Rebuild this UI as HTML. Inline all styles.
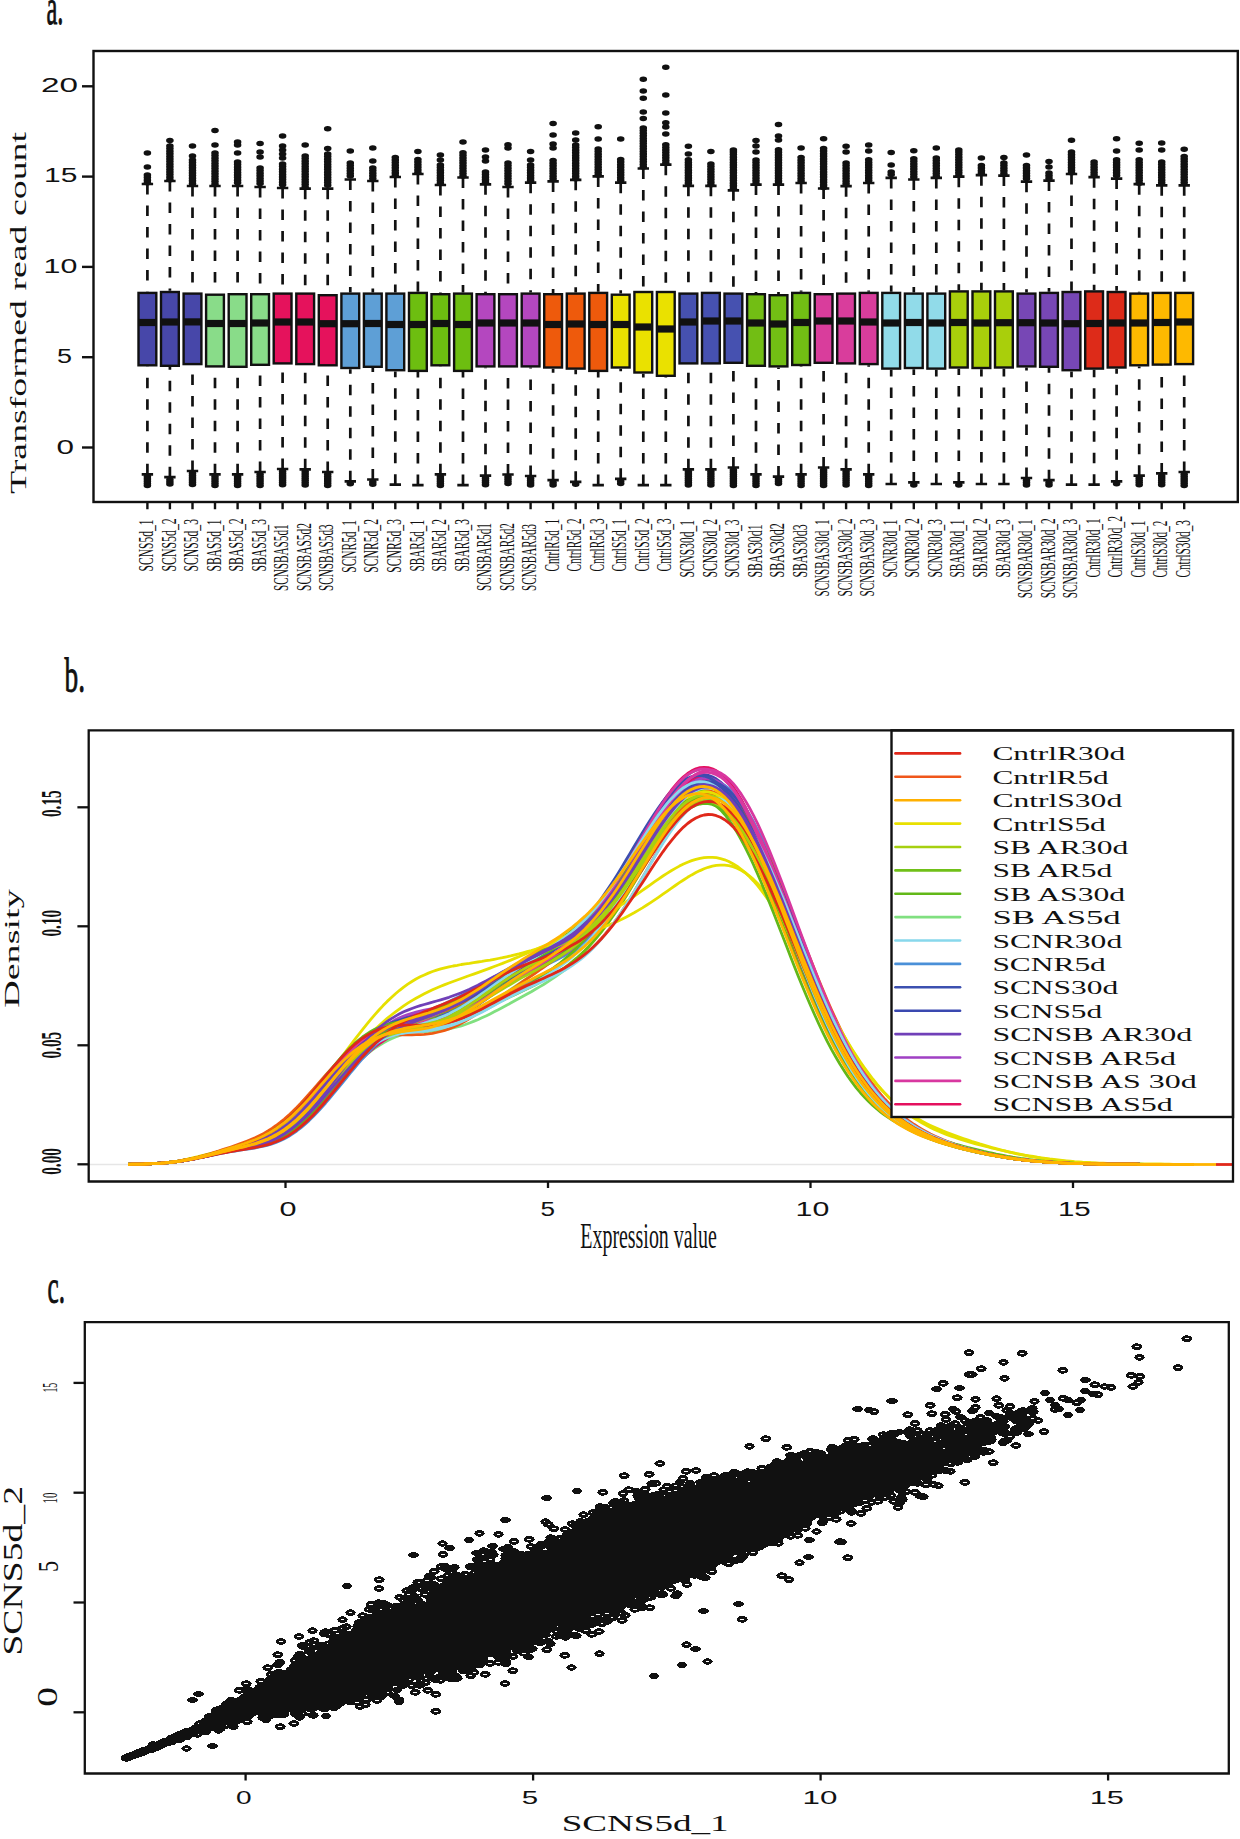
<!DOCTYPE html><html><head><meta charset="utf-8"><style>html,body{margin:0;padding:0;background:#fff;}svg{display:block}.s{font-family:"Liberation Serif",serif;fill:#111}.t{font-family:"Liberation Sans",sans-serif;fill:#111}</style></head><body><svg width="1240" height="1839" viewBox="0 0 1240 1839"><g id="pa"><rect x="93.5" y="51" width="1144.3" height="451" fill="none" stroke="#111" stroke-width="2.4"/><line x1="82" y1="447.5" x2="93.5" y2="447.5" stroke="#111" stroke-width="2.4"/><line x1="82" y1="357.2" x2="93.5" y2="357.2" stroke="#111" stroke-width="2.4"/><line x1="82" y1="266.9" x2="93.5" y2="266.9" stroke="#111" stroke-width="2.4"/><line x1="82" y1="176.6" x2="93.5" y2="176.6" stroke="#111" stroke-width="2.4"/><line x1="82" y1="86.3" x2="93.5" y2="86.3" stroke="#111" stroke-width="2.4"/><path d="M147.4 184V291.7M147.4 474.3V366.5M169.9 181V290.8M169.9 477.2V367M192.5 186V292.4M192.5 471V365.3M215 186V293.5M215 474.3V367.6M237.6 186V293M237.6 474.3V368M260.1 187V293M260.1 472V366M282.6 188V292.4M282.6 469V364.6M305.2 188.7V292.4M305.2 469.3V365.3M327.7 188.7V294M327.7 472V366.5M350.3 179.5V292.4M350.3 481.3V369.2M372.8 181V292.4M372.8 479.5V368M395.3 177V292.4M395.3 484.7V371.4M417.9 174V291.7M417.9 485.1V372.1M440.4 185V293M440.4 474.3V366.5M463 177.5V292.4M463 485.1V372.1M485.5 184.3V293M485.5 475.7V367.6M508 187V293M508 474.5V367.6M530.6 182.7V292.4M530.6 476V367.6M553.1 181.4V293M553.1 480.2V368.7M575.7 179.8V292.4M575.7 481.8V369.8M598.2 176.4V291.7M598.2 485.1V372.1M620.7 182.7V293.5M620.7 478.8V368.7M643.3 168.5V290.8M643.3 485.1V373.7M665.8 164.7V290.8M665.8 485.1V377M688.4 185.8V292.4M688.4 469.3V364.6M710.9 185.8V291.7M710.9 469.3V364.6M733.4 190.3V292.4M733.4 467.5V364M756 184.6V293M756 474.3V367M778.5 184.6V294M778.5 476.6V367.6M801.1 183V291.7M801.1 474.3V366.2M823.6 188.5V293M823.6 467.5V364M846.1 186.2V292.4M846.1 469.3V364.6M868.7 183V291.7M868.7 474.3V365.3M891.2 177.9V291.7M891.2 484V369.8M913.8 179.5V292.4M913.8 482.4V369.2M936.3 177.9V292.4M936.3 484V369.8M958.8 176.7V290.2M958.8 482.4V368.7M981.4 175.2V290.2M981.4 484V369.2M1003.9 175.6V290.2M1003.9 484V368.7M1026.5 181.7V292.4M1026.5 478V367.6M1049 180.6V291.7M1049 480.2V368M1071.5 174V290.8M1071.5 484.7V371.4M1094.1 177.2V290.2M1094.1 484.7V369.8M1116.6 178.6V290.8M1116.6 481.3V368.7M1139.2 184.2V292.4M1139.2 475.7V366.5M1161.7 185.3V291.7M1161.7 473.4V365.8M1184.2 185.3V291.7M1184.2 472V365.3" stroke="#111" stroke-width="2.7" stroke-dasharray="10.5 11" fill="none"/><path d="M141.7 184H153.1M141.7 474.3H153.1M164.2 181H175.6M164.2 477.2H175.6M186.8 186H198.2M186.8 471H198.2M209.3 186H220.7M209.3 474.3H220.7M231.9 186H243.3M231.9 474.3H243.3M254.4 187H265.8M254.4 472H265.8M276.9 188H288.3M276.9 469H288.3M299.5 188.7H310.9M299.5 469.3H310.9M322 188.7H333.4M322 472H333.4M344.6 179.5H356M344.6 481.3H356M367.1 181H378.5M367.1 479.5H378.5M389.6 177H401M389.6 484.7H401M412.2 174H423.6M412.2 485.1H423.6M434.7 185H446.1M434.7 474.3H446.1M457.3 177.5H468.7M457.3 485.1H468.7M479.8 184.3H491.2M479.8 475.7H491.2M502.3 187H513.7M502.3 474.5H513.7M524.9 182.7H536.3M524.9 476H536.3M547.4 181.4H558.8M547.4 480.2H558.8M570 179.8H581.4M570 481.8H581.4M592.5 176.4H603.9M592.5 485.1H603.9M615 182.7H626.4M615 478.8H626.4M637.6 168.5H649M637.6 485.1H649M660.1 164.7H671.5M660.1 485.1H671.5M682.7 185.8H694.1M682.7 469.3H694.1M705.2 185.8H716.6M705.2 469.3H716.6M727.7 190.3H739.1M727.7 467.5H739.1M750.3 184.6H761.7M750.3 474.3H761.7M772.8 184.6H784.2M772.8 476.6H784.2M795.4 183H806.8M795.4 474.3H806.8M817.9 188.5H829.3M817.9 467.5H829.3M840.4 186.2H851.8M840.4 469.3H851.8M863 183H874.4M863 474.3H874.4M885.5 177.9H896.9M885.5 484H896.9M908.1 179.5H919.5M908.1 482.4H919.5M930.6 177.9H942M930.6 484H942M953.1 176.7H964.5M953.1 482.4H964.5M975.7 175.2H987.1M975.7 484H987.1M998.2 175.6H1009.6M998.2 484H1009.6M1020.8 181.7H1032.2M1020.8 478H1032.2M1043.3 180.6H1054.7M1043.3 480.2H1054.7M1065.8 174H1077.2M1065.8 484.7H1077.2M1088.4 177.2H1099.8M1088.4 484.7H1099.8M1110.9 178.6H1122.3M1110.9 481.3H1122.3M1133.5 184.2H1144.9M1133.5 475.7H1144.9M1156 185.3H1167.4M1156 473.4H1167.4M1178.5 185.3H1189.9M1178.5 472H1189.9" stroke="#111" stroke-width="2.7" fill="none"/><path fill="#111" d="M143.6 153a3.8 2.75 0 1 0 7.6 0a3.8 2.75 0 1 0 -7.6 0zM143.6 167a3.8 2.75 0 1 0 7.6 0a3.8 2.75 0 1 0 -7.6 0zM143.6 175a3.8 2.75 0 1 0 7.6 0a3.8 2.75 0 1 0 -7.6 0zM143.6 177.6a3.8 2.75 0 1 0 7.6 0a3.8 2.75 0 1 0 -7.6 0zM143.6 180.2a3.8 2.75 0 1 0 7.6 0a3.8 2.75 0 1 0 -7.6 0zM143.6 182.8a3.8 2.75 0 1 0 7.6 0a3.8 2.75 0 1 0 -7.6 0zM143.6 476.8a3.8 2.75 0 1 0 7.6 0a3.8 2.75 0 1 0 -7.6 0zM143.6 479a3.8 2.75 0 1 0 7.6 0a3.8 2.75 0 1 0 -7.6 0zM143.6 481.2a3.8 2.75 0 1 0 7.6 0a3.8 2.75 0 1 0 -7.6 0zM143.6 483.4a3.8 2.75 0 1 0 7.6 0a3.8 2.75 0 1 0 -7.6 0zM143.6 485.6a3.8 2.75 0 1 0 7.6 0a3.8 2.75 0 1 0 -7.6 0zM166.1 140.6a3.8 2.75 0 1 0 7.6 0a3.8 2.75 0 1 0 -7.6 0zM166.1 146a3.8 2.75 0 1 0 7.6 0a3.8 2.75 0 1 0 -7.6 0zM166.1 148.6a3.8 2.75 0 1 0 7.6 0a3.8 2.75 0 1 0 -7.6 0zM166.1 151.2a3.8 2.75 0 1 0 7.6 0a3.8 2.75 0 1 0 -7.6 0zM166.1 153.8a3.8 2.75 0 1 0 7.6 0a3.8 2.75 0 1 0 -7.6 0zM166.1 156.4a3.8 2.75 0 1 0 7.6 0a3.8 2.75 0 1 0 -7.6 0zM166.1 159a3.8 2.75 0 1 0 7.6 0a3.8 2.75 0 1 0 -7.6 0zM166.1 161.6a3.8 2.75 0 1 0 7.6 0a3.8 2.75 0 1 0 -7.6 0zM166.1 164.2a3.8 2.75 0 1 0 7.6 0a3.8 2.75 0 1 0 -7.6 0zM166.1 166.8a3.8 2.75 0 1 0 7.6 0a3.8 2.75 0 1 0 -7.6 0zM166.1 169.4a3.8 2.75 0 1 0 7.6 0a3.8 2.75 0 1 0 -7.6 0zM166.1 172a3.8 2.75 0 1 0 7.6 0a3.8 2.75 0 1 0 -7.6 0zM166.1 174.6a3.8 2.75 0 1 0 7.6 0a3.8 2.75 0 1 0 -7.6 0zM166.1 177.2a3.8 2.75 0 1 0 7.6 0a3.8 2.75 0 1 0 -7.6 0zM166.1 179.8a3.8 2.75 0 1 0 7.6 0a3.8 2.75 0 1 0 -7.6 0zM166.1 479.7a3.8 2.75 0 1 0 7.6 0a3.8 2.75 0 1 0 -7.6 0zM166.1 481.9a3.8 2.75 0 1 0 7.6 0a3.8 2.75 0 1 0 -7.6 0zM166.1 484.1a3.8 2.75 0 1 0 7.6 0a3.8 2.75 0 1 0 -7.6 0zM188.7 146a3.8 2.75 0 1 0 7.6 0a3.8 2.75 0 1 0 -7.6 0zM188.7 156a3.8 2.75 0 1 0 7.6 0a3.8 2.75 0 1 0 -7.6 0zM188.7 160a3.8 2.75 0 1 0 7.6 0a3.8 2.75 0 1 0 -7.6 0zM188.7 162.6a3.8 2.75 0 1 0 7.6 0a3.8 2.75 0 1 0 -7.6 0zM188.7 165.2a3.8 2.75 0 1 0 7.6 0a3.8 2.75 0 1 0 -7.6 0zM188.7 167.8a3.8 2.75 0 1 0 7.6 0a3.8 2.75 0 1 0 -7.6 0zM188.7 170.4a3.8 2.75 0 1 0 7.6 0a3.8 2.75 0 1 0 -7.6 0zM188.7 173a3.8 2.75 0 1 0 7.6 0a3.8 2.75 0 1 0 -7.6 0zM188.7 175.6a3.8 2.75 0 1 0 7.6 0a3.8 2.75 0 1 0 -7.6 0zM188.7 178.2a3.8 2.75 0 1 0 7.6 0a3.8 2.75 0 1 0 -7.6 0zM188.7 180.8a3.8 2.75 0 1 0 7.6 0a3.8 2.75 0 1 0 -7.6 0zM188.7 183.4a3.8 2.75 0 1 0 7.6 0a3.8 2.75 0 1 0 -7.6 0zM188.7 473.5a3.8 2.75 0 1 0 7.6 0a3.8 2.75 0 1 0 -7.6 0zM188.7 475.7a3.8 2.75 0 1 0 7.6 0a3.8 2.75 0 1 0 -7.6 0zM188.7 477.9a3.8 2.75 0 1 0 7.6 0a3.8 2.75 0 1 0 -7.6 0zM188.7 480.1a3.8 2.75 0 1 0 7.6 0a3.8 2.75 0 1 0 -7.6 0zM188.7 482.3a3.8 2.75 0 1 0 7.6 0a3.8 2.75 0 1 0 -7.6 0zM188.7 484.5a3.8 2.75 0 1 0 7.6 0a3.8 2.75 0 1 0 -7.6 0zM211.2 130.5a3.8 2.75 0 1 0 7.6 0a3.8 2.75 0 1 0 -7.6 0zM211.2 145a3.8 2.75 0 1 0 7.6 0a3.8 2.75 0 1 0 -7.6 0zM211.2 153a3.8 2.75 0 1 0 7.6 0a3.8 2.75 0 1 0 -7.6 0zM211.2 155.6a3.8 2.75 0 1 0 7.6 0a3.8 2.75 0 1 0 -7.6 0zM211.2 158.2a3.8 2.75 0 1 0 7.6 0a3.8 2.75 0 1 0 -7.6 0zM211.2 160.8a3.8 2.75 0 1 0 7.6 0a3.8 2.75 0 1 0 -7.6 0zM211.2 163.4a3.8 2.75 0 1 0 7.6 0a3.8 2.75 0 1 0 -7.6 0zM211.2 166a3.8 2.75 0 1 0 7.6 0a3.8 2.75 0 1 0 -7.6 0zM211.2 168.6a3.8 2.75 0 1 0 7.6 0a3.8 2.75 0 1 0 -7.6 0zM211.2 171.2a3.8 2.75 0 1 0 7.6 0a3.8 2.75 0 1 0 -7.6 0zM211.2 173.8a3.8 2.75 0 1 0 7.6 0a3.8 2.75 0 1 0 -7.6 0zM211.2 176.4a3.8 2.75 0 1 0 7.6 0a3.8 2.75 0 1 0 -7.6 0zM211.2 179a3.8 2.75 0 1 0 7.6 0a3.8 2.75 0 1 0 -7.6 0zM211.2 181.6a3.8 2.75 0 1 0 7.6 0a3.8 2.75 0 1 0 -7.6 0zM211.2 184.2a3.8 2.75 0 1 0 7.6 0a3.8 2.75 0 1 0 -7.6 0zM211.2 476.8a3.8 2.75 0 1 0 7.6 0a3.8 2.75 0 1 0 -7.6 0zM211.2 479a3.8 2.75 0 1 0 7.6 0a3.8 2.75 0 1 0 -7.6 0zM211.2 481.2a3.8 2.75 0 1 0 7.6 0a3.8 2.75 0 1 0 -7.6 0zM211.2 483.4a3.8 2.75 0 1 0 7.6 0a3.8 2.75 0 1 0 -7.6 0zM211.2 485.6a3.8 2.75 0 1 0 7.6 0a3.8 2.75 0 1 0 -7.6 0zM233.8 142a3.8 2.75 0 1 0 7.6 0a3.8 2.75 0 1 0 -7.6 0zM233.8 145a3.8 2.75 0 1 0 7.6 0a3.8 2.75 0 1 0 -7.6 0zM233.8 153a3.8 2.75 0 1 0 7.6 0a3.8 2.75 0 1 0 -7.6 0zM233.8 162a3.8 2.75 0 1 0 7.6 0a3.8 2.75 0 1 0 -7.6 0zM233.8 164.6a3.8 2.75 0 1 0 7.6 0a3.8 2.75 0 1 0 -7.6 0zM233.8 167.2a3.8 2.75 0 1 0 7.6 0a3.8 2.75 0 1 0 -7.6 0zM233.8 169.8a3.8 2.75 0 1 0 7.6 0a3.8 2.75 0 1 0 -7.6 0zM233.8 172.4a3.8 2.75 0 1 0 7.6 0a3.8 2.75 0 1 0 -7.6 0zM233.8 175a3.8 2.75 0 1 0 7.6 0a3.8 2.75 0 1 0 -7.6 0zM233.8 177.6a3.8 2.75 0 1 0 7.6 0a3.8 2.75 0 1 0 -7.6 0zM233.8 180.2a3.8 2.75 0 1 0 7.6 0a3.8 2.75 0 1 0 -7.6 0zM233.8 182.8a3.8 2.75 0 1 0 7.6 0a3.8 2.75 0 1 0 -7.6 0zM233.8 476.8a3.8 2.75 0 1 0 7.6 0a3.8 2.75 0 1 0 -7.6 0zM233.8 479a3.8 2.75 0 1 0 7.6 0a3.8 2.75 0 1 0 -7.6 0zM233.8 481.2a3.8 2.75 0 1 0 7.6 0a3.8 2.75 0 1 0 -7.6 0zM233.8 483.4a3.8 2.75 0 1 0 7.6 0a3.8 2.75 0 1 0 -7.6 0zM233.8 485.6a3.8 2.75 0 1 0 7.6 0a3.8 2.75 0 1 0 -7.6 0zM256.3 143.6a3.8 2.75 0 1 0 7.6 0a3.8 2.75 0 1 0 -7.6 0zM256.3 152a3.8 2.75 0 1 0 7.6 0a3.8 2.75 0 1 0 -7.6 0zM256.3 157a3.8 2.75 0 1 0 7.6 0a3.8 2.75 0 1 0 -7.6 0zM256.3 168a3.8 2.75 0 1 0 7.6 0a3.8 2.75 0 1 0 -7.6 0zM256.3 170.6a3.8 2.75 0 1 0 7.6 0a3.8 2.75 0 1 0 -7.6 0zM256.3 173.2a3.8 2.75 0 1 0 7.6 0a3.8 2.75 0 1 0 -7.6 0zM256.3 175.8a3.8 2.75 0 1 0 7.6 0a3.8 2.75 0 1 0 -7.6 0zM256.3 178.4a3.8 2.75 0 1 0 7.6 0a3.8 2.75 0 1 0 -7.6 0zM256.3 181a3.8 2.75 0 1 0 7.6 0a3.8 2.75 0 1 0 -7.6 0zM256.3 183.6a3.8 2.75 0 1 0 7.6 0a3.8 2.75 0 1 0 -7.6 0zM256.3 474.5a3.8 2.75 0 1 0 7.6 0a3.8 2.75 0 1 0 -7.6 0zM256.3 476.7a3.8 2.75 0 1 0 7.6 0a3.8 2.75 0 1 0 -7.6 0zM256.3 478.9a3.8 2.75 0 1 0 7.6 0a3.8 2.75 0 1 0 -7.6 0zM256.3 481.1a3.8 2.75 0 1 0 7.6 0a3.8 2.75 0 1 0 -7.6 0zM256.3 483.3a3.8 2.75 0 1 0 7.6 0a3.8 2.75 0 1 0 -7.6 0zM256.3 485.5a3.8 2.75 0 1 0 7.6 0a3.8 2.75 0 1 0 -7.6 0zM278.8 136a3.8 2.75 0 1 0 7.6 0a3.8 2.75 0 1 0 -7.6 0zM278.8 146a3.8 2.75 0 1 0 7.6 0a3.8 2.75 0 1 0 -7.6 0zM278.8 150a3.8 2.75 0 1 0 7.6 0a3.8 2.75 0 1 0 -7.6 0zM278.8 154a3.8 2.75 0 1 0 7.6 0a3.8 2.75 0 1 0 -7.6 0zM278.8 158a3.8 2.75 0 1 0 7.6 0a3.8 2.75 0 1 0 -7.6 0zM278.8 164a3.8 2.75 0 1 0 7.6 0a3.8 2.75 0 1 0 -7.6 0zM278.8 166.6a3.8 2.75 0 1 0 7.6 0a3.8 2.75 0 1 0 -7.6 0zM278.8 169.2a3.8 2.75 0 1 0 7.6 0a3.8 2.75 0 1 0 -7.6 0zM278.8 171.8a3.8 2.75 0 1 0 7.6 0a3.8 2.75 0 1 0 -7.6 0zM278.8 174.4a3.8 2.75 0 1 0 7.6 0a3.8 2.75 0 1 0 -7.6 0zM278.8 177a3.8 2.75 0 1 0 7.6 0a3.8 2.75 0 1 0 -7.6 0zM278.8 179.6a3.8 2.75 0 1 0 7.6 0a3.8 2.75 0 1 0 -7.6 0zM278.8 182.2a3.8 2.75 0 1 0 7.6 0a3.8 2.75 0 1 0 -7.6 0zM278.8 184.8a3.8 2.75 0 1 0 7.6 0a3.8 2.75 0 1 0 -7.6 0zM278.8 471.5a3.8 2.75 0 1 0 7.6 0a3.8 2.75 0 1 0 -7.6 0zM278.8 473.7a3.8 2.75 0 1 0 7.6 0a3.8 2.75 0 1 0 -7.6 0zM278.8 475.9a3.8 2.75 0 1 0 7.6 0a3.8 2.75 0 1 0 -7.6 0zM278.8 478.1a3.8 2.75 0 1 0 7.6 0a3.8 2.75 0 1 0 -7.6 0zM278.8 480.3a3.8 2.75 0 1 0 7.6 0a3.8 2.75 0 1 0 -7.6 0zM278.8 482.5a3.8 2.75 0 1 0 7.6 0a3.8 2.75 0 1 0 -7.6 0zM278.8 484.7a3.8 2.75 0 1 0 7.6 0a3.8 2.75 0 1 0 -7.6 0zM301.4 145a3.8 2.75 0 1 0 7.6 0a3.8 2.75 0 1 0 -7.6 0zM301.4 156a3.8 2.75 0 1 0 7.6 0a3.8 2.75 0 1 0 -7.6 0zM301.4 158.6a3.8 2.75 0 1 0 7.6 0a3.8 2.75 0 1 0 -7.6 0zM301.4 161.2a3.8 2.75 0 1 0 7.6 0a3.8 2.75 0 1 0 -7.6 0zM301.4 163.8a3.8 2.75 0 1 0 7.6 0a3.8 2.75 0 1 0 -7.6 0zM301.4 166.4a3.8 2.75 0 1 0 7.6 0a3.8 2.75 0 1 0 -7.6 0zM301.4 169a3.8 2.75 0 1 0 7.6 0a3.8 2.75 0 1 0 -7.6 0zM301.4 171.6a3.8 2.75 0 1 0 7.6 0a3.8 2.75 0 1 0 -7.6 0zM301.4 174.2a3.8 2.75 0 1 0 7.6 0a3.8 2.75 0 1 0 -7.6 0zM301.4 176.8a3.8 2.75 0 1 0 7.6 0a3.8 2.75 0 1 0 -7.6 0zM301.4 179.4a3.8 2.75 0 1 0 7.6 0a3.8 2.75 0 1 0 -7.6 0zM301.4 182a3.8 2.75 0 1 0 7.6 0a3.8 2.75 0 1 0 -7.6 0zM301.4 184.6a3.8 2.75 0 1 0 7.6 0a3.8 2.75 0 1 0 -7.6 0zM301.4 187.2a3.8 2.75 0 1 0 7.6 0a3.8 2.75 0 1 0 -7.6 0zM301.4 471.8a3.8 2.75 0 1 0 7.6 0a3.8 2.75 0 1 0 -7.6 0zM301.4 474a3.8 2.75 0 1 0 7.6 0a3.8 2.75 0 1 0 -7.6 0zM301.4 476.2a3.8 2.75 0 1 0 7.6 0a3.8 2.75 0 1 0 -7.6 0zM301.4 478.4a3.8 2.75 0 1 0 7.6 0a3.8 2.75 0 1 0 -7.6 0zM301.4 480.6a3.8 2.75 0 1 0 7.6 0a3.8 2.75 0 1 0 -7.6 0zM301.4 482.8a3.8 2.75 0 1 0 7.6 0a3.8 2.75 0 1 0 -7.6 0zM301.4 485a3.8 2.75 0 1 0 7.6 0a3.8 2.75 0 1 0 -7.6 0zM323.9 128.7a3.8 2.75 0 1 0 7.6 0a3.8 2.75 0 1 0 -7.6 0zM323.9 148.5a3.8 2.75 0 1 0 7.6 0a3.8 2.75 0 1 0 -7.6 0zM323.9 154a3.8 2.75 0 1 0 7.6 0a3.8 2.75 0 1 0 -7.6 0zM323.9 156.6a3.8 2.75 0 1 0 7.6 0a3.8 2.75 0 1 0 -7.6 0zM323.9 159.2a3.8 2.75 0 1 0 7.6 0a3.8 2.75 0 1 0 -7.6 0zM323.9 161.8a3.8 2.75 0 1 0 7.6 0a3.8 2.75 0 1 0 -7.6 0zM323.9 164.4a3.8 2.75 0 1 0 7.6 0a3.8 2.75 0 1 0 -7.6 0zM323.9 167a3.8 2.75 0 1 0 7.6 0a3.8 2.75 0 1 0 -7.6 0zM323.9 169.6a3.8 2.75 0 1 0 7.6 0a3.8 2.75 0 1 0 -7.6 0zM323.9 172.2a3.8 2.75 0 1 0 7.6 0a3.8 2.75 0 1 0 -7.6 0zM323.9 174.8a3.8 2.75 0 1 0 7.6 0a3.8 2.75 0 1 0 -7.6 0zM323.9 177.4a3.8 2.75 0 1 0 7.6 0a3.8 2.75 0 1 0 -7.6 0zM323.9 180a3.8 2.75 0 1 0 7.6 0a3.8 2.75 0 1 0 -7.6 0zM323.9 182.6a3.8 2.75 0 1 0 7.6 0a3.8 2.75 0 1 0 -7.6 0zM323.9 185.2a3.8 2.75 0 1 0 7.6 0a3.8 2.75 0 1 0 -7.6 0zM323.9 474.5a3.8 2.75 0 1 0 7.6 0a3.8 2.75 0 1 0 -7.6 0zM323.9 476.7a3.8 2.75 0 1 0 7.6 0a3.8 2.75 0 1 0 -7.6 0zM323.9 478.9a3.8 2.75 0 1 0 7.6 0a3.8 2.75 0 1 0 -7.6 0zM323.9 481.1a3.8 2.75 0 1 0 7.6 0a3.8 2.75 0 1 0 -7.6 0zM323.9 483.3a3.8 2.75 0 1 0 7.6 0a3.8 2.75 0 1 0 -7.6 0zM323.9 485.5a3.8 2.75 0 1 0 7.6 0a3.8 2.75 0 1 0 -7.6 0zM346.5 151a3.8 2.75 0 1 0 7.6 0a3.8 2.75 0 1 0 -7.6 0zM346.5 163a3.8 2.75 0 1 0 7.6 0a3.8 2.75 0 1 0 -7.6 0zM346.5 165.6a3.8 2.75 0 1 0 7.6 0a3.8 2.75 0 1 0 -7.6 0zM346.5 168.2a3.8 2.75 0 1 0 7.6 0a3.8 2.75 0 1 0 -7.6 0zM346.5 170.8a3.8 2.75 0 1 0 7.6 0a3.8 2.75 0 1 0 -7.6 0zM346.5 173.4a3.8 2.75 0 1 0 7.6 0a3.8 2.75 0 1 0 -7.6 0zM346.5 176a3.8 2.75 0 1 0 7.6 0a3.8 2.75 0 1 0 -7.6 0zM346.5 483.8a3.8 2.75 0 1 0 7.6 0a3.8 2.75 0 1 0 -7.6 0zM369 148a3.8 2.75 0 1 0 7.6 0a3.8 2.75 0 1 0 -7.6 0zM369 161a3.8 2.75 0 1 0 7.6 0a3.8 2.75 0 1 0 -7.6 0zM369 168a3.8 2.75 0 1 0 7.6 0a3.8 2.75 0 1 0 -7.6 0zM369 170.6a3.8 2.75 0 1 0 7.6 0a3.8 2.75 0 1 0 -7.6 0zM369 173.2a3.8 2.75 0 1 0 7.6 0a3.8 2.75 0 1 0 -7.6 0zM369 175.8a3.8 2.75 0 1 0 7.6 0a3.8 2.75 0 1 0 -7.6 0zM369 178.4a3.8 2.75 0 1 0 7.6 0a3.8 2.75 0 1 0 -7.6 0zM369 482a3.8 2.75 0 1 0 7.6 0a3.8 2.75 0 1 0 -7.6 0zM369 484.2a3.8 2.75 0 1 0 7.6 0a3.8 2.75 0 1 0 -7.6 0zM391.5 157.6a3.8 2.75 0 1 0 7.6 0a3.8 2.75 0 1 0 -7.6 0zM391.5 160a3.8 2.75 0 1 0 7.6 0a3.8 2.75 0 1 0 -7.6 0zM391.5 162.6a3.8 2.75 0 1 0 7.6 0a3.8 2.75 0 1 0 -7.6 0zM391.5 165.2a3.8 2.75 0 1 0 7.6 0a3.8 2.75 0 1 0 -7.6 0zM391.5 167.8a3.8 2.75 0 1 0 7.6 0a3.8 2.75 0 1 0 -7.6 0zM391.5 170.4a3.8 2.75 0 1 0 7.6 0a3.8 2.75 0 1 0 -7.6 0zM391.5 173a3.8 2.75 0 1 0 7.6 0a3.8 2.75 0 1 0 -7.6 0zM391.5 175.6a3.8 2.75 0 1 0 7.6 0a3.8 2.75 0 1 0 -7.6 0zM414.1 151.6a3.8 2.75 0 1 0 7.6 0a3.8 2.75 0 1 0 -7.6 0zM414.1 159.5a3.8 2.75 0 1 0 7.6 0a3.8 2.75 0 1 0 -7.6 0zM414.1 162.1a3.8 2.75 0 1 0 7.6 0a3.8 2.75 0 1 0 -7.6 0zM414.1 164.7a3.8 2.75 0 1 0 7.6 0a3.8 2.75 0 1 0 -7.6 0zM414.1 167.3a3.8 2.75 0 1 0 7.6 0a3.8 2.75 0 1 0 -7.6 0zM414.1 169.9a3.8 2.75 0 1 0 7.6 0a3.8 2.75 0 1 0 -7.6 0zM414.1 172.5a3.8 2.75 0 1 0 7.6 0a3.8 2.75 0 1 0 -7.6 0zM436.6 155a3.8 2.75 0 1 0 7.6 0a3.8 2.75 0 1 0 -7.6 0zM436.6 160a3.8 2.75 0 1 0 7.6 0a3.8 2.75 0 1 0 -7.6 0zM436.6 165a3.8 2.75 0 1 0 7.6 0a3.8 2.75 0 1 0 -7.6 0zM436.6 167.6a3.8 2.75 0 1 0 7.6 0a3.8 2.75 0 1 0 -7.6 0zM436.6 170.2a3.8 2.75 0 1 0 7.6 0a3.8 2.75 0 1 0 -7.6 0zM436.6 172.8a3.8 2.75 0 1 0 7.6 0a3.8 2.75 0 1 0 -7.6 0zM436.6 175.4a3.8 2.75 0 1 0 7.6 0a3.8 2.75 0 1 0 -7.6 0zM436.6 178a3.8 2.75 0 1 0 7.6 0a3.8 2.75 0 1 0 -7.6 0zM436.6 180.6a3.8 2.75 0 1 0 7.6 0a3.8 2.75 0 1 0 -7.6 0zM436.6 183.2a3.8 2.75 0 1 0 7.6 0a3.8 2.75 0 1 0 -7.6 0zM436.6 476.8a3.8 2.75 0 1 0 7.6 0a3.8 2.75 0 1 0 -7.6 0zM436.6 479a3.8 2.75 0 1 0 7.6 0a3.8 2.75 0 1 0 -7.6 0zM436.6 481.2a3.8 2.75 0 1 0 7.6 0a3.8 2.75 0 1 0 -7.6 0zM436.6 483.4a3.8 2.75 0 1 0 7.6 0a3.8 2.75 0 1 0 -7.6 0zM436.6 485.6a3.8 2.75 0 1 0 7.6 0a3.8 2.75 0 1 0 -7.6 0zM459.2 142a3.8 2.75 0 1 0 7.6 0a3.8 2.75 0 1 0 -7.6 0zM459.2 152.7a3.8 2.75 0 1 0 7.6 0a3.8 2.75 0 1 0 -7.6 0zM459.2 155.3a3.8 2.75 0 1 0 7.6 0a3.8 2.75 0 1 0 -7.6 0zM459.2 157.9a3.8 2.75 0 1 0 7.6 0a3.8 2.75 0 1 0 -7.6 0zM459.2 160.5a3.8 2.75 0 1 0 7.6 0a3.8 2.75 0 1 0 -7.6 0zM459.2 163.1a3.8 2.75 0 1 0 7.6 0a3.8 2.75 0 1 0 -7.6 0zM459.2 165.7a3.8 2.75 0 1 0 7.6 0a3.8 2.75 0 1 0 -7.6 0zM459.2 168.3a3.8 2.75 0 1 0 7.6 0a3.8 2.75 0 1 0 -7.6 0zM459.2 170.9a3.8 2.75 0 1 0 7.6 0a3.8 2.75 0 1 0 -7.6 0zM459.2 173.5a3.8 2.75 0 1 0 7.6 0a3.8 2.75 0 1 0 -7.6 0zM459.2 176.1a3.8 2.75 0 1 0 7.6 0a3.8 2.75 0 1 0 -7.6 0zM481.7 150a3.8 2.75 0 1 0 7.6 0a3.8 2.75 0 1 0 -7.6 0zM481.7 157a3.8 2.75 0 1 0 7.6 0a3.8 2.75 0 1 0 -7.6 0zM481.7 161a3.8 2.75 0 1 0 7.6 0a3.8 2.75 0 1 0 -7.6 0zM481.7 172a3.8 2.75 0 1 0 7.6 0a3.8 2.75 0 1 0 -7.6 0zM481.7 174.6a3.8 2.75 0 1 0 7.6 0a3.8 2.75 0 1 0 -7.6 0zM481.7 177.2a3.8 2.75 0 1 0 7.6 0a3.8 2.75 0 1 0 -7.6 0zM481.7 179.8a3.8 2.75 0 1 0 7.6 0a3.8 2.75 0 1 0 -7.6 0zM481.7 182.4a3.8 2.75 0 1 0 7.6 0a3.8 2.75 0 1 0 -7.6 0zM481.7 478.2a3.8 2.75 0 1 0 7.6 0a3.8 2.75 0 1 0 -7.6 0zM481.7 480.4a3.8 2.75 0 1 0 7.6 0a3.8 2.75 0 1 0 -7.6 0zM481.7 482.6a3.8 2.75 0 1 0 7.6 0a3.8 2.75 0 1 0 -7.6 0zM481.7 484.8a3.8 2.75 0 1 0 7.6 0a3.8 2.75 0 1 0 -7.6 0zM504.2 144.8a3.8 2.75 0 1 0 7.6 0a3.8 2.75 0 1 0 -7.6 0zM504.2 148a3.8 2.75 0 1 0 7.6 0a3.8 2.75 0 1 0 -7.6 0zM504.2 163a3.8 2.75 0 1 0 7.6 0a3.8 2.75 0 1 0 -7.6 0zM504.2 165.6a3.8 2.75 0 1 0 7.6 0a3.8 2.75 0 1 0 -7.6 0zM504.2 168.2a3.8 2.75 0 1 0 7.6 0a3.8 2.75 0 1 0 -7.6 0zM504.2 170.8a3.8 2.75 0 1 0 7.6 0a3.8 2.75 0 1 0 -7.6 0zM504.2 173.4a3.8 2.75 0 1 0 7.6 0a3.8 2.75 0 1 0 -7.6 0zM504.2 176a3.8 2.75 0 1 0 7.6 0a3.8 2.75 0 1 0 -7.6 0zM504.2 178.6a3.8 2.75 0 1 0 7.6 0a3.8 2.75 0 1 0 -7.6 0zM504.2 181.2a3.8 2.75 0 1 0 7.6 0a3.8 2.75 0 1 0 -7.6 0zM504.2 183.8a3.8 2.75 0 1 0 7.6 0a3.8 2.75 0 1 0 -7.6 0zM504.2 477a3.8 2.75 0 1 0 7.6 0a3.8 2.75 0 1 0 -7.6 0zM504.2 479.2a3.8 2.75 0 1 0 7.6 0a3.8 2.75 0 1 0 -7.6 0zM504.2 481.4a3.8 2.75 0 1 0 7.6 0a3.8 2.75 0 1 0 -7.6 0zM504.2 483.6a3.8 2.75 0 1 0 7.6 0a3.8 2.75 0 1 0 -7.6 0zM526.8 151.6a3.8 2.75 0 1 0 7.6 0a3.8 2.75 0 1 0 -7.6 0zM526.8 160a3.8 2.75 0 1 0 7.6 0a3.8 2.75 0 1 0 -7.6 0zM526.8 165a3.8 2.75 0 1 0 7.6 0a3.8 2.75 0 1 0 -7.6 0zM526.8 167.6a3.8 2.75 0 1 0 7.6 0a3.8 2.75 0 1 0 -7.6 0zM526.8 170.2a3.8 2.75 0 1 0 7.6 0a3.8 2.75 0 1 0 -7.6 0zM526.8 172.8a3.8 2.75 0 1 0 7.6 0a3.8 2.75 0 1 0 -7.6 0zM526.8 175.4a3.8 2.75 0 1 0 7.6 0a3.8 2.75 0 1 0 -7.6 0zM526.8 178a3.8 2.75 0 1 0 7.6 0a3.8 2.75 0 1 0 -7.6 0zM526.8 180.6a3.8 2.75 0 1 0 7.6 0a3.8 2.75 0 1 0 -7.6 0zM526.8 478.5a3.8 2.75 0 1 0 7.6 0a3.8 2.75 0 1 0 -7.6 0zM526.8 480.7a3.8 2.75 0 1 0 7.6 0a3.8 2.75 0 1 0 -7.6 0zM526.8 482.9a3.8 2.75 0 1 0 7.6 0a3.8 2.75 0 1 0 -7.6 0zM526.8 485.1a3.8 2.75 0 1 0 7.6 0a3.8 2.75 0 1 0 -7.6 0zM549.3 123.4a3.8 2.75 0 1 0 7.6 0a3.8 2.75 0 1 0 -7.6 0zM549.3 135a3.8 2.75 0 1 0 7.6 0a3.8 2.75 0 1 0 -7.6 0zM549.3 144a3.8 2.75 0 1 0 7.6 0a3.8 2.75 0 1 0 -7.6 0zM549.3 148a3.8 2.75 0 1 0 7.6 0a3.8 2.75 0 1 0 -7.6 0zM549.3 160.6a3.8 2.75 0 1 0 7.6 0a3.8 2.75 0 1 0 -7.6 0zM549.3 163.2a3.8 2.75 0 1 0 7.6 0a3.8 2.75 0 1 0 -7.6 0zM549.3 165.8a3.8 2.75 0 1 0 7.6 0a3.8 2.75 0 1 0 -7.6 0zM549.3 168.4a3.8 2.75 0 1 0 7.6 0a3.8 2.75 0 1 0 -7.6 0zM549.3 171a3.8 2.75 0 1 0 7.6 0a3.8 2.75 0 1 0 -7.6 0zM549.3 173.6a3.8 2.75 0 1 0 7.6 0a3.8 2.75 0 1 0 -7.6 0zM549.3 176.2a3.8 2.75 0 1 0 7.6 0a3.8 2.75 0 1 0 -7.6 0zM549.3 178.8a3.8 2.75 0 1 0 7.6 0a3.8 2.75 0 1 0 -7.6 0zM549.3 482.7a3.8 2.75 0 1 0 7.6 0a3.8 2.75 0 1 0 -7.6 0zM549.3 484.9a3.8 2.75 0 1 0 7.6 0a3.8 2.75 0 1 0 -7.6 0zM571.9 133a3.8 2.75 0 1 0 7.6 0a3.8 2.75 0 1 0 -7.6 0zM571.9 140a3.8 2.75 0 1 0 7.6 0a3.8 2.75 0 1 0 -7.6 0zM571.9 145a3.8 2.75 0 1 0 7.6 0a3.8 2.75 0 1 0 -7.6 0zM571.9 147.6a3.8 2.75 0 1 0 7.6 0a3.8 2.75 0 1 0 -7.6 0zM571.9 150.2a3.8 2.75 0 1 0 7.6 0a3.8 2.75 0 1 0 -7.6 0zM571.9 152.8a3.8 2.75 0 1 0 7.6 0a3.8 2.75 0 1 0 -7.6 0zM571.9 155.4a3.8 2.75 0 1 0 7.6 0a3.8 2.75 0 1 0 -7.6 0zM571.9 158a3.8 2.75 0 1 0 7.6 0a3.8 2.75 0 1 0 -7.6 0zM571.9 160.6a3.8 2.75 0 1 0 7.6 0a3.8 2.75 0 1 0 -7.6 0zM571.9 163.2a3.8 2.75 0 1 0 7.6 0a3.8 2.75 0 1 0 -7.6 0zM571.9 165.8a3.8 2.75 0 1 0 7.6 0a3.8 2.75 0 1 0 -7.6 0zM571.9 168.4a3.8 2.75 0 1 0 7.6 0a3.8 2.75 0 1 0 -7.6 0zM571.9 171a3.8 2.75 0 1 0 7.6 0a3.8 2.75 0 1 0 -7.6 0zM571.9 173.6a3.8 2.75 0 1 0 7.6 0a3.8 2.75 0 1 0 -7.6 0zM571.9 176.2a3.8 2.75 0 1 0 7.6 0a3.8 2.75 0 1 0 -7.6 0zM571.9 178.8a3.8 2.75 0 1 0 7.6 0a3.8 2.75 0 1 0 -7.6 0zM571.9 484.3a3.8 2.75 0 1 0 7.6 0a3.8 2.75 0 1 0 -7.6 0zM594.4 126.7a3.8 2.75 0 1 0 7.6 0a3.8 2.75 0 1 0 -7.6 0zM594.4 139a3.8 2.75 0 1 0 7.6 0a3.8 2.75 0 1 0 -7.6 0zM594.4 149a3.8 2.75 0 1 0 7.6 0a3.8 2.75 0 1 0 -7.6 0zM594.4 151.6a3.8 2.75 0 1 0 7.6 0a3.8 2.75 0 1 0 -7.6 0zM594.4 154.2a3.8 2.75 0 1 0 7.6 0a3.8 2.75 0 1 0 -7.6 0zM594.4 156.8a3.8 2.75 0 1 0 7.6 0a3.8 2.75 0 1 0 -7.6 0zM594.4 159.4a3.8 2.75 0 1 0 7.6 0a3.8 2.75 0 1 0 -7.6 0zM594.4 162a3.8 2.75 0 1 0 7.6 0a3.8 2.75 0 1 0 -7.6 0zM594.4 164.6a3.8 2.75 0 1 0 7.6 0a3.8 2.75 0 1 0 -7.6 0zM594.4 167.2a3.8 2.75 0 1 0 7.6 0a3.8 2.75 0 1 0 -7.6 0zM594.4 169.8a3.8 2.75 0 1 0 7.6 0a3.8 2.75 0 1 0 -7.6 0zM594.4 172.4a3.8 2.75 0 1 0 7.6 0a3.8 2.75 0 1 0 -7.6 0zM594.4 175a3.8 2.75 0 1 0 7.6 0a3.8 2.75 0 1 0 -7.6 0zM616.9 139a3.8 2.75 0 1 0 7.6 0a3.8 2.75 0 1 0 -7.6 0zM616.9 159.5a3.8 2.75 0 1 0 7.6 0a3.8 2.75 0 1 0 -7.6 0zM616.9 162.1a3.8 2.75 0 1 0 7.6 0a3.8 2.75 0 1 0 -7.6 0zM616.9 164.7a3.8 2.75 0 1 0 7.6 0a3.8 2.75 0 1 0 -7.6 0zM616.9 167.3a3.8 2.75 0 1 0 7.6 0a3.8 2.75 0 1 0 -7.6 0zM616.9 169.9a3.8 2.75 0 1 0 7.6 0a3.8 2.75 0 1 0 -7.6 0zM616.9 172.5a3.8 2.75 0 1 0 7.6 0a3.8 2.75 0 1 0 -7.6 0zM616.9 175.1a3.8 2.75 0 1 0 7.6 0a3.8 2.75 0 1 0 -7.6 0zM616.9 177.7a3.8 2.75 0 1 0 7.6 0a3.8 2.75 0 1 0 -7.6 0zM616.9 180.3a3.8 2.75 0 1 0 7.6 0a3.8 2.75 0 1 0 -7.6 0zM616.9 481.3a3.8 2.75 0 1 0 7.6 0a3.8 2.75 0 1 0 -7.6 0zM616.9 483.5a3.8 2.75 0 1 0 7.6 0a3.8 2.75 0 1 0 -7.6 0zM639.5 79.3a3.8 2.75 0 1 0 7.6 0a3.8 2.75 0 1 0 -7.6 0zM639.5 91a3.8 2.75 0 1 0 7.6 0a3.8 2.75 0 1 0 -7.6 0zM639.5 98.3a3.8 2.75 0 1 0 7.6 0a3.8 2.75 0 1 0 -7.6 0zM639.5 112.1a3.8 2.75 0 1 0 7.6 0a3.8 2.75 0 1 0 -7.6 0zM639.5 118.4a3.8 2.75 0 1 0 7.6 0a3.8 2.75 0 1 0 -7.6 0zM639.5 128a3.8 2.75 0 1 0 7.6 0a3.8 2.75 0 1 0 -7.6 0zM639.5 130.6a3.8 2.75 0 1 0 7.6 0a3.8 2.75 0 1 0 -7.6 0zM639.5 133.2a3.8 2.75 0 1 0 7.6 0a3.8 2.75 0 1 0 -7.6 0zM639.5 135.8a3.8 2.75 0 1 0 7.6 0a3.8 2.75 0 1 0 -7.6 0zM639.5 138.4a3.8 2.75 0 1 0 7.6 0a3.8 2.75 0 1 0 -7.6 0zM639.5 141a3.8 2.75 0 1 0 7.6 0a3.8 2.75 0 1 0 -7.6 0zM639.5 143.6a3.8 2.75 0 1 0 7.6 0a3.8 2.75 0 1 0 -7.6 0zM639.5 146.2a3.8 2.75 0 1 0 7.6 0a3.8 2.75 0 1 0 -7.6 0zM639.5 148.8a3.8 2.75 0 1 0 7.6 0a3.8 2.75 0 1 0 -7.6 0zM639.5 151.4a3.8 2.75 0 1 0 7.6 0a3.8 2.75 0 1 0 -7.6 0zM639.5 154a3.8 2.75 0 1 0 7.6 0a3.8 2.75 0 1 0 -7.6 0zM639.5 156.6a3.8 2.75 0 1 0 7.6 0a3.8 2.75 0 1 0 -7.6 0zM639.5 159.2a3.8 2.75 0 1 0 7.6 0a3.8 2.75 0 1 0 -7.6 0zM639.5 161.8a3.8 2.75 0 1 0 7.6 0a3.8 2.75 0 1 0 -7.6 0zM639.5 164.4a3.8 2.75 0 1 0 7.6 0a3.8 2.75 0 1 0 -7.6 0zM639.5 167a3.8 2.75 0 1 0 7.6 0a3.8 2.75 0 1 0 -7.6 0zM662 67.3a3.8 2.75 0 1 0 7.6 0a3.8 2.75 0 1 0 -7.6 0zM662 94.9a3.8 2.75 0 1 0 7.6 0a3.8 2.75 0 1 0 -7.6 0zM662 113a3.8 2.75 0 1 0 7.6 0a3.8 2.75 0 1 0 -7.6 0zM662 122.7a3.8 2.75 0 1 0 7.6 0a3.8 2.75 0 1 0 -7.6 0zM662 127a3.8 2.75 0 1 0 7.6 0a3.8 2.75 0 1 0 -7.6 0zM662 134a3.8 2.75 0 1 0 7.6 0a3.8 2.75 0 1 0 -7.6 0zM662 144.8a3.8 2.75 0 1 0 7.6 0a3.8 2.75 0 1 0 -7.6 0zM662 147.4a3.8 2.75 0 1 0 7.6 0a3.8 2.75 0 1 0 -7.6 0zM662 150a3.8 2.75 0 1 0 7.6 0a3.8 2.75 0 1 0 -7.6 0zM662 152.6a3.8 2.75 0 1 0 7.6 0a3.8 2.75 0 1 0 -7.6 0zM662 155.2a3.8 2.75 0 1 0 7.6 0a3.8 2.75 0 1 0 -7.6 0zM662 157.8a3.8 2.75 0 1 0 7.6 0a3.8 2.75 0 1 0 -7.6 0zM662 160.4a3.8 2.75 0 1 0 7.6 0a3.8 2.75 0 1 0 -7.6 0zM662 163a3.8 2.75 0 1 0 7.6 0a3.8 2.75 0 1 0 -7.6 0zM684.6 146.3a3.8 2.75 0 1 0 7.6 0a3.8 2.75 0 1 0 -7.6 0zM684.6 154a3.8 2.75 0 1 0 7.6 0a3.8 2.75 0 1 0 -7.6 0zM684.6 159.8a3.8 2.75 0 1 0 7.6 0a3.8 2.75 0 1 0 -7.6 0zM684.6 162.4a3.8 2.75 0 1 0 7.6 0a3.8 2.75 0 1 0 -7.6 0zM684.6 165a3.8 2.75 0 1 0 7.6 0a3.8 2.75 0 1 0 -7.6 0zM684.6 167.6a3.8 2.75 0 1 0 7.6 0a3.8 2.75 0 1 0 -7.6 0zM684.6 170.2a3.8 2.75 0 1 0 7.6 0a3.8 2.75 0 1 0 -7.6 0zM684.6 172.8a3.8 2.75 0 1 0 7.6 0a3.8 2.75 0 1 0 -7.6 0zM684.6 175.4a3.8 2.75 0 1 0 7.6 0a3.8 2.75 0 1 0 -7.6 0zM684.6 178a3.8 2.75 0 1 0 7.6 0a3.8 2.75 0 1 0 -7.6 0zM684.6 180.6a3.8 2.75 0 1 0 7.6 0a3.8 2.75 0 1 0 -7.6 0zM684.6 183.2a3.8 2.75 0 1 0 7.6 0a3.8 2.75 0 1 0 -7.6 0zM684.6 471.8a3.8 2.75 0 1 0 7.6 0a3.8 2.75 0 1 0 -7.6 0zM684.6 474a3.8 2.75 0 1 0 7.6 0a3.8 2.75 0 1 0 -7.6 0zM684.6 476.2a3.8 2.75 0 1 0 7.6 0a3.8 2.75 0 1 0 -7.6 0zM684.6 478.4a3.8 2.75 0 1 0 7.6 0a3.8 2.75 0 1 0 -7.6 0zM684.6 480.6a3.8 2.75 0 1 0 7.6 0a3.8 2.75 0 1 0 -7.6 0zM684.6 482.8a3.8 2.75 0 1 0 7.6 0a3.8 2.75 0 1 0 -7.6 0zM684.6 485a3.8 2.75 0 1 0 7.6 0a3.8 2.75 0 1 0 -7.6 0zM707.1 151.5a3.8 2.75 0 1 0 7.6 0a3.8 2.75 0 1 0 -7.6 0zM707.1 164a3.8 2.75 0 1 0 7.6 0a3.8 2.75 0 1 0 -7.6 0zM707.1 166.6a3.8 2.75 0 1 0 7.6 0a3.8 2.75 0 1 0 -7.6 0zM707.1 169.2a3.8 2.75 0 1 0 7.6 0a3.8 2.75 0 1 0 -7.6 0zM707.1 171.8a3.8 2.75 0 1 0 7.6 0a3.8 2.75 0 1 0 -7.6 0zM707.1 174.4a3.8 2.75 0 1 0 7.6 0a3.8 2.75 0 1 0 -7.6 0zM707.1 177a3.8 2.75 0 1 0 7.6 0a3.8 2.75 0 1 0 -7.6 0zM707.1 179.6a3.8 2.75 0 1 0 7.6 0a3.8 2.75 0 1 0 -7.6 0zM707.1 182.2a3.8 2.75 0 1 0 7.6 0a3.8 2.75 0 1 0 -7.6 0zM707.1 184.8a3.8 2.75 0 1 0 7.6 0a3.8 2.75 0 1 0 -7.6 0zM707.1 471.8a3.8 2.75 0 1 0 7.6 0a3.8 2.75 0 1 0 -7.6 0zM707.1 474a3.8 2.75 0 1 0 7.6 0a3.8 2.75 0 1 0 -7.6 0zM707.1 476.2a3.8 2.75 0 1 0 7.6 0a3.8 2.75 0 1 0 -7.6 0zM707.1 478.4a3.8 2.75 0 1 0 7.6 0a3.8 2.75 0 1 0 -7.6 0zM707.1 480.6a3.8 2.75 0 1 0 7.6 0a3.8 2.75 0 1 0 -7.6 0zM707.1 482.8a3.8 2.75 0 1 0 7.6 0a3.8 2.75 0 1 0 -7.6 0zM707.1 485a3.8 2.75 0 1 0 7.6 0a3.8 2.75 0 1 0 -7.6 0zM729.6 150a3.8 2.75 0 1 0 7.6 0a3.8 2.75 0 1 0 -7.6 0zM729.6 152a3.8 2.75 0 1 0 7.6 0a3.8 2.75 0 1 0 -7.6 0zM729.6 154.6a3.8 2.75 0 1 0 7.6 0a3.8 2.75 0 1 0 -7.6 0zM729.6 157.2a3.8 2.75 0 1 0 7.6 0a3.8 2.75 0 1 0 -7.6 0zM729.6 159.8a3.8 2.75 0 1 0 7.6 0a3.8 2.75 0 1 0 -7.6 0zM729.6 162.4a3.8 2.75 0 1 0 7.6 0a3.8 2.75 0 1 0 -7.6 0zM729.6 165a3.8 2.75 0 1 0 7.6 0a3.8 2.75 0 1 0 -7.6 0zM729.6 167.6a3.8 2.75 0 1 0 7.6 0a3.8 2.75 0 1 0 -7.6 0zM729.6 170.2a3.8 2.75 0 1 0 7.6 0a3.8 2.75 0 1 0 -7.6 0zM729.6 172.8a3.8 2.75 0 1 0 7.6 0a3.8 2.75 0 1 0 -7.6 0zM729.6 175.4a3.8 2.75 0 1 0 7.6 0a3.8 2.75 0 1 0 -7.6 0zM729.6 178a3.8 2.75 0 1 0 7.6 0a3.8 2.75 0 1 0 -7.6 0zM729.6 180.6a3.8 2.75 0 1 0 7.6 0a3.8 2.75 0 1 0 -7.6 0zM729.6 183.2a3.8 2.75 0 1 0 7.6 0a3.8 2.75 0 1 0 -7.6 0zM729.6 185.8a3.8 2.75 0 1 0 7.6 0a3.8 2.75 0 1 0 -7.6 0zM729.6 188.4a3.8 2.75 0 1 0 7.6 0a3.8 2.75 0 1 0 -7.6 0zM729.6 470a3.8 2.75 0 1 0 7.6 0a3.8 2.75 0 1 0 -7.6 0zM729.6 472.2a3.8 2.75 0 1 0 7.6 0a3.8 2.75 0 1 0 -7.6 0zM729.6 474.4a3.8 2.75 0 1 0 7.6 0a3.8 2.75 0 1 0 -7.6 0zM729.6 476.6a3.8 2.75 0 1 0 7.6 0a3.8 2.75 0 1 0 -7.6 0zM729.6 478.8a3.8 2.75 0 1 0 7.6 0a3.8 2.75 0 1 0 -7.6 0zM729.6 481a3.8 2.75 0 1 0 7.6 0a3.8 2.75 0 1 0 -7.6 0zM729.6 483.2a3.8 2.75 0 1 0 7.6 0a3.8 2.75 0 1 0 -7.6 0zM729.6 485.4a3.8 2.75 0 1 0 7.6 0a3.8 2.75 0 1 0 -7.6 0zM752.2 140.6a3.8 2.75 0 1 0 7.6 0a3.8 2.75 0 1 0 -7.6 0zM752.2 146a3.8 2.75 0 1 0 7.6 0a3.8 2.75 0 1 0 -7.6 0zM752.2 152a3.8 2.75 0 1 0 7.6 0a3.8 2.75 0 1 0 -7.6 0zM752.2 160a3.8 2.75 0 1 0 7.6 0a3.8 2.75 0 1 0 -7.6 0zM752.2 162.6a3.8 2.75 0 1 0 7.6 0a3.8 2.75 0 1 0 -7.6 0zM752.2 165.2a3.8 2.75 0 1 0 7.6 0a3.8 2.75 0 1 0 -7.6 0zM752.2 167.8a3.8 2.75 0 1 0 7.6 0a3.8 2.75 0 1 0 -7.6 0zM752.2 170.4a3.8 2.75 0 1 0 7.6 0a3.8 2.75 0 1 0 -7.6 0zM752.2 173a3.8 2.75 0 1 0 7.6 0a3.8 2.75 0 1 0 -7.6 0zM752.2 175.6a3.8 2.75 0 1 0 7.6 0a3.8 2.75 0 1 0 -7.6 0zM752.2 178.2a3.8 2.75 0 1 0 7.6 0a3.8 2.75 0 1 0 -7.6 0zM752.2 180.8a3.8 2.75 0 1 0 7.6 0a3.8 2.75 0 1 0 -7.6 0zM752.2 183.4a3.8 2.75 0 1 0 7.6 0a3.8 2.75 0 1 0 -7.6 0zM752.2 476.8a3.8 2.75 0 1 0 7.6 0a3.8 2.75 0 1 0 -7.6 0zM752.2 479a3.8 2.75 0 1 0 7.6 0a3.8 2.75 0 1 0 -7.6 0zM752.2 481.2a3.8 2.75 0 1 0 7.6 0a3.8 2.75 0 1 0 -7.6 0zM752.2 483.4a3.8 2.75 0 1 0 7.6 0a3.8 2.75 0 1 0 -7.6 0zM752.2 485.6a3.8 2.75 0 1 0 7.6 0a3.8 2.75 0 1 0 -7.6 0zM774.7 124.4a3.8 2.75 0 1 0 7.6 0a3.8 2.75 0 1 0 -7.6 0zM774.7 136a3.8 2.75 0 1 0 7.6 0a3.8 2.75 0 1 0 -7.6 0zM774.7 140a3.8 2.75 0 1 0 7.6 0a3.8 2.75 0 1 0 -7.6 0zM774.7 149.7a3.8 2.75 0 1 0 7.6 0a3.8 2.75 0 1 0 -7.6 0zM774.7 152.3a3.8 2.75 0 1 0 7.6 0a3.8 2.75 0 1 0 -7.6 0zM774.7 154.9a3.8 2.75 0 1 0 7.6 0a3.8 2.75 0 1 0 -7.6 0zM774.7 157.5a3.8 2.75 0 1 0 7.6 0a3.8 2.75 0 1 0 -7.6 0zM774.7 160.1a3.8 2.75 0 1 0 7.6 0a3.8 2.75 0 1 0 -7.6 0zM774.7 162.7a3.8 2.75 0 1 0 7.6 0a3.8 2.75 0 1 0 -7.6 0zM774.7 165.3a3.8 2.75 0 1 0 7.6 0a3.8 2.75 0 1 0 -7.6 0zM774.7 167.9a3.8 2.75 0 1 0 7.6 0a3.8 2.75 0 1 0 -7.6 0zM774.7 170.5a3.8 2.75 0 1 0 7.6 0a3.8 2.75 0 1 0 -7.6 0zM774.7 173.1a3.8 2.75 0 1 0 7.6 0a3.8 2.75 0 1 0 -7.6 0zM774.7 175.7a3.8 2.75 0 1 0 7.6 0a3.8 2.75 0 1 0 -7.6 0zM774.7 178.3a3.8 2.75 0 1 0 7.6 0a3.8 2.75 0 1 0 -7.6 0zM774.7 180.9a3.8 2.75 0 1 0 7.6 0a3.8 2.75 0 1 0 -7.6 0zM774.7 183.5a3.8 2.75 0 1 0 7.6 0a3.8 2.75 0 1 0 -7.6 0zM774.7 479.1a3.8 2.75 0 1 0 7.6 0a3.8 2.75 0 1 0 -7.6 0zM774.7 481.3a3.8 2.75 0 1 0 7.6 0a3.8 2.75 0 1 0 -7.6 0zM774.7 483.5a3.8 2.75 0 1 0 7.6 0a3.8 2.75 0 1 0 -7.6 0zM797.3 147.9a3.8 2.75 0 1 0 7.6 0a3.8 2.75 0 1 0 -7.6 0zM797.3 157.6a3.8 2.75 0 1 0 7.6 0a3.8 2.75 0 1 0 -7.6 0zM797.3 160.2a3.8 2.75 0 1 0 7.6 0a3.8 2.75 0 1 0 -7.6 0zM797.3 162.8a3.8 2.75 0 1 0 7.6 0a3.8 2.75 0 1 0 -7.6 0zM797.3 165.4a3.8 2.75 0 1 0 7.6 0a3.8 2.75 0 1 0 -7.6 0zM797.3 168a3.8 2.75 0 1 0 7.6 0a3.8 2.75 0 1 0 -7.6 0zM797.3 170.6a3.8 2.75 0 1 0 7.6 0a3.8 2.75 0 1 0 -7.6 0zM797.3 173.2a3.8 2.75 0 1 0 7.6 0a3.8 2.75 0 1 0 -7.6 0zM797.3 175.8a3.8 2.75 0 1 0 7.6 0a3.8 2.75 0 1 0 -7.6 0zM797.3 178.4a3.8 2.75 0 1 0 7.6 0a3.8 2.75 0 1 0 -7.6 0zM797.3 181a3.8 2.75 0 1 0 7.6 0a3.8 2.75 0 1 0 -7.6 0zM797.3 476.8a3.8 2.75 0 1 0 7.6 0a3.8 2.75 0 1 0 -7.6 0zM797.3 479a3.8 2.75 0 1 0 7.6 0a3.8 2.75 0 1 0 -7.6 0zM797.3 481.2a3.8 2.75 0 1 0 7.6 0a3.8 2.75 0 1 0 -7.6 0zM797.3 483.4a3.8 2.75 0 1 0 7.6 0a3.8 2.75 0 1 0 -7.6 0zM797.3 485.6a3.8 2.75 0 1 0 7.6 0a3.8 2.75 0 1 0 -7.6 0zM819.8 138.8a3.8 2.75 0 1 0 7.6 0a3.8 2.75 0 1 0 -7.6 0zM819.8 148.5a3.8 2.75 0 1 0 7.6 0a3.8 2.75 0 1 0 -7.6 0zM819.8 151.1a3.8 2.75 0 1 0 7.6 0a3.8 2.75 0 1 0 -7.6 0zM819.8 153.7a3.8 2.75 0 1 0 7.6 0a3.8 2.75 0 1 0 -7.6 0zM819.8 156.3a3.8 2.75 0 1 0 7.6 0a3.8 2.75 0 1 0 -7.6 0zM819.8 158.9a3.8 2.75 0 1 0 7.6 0a3.8 2.75 0 1 0 -7.6 0zM819.8 161.5a3.8 2.75 0 1 0 7.6 0a3.8 2.75 0 1 0 -7.6 0zM819.8 164.1a3.8 2.75 0 1 0 7.6 0a3.8 2.75 0 1 0 -7.6 0zM819.8 166.7a3.8 2.75 0 1 0 7.6 0a3.8 2.75 0 1 0 -7.6 0zM819.8 169.3a3.8 2.75 0 1 0 7.6 0a3.8 2.75 0 1 0 -7.6 0zM819.8 171.9a3.8 2.75 0 1 0 7.6 0a3.8 2.75 0 1 0 -7.6 0zM819.8 174.5a3.8 2.75 0 1 0 7.6 0a3.8 2.75 0 1 0 -7.6 0zM819.8 177.1a3.8 2.75 0 1 0 7.6 0a3.8 2.75 0 1 0 -7.6 0zM819.8 179.7a3.8 2.75 0 1 0 7.6 0a3.8 2.75 0 1 0 -7.6 0zM819.8 182.3a3.8 2.75 0 1 0 7.6 0a3.8 2.75 0 1 0 -7.6 0zM819.8 184.9a3.8 2.75 0 1 0 7.6 0a3.8 2.75 0 1 0 -7.6 0zM819.8 187.5a3.8 2.75 0 1 0 7.6 0a3.8 2.75 0 1 0 -7.6 0zM819.8 470a3.8 2.75 0 1 0 7.6 0a3.8 2.75 0 1 0 -7.6 0zM819.8 472.2a3.8 2.75 0 1 0 7.6 0a3.8 2.75 0 1 0 -7.6 0zM819.8 474.4a3.8 2.75 0 1 0 7.6 0a3.8 2.75 0 1 0 -7.6 0zM819.8 476.6a3.8 2.75 0 1 0 7.6 0a3.8 2.75 0 1 0 -7.6 0zM819.8 478.8a3.8 2.75 0 1 0 7.6 0a3.8 2.75 0 1 0 -7.6 0zM819.8 481a3.8 2.75 0 1 0 7.6 0a3.8 2.75 0 1 0 -7.6 0zM819.8 483.2a3.8 2.75 0 1 0 7.6 0a3.8 2.75 0 1 0 -7.6 0zM819.8 485.4a3.8 2.75 0 1 0 7.6 0a3.8 2.75 0 1 0 -7.6 0zM842.3 146.3a3.8 2.75 0 1 0 7.6 0a3.8 2.75 0 1 0 -7.6 0zM842.3 152a3.8 2.75 0 1 0 7.6 0a3.8 2.75 0 1 0 -7.6 0zM842.3 163a3.8 2.75 0 1 0 7.6 0a3.8 2.75 0 1 0 -7.6 0zM842.3 165.6a3.8 2.75 0 1 0 7.6 0a3.8 2.75 0 1 0 -7.6 0zM842.3 168.2a3.8 2.75 0 1 0 7.6 0a3.8 2.75 0 1 0 -7.6 0zM842.3 170.8a3.8 2.75 0 1 0 7.6 0a3.8 2.75 0 1 0 -7.6 0zM842.3 173.4a3.8 2.75 0 1 0 7.6 0a3.8 2.75 0 1 0 -7.6 0zM842.3 176a3.8 2.75 0 1 0 7.6 0a3.8 2.75 0 1 0 -7.6 0zM842.3 178.6a3.8 2.75 0 1 0 7.6 0a3.8 2.75 0 1 0 -7.6 0zM842.3 181.2a3.8 2.75 0 1 0 7.6 0a3.8 2.75 0 1 0 -7.6 0zM842.3 183.8a3.8 2.75 0 1 0 7.6 0a3.8 2.75 0 1 0 -7.6 0zM842.3 471.8a3.8 2.75 0 1 0 7.6 0a3.8 2.75 0 1 0 -7.6 0zM842.3 474a3.8 2.75 0 1 0 7.6 0a3.8 2.75 0 1 0 -7.6 0zM842.3 476.2a3.8 2.75 0 1 0 7.6 0a3.8 2.75 0 1 0 -7.6 0zM842.3 478.4a3.8 2.75 0 1 0 7.6 0a3.8 2.75 0 1 0 -7.6 0zM842.3 480.6a3.8 2.75 0 1 0 7.6 0a3.8 2.75 0 1 0 -7.6 0zM842.3 482.8a3.8 2.75 0 1 0 7.6 0a3.8 2.75 0 1 0 -7.6 0zM842.3 485a3.8 2.75 0 1 0 7.6 0a3.8 2.75 0 1 0 -7.6 0zM864.9 145a3.8 2.75 0 1 0 7.6 0a3.8 2.75 0 1 0 -7.6 0zM864.9 151a3.8 2.75 0 1 0 7.6 0a3.8 2.75 0 1 0 -7.6 0zM864.9 159.8a3.8 2.75 0 1 0 7.6 0a3.8 2.75 0 1 0 -7.6 0zM864.9 162.4a3.8 2.75 0 1 0 7.6 0a3.8 2.75 0 1 0 -7.6 0zM864.9 165a3.8 2.75 0 1 0 7.6 0a3.8 2.75 0 1 0 -7.6 0zM864.9 167.6a3.8 2.75 0 1 0 7.6 0a3.8 2.75 0 1 0 -7.6 0zM864.9 170.2a3.8 2.75 0 1 0 7.6 0a3.8 2.75 0 1 0 -7.6 0zM864.9 172.8a3.8 2.75 0 1 0 7.6 0a3.8 2.75 0 1 0 -7.6 0zM864.9 175.4a3.8 2.75 0 1 0 7.6 0a3.8 2.75 0 1 0 -7.6 0zM864.9 178a3.8 2.75 0 1 0 7.6 0a3.8 2.75 0 1 0 -7.6 0zM864.9 180.6a3.8 2.75 0 1 0 7.6 0a3.8 2.75 0 1 0 -7.6 0zM864.9 476.8a3.8 2.75 0 1 0 7.6 0a3.8 2.75 0 1 0 -7.6 0zM864.9 479a3.8 2.75 0 1 0 7.6 0a3.8 2.75 0 1 0 -7.6 0zM864.9 481.2a3.8 2.75 0 1 0 7.6 0a3.8 2.75 0 1 0 -7.6 0zM864.9 483.4a3.8 2.75 0 1 0 7.6 0a3.8 2.75 0 1 0 -7.6 0zM864.9 485.6a3.8 2.75 0 1 0 7.6 0a3.8 2.75 0 1 0 -7.6 0zM887.4 152.6a3.8 2.75 0 1 0 7.6 0a3.8 2.75 0 1 0 -7.6 0zM887.4 165a3.8 2.75 0 1 0 7.6 0a3.8 2.75 0 1 0 -7.6 0zM887.4 172a3.8 2.75 0 1 0 7.6 0a3.8 2.75 0 1 0 -7.6 0zM887.4 174.6a3.8 2.75 0 1 0 7.6 0a3.8 2.75 0 1 0 -7.6 0zM910 150.8a3.8 2.75 0 1 0 7.6 0a3.8 2.75 0 1 0 -7.6 0zM910 158.7a3.8 2.75 0 1 0 7.6 0a3.8 2.75 0 1 0 -7.6 0zM910 161.3a3.8 2.75 0 1 0 7.6 0a3.8 2.75 0 1 0 -7.6 0zM910 163.9a3.8 2.75 0 1 0 7.6 0a3.8 2.75 0 1 0 -7.6 0zM910 166.5a3.8 2.75 0 1 0 7.6 0a3.8 2.75 0 1 0 -7.6 0zM910 169.1a3.8 2.75 0 1 0 7.6 0a3.8 2.75 0 1 0 -7.6 0zM910 171.7a3.8 2.75 0 1 0 7.6 0a3.8 2.75 0 1 0 -7.6 0zM910 174.3a3.8 2.75 0 1 0 7.6 0a3.8 2.75 0 1 0 -7.6 0zM910 176.9a3.8 2.75 0 1 0 7.6 0a3.8 2.75 0 1 0 -7.6 0zM910 484.9a3.8 2.75 0 1 0 7.6 0a3.8 2.75 0 1 0 -7.6 0zM932.5 147.9a3.8 2.75 0 1 0 7.6 0a3.8 2.75 0 1 0 -7.6 0zM932.5 158a3.8 2.75 0 1 0 7.6 0a3.8 2.75 0 1 0 -7.6 0zM932.5 160.6a3.8 2.75 0 1 0 7.6 0a3.8 2.75 0 1 0 -7.6 0zM932.5 163.2a3.8 2.75 0 1 0 7.6 0a3.8 2.75 0 1 0 -7.6 0zM932.5 165.8a3.8 2.75 0 1 0 7.6 0a3.8 2.75 0 1 0 -7.6 0zM932.5 168.4a3.8 2.75 0 1 0 7.6 0a3.8 2.75 0 1 0 -7.6 0zM932.5 171a3.8 2.75 0 1 0 7.6 0a3.8 2.75 0 1 0 -7.6 0zM932.5 173.6a3.8 2.75 0 1 0 7.6 0a3.8 2.75 0 1 0 -7.6 0zM932.5 176.2a3.8 2.75 0 1 0 7.6 0a3.8 2.75 0 1 0 -7.6 0zM955 150a3.8 2.75 0 1 0 7.6 0a3.8 2.75 0 1 0 -7.6 0zM955 152a3.8 2.75 0 1 0 7.6 0a3.8 2.75 0 1 0 -7.6 0zM955 154.6a3.8 2.75 0 1 0 7.6 0a3.8 2.75 0 1 0 -7.6 0zM955 157.2a3.8 2.75 0 1 0 7.6 0a3.8 2.75 0 1 0 -7.6 0zM955 159.8a3.8 2.75 0 1 0 7.6 0a3.8 2.75 0 1 0 -7.6 0zM955 162.4a3.8 2.75 0 1 0 7.6 0a3.8 2.75 0 1 0 -7.6 0zM955 165a3.8 2.75 0 1 0 7.6 0a3.8 2.75 0 1 0 -7.6 0zM955 167.6a3.8 2.75 0 1 0 7.6 0a3.8 2.75 0 1 0 -7.6 0zM955 170.2a3.8 2.75 0 1 0 7.6 0a3.8 2.75 0 1 0 -7.6 0zM955 172.8a3.8 2.75 0 1 0 7.6 0a3.8 2.75 0 1 0 -7.6 0zM955 175.4a3.8 2.75 0 1 0 7.6 0a3.8 2.75 0 1 0 -7.6 0zM955 484.9a3.8 2.75 0 1 0 7.6 0a3.8 2.75 0 1 0 -7.6 0zM977.6 158a3.8 2.75 0 1 0 7.6 0a3.8 2.75 0 1 0 -7.6 0zM977.6 165.5a3.8 2.75 0 1 0 7.6 0a3.8 2.75 0 1 0 -7.6 0zM977.6 168.1a3.8 2.75 0 1 0 7.6 0a3.8 2.75 0 1 0 -7.6 0zM977.6 170.7a3.8 2.75 0 1 0 7.6 0a3.8 2.75 0 1 0 -7.6 0zM977.6 173.3a3.8 2.75 0 1 0 7.6 0a3.8 2.75 0 1 0 -7.6 0zM1000.1 157.6a3.8 2.75 0 1 0 7.6 0a3.8 2.75 0 1 0 -7.6 0zM1000.1 163a3.8 2.75 0 1 0 7.6 0a3.8 2.75 0 1 0 -7.6 0zM1000.1 165.6a3.8 2.75 0 1 0 7.6 0a3.8 2.75 0 1 0 -7.6 0zM1000.1 168.2a3.8 2.75 0 1 0 7.6 0a3.8 2.75 0 1 0 -7.6 0zM1000.1 170.8a3.8 2.75 0 1 0 7.6 0a3.8 2.75 0 1 0 -7.6 0zM1000.1 173.4a3.8 2.75 0 1 0 7.6 0a3.8 2.75 0 1 0 -7.6 0zM1022.7 154.9a3.8 2.75 0 1 0 7.6 0a3.8 2.75 0 1 0 -7.6 0zM1022.7 165.5a3.8 2.75 0 1 0 7.6 0a3.8 2.75 0 1 0 -7.6 0zM1022.7 168.1a3.8 2.75 0 1 0 7.6 0a3.8 2.75 0 1 0 -7.6 0zM1022.7 170.7a3.8 2.75 0 1 0 7.6 0a3.8 2.75 0 1 0 -7.6 0zM1022.7 173.3a3.8 2.75 0 1 0 7.6 0a3.8 2.75 0 1 0 -7.6 0zM1022.7 175.9a3.8 2.75 0 1 0 7.6 0a3.8 2.75 0 1 0 -7.6 0zM1022.7 178.5a3.8 2.75 0 1 0 7.6 0a3.8 2.75 0 1 0 -7.6 0zM1022.7 480.5a3.8 2.75 0 1 0 7.6 0a3.8 2.75 0 1 0 -7.6 0zM1022.7 482.7a3.8 2.75 0 1 0 7.6 0a3.8 2.75 0 1 0 -7.6 0zM1022.7 484.9a3.8 2.75 0 1 0 7.6 0a3.8 2.75 0 1 0 -7.6 0zM1045.2 161.4a3.8 2.75 0 1 0 7.6 0a3.8 2.75 0 1 0 -7.6 0zM1045.2 167a3.8 2.75 0 1 0 7.6 0a3.8 2.75 0 1 0 -7.6 0zM1045.2 173a3.8 2.75 0 1 0 7.6 0a3.8 2.75 0 1 0 -7.6 0zM1045.2 175.6a3.8 2.75 0 1 0 7.6 0a3.8 2.75 0 1 0 -7.6 0zM1045.2 178.2a3.8 2.75 0 1 0 7.6 0a3.8 2.75 0 1 0 -7.6 0zM1045.2 482.7a3.8 2.75 0 1 0 7.6 0a3.8 2.75 0 1 0 -7.6 0zM1045.2 484.9a3.8 2.75 0 1 0 7.6 0a3.8 2.75 0 1 0 -7.6 0zM1067.7 140.2a3.8 2.75 0 1 0 7.6 0a3.8 2.75 0 1 0 -7.6 0zM1067.7 152a3.8 2.75 0 1 0 7.6 0a3.8 2.75 0 1 0 -7.6 0zM1067.7 154.6a3.8 2.75 0 1 0 7.6 0a3.8 2.75 0 1 0 -7.6 0zM1067.7 157.2a3.8 2.75 0 1 0 7.6 0a3.8 2.75 0 1 0 -7.6 0zM1067.7 159.8a3.8 2.75 0 1 0 7.6 0a3.8 2.75 0 1 0 -7.6 0zM1067.7 162.4a3.8 2.75 0 1 0 7.6 0a3.8 2.75 0 1 0 -7.6 0zM1067.7 165a3.8 2.75 0 1 0 7.6 0a3.8 2.75 0 1 0 -7.6 0zM1067.7 167.6a3.8 2.75 0 1 0 7.6 0a3.8 2.75 0 1 0 -7.6 0zM1067.7 170.2a3.8 2.75 0 1 0 7.6 0a3.8 2.75 0 1 0 -7.6 0zM1067.7 172.8a3.8 2.75 0 1 0 7.6 0a3.8 2.75 0 1 0 -7.6 0zM1090.3 162a3.8 2.75 0 1 0 7.6 0a3.8 2.75 0 1 0 -7.6 0zM1090.3 162a3.8 2.75 0 1 0 7.6 0a3.8 2.75 0 1 0 -7.6 0zM1090.3 164.6a3.8 2.75 0 1 0 7.6 0a3.8 2.75 0 1 0 -7.6 0zM1090.3 167.2a3.8 2.75 0 1 0 7.6 0a3.8 2.75 0 1 0 -7.6 0zM1090.3 169.8a3.8 2.75 0 1 0 7.6 0a3.8 2.75 0 1 0 -7.6 0zM1090.3 172.4a3.8 2.75 0 1 0 7.6 0a3.8 2.75 0 1 0 -7.6 0zM1090.3 175a3.8 2.75 0 1 0 7.6 0a3.8 2.75 0 1 0 -7.6 0zM1112.8 138.8a3.8 2.75 0 1 0 7.6 0a3.8 2.75 0 1 0 -7.6 0zM1112.8 151a3.8 2.75 0 1 0 7.6 0a3.8 2.75 0 1 0 -7.6 0zM1112.8 159.8a3.8 2.75 0 1 0 7.6 0a3.8 2.75 0 1 0 -7.6 0zM1112.8 162.4a3.8 2.75 0 1 0 7.6 0a3.8 2.75 0 1 0 -7.6 0zM1112.8 165a3.8 2.75 0 1 0 7.6 0a3.8 2.75 0 1 0 -7.6 0zM1112.8 167.6a3.8 2.75 0 1 0 7.6 0a3.8 2.75 0 1 0 -7.6 0zM1112.8 170.2a3.8 2.75 0 1 0 7.6 0a3.8 2.75 0 1 0 -7.6 0zM1112.8 172.8a3.8 2.75 0 1 0 7.6 0a3.8 2.75 0 1 0 -7.6 0zM1112.8 175.4a3.8 2.75 0 1 0 7.6 0a3.8 2.75 0 1 0 -7.6 0zM1112.8 483.8a3.8 2.75 0 1 0 7.6 0a3.8 2.75 0 1 0 -7.6 0zM1135.4 143.3a3.8 2.75 0 1 0 7.6 0a3.8 2.75 0 1 0 -7.6 0zM1135.4 150a3.8 2.75 0 1 0 7.6 0a3.8 2.75 0 1 0 -7.6 0zM1135.4 159.8a3.8 2.75 0 1 0 7.6 0a3.8 2.75 0 1 0 -7.6 0zM1135.4 162.4a3.8 2.75 0 1 0 7.6 0a3.8 2.75 0 1 0 -7.6 0zM1135.4 165a3.8 2.75 0 1 0 7.6 0a3.8 2.75 0 1 0 -7.6 0zM1135.4 167.6a3.8 2.75 0 1 0 7.6 0a3.8 2.75 0 1 0 -7.6 0zM1135.4 170.2a3.8 2.75 0 1 0 7.6 0a3.8 2.75 0 1 0 -7.6 0zM1135.4 172.8a3.8 2.75 0 1 0 7.6 0a3.8 2.75 0 1 0 -7.6 0zM1135.4 175.4a3.8 2.75 0 1 0 7.6 0a3.8 2.75 0 1 0 -7.6 0zM1135.4 178a3.8 2.75 0 1 0 7.6 0a3.8 2.75 0 1 0 -7.6 0zM1135.4 180.6a3.8 2.75 0 1 0 7.6 0a3.8 2.75 0 1 0 -7.6 0zM1135.4 183.2a3.8 2.75 0 1 0 7.6 0a3.8 2.75 0 1 0 -7.6 0zM1135.4 478.2a3.8 2.75 0 1 0 7.6 0a3.8 2.75 0 1 0 -7.6 0zM1135.4 480.4a3.8 2.75 0 1 0 7.6 0a3.8 2.75 0 1 0 -7.6 0zM1135.4 482.6a3.8 2.75 0 1 0 7.6 0a3.8 2.75 0 1 0 -7.6 0zM1135.4 484.8a3.8 2.75 0 1 0 7.6 0a3.8 2.75 0 1 0 -7.6 0zM1157.9 142.9a3.8 2.75 0 1 0 7.6 0a3.8 2.75 0 1 0 -7.6 0zM1157.9 150a3.8 2.75 0 1 0 7.6 0a3.8 2.75 0 1 0 -7.6 0zM1157.9 162a3.8 2.75 0 1 0 7.6 0a3.8 2.75 0 1 0 -7.6 0zM1157.9 164.6a3.8 2.75 0 1 0 7.6 0a3.8 2.75 0 1 0 -7.6 0zM1157.9 167.2a3.8 2.75 0 1 0 7.6 0a3.8 2.75 0 1 0 -7.6 0zM1157.9 169.8a3.8 2.75 0 1 0 7.6 0a3.8 2.75 0 1 0 -7.6 0zM1157.9 172.4a3.8 2.75 0 1 0 7.6 0a3.8 2.75 0 1 0 -7.6 0zM1157.9 175a3.8 2.75 0 1 0 7.6 0a3.8 2.75 0 1 0 -7.6 0zM1157.9 177.6a3.8 2.75 0 1 0 7.6 0a3.8 2.75 0 1 0 -7.6 0zM1157.9 180.2a3.8 2.75 0 1 0 7.6 0a3.8 2.75 0 1 0 -7.6 0zM1157.9 182.8a3.8 2.75 0 1 0 7.6 0a3.8 2.75 0 1 0 -7.6 0zM1157.9 475.9a3.8 2.75 0 1 0 7.6 0a3.8 2.75 0 1 0 -7.6 0zM1157.9 478.1a3.8 2.75 0 1 0 7.6 0a3.8 2.75 0 1 0 -7.6 0zM1157.9 480.3a3.8 2.75 0 1 0 7.6 0a3.8 2.75 0 1 0 -7.6 0zM1157.9 482.5a3.8 2.75 0 1 0 7.6 0a3.8 2.75 0 1 0 -7.6 0zM1157.9 484.7a3.8 2.75 0 1 0 7.6 0a3.8 2.75 0 1 0 -7.6 0zM1180.4 149.2a3.8 2.75 0 1 0 7.6 0a3.8 2.75 0 1 0 -7.6 0zM1180.4 156.4a3.8 2.75 0 1 0 7.6 0a3.8 2.75 0 1 0 -7.6 0zM1180.4 159a3.8 2.75 0 1 0 7.6 0a3.8 2.75 0 1 0 -7.6 0zM1180.4 161.6a3.8 2.75 0 1 0 7.6 0a3.8 2.75 0 1 0 -7.6 0zM1180.4 164.2a3.8 2.75 0 1 0 7.6 0a3.8 2.75 0 1 0 -7.6 0zM1180.4 166.8a3.8 2.75 0 1 0 7.6 0a3.8 2.75 0 1 0 -7.6 0zM1180.4 169.4a3.8 2.75 0 1 0 7.6 0a3.8 2.75 0 1 0 -7.6 0zM1180.4 172a3.8 2.75 0 1 0 7.6 0a3.8 2.75 0 1 0 -7.6 0zM1180.4 174.6a3.8 2.75 0 1 0 7.6 0a3.8 2.75 0 1 0 -7.6 0zM1180.4 177.2a3.8 2.75 0 1 0 7.6 0a3.8 2.75 0 1 0 -7.6 0zM1180.4 179.8a3.8 2.75 0 1 0 7.6 0a3.8 2.75 0 1 0 -7.6 0zM1180.4 182.4a3.8 2.75 0 1 0 7.6 0a3.8 2.75 0 1 0 -7.6 0zM1180.4 474.5a3.8 2.75 0 1 0 7.6 0a3.8 2.75 0 1 0 -7.6 0zM1180.4 476.7a3.8 2.75 0 1 0 7.6 0a3.8 2.75 0 1 0 -7.6 0zM1180.4 478.9a3.8 2.75 0 1 0 7.6 0a3.8 2.75 0 1 0 -7.6 0zM1180.4 481.1a3.8 2.75 0 1 0 7.6 0a3.8 2.75 0 1 0 -7.6 0zM1180.4 483.3a3.8 2.75 0 1 0 7.6 0a3.8 2.75 0 1 0 -7.6 0zM1180.4 485.5a3.8 2.75 0 1 0 7.6 0a3.8 2.75 0 1 0 -7.6 0z"/><rect x="138.5" y="292.9" width="17.8" height="72.4" fill="#4747a9" stroke="#111" stroke-width="2.4"/><rect x="138.5" y="318.9" width="17.8" height="7.2" fill="#111"/><rect x="161" y="292" width="17.8" height="73.8" fill="#4747a9" stroke="#111" stroke-width="2.4"/><rect x="161" y="318.4" width="17.8" height="7.2" fill="#111"/><rect x="183.6" y="293.6" width="17.8" height="70.5" fill="#4747a9" stroke="#111" stroke-width="2.4"/><rect x="183.6" y="318.3" width="17.8" height="7.2" fill="#111"/><rect x="206.1" y="294.7" width="17.8" height="71.7" fill="#89dc89" stroke="#111" stroke-width="2.4"/><rect x="206.1" y="319.9" width="17.8" height="7.2" fill="#111"/><rect x="228.7" y="294.2" width="17.8" height="72.6" fill="#89dc89" stroke="#111" stroke-width="2.4"/><rect x="228.7" y="319.9" width="17.8" height="7.2" fill="#111"/><rect x="251.2" y="294.2" width="17.8" height="70.6" fill="#89dc89" stroke="#111" stroke-width="2.4"/><rect x="251.2" y="319.4" width="17.8" height="7.2" fill="#111"/><rect x="273.7" y="293.6" width="17.8" height="69.8" fill="#e5125c" stroke="#111" stroke-width="2.4"/><rect x="273.7" y="318.4" width="17.8" height="7.2" fill="#111"/><rect x="296.3" y="293.6" width="17.8" height="70.5" fill="#e5125c" stroke="#111" stroke-width="2.4"/><rect x="296.3" y="318.4" width="17.8" height="7.2" fill="#111"/><rect x="318.8" y="295.2" width="17.8" height="70.1" fill="#e5125c" stroke="#111" stroke-width="2.4"/><rect x="318.8" y="320.1" width="17.8" height="7.2" fill="#111"/><rect x="341.4" y="293.6" width="17.8" height="74.4" fill="#5e9fd6" stroke="#111" stroke-width="2.4"/><rect x="341.4" y="320.1" width="17.8" height="7.2" fill="#111"/><rect x="363.9" y="293.6" width="17.8" height="73.2" fill="#5e9fd6" stroke="#111" stroke-width="2.4"/><rect x="363.9" y="319.9" width="17.8" height="7.2" fill="#111"/><rect x="386.4" y="293.6" width="17.8" height="76.6" fill="#5e9fd6" stroke="#111" stroke-width="2.4"/><rect x="386.4" y="320.9" width="17.8" height="7.2" fill="#111"/><rect x="409" y="292.9" width="17.8" height="78" fill="#6dbe10" stroke="#111" stroke-width="2.4"/><rect x="409" y="320.9" width="17.8" height="7.2" fill="#111"/><rect x="431.5" y="294.2" width="17.8" height="71.1" fill="#6dbe10" stroke="#111" stroke-width="2.4"/><rect x="431.5" y="319.9" width="17.8" height="7.2" fill="#111"/><rect x="454.1" y="293.6" width="17.8" height="77.3" fill="#6dbe10" stroke="#111" stroke-width="2.4"/><rect x="454.1" y="320.9" width="17.8" height="7.2" fill="#111"/><rect x="476.6" y="294.2" width="17.8" height="72.2" fill="#b447bf" stroke="#111" stroke-width="2.4"/><rect x="476.6" y="319.4" width="17.8" height="7.2" fill="#111"/><rect x="499.1" y="294.2" width="17.8" height="72.2" fill="#b447bf" stroke="#111" stroke-width="2.4"/><rect x="499.1" y="319.4" width="17.8" height="7.2" fill="#111"/><rect x="521.7" y="293.6" width="17.8" height="72.8" fill="#b447bf" stroke="#111" stroke-width="2.4"/><rect x="521.7" y="319.4" width="17.8" height="7.2" fill="#111"/><rect x="544.2" y="294.2" width="17.8" height="73.3" fill="#ee5a0c" stroke="#111" stroke-width="2.4"/><rect x="544.2" y="320.9" width="17.8" height="7.2" fill="#111"/><rect x="566.8" y="293.6" width="17.8" height="75" fill="#ee5a0c" stroke="#111" stroke-width="2.4"/><rect x="566.8" y="320.4" width="17.8" height="7.2" fill="#111"/><rect x="589.3" y="292.9" width="17.8" height="78" fill="#ee5a0c" stroke="#111" stroke-width="2.4"/><rect x="589.3" y="320.9" width="17.8" height="7.2" fill="#111"/><rect x="611.8" y="294.7" width="17.8" height="72.8" fill="#eae100" stroke="#111" stroke-width="2.4"/><rect x="611.8" y="320.9" width="17.8" height="7.2" fill="#111"/><rect x="634.4" y="292" width="17.8" height="80.5" fill="#eae100" stroke="#111" stroke-width="2.4"/><rect x="634.4" y="323.4" width="17.8" height="7.2" fill="#111"/><rect x="656.9" y="292" width="17.8" height="83.8" fill="#eae100" stroke="#111" stroke-width="2.4"/><rect x="656.9" y="325.4" width="17.8" height="7.2" fill="#111"/><rect x="679.5" y="293.6" width="17.8" height="69.8" fill="#4651b0" stroke="#111" stroke-width="2.4"/><rect x="679.5" y="318.4" width="17.8" height="7.2" fill="#111"/><rect x="702" y="292.9" width="17.8" height="70.5" fill="#4651b0" stroke="#111" stroke-width="2.4"/><rect x="702" y="317.4" width="17.8" height="7.2" fill="#111"/><rect x="724.5" y="293.6" width="17.8" height="69.2" fill="#4651b0" stroke="#111" stroke-width="2.4"/><rect x="724.5" y="317.4" width="17.8" height="7.2" fill="#111"/><rect x="747.1" y="294.2" width="17.8" height="71.6" fill="#72be14" stroke="#111" stroke-width="2.4"/><rect x="747.1" y="319.4" width="17.8" height="7.2" fill="#111"/><rect x="769.6" y="295.2" width="17.8" height="71.2" fill="#72be14" stroke="#111" stroke-width="2.4"/><rect x="769.6" y="320.4" width="17.8" height="7.2" fill="#111"/><rect x="792.2" y="292.9" width="17.8" height="72.1" fill="#72be14" stroke="#111" stroke-width="2.4"/><rect x="792.2" y="318.9" width="17.8" height="7.2" fill="#111"/><rect x="814.7" y="294.2" width="17.8" height="68.6" fill="#d93d9c" stroke="#111" stroke-width="2.4"/><rect x="814.7" y="317.4" width="17.8" height="7.2" fill="#111"/><rect x="837.2" y="293.6" width="17.8" height="69.8" fill="#d93d9c" stroke="#111" stroke-width="2.4"/><rect x="837.2" y="317.4" width="17.8" height="7.2" fill="#111"/><rect x="859.8" y="292.9" width="17.8" height="71.2" fill="#d93d9c" stroke="#111" stroke-width="2.4"/><rect x="859.8" y="318.4" width="17.8" height="7.2" fill="#111"/><rect x="882.3" y="292.9" width="17.8" height="75.7" fill="#91dbe9" stroke="#111" stroke-width="2.4"/><rect x="882.3" y="319.4" width="17.8" height="7.2" fill="#111"/><rect x="904.9" y="293.6" width="17.8" height="74.4" fill="#91dbe9" stroke="#111" stroke-width="2.4"/><rect x="904.9" y="318.9" width="17.8" height="7.2" fill="#111"/><rect x="927.4" y="293.6" width="17.8" height="75" fill="#91dbe9" stroke="#111" stroke-width="2.4"/><rect x="927.4" y="319.4" width="17.8" height="7.2" fill="#111"/><rect x="949.9" y="291.4" width="17.8" height="76.1" fill="#a9cf0b" stroke="#111" stroke-width="2.4"/><rect x="949.9" y="318.9" width="17.8" height="7.2" fill="#111"/><rect x="972.5" y="291.4" width="17.8" height="76.6" fill="#a9cf0b" stroke="#111" stroke-width="2.4"/><rect x="972.5" y="319.4" width="17.8" height="7.2" fill="#111"/><rect x="995" y="291.4" width="17.8" height="76.1" fill="#a9cf0b" stroke="#111" stroke-width="2.4"/><rect x="995" y="319.1" width="17.8" height="7.2" fill="#111"/><rect x="1017.6" y="293.6" width="17.8" height="72.8" fill="#7747b5" stroke="#111" stroke-width="2.4"/><rect x="1017.6" y="319.1" width="17.8" height="7.2" fill="#111"/><rect x="1040.1" y="292.9" width="17.8" height="73.9" fill="#7747b5" stroke="#111" stroke-width="2.4"/><rect x="1040.1" y="319.4" width="17.8" height="7.2" fill="#111"/><rect x="1062.6" y="292" width="17.8" height="78.2" fill="#7747b5" stroke="#111" stroke-width="2.4"/><rect x="1062.6" y="320.1" width="17.8" height="7.2" fill="#111"/><rect x="1085.2" y="291.4" width="17.8" height="77.2" fill="#dd2b19" stroke="#111" stroke-width="2.4"/><rect x="1085.2" y="319.9" width="17.8" height="7.2" fill="#111"/><rect x="1107.7" y="292" width="17.8" height="75.5" fill="#dd2b19" stroke="#111" stroke-width="2.4"/><rect x="1107.7" y="319.4" width="17.8" height="7.2" fill="#111"/><rect x="1130.3" y="293.6" width="17.8" height="71.7" fill="#feb900" stroke="#111" stroke-width="2.4"/><rect x="1130.3" y="319.4" width="17.8" height="7.2" fill="#111"/><rect x="1152.8" y="292.9" width="17.8" height="71.7" fill="#feb900" stroke="#111" stroke-width="2.4"/><rect x="1152.8" y="318.9" width="17.8" height="7.2" fill="#111"/><rect x="1175.3" y="292.9" width="17.8" height="71.2" fill="#feb900" stroke="#111" stroke-width="2.4"/><rect x="1175.3" y="318.4" width="17.8" height="7.2" fill="#111"/><path d="M147.4 502V509.2M169.9 502V509.2M192.5 502V509.2M215 502V509.2M237.6 502V509.2M260.1 502V509.2M282.6 502V509.2M305.2 502V509.2M327.7 502V509.2M350.3 502V509.2M372.8 502V509.2M395.3 502V509.2M417.9 502V509.2M440.4 502V509.2M463 502V509.2M485.5 502V509.2M508 502V509.2M530.6 502V509.2M553.1 502V509.2M575.7 502V509.2M598.2 502V509.2M620.7 502V509.2M643.3 502V509.2M665.8 502V509.2M688.4 502V509.2M710.9 502V509.2M733.4 502V509.2M756 502V509.2M778.5 502V509.2M801.1 502V509.2M823.6 502V509.2M846.1 502V509.2M868.7 502V509.2M891.2 502V509.2M913.8 502V509.2M936.3 502V509.2M958.8 502V509.2M981.4 502V509.2M1003.9 502V509.2M1026.5 502V509.2M1049 502V509.2M1071.5 502V509.2M1094.1 502V509.2M1116.6 502V509.2M1139.2 502V509.2M1161.7 502V509.2M1184.2 502V509.2" stroke="#111" stroke-width="2.4"/><text transform="translate(153,571.5) rotate(-90)" font-size="21.5" textLength="52" lengthAdjust="spacingAndGlyphs" class="s">SCNS5d_1</text><text transform="translate(175.5,571.5) rotate(-90)" font-size="21.5" textLength="53.2" lengthAdjust="spacingAndGlyphs" class="s">SCNS5d_2</text><text transform="translate(198.1,571.5) rotate(-90)" font-size="21.5" textLength="52.5" lengthAdjust="spacingAndGlyphs" class="s">SCNS5d_3</text><text transform="translate(220.6,571.5) rotate(-90)" font-size="21.5" textLength="52" lengthAdjust="spacingAndGlyphs" class="s">SBAS5d_1</text><text transform="translate(243.2,571.5) rotate(-90)" font-size="21.5" textLength="53.2" lengthAdjust="spacingAndGlyphs" class="s">SBAS5d_2</text><text transform="translate(265.7,571.5) rotate(-90)" font-size="21.5" textLength="52.5" lengthAdjust="spacingAndGlyphs" class="s">SBAS5d_3</text><text transform="translate(288.2,590.9) rotate(-90)" font-size="21.5" textLength="66.5" lengthAdjust="spacingAndGlyphs" class="s">SCNSBAS5d1</text><text transform="translate(310.8,590.9) rotate(-90)" font-size="21.5" textLength="67.8" lengthAdjust="spacingAndGlyphs" class="s">SCNSBAS5d2</text><text transform="translate(333.3,590.9) rotate(-90)" font-size="21.5" textLength="66.5" lengthAdjust="spacingAndGlyphs" class="s">SCNSBAS5d3</text><text transform="translate(355.9,572.7) rotate(-90)" font-size="21.5" textLength="52.7" lengthAdjust="spacingAndGlyphs" class="s">SCNR5d_1</text><text transform="translate(378.4,572.7) rotate(-90)" font-size="21.5" textLength="53.7" lengthAdjust="spacingAndGlyphs" class="s">SCNR5d_2</text><text transform="translate(400.9,572.7) rotate(-90)" font-size="21.5" textLength="53.7" lengthAdjust="spacingAndGlyphs" class="s">SCNR5d_3</text><text transform="translate(423.5,571.5) rotate(-90)" font-size="21.5" textLength="51.5" lengthAdjust="spacingAndGlyphs" class="s">SBAR5d_1</text><text transform="translate(446,571.5) rotate(-90)" font-size="21.5" textLength="52.5" lengthAdjust="spacingAndGlyphs" class="s">SBAR5d_2</text><text transform="translate(468.6,571.5) rotate(-90)" font-size="21.5" textLength="52.5" lengthAdjust="spacingAndGlyphs" class="s">SBAR5d_3</text><text transform="translate(491.1,590.9) rotate(-90)" font-size="21.5" textLength="67.8" lengthAdjust="spacingAndGlyphs" class="s">SCNSBAR5d1</text><text transform="translate(513.6,590.9) rotate(-90)" font-size="21.5" textLength="67.8" lengthAdjust="spacingAndGlyphs" class="s">SCNSBAR5d2</text><text transform="translate(536.2,590.9) rotate(-90)" font-size="21.5" textLength="67" lengthAdjust="spacingAndGlyphs" class="s">SCNSBAR5d3</text><text transform="translate(558.7,571.5) rotate(-90)" font-size="21.5" textLength="52.5" lengthAdjust="spacingAndGlyphs" class="s">CntrlR5d_1</text><text transform="translate(581.3,571.5) rotate(-90)" font-size="21.5" textLength="53.2" lengthAdjust="spacingAndGlyphs" class="s">CntrlR5d_2</text><text transform="translate(603.8,571.5) rotate(-90)" font-size="21.5" textLength="53.2" lengthAdjust="spacingAndGlyphs" class="s">CntrlR5d_3</text><text transform="translate(626.3,571.5) rotate(-90)" font-size="21.5" textLength="52.5" lengthAdjust="spacingAndGlyphs" class="s">CntrlS5d_1</text><text transform="translate(648.9,571.5) rotate(-90)" font-size="21.5" textLength="53.2" lengthAdjust="spacingAndGlyphs" class="s">CntrlS5d_2</text><text transform="translate(671.4,571.5) rotate(-90)" font-size="21.5" textLength="53.2" lengthAdjust="spacingAndGlyphs" class="s">CntrlS5d_3</text><text transform="translate(694,577.6) rotate(-90)" font-size="21.5" textLength="57.6" lengthAdjust="spacingAndGlyphs" class="s">SCNS30d_1</text><text transform="translate(716.5,577.6) rotate(-90)" font-size="21.5" textLength="58.6" lengthAdjust="spacingAndGlyphs" class="s">SCNS30d_2</text><text transform="translate(739,577.6) rotate(-90)" font-size="21.5" textLength="58.1" lengthAdjust="spacingAndGlyphs" class="s">SCNS30d_3</text><text transform="translate(761.6,577.6) rotate(-90)" font-size="21.5" textLength="53.2" lengthAdjust="spacingAndGlyphs" class="s">SBAS30d1</text><text transform="translate(784.1,577.6) rotate(-90)" font-size="21.5" textLength="54.5" lengthAdjust="spacingAndGlyphs" class="s">SBAS30d2</text><text transform="translate(806.7,577.6) rotate(-90)" font-size="21.5" textLength="53.2" lengthAdjust="spacingAndGlyphs" class="s">SBAS30d3</text><text transform="translate(829.2,596.5) rotate(-90)" font-size="21.5" textLength="77" lengthAdjust="spacingAndGlyphs" class="s">SCNSBAS30d_1</text><text transform="translate(851.7,596.5) rotate(-90)" font-size="21.5" textLength="78.2" lengthAdjust="spacingAndGlyphs" class="s">SCNSBAS30d_2</text><text transform="translate(874.3,596.5) rotate(-90)" font-size="21.5" textLength="77.5" lengthAdjust="spacingAndGlyphs" class="s">SCNSBAS30d_3</text><text transform="translate(896.8,577.6) rotate(-90)" font-size="21.5" textLength="58.1" lengthAdjust="spacingAndGlyphs" class="s">SCNR30d_1</text><text transform="translate(919.4,577.6) rotate(-90)" font-size="21.5" textLength="59.3" lengthAdjust="spacingAndGlyphs" class="s">SCNR30d_2</text><text transform="translate(941.9,577.6) rotate(-90)" font-size="21.5" textLength="58.6" lengthAdjust="spacingAndGlyphs" class="s">SCNR30d_3</text><text transform="translate(964.4,577.6) rotate(-90)" font-size="21.5" textLength="58.1" lengthAdjust="spacingAndGlyphs" class="s">SBAR30d_1</text><text transform="translate(987,577.6) rotate(-90)" font-size="21.5" textLength="59.3" lengthAdjust="spacingAndGlyphs" class="s">SBAR30d_2</text><text transform="translate(1009.5,577.6) rotate(-90)" font-size="21.5" textLength="58.6" lengthAdjust="spacingAndGlyphs" class="s">SBAR30d_3</text><text transform="translate(1032.1,598.2) rotate(-90)" font-size="21.5" textLength="78.7" lengthAdjust="spacingAndGlyphs" class="s">SCNSBAR30d_1</text><text transform="translate(1054.6,598.2) rotate(-90)" font-size="21.5" textLength="79.9" lengthAdjust="spacingAndGlyphs" class="s">SCNSBAR30d_2</text><text transform="translate(1077.1,598.2) rotate(-90)" font-size="21.5" textLength="79.2" lengthAdjust="spacingAndGlyphs" class="s">SCNSBAR30d_3</text><text transform="translate(1099.7,577.6) rotate(-90)" font-size="21.5" textLength="59.3" lengthAdjust="spacingAndGlyphs" class="s">CntrlR30d_1</text><text transform="translate(1122.2,577.6) rotate(-90)" font-size="21.5" textLength="61.7" lengthAdjust="spacingAndGlyphs" class="s">CntrlR30d_2</text><text transform="translate(1144.8,577.6) rotate(-90)" font-size="21.5" textLength="56.9" lengthAdjust="spacingAndGlyphs" class="s">CntrlS30d_1</text><text transform="translate(1167.3,577.6) rotate(-90)" font-size="21.5" textLength="56.9" lengthAdjust="spacingAndGlyphs" class="s">CntrlS30d_2</text><text transform="translate(1189.8,577.6) rotate(-90)" font-size="21.5" textLength="57.6" lengthAdjust="spacingAndGlyphs" class="s">CntrlS30d_3</text></g><text x="46.4" y="24.3" class="s" stroke="#111" stroke-width="0.9" font-size="50" textLength="17" lengthAdjust="spacingAndGlyphs">a.</text><text transform="translate(25.5,494) rotate(-90)" class="s" font-size="22.5" textLength="362" lengthAdjust="spacingAndGlyphs">Transformed read count</text><text x="41" y="91.9" class="t" font-size="20.5" textLength="37" lengthAdjust="spacingAndGlyphs">20</text><text x="44" y="182.2" class="t" font-size="20.5" textLength="33.3" lengthAdjust="spacingAndGlyphs">15</text><text x="43.5" y="272.5" class="t" font-size="20.5" textLength="33.8" lengthAdjust="spacingAndGlyphs">10</text><text x="57" y="362.6" class="t" font-size="20.5" textLength="15" lengthAdjust="spacingAndGlyphs">5</text><text x="56.5" y="453.9" class="t" font-size="20.5" textLength="17.5" lengthAdjust="spacingAndGlyphs">0</text><svg x="0" y="0" width="1240" height="1839" overflow="hidden"><clipPath id="cb"><rect x="89" y="731" width="1144" height="450"/></clipPath><line x1="89" y1="1164.5" x2="1233" y2="1164.5" stroke="#e6e6e6" stroke-width="1.3"/><g clip-path="url(#cb)" fill="none" stroke-width="2.8" stroke-linejoin="round"><polyline stroke="#4446b0" points="128.0,1164.3 132.1,1164.2 136.2,1164.2 140.3,1164.1 144.5,1164.0 148.6,1163.8 152.7,1163.6 156.8,1163.4 160.9,1163.2 165.0,1162.8 169.1,1162.4 173.3,1162.0 177.4,1161.4 181.5,1160.8 185.6,1160.1 189.7,1159.4 193.8,1158.5 198.0,1157.6 202.1,1156.6 206.2,1155.6 210.3,1154.6 214.4,1153.5 218.5,1152.5 222.6,1151.4 226.8,1150.3 230.9,1149.2 235.0,1148.1 239.1,1147.1 243.2,1145.9 247.3,1144.8 251.4,1143.5 255.6,1142.2 259.7,1140.7 263.8,1139.1 267.9,1137.2 272.0,1135.1 276.1,1132.8 280.2,1130.2 284.4,1127.3 288.5,1124.1 292.6,1120.7 296.7,1116.9 300.8,1112.9 304.9,1108.7 309.1,1104.2 313.2,1099.6 317.3,1094.8 321.4,1090.0 325.5,1085.1 329.6,1080.1 333.7,1075.2 337.9,1070.4 342.0,1065.8 346.1,1061.3 350.2,1056.9 354.3,1052.9 358.4,1049.0 362.5,1045.5 366.7,1042.2 370.8,1039.3 374.9,1036.6 379.0,1034.2 383.1,1032.1 387.2,1030.3 391.4,1028.7 395.5,1027.3 399.6,1026.1 403.7,1025.1 407.8,1024.1 411.9,1023.2 416.0,1022.3 420.2,1021.4 424.3,1020.5 428.4,1019.5 432.5,1018.5 436.6,1017.2 440.7,1015.9 444.8,1014.4 449.0,1012.7 453.1,1010.9 457.2,1008.9 461.3,1006.7 465.4,1004.4 469.5,1002.0 473.6,999.5 477.8,996.8 481.9,994.1 486.0,991.3 490.1,988.5 494.2,985.7 498.3,982.9 502.5,980.1 506.6,977.3 510.7,974.6 514.8,971.9 518.9,969.2 523.0,966.6 527.1,964.0 531.3,961.5 535.4,959.0 539.5,956.5 543.6,953.9 547.7,951.3 551.8,948.7 555.9,946.0 560.1,943.1 564.2,940.1 568.3,936.9 572.4,933.6 576.5,930.0 580.6,926.2 584.8,922.1 588.9,917.8 593.0,913.2 597.1,908.3 601.2,903.2 605.3,897.7 609.4,892.0 613.6,886.1 617.7,879.9 621.8,873.5 625.9,866.9 630.0,860.3 634.1,853.5 638.2,846.7 642.4,839.9 646.5,833.1 650.6,826.5 654.7,820.1 658.8,813.9 662.9,807.9 667.0,802.4 671.2,797.2 675.3,792.5 679.4,788.4 683.5,784.8 687.6,781.8 691.7,779.5 695.9,777.9 700.0,777.0 704.1,776.8 708.2,777.5 712.3,778.9 716.4,781.1 720.5,784.1 724.7,787.9 728.8,792.4 732.9,797.7 737.0,803.7 741.1,810.4 745.2,817.7 749.3,825.7 753.5,834.1 757.6,843.1 761.7,852.6 765.8,862.4 769.9,872.6 774.0,883.1 778.1,893.8 782.3,904.6 786.4,915.6 790.5,926.6 794.6,937.6 798.7,948.5 802.8,959.3 807.0,969.9 811.1,980.4 815.2,990.6 819.3,1000.5 823.4,1010.1 827.5,1019.4 831.6,1028.3 835.8,1036.8 839.9,1045.0 844.0,1052.7 848.1,1060.1 852.2,1067.0 856.3,1073.6 860.4,1079.7 864.6,1085.5 868.7,1090.8 872.8,1095.9 876.9,1100.5 881.0,1104.8 885.1,1108.8 889.2,1112.6 893.4,1116.0 897.5,1119.2 901.6,1122.1 905.7,1124.8 909.8,1127.3 913.9,1129.7 918.1,1131.8 922.2,1133.8 926.3,1135.7 930.4,1137.5 934.5,1139.1 938.6,1140.7 942.7,1142.2 946.9,1143.5 951.0,1144.9 955.1,1146.1 959.2,1147.3 963.3,1148.4 967.4,1149.5 971.5,1150.6 975.7,1151.6 979.8,1152.5 983.9,1153.4 988.0,1154.2 992.1,1155.1 996.2,1155.8 1000.4,1156.6 1004.5,1157.2 1008.6,1157.9 1012.7,1158.5 1016.8,1159.1 1020.9,1159.6 1025.0,1160.1 1029.2,1160.5 1033.3,1160.9 1037.4,1161.3 1041.5,1161.6 1045.6,1162.0 1049.7,1162.2 1053.8,1162.5 1058.0,1162.7 1062.1,1162.9 1066.2,1163.1 1070.3,1163.3 1074.4,1163.4 1078.5,1163.6 1082.6,1163.7 1086.8,1163.8 1090.9,1163.8 1095.0,1163.9 1099.1,1164.0 1103.2,1164.0 1107.3,1164.1 1111.5,1164.1 1115.6,1164.1 1119.7,1164.2 1123.8,1164.2 1127.9,1164.2 1132.0,1164.2 1136.1,1164.2 1140.3,1164.3 1144.4,1164.3 1148.5,1164.3 1152.6,1164.3 1156.7,1164.3 1160.8,1164.3 1164.9,1164.3 1169.1,1164.3 1173.2,1164.3 1177.3,1164.3 1181.4,1164.3 1185.5,1164.3 1189.6,1164.3 1193.8,1164.3"/><polyline stroke="#4446b0" points="128.0,1164.3 132.1,1164.2 136.2,1164.2 140.3,1164.1 144.5,1164.0 148.6,1163.8 152.7,1163.6 156.8,1163.4 160.9,1163.2 165.0,1162.8 169.1,1162.4 173.3,1162.0 177.4,1161.4 181.5,1160.8 185.6,1160.1 189.7,1159.4 193.8,1158.5 198.0,1157.6 202.1,1156.7 206.2,1155.7 210.3,1154.6 214.4,1153.6 218.5,1152.5 222.6,1151.5 226.8,1150.4 230.9,1149.3 235.0,1148.3 239.1,1147.3 243.2,1146.2 247.3,1145.1 251.4,1143.9 255.6,1142.6 259.7,1141.2 263.8,1139.6 267.9,1137.9 272.0,1135.9 276.1,1133.7 280.2,1131.3 284.4,1128.5 288.5,1125.5 292.6,1122.2 296.7,1118.7 300.8,1114.9 304.9,1110.9 309.1,1106.7 313.2,1102.3 317.3,1097.8 321.4,1093.2 325.5,1088.6 329.6,1083.9 333.7,1079.3 337.9,1074.8 342.0,1070.4 346.1,1066.2 350.2,1062.1 354.3,1058.3 358.4,1054.7 362.5,1051.3 366.7,1048.3 370.8,1045.4 374.9,1042.9 379.0,1040.6 383.1,1038.6 387.2,1036.8 391.4,1035.3 395.5,1033.9 399.6,1032.6 403.7,1031.5 407.8,1030.4 411.9,1029.4 416.0,1028.4 420.2,1027.4 424.3,1026.3 428.4,1025.2 432.5,1023.9 436.6,1022.5 440.7,1021.0 444.8,1019.3 449.0,1017.4 453.1,1015.4 457.2,1013.3 461.3,1010.9 465.4,1008.5 469.5,1005.9 473.6,1003.3 477.8,1000.5 481.9,997.7 486.0,994.8 490.1,991.9 494.2,989.0 498.3,986.1 502.5,983.2 506.6,980.4 510.7,977.6 514.8,974.8 518.9,972.2 523.0,969.5 527.1,966.9 531.3,964.3 535.4,961.7 539.5,959.2 543.6,956.6 547.7,953.9 551.8,951.2 555.9,948.4 560.1,945.4 564.2,942.3 568.3,939.0 572.4,935.6 576.5,931.8 580.6,927.9 584.8,923.6 588.9,919.1 593.0,914.3 597.1,909.2 601.2,903.8 605.3,898.2 609.4,892.2 613.6,886.0 617.7,879.5 621.8,872.8 625.9,865.9 630.0,858.9 634.1,851.8 638.2,844.6 642.4,837.4 646.5,830.3 650.6,823.3 654.7,816.4 658.8,809.8 662.9,803.5 667.0,797.5 671.2,791.9 675.3,786.8 679.4,782.2 683.5,778.2 687.6,774.9 691.7,772.2 695.9,770.2 700.0,768.9 704.1,768.5 708.2,768.8 712.3,769.9 716.4,771.9 720.5,774.6 724.7,778.2 728.8,782.5 732.9,787.7 737.0,793.5 741.1,800.1 745.2,807.4 749.3,815.3 753.5,823.8 757.6,832.8 761.7,842.4 765.8,852.3 769.9,862.6 774.0,873.2 778.1,884.1 782.3,895.1 786.4,906.3 790.5,917.5 794.6,928.8 798.7,940.0 802.8,951.1 807.0,962.0 811.1,972.8 815.2,983.3 819.3,993.5 823.4,1003.5 827.5,1013.1 831.6,1022.3 835.8,1031.2 839.9,1039.7 844.0,1047.7 848.1,1055.4 852.2,1062.7 856.3,1069.5 860.4,1075.9 864.6,1082.0 868.7,1087.6 872.8,1092.8 876.9,1097.7 881.0,1102.3 885.1,1106.5 889.2,1110.4 893.4,1114.1 897.5,1117.4 901.6,1120.5 905.7,1123.4 909.8,1126.0 913.9,1128.5 918.1,1130.8 922.2,1132.9 926.3,1134.9 930.4,1136.7 934.5,1138.5 938.6,1140.1 942.7,1141.6 946.9,1143.1 951.0,1144.5 955.1,1145.8 959.2,1147.0 963.3,1148.2 967.4,1149.3 971.5,1150.4 975.7,1151.4 979.8,1152.3 983.9,1153.3 988.0,1154.1 992.1,1155.0 996.2,1155.7 1000.4,1156.5 1004.5,1157.2 1008.6,1157.8 1012.7,1158.4 1016.8,1159.0 1020.9,1159.5 1025.0,1160.0 1029.2,1160.5 1033.3,1160.9 1037.4,1161.3 1041.5,1161.6 1045.6,1162.0 1049.7,1162.2 1053.8,1162.5 1058.0,1162.7 1062.1,1162.9 1066.2,1163.1 1070.3,1163.3 1074.4,1163.4 1078.5,1163.6 1082.6,1163.7 1086.8,1163.8 1090.9,1163.8 1095.0,1163.9 1099.1,1164.0 1103.2,1164.0 1107.3,1164.1 1111.5,1164.1 1115.6,1164.1 1119.7,1164.2 1123.8,1164.2 1127.9,1164.2 1132.0,1164.2 1136.1,1164.2 1140.3,1164.3 1144.4,1164.3 1148.5,1164.3 1152.6,1164.3 1156.7,1164.3 1160.8,1164.3 1164.9,1164.3 1169.1,1164.3 1173.2,1164.3 1177.3,1164.3 1181.4,1164.3 1185.5,1164.3 1189.6,1164.3 1193.8,1164.3"/><polyline stroke="#4446b0" points="128.0,1164.3 132.1,1164.2 136.2,1164.2 140.3,1164.1 144.5,1164.0 148.6,1163.8 152.7,1163.7 156.8,1163.4 160.9,1163.2 165.0,1162.8 169.1,1162.5 173.3,1162.0 177.4,1161.5 181.5,1160.9 185.6,1160.2 189.7,1159.4 193.8,1158.6 198.0,1157.7 202.1,1156.8 206.2,1155.8 210.3,1154.7 214.4,1153.7 218.5,1152.7 222.6,1151.6 226.8,1150.6 230.9,1149.5 235.0,1148.5 239.1,1147.5 243.2,1146.4 247.3,1145.3 251.4,1144.1 255.6,1142.8 259.7,1141.4 263.8,1139.8 267.9,1138.0 272.0,1136.0 276.1,1133.7 280.2,1131.1 284.4,1128.2 288.5,1125.1 292.6,1121.6 296.7,1117.8 300.8,1113.8 304.9,1109.5 309.1,1104.9 313.2,1100.2 317.3,1095.3 321.4,1090.3 325.5,1085.2 329.6,1080.1 333.7,1075.0 337.9,1069.9 342.0,1065.0 346.1,1060.2 350.2,1055.6 354.3,1051.2 358.4,1047.1 362.5,1043.3 366.7,1039.7 370.8,1036.4 374.9,1033.5 379.0,1030.9 383.1,1028.5 387.2,1026.5 391.4,1024.7 395.5,1023.1 399.6,1021.8 403.7,1020.6 407.8,1019.6 411.9,1018.6 416.0,1017.8 420.2,1016.9 424.3,1016.1 428.4,1015.1 432.5,1014.2 436.6,1013.1 440.7,1011.9 444.8,1010.5 449.0,1009.0 453.1,1007.4 457.2,1005.6 461.3,1003.6 465.4,1001.5 469.5,999.2 473.6,996.9 477.8,994.4 481.9,991.8 486.0,989.2 490.1,986.6 494.2,983.9 498.3,981.1 502.5,978.4 506.6,975.8 510.7,973.1 514.8,970.5 518.9,967.9 523.0,965.3 527.1,962.8 531.3,960.3 535.4,957.8 539.5,955.3 543.6,952.8 547.7,950.2 551.8,947.5 555.9,944.8 560.1,941.9 564.2,938.9 568.3,935.7 572.4,932.3 576.5,928.7 580.6,924.8 584.8,920.7 588.9,916.4 593.0,911.7 597.1,906.8 601.2,901.6 605.3,896.1 609.4,890.3 613.6,884.3 617.7,878.1 621.8,871.7 625.9,865.1 630.0,858.4 634.1,851.5 638.2,844.7 642.4,837.9 646.5,831.1 650.6,824.4 654.7,817.9 658.8,811.7 662.9,805.8 667.0,800.2 671.2,795.0 675.3,790.3 679.4,786.1 683.5,782.5 687.6,779.6 691.7,777.3 695.9,775.7 700.0,774.8 704.1,774.7 708.2,775.4 712.3,776.8 716.4,779.0 720.5,782.1 724.7,785.9 728.8,790.5 732.9,795.8 737.0,801.9 741.1,808.6 745.2,816.0 749.3,824.0 753.5,832.6 757.6,841.7 761.7,851.2 765.8,861.1 769.9,871.3 774.0,881.9 778.1,892.6 782.3,903.5 786.4,914.6 790.5,925.6 794.6,936.7 798.7,947.6 802.8,958.5 807.0,969.2 811.1,979.7 815.2,989.9 819.3,999.9 823.4,1009.6 827.5,1018.9 831.6,1027.9 835.8,1036.4 839.9,1044.6 844.0,1052.4 848.1,1059.8 852.2,1066.8 856.3,1073.3 860.4,1079.5 864.6,1085.3 868.7,1090.7 872.8,1095.7 876.9,1100.4 881.0,1104.7 885.1,1108.7 889.2,1112.5 893.4,1115.9 897.5,1119.1 901.6,1122.0 905.7,1124.8 909.8,1127.3 913.9,1129.6 918.1,1131.8 922.2,1133.8 926.3,1135.7 930.4,1137.5 934.5,1139.1 938.6,1140.7 942.7,1142.1 946.9,1143.5 951.0,1144.9 955.1,1146.1 959.2,1147.3 963.3,1148.4 967.4,1149.5 971.5,1150.6 975.7,1151.6 979.8,1152.5 983.9,1153.4 988.0,1154.2 992.1,1155.1 996.2,1155.8 1000.4,1156.6 1004.5,1157.2 1008.6,1157.9 1012.7,1158.5 1016.8,1159.1 1020.9,1159.6 1025.0,1160.1 1029.2,1160.5 1033.3,1160.9 1037.4,1161.3 1041.5,1161.6 1045.6,1162.0 1049.7,1162.2 1053.8,1162.5 1058.0,1162.7 1062.1,1162.9 1066.2,1163.1 1070.3,1163.3 1074.4,1163.4 1078.5,1163.6 1082.6,1163.7 1086.8,1163.8 1090.9,1163.8 1095.0,1163.9 1099.1,1164.0 1103.2,1164.0 1107.3,1164.1 1111.5,1164.1 1115.6,1164.1 1119.7,1164.2 1123.8,1164.2 1127.9,1164.2 1132.0,1164.2 1136.1,1164.2 1140.3,1164.3 1144.4,1164.3 1148.5,1164.3 1152.6,1164.3 1156.7,1164.3 1160.8,1164.3 1164.9,1164.3 1169.1,1164.3 1173.2,1164.3 1177.3,1164.3 1181.4,1164.3 1185.5,1164.3 1189.6,1164.3 1193.8,1164.3"/><polyline stroke="#80e080" points="128.0,1164.3 132.1,1164.2 136.2,1164.2 140.3,1164.1 144.5,1164.0 148.6,1163.8 152.7,1163.6 156.8,1163.4 160.9,1163.1 165.0,1162.8 169.1,1162.4 173.3,1161.9 177.4,1161.3 181.5,1160.7 185.6,1160.0 189.7,1159.1 193.8,1158.3 198.0,1157.3 202.1,1156.3 206.2,1155.2 210.3,1154.0 214.4,1152.9 218.5,1151.7 222.6,1150.5 226.8,1149.2 230.9,1148.0 235.0,1146.7 239.1,1145.4 243.2,1144.1 247.3,1142.7 251.4,1141.2 255.6,1139.5 259.7,1137.8 263.8,1135.8 267.9,1133.6 272.0,1131.2 276.1,1128.5 280.2,1125.6 284.4,1122.4 288.5,1118.9 292.6,1115.1 296.7,1111.1 300.8,1106.8 304.9,1102.4 309.1,1097.8 313.2,1093.0 317.3,1088.2 321.4,1083.3 325.5,1078.5 329.6,1073.7 333.7,1069.1 337.9,1064.5 342.0,1060.2 346.1,1056.1 350.2,1052.3 354.3,1048.8 358.4,1045.6 362.5,1042.8 366.7,1040.3 370.8,1038.1 374.9,1036.2 379.0,1034.7 383.1,1033.5 387.2,1032.5 391.4,1031.8 395.5,1031.3 399.6,1031.0 403.7,1030.7 407.8,1030.6 411.9,1030.5 416.0,1030.4 420.2,1030.2 424.3,1030.0 428.4,1029.7 432.5,1029.2 436.6,1028.5 440.7,1027.7 444.8,1026.7 449.0,1025.4 453.1,1024.0 457.2,1022.4 461.3,1020.6 465.4,1018.5 469.5,1016.4 473.6,1014.1 477.8,1011.6 481.9,1009.0 486.0,1006.4 490.1,1003.6 494.2,1000.9 498.3,998.1 502.5,995.2 506.6,992.4 510.7,989.5 514.8,986.7 518.9,983.9 523.0,981.1 527.1,978.3 531.3,975.4 535.4,972.6 539.5,969.7 543.6,966.8 547.7,963.8 551.8,960.8 555.9,957.6 560.1,954.3 564.2,950.8 568.3,947.1 572.4,943.3 576.5,939.2 580.6,935.0 584.8,930.4 588.9,925.7 593.0,920.6 597.1,915.3 601.2,909.8 605.3,904.0 609.4,898.1 613.6,891.9 617.7,885.5 621.8,879.0 625.9,872.3 630.0,865.6 634.1,858.9 638.2,852.1 642.4,845.5 646.5,838.9 650.6,832.5 654.7,826.4 658.8,820.5 662.9,815.0 667.0,809.9 671.2,805.2 675.3,801.0 679.4,797.4 683.5,794.4 687.6,792.0 691.7,790.3 695.9,789.2 700.0,788.9 704.1,789.4 708.2,790.6 712.3,792.6 716.4,795.3 720.5,798.8 724.7,803.1 728.8,808.0 732.9,813.7 737.0,820.1 741.1,827.0 745.2,834.6 749.3,842.7 753.5,851.4 757.6,860.4 761.7,869.9 765.8,879.7 769.9,889.8 774.0,900.1 778.1,910.6 782.3,921.2 786.4,931.9 790.5,942.5 794.6,953.1 798.7,963.6 802.8,974.0 807.0,984.1 811.1,994.1 815.2,1003.8 819.3,1013.1 823.4,1022.2 827.5,1030.9 831.6,1039.3 835.8,1047.2 839.9,1054.8 844.0,1062.0 848.1,1068.8 852.2,1075.2 856.3,1081.2 860.4,1086.8 864.6,1092.1 868.7,1097.0 872.8,1101.5 876.9,1105.7 881.0,1109.7 885.1,1113.3 889.2,1116.6 893.4,1119.7 897.5,1122.5 901.6,1125.1 905.7,1127.6 909.8,1129.8 913.9,1131.9 918.1,1133.8 922.2,1135.6 926.3,1137.3 930.4,1138.9 934.5,1140.4 938.6,1141.8 942.7,1143.2 946.9,1144.4 951.0,1145.6 955.1,1146.8 959.2,1147.9 963.3,1149.0 967.4,1150.0 971.5,1151.0 975.7,1151.9 979.8,1152.8 983.9,1153.6 988.0,1154.5 992.1,1155.2 996.2,1156.0 1000.4,1156.7 1004.5,1157.4 1008.6,1158.0 1012.7,1158.6 1016.8,1159.1 1020.9,1159.6 1025.0,1160.1 1029.2,1160.6 1033.3,1161.0 1037.4,1161.3 1041.5,1161.7 1045.6,1162.0 1049.7,1162.3 1053.8,1162.5 1058.0,1162.7 1062.1,1162.9 1066.2,1163.1 1070.3,1163.3 1074.4,1163.4 1078.5,1163.6 1082.6,1163.7 1086.8,1163.8 1090.9,1163.8 1095.0,1163.9 1099.1,1164.0 1103.2,1164.0 1107.3,1164.1 1111.5,1164.1 1115.6,1164.1 1119.7,1164.2 1123.8,1164.2 1127.9,1164.2 1132.0,1164.2 1136.1,1164.2 1140.3,1164.3 1144.4,1164.3 1148.5,1164.3 1152.6,1164.3 1156.7,1164.3 1160.8,1164.3 1164.9,1164.3 1169.1,1164.3 1173.2,1164.3 1177.3,1164.3 1181.4,1164.3 1185.5,1164.3 1189.6,1164.3 1193.8,1164.3"/><polyline stroke="#80e080" points="128.0,1164.3 132.1,1164.2 136.2,1164.2 140.3,1164.1 144.5,1164.0 148.6,1163.8 152.7,1163.7 156.8,1163.5 160.9,1163.2 165.0,1162.9 169.1,1162.5 173.3,1162.0 177.4,1161.5 181.5,1160.9 185.6,1160.3 189.7,1159.5 193.8,1158.7 198.0,1157.9 202.1,1157.0 206.2,1156.0 210.3,1155.1 214.4,1154.1 218.5,1153.1 222.6,1152.2 226.8,1151.3 230.9,1150.4 235.0,1149.5 239.1,1148.6 243.2,1147.7 247.3,1146.8 251.4,1145.9 255.6,1144.9 259.7,1143.8 263.8,1142.5 267.9,1141.1 272.0,1139.4 276.1,1137.6 280.2,1135.5 284.4,1133.1 288.5,1130.4 292.6,1127.5 296.7,1124.3 300.8,1120.9 304.9,1117.2 309.1,1113.3 313.2,1109.1 317.3,1104.9 321.4,1100.5 325.5,1096.0 329.6,1091.4 333.7,1086.9 337.9,1082.3 342.0,1077.9 346.1,1073.5 350.2,1069.3 354.3,1065.2 358.4,1061.4 362.5,1057.7 366.7,1054.3 370.8,1051.1 374.9,1048.2 379.0,1045.5 383.1,1043.0 387.2,1040.8 391.4,1038.8 395.5,1037.0 399.6,1035.4 403.7,1033.9 407.8,1032.5 411.9,1031.2 416.0,1029.9 420.2,1028.7 424.3,1027.4 428.4,1026.1 432.5,1024.8 436.6,1023.3 440.7,1021.8 444.8,1020.1 449.0,1018.4 453.1,1016.5 457.2,1014.5 461.3,1012.3 465.4,1010.1 469.5,1007.8 473.6,1005.3 477.8,1002.9 481.9,1000.3 486.0,997.8 490.1,995.2 494.2,992.6 498.3,990.1 502.5,987.6 506.6,985.1 510.7,982.7 514.8,980.4 518.9,978.1 523.0,975.9 527.1,973.8 531.3,971.7 535.4,969.6 539.5,967.5 543.6,965.4 547.7,963.3 551.8,961.2 555.9,959.0 560.1,956.6 564.2,954.2 568.3,951.5 572.4,948.7 576.5,945.7 580.6,942.5 584.8,939.0 588.9,935.2 593.0,931.2 597.1,926.8 601.2,922.2 605.3,917.3 609.4,912.1 613.6,906.6 617.7,900.8 621.8,894.9 625.9,888.7 630.0,882.3 634.1,875.9 638.2,869.3 642.4,862.7 646.5,856.1 650.6,849.5 654.7,843.1 658.8,836.8 662.9,830.8 667.0,825.0 671.2,819.6 675.3,814.6 679.4,810.0 683.5,806.0 687.6,802.5 691.7,799.6 695.9,797.3 700.0,795.8 704.1,794.9 708.2,794.7 712.3,795.3 716.4,796.7 720.5,798.8 724.7,801.7 728.8,805.3 732.9,809.6 737.0,814.7 741.1,820.5 745.2,826.9 749.3,833.9 753.5,841.5 757.6,849.6 761.7,858.2 765.8,867.3 769.9,876.7 774.0,886.4 778.1,896.4 782.3,906.6 786.4,916.9 790.5,927.3 794.6,937.8 798.7,948.3 802.8,958.6 807.0,968.9 811.1,979.0 815.2,988.9 819.3,998.6 823.4,1008.0 827.5,1017.1 831.6,1025.9 835.8,1034.4 839.9,1042.5 844.0,1050.2 848.1,1057.5 852.2,1064.5 856.3,1071.0 860.4,1077.2 864.6,1083.1 868.7,1088.5 872.8,1093.6 876.9,1098.4 881.0,1102.8 885.1,1106.9 889.2,1110.7 893.4,1114.3 897.5,1117.5 901.6,1120.6 905.7,1123.4 909.8,1126.0 913.9,1128.5 918.1,1130.7 922.2,1132.8 926.3,1134.8 930.4,1136.6 934.5,1138.4 938.6,1140.0 942.7,1141.5 946.9,1143.0 951.0,1144.4 955.1,1145.7 959.2,1146.9 963.3,1148.1 967.4,1149.2 971.5,1150.3 975.7,1151.3 979.8,1152.3 983.9,1153.2 988.0,1154.1 992.1,1154.9 996.2,1155.7 1000.4,1156.5 1004.5,1157.2 1008.6,1157.8 1012.7,1158.4 1016.8,1159.0 1020.9,1159.5 1025.0,1160.0 1029.2,1160.5 1033.3,1160.9 1037.4,1161.3 1041.5,1161.6 1045.6,1161.9 1049.7,1162.2 1053.8,1162.5 1058.0,1162.7 1062.1,1162.9 1066.2,1163.1 1070.3,1163.3 1074.4,1163.4 1078.5,1163.5 1082.6,1163.7 1086.8,1163.8 1090.9,1163.8 1095.0,1163.9 1099.1,1164.0 1103.2,1164.0 1107.3,1164.1 1111.5,1164.1 1115.6,1164.1 1119.7,1164.2 1123.8,1164.2 1127.9,1164.2 1132.0,1164.2 1136.1,1164.2 1140.3,1164.3 1144.4,1164.3 1148.5,1164.3 1152.6,1164.3 1156.7,1164.3 1160.8,1164.3 1164.9,1164.3 1169.1,1164.3 1173.2,1164.3 1177.3,1164.3 1181.4,1164.3 1185.5,1164.3 1189.6,1164.3 1193.8,1164.3"/><polyline stroke="#80e080" points="128.0,1164.3 132.1,1164.2 136.2,1164.2 140.3,1164.1 144.5,1164.0 148.6,1163.8 152.7,1163.7 156.8,1163.4 160.9,1163.2 165.0,1162.9 169.1,1162.5 173.3,1162.0 177.4,1161.5 181.5,1160.9 185.6,1160.2 189.7,1159.5 193.8,1158.7 198.0,1157.8 202.1,1156.9 206.2,1155.9 210.3,1154.9 214.4,1153.9 218.5,1152.9 222.6,1151.9 226.8,1150.9 230.9,1149.9 235.0,1148.9 239.1,1148.0 243.2,1147.0 247.3,1146.0 251.4,1144.9 255.6,1143.7 259.7,1142.4 263.8,1141.0 267.9,1139.3 272.0,1137.5 276.1,1135.4 280.2,1133.0 284.4,1130.3 288.5,1127.4 292.6,1124.2 296.7,1120.7 300.8,1116.9 304.9,1112.8 309.1,1108.6 313.2,1104.2 317.3,1099.6 321.4,1094.9 325.5,1090.1 329.6,1085.3 333.7,1080.5 337.9,1075.8 342.0,1071.2 346.1,1066.8 350.2,1062.5 354.3,1058.5 358.4,1054.7 362.5,1051.2 366.7,1048.0 370.8,1045.2 374.9,1042.6 379.0,1040.4 383.1,1038.5 387.2,1036.9 391.4,1035.5 395.5,1034.5 399.6,1033.6 403.7,1033.0 407.8,1032.5 411.9,1032.1 416.0,1031.9 420.2,1031.7 424.3,1031.5 428.4,1031.3 432.5,1031.0 436.6,1030.6 440.7,1030.2 444.8,1029.6 449.0,1028.9 453.1,1028.0 457.2,1027.0 461.3,1025.8 465.4,1024.5 469.5,1023.0 473.6,1021.4 477.8,1019.7 481.9,1017.8 486.0,1015.9 490.1,1013.9 494.2,1011.8 498.3,1009.7 502.5,1007.5 506.6,1005.3 510.7,1003.1 514.8,1000.8 518.9,998.6 523.0,996.3 527.1,994.0 531.3,991.7 535.4,989.3 539.5,986.9 543.6,984.5 547.7,981.9 551.8,979.2 555.9,976.4 560.1,973.4 564.2,970.3 568.3,966.9 572.4,963.4 576.5,959.5 580.6,955.5 584.8,951.1 588.9,946.5 593.0,941.6 597.1,936.4 601.2,930.9 605.3,925.1 609.4,919.1 613.6,912.8 617.7,906.2 621.8,899.5 625.9,892.5 630.0,885.5 634.1,878.3 638.2,871.1 642.4,863.8 646.5,856.6 650.6,849.5 654.7,842.6 658.8,835.9 662.9,829.5 667.0,823.3 671.2,817.6 675.3,812.4 679.4,807.6 683.5,803.3 687.6,799.7 691.7,796.7 695.9,794.4 700.0,792.8 704.1,791.9 708.2,791.8 712.3,792.5 716.4,793.9 720.5,796.1 724.7,799.1 728.8,802.9 732.9,807.4 737.0,812.6 741.1,818.5 745.2,825.1 749.3,832.3 753.5,840.1 757.6,848.4 761.7,857.2 765.8,866.4 769.9,876.0 774.0,885.9 778.1,896.1 782.3,906.4 786.4,916.9 790.5,927.4 794.6,938.0 798.7,948.6 802.8,959.1 807.0,969.4 811.1,979.6 815.2,989.6 819.3,999.3 823.4,1008.8 827.5,1017.9 831.6,1026.7 835.8,1035.2 839.9,1043.3 844.0,1051.0 848.1,1058.3 852.2,1065.3 856.3,1071.8 860.4,1078.0 864.6,1083.8 868.7,1089.2 872.8,1094.3 876.9,1099.0 881.0,1103.4 885.1,1107.5 889.2,1111.3 893.4,1114.8 897.5,1118.0 901.6,1121.0 905.7,1123.8 909.8,1126.4 913.9,1128.8 918.1,1131.1 922.2,1133.1 926.3,1135.1 930.4,1136.9 934.5,1138.6 938.6,1140.2 942.7,1141.7 946.9,1143.2 951.0,1144.5 955.1,1145.8 959.2,1147.0 963.3,1148.2 967.4,1149.3 971.5,1150.4 975.7,1151.4 979.8,1152.4 983.9,1153.3 988.0,1154.1 992.1,1155.0 996.2,1155.7 1000.4,1156.5 1004.5,1157.2 1008.6,1157.8 1012.7,1158.4 1016.8,1159.0 1020.9,1159.5 1025.0,1160.0 1029.2,1160.5 1033.3,1160.9 1037.4,1161.3 1041.5,1161.6 1045.6,1162.0 1049.7,1162.2 1053.8,1162.5 1058.0,1162.7 1062.1,1162.9 1066.2,1163.1 1070.3,1163.3 1074.4,1163.4 1078.5,1163.6 1082.6,1163.7 1086.8,1163.8 1090.9,1163.8 1095.0,1163.9 1099.1,1164.0 1103.2,1164.0 1107.3,1164.1 1111.5,1164.1 1115.6,1164.1 1119.7,1164.2 1123.8,1164.2 1127.9,1164.2 1132.0,1164.2 1136.1,1164.2 1140.3,1164.3 1144.4,1164.3 1148.5,1164.3 1152.6,1164.3 1156.7,1164.3 1160.8,1164.3 1164.9,1164.3 1169.1,1164.3 1173.2,1164.3 1177.3,1164.3 1181.4,1164.3 1185.5,1164.3 1189.6,1164.3 1193.8,1164.3"/><polyline stroke="#e4105e" points="128.0,1164.3 132.1,1164.2 136.2,1164.2 140.3,1164.1 144.5,1164.0 148.6,1163.8 152.7,1163.7 156.8,1163.5 160.9,1163.2 165.0,1162.9 169.1,1162.5 173.3,1162.1 177.4,1161.6 181.5,1161.0 185.6,1160.4 189.7,1159.6 193.8,1158.9 198.0,1158.0 202.1,1157.2 206.2,1156.3 210.3,1155.4 214.4,1154.5 218.5,1153.6 222.6,1152.7 226.8,1151.8 230.9,1151.0 235.0,1150.2 239.1,1149.5 243.2,1148.7 247.3,1148.0 251.4,1147.2 255.6,1146.3 259.7,1145.4 263.8,1144.3 267.9,1143.0 272.0,1141.6 276.1,1139.9 280.2,1138.0 284.4,1135.8 288.5,1133.3 292.6,1130.5 296.7,1127.5 300.8,1124.1 304.9,1120.5 309.1,1116.6 313.2,1112.5 317.3,1108.2 321.4,1103.8 325.5,1099.2 329.6,1094.5 333.7,1089.7 337.9,1084.9 342.0,1080.2 346.1,1075.5 350.2,1070.9 354.3,1066.4 358.4,1062.1 362.5,1058.0 366.7,1054.1 370.8,1050.5 374.9,1047.0 379.0,1043.9 383.1,1041.0 387.2,1038.3 391.4,1035.9 395.5,1033.7 399.6,1031.8 403.7,1030.0 407.8,1028.4 411.9,1026.9 416.0,1025.5 420.2,1024.1 424.3,1022.8 428.4,1021.6 432.5,1020.3 436.6,1018.9 440.7,1017.5 444.8,1016.1 449.0,1014.5 453.1,1012.8 457.2,1011.0 461.3,1009.1 465.4,1007.1 469.5,1005.0 473.6,1002.8 477.8,1000.5 481.9,998.2 486.0,995.7 490.1,993.3 494.2,990.8 498.3,988.3 502.5,985.8 506.6,983.3 510.7,980.8 514.8,978.3 518.9,975.8 523.0,973.4 527.1,970.9 531.3,968.5 535.4,966.0 539.5,963.5 543.6,961.0 547.7,958.4 551.8,955.7 555.9,952.8 560.1,949.9 564.2,946.8 568.3,943.5 572.4,940.0 576.5,936.3 580.6,932.3 584.8,928.0 588.9,923.5 593.0,918.7 597.1,913.6 601.2,908.3 605.3,902.6 609.4,896.7 613.6,890.5 617.7,884.1 621.8,877.5 625.9,870.8 630.0,863.9 634.1,856.9 638.2,849.9 642.4,842.9 646.5,836.0 650.6,829.2 654.7,822.6 658.8,816.2 662.9,810.1 667.0,804.4 671.2,799.1 675.3,794.2 679.4,789.9 683.5,786.2 687.6,783.1 691.7,780.6 695.9,778.9 700.0,777.9 704.1,777.6 708.2,778.1 712.3,779.4 716.4,781.5 720.5,784.4 724.7,788.1 728.8,792.6 732.9,797.8 737.0,803.7 741.1,810.3 745.2,817.6 749.3,825.5 753.5,833.9 757.6,842.8 761.7,852.2 765.8,862.0 769.9,872.2 774.0,882.6 778.1,893.3 782.3,904.1 786.4,915.0 790.5,926.0 794.6,937.0 798.7,947.9 802.8,958.7 807.0,969.4 811.1,979.8 815.2,990.0 819.3,999.9 823.4,1009.6 827.5,1018.8 831.6,1027.8 835.8,1036.3 839.9,1044.5 844.0,1052.3 848.1,1059.7 852.2,1066.6 856.3,1073.2 860.4,1079.3 864.6,1085.1 868.7,1090.5 872.8,1095.5 876.9,1100.2 881.0,1104.6 885.1,1108.6 889.2,1112.3 893.4,1115.8 897.5,1119.0 901.6,1121.9 905.7,1124.6 909.8,1127.2 913.9,1129.5 918.1,1131.7 922.2,1133.7 926.3,1135.6 930.4,1137.4 934.5,1139.1 938.6,1140.6 942.7,1142.1 946.9,1143.5 951.0,1144.8 955.1,1146.1 959.2,1147.3 963.3,1148.4 967.4,1149.5 971.5,1150.5 975.7,1151.5 979.8,1152.5 983.9,1153.4 988.0,1154.2 992.1,1155.0 996.2,1155.8 1000.4,1156.5 1004.5,1157.2 1008.6,1157.9 1012.7,1158.5 1016.8,1159.0 1020.9,1159.6 1025.0,1160.1 1029.2,1160.5 1033.3,1160.9 1037.4,1161.3 1041.5,1161.6 1045.6,1162.0 1049.7,1162.2 1053.8,1162.5 1058.0,1162.7 1062.1,1162.9 1066.2,1163.1 1070.3,1163.3 1074.4,1163.4 1078.5,1163.6 1082.6,1163.7 1086.8,1163.8 1090.9,1163.8 1095.0,1163.9 1099.1,1164.0 1103.2,1164.0 1107.3,1164.1 1111.5,1164.1 1115.6,1164.1 1119.7,1164.2 1123.8,1164.2 1127.9,1164.2 1132.0,1164.2 1136.1,1164.2 1140.3,1164.3 1144.4,1164.3 1148.5,1164.3 1152.6,1164.3 1156.7,1164.3 1160.8,1164.3 1164.9,1164.3 1169.1,1164.3 1173.2,1164.3 1177.3,1164.3 1181.4,1164.3 1185.5,1164.3 1189.6,1164.3 1193.8,1164.3"/><polyline stroke="#e4105e" points="128.0,1164.3 132.1,1164.2 136.2,1164.2 140.3,1164.1 144.5,1164.0 148.6,1163.8 152.7,1163.7 156.8,1163.4 160.9,1163.2 165.0,1162.9 169.1,1162.5 173.3,1162.0 177.4,1161.5 181.5,1160.9 185.6,1160.2 189.7,1159.5 193.8,1158.6 198.0,1157.8 202.1,1156.8 206.2,1155.8 210.3,1154.8 214.4,1153.8 218.5,1152.8 222.6,1151.8 226.8,1150.8 230.9,1149.8 235.0,1148.8 239.1,1147.9 243.2,1146.9 247.3,1145.9 251.4,1144.8 255.6,1143.6 259.7,1142.3 263.8,1140.8 267.9,1139.2 272.0,1137.3 276.1,1135.2 280.2,1132.9 284.4,1130.2 288.5,1127.3 292.6,1124.1 296.7,1120.6 300.8,1116.9 304.9,1112.9 309.1,1108.7 313.2,1104.3 317.3,1099.7 321.4,1095.1 325.5,1090.3 329.6,1085.6 333.7,1080.8 337.9,1076.1 342.0,1071.5 346.1,1067.0 350.2,1062.7 354.3,1058.6 358.4,1054.7 362.5,1051.1 366.7,1047.7 370.8,1044.6 374.9,1041.8 379.0,1039.2 383.1,1037.0 387.2,1034.9 391.4,1033.1 395.5,1031.5 399.6,1030.1 403.7,1028.8 407.8,1027.7 411.9,1026.6 416.0,1025.5 420.2,1024.5 424.3,1023.5 428.4,1022.3 432.5,1021.2 436.6,1019.9 440.7,1018.4 444.8,1016.9 449.0,1015.2 453.1,1013.4 457.2,1011.4 461.3,1009.2 465.4,1007.0 469.5,1004.6 473.6,1002.1 477.8,999.5 481.9,996.8 486.0,994.1 490.1,991.4 494.2,988.6 498.3,985.8 502.5,983.1 506.6,980.3 510.7,977.6 514.8,974.9 518.9,972.3 523.0,969.6 527.1,967.1 531.3,964.5 535.4,961.9 539.5,959.3 543.6,956.7 547.7,954.0 551.8,951.3 555.9,948.4 560.1,945.4 564.2,942.2 568.3,938.9 572.4,935.4 576.5,931.6 580.6,927.5 584.8,923.2 588.9,918.6 593.0,913.8 597.1,908.6 601.2,903.1 605.3,897.3 609.4,891.3 613.6,885.0 617.7,878.5 621.8,871.7 625.9,864.8 630.0,857.7 634.1,850.5 638.2,843.3 642.4,836.1 646.5,828.9 650.6,821.9 654.7,815.0 658.8,808.3 662.9,802.0 667.0,796.0 671.2,790.5 675.3,785.4 679.4,780.8 683.5,776.8 687.6,773.5 691.7,770.8 695.9,768.9 700.0,767.7 704.1,767.3 708.2,767.7 712.3,768.8 716.4,770.8 720.5,773.7 724.7,777.3 728.8,781.7 732.9,786.9 737.0,792.9 741.1,799.5 745.2,806.9 749.3,814.8 753.5,823.4 757.6,832.5 761.7,842.1 765.8,852.1 769.9,862.5 774.0,873.1 778.1,884.0 782.3,895.1 786.4,906.3 790.5,917.6 794.6,928.9 798.7,940.1 802.8,951.2 807.0,962.2 811.1,973.0 815.2,983.5 819.3,993.8 823.4,1003.7 827.5,1013.3 831.6,1022.6 835.8,1031.5 839.9,1039.9 844.0,1048.0 848.1,1055.7 852.2,1062.9 856.3,1069.7 860.4,1076.2 864.6,1082.2 868.7,1087.8 872.8,1093.1 876.9,1098.0 881.0,1102.5 885.1,1106.7 889.2,1110.6 893.4,1114.2 897.5,1117.5 901.6,1120.6 905.7,1123.5 909.8,1126.1 913.9,1128.6 918.1,1130.9 922.2,1133.0 926.3,1135.0 930.4,1136.8 934.5,1138.5 938.6,1140.2 942.7,1141.7 946.9,1143.1 951.0,1144.5 955.1,1145.8 959.2,1147.0 963.3,1148.2 967.4,1149.3 971.5,1150.4 975.7,1151.4 979.8,1152.4 983.9,1153.3 988.0,1154.2 992.1,1155.0 996.2,1155.8 1000.4,1156.5 1004.5,1157.2 1008.6,1157.8 1012.7,1158.5 1016.8,1159.0 1020.9,1159.6 1025.0,1160.0 1029.2,1160.5 1033.3,1160.9 1037.4,1161.3 1041.5,1161.6 1045.6,1162.0 1049.7,1162.2 1053.8,1162.5 1058.0,1162.7 1062.1,1162.9 1066.2,1163.1 1070.3,1163.3 1074.4,1163.4 1078.5,1163.6 1082.6,1163.7 1086.8,1163.8 1090.9,1163.8 1095.0,1163.9 1099.1,1164.0 1103.2,1164.0 1107.3,1164.1 1111.5,1164.1 1115.6,1164.1 1119.7,1164.2 1123.8,1164.2 1127.9,1164.2 1132.0,1164.2 1136.1,1164.2 1140.3,1164.3 1144.4,1164.3 1148.5,1164.3 1152.6,1164.3 1156.7,1164.3 1160.8,1164.3 1164.9,1164.3 1169.1,1164.3 1173.2,1164.3 1177.3,1164.3 1181.4,1164.3 1185.5,1164.3 1189.6,1164.3 1193.8,1164.3"/><polyline stroke="#e4105e" points="128.0,1164.3 132.1,1164.2 136.2,1164.2 140.3,1164.1 144.5,1164.0 148.6,1163.8 152.7,1163.7 156.8,1163.5 160.9,1163.2 165.0,1162.9 169.1,1162.5 173.3,1162.1 177.4,1161.6 181.5,1161.0 185.6,1160.4 189.7,1159.6 193.8,1158.9 198.0,1158.0 202.1,1157.2 206.2,1156.3 210.3,1155.3 214.4,1154.4 218.5,1153.5 222.6,1152.6 226.8,1151.7 230.9,1150.9 235.0,1150.1 239.1,1149.3 243.2,1148.5 247.3,1147.7 251.4,1146.9 255.6,1145.9 259.7,1144.9 263.8,1143.7 267.9,1142.3 272.0,1140.7 276.1,1138.9 280.2,1136.8 284.4,1134.4 288.5,1131.7 292.6,1128.6 296.7,1125.3 300.8,1121.6 304.9,1117.7 309.1,1113.5 313.2,1109.0 317.3,1104.3 321.4,1099.4 325.5,1094.3 329.6,1089.1 333.7,1083.9 337.9,1078.6 342.0,1073.4 346.1,1068.2 350.2,1063.1 354.3,1058.2 358.4,1053.4 362.5,1048.9 366.7,1044.6 370.8,1040.5 374.9,1036.8 379.0,1033.3 383.1,1030.2 387.2,1027.3 391.4,1024.7 395.5,1022.4 399.6,1020.3 403.7,1018.5 407.8,1016.9 411.9,1015.5 416.0,1014.2 420.2,1013.0 424.3,1011.9 428.4,1010.8 432.5,1009.8 436.6,1008.7 440.7,1007.6 444.8,1006.4 449.0,1005.1 453.1,1003.8 457.2,1002.3 461.3,1000.8 465.4,999.1 469.5,997.3 473.6,995.4 477.8,993.5 481.9,991.4 486.0,989.3 490.1,987.2 494.2,985.0 498.3,982.8 502.5,980.6 506.6,978.4 510.7,976.2 514.8,974.1 518.9,972.0 523.0,969.8 527.1,967.8 531.3,965.7 535.4,963.6 539.5,961.5 543.6,959.3 547.7,957.1 551.8,954.9 555.9,952.5 560.1,950.0 564.2,947.3 568.3,944.5 572.4,941.4 576.5,938.2 580.6,934.6 584.8,930.8 588.9,926.8 593.0,922.4 597.1,917.7 601.2,912.8 605.3,907.5 609.4,901.9 613.6,896.1 617.7,890.0 621.8,883.6 625.9,877.1 630.0,870.4 634.1,863.5 638.2,856.6 642.4,849.7 646.5,842.7 650.6,835.9 654.7,829.1 658.8,822.6 662.9,816.3 667.0,810.3 671.2,804.7 675.3,799.5 679.4,794.8 683.5,790.7 687.6,787.1 691.7,784.2 695.9,781.9 700.0,780.4 704.1,779.6 708.2,779.5 712.3,780.3 716.4,781.8 720.5,784.1 724.7,787.2 728.8,791.1 732.9,795.7 737.0,801.1 741.1,807.2 745.2,814.0 749.3,821.4 753.5,829.4 757.6,837.9 761.7,847.0 765.8,856.5 769.9,866.3 774.0,876.5 778.1,887.0 782.3,897.6 786.4,908.4 790.5,919.3 794.6,930.2 798.7,941.1 802.8,951.9 807.0,962.6 811.1,973.2 815.2,983.5 819.3,993.5 823.4,1003.3 827.5,1012.8 831.6,1021.9 835.8,1030.7 839.9,1039.1 844.0,1047.1 848.1,1054.7 852.2,1061.9 856.3,1068.7 860.4,1075.1 864.6,1081.1 868.7,1086.8 872.8,1092.0 876.9,1097.0 881.0,1101.5 885.1,1105.8 889.2,1109.7 893.4,1113.4 897.5,1116.8 901.6,1119.9 905.7,1122.8 909.8,1125.5 913.9,1128.0 918.1,1130.3 922.2,1132.5 926.3,1134.5 930.4,1136.4 934.5,1138.1 938.6,1139.8 942.7,1141.4 946.9,1142.8 951.0,1144.2 955.1,1145.6 959.2,1146.8 963.3,1148.0 967.4,1149.2 971.5,1150.2 975.7,1151.3 979.8,1152.3 983.9,1153.2 988.0,1154.1 992.1,1154.9 996.2,1155.7 1000.4,1156.4 1004.5,1157.1 1008.6,1157.8 1012.7,1158.4 1016.8,1159.0 1020.9,1159.5 1025.0,1160.0 1029.2,1160.5 1033.3,1160.9 1037.4,1161.3 1041.5,1161.6 1045.6,1161.9 1049.7,1162.2 1053.8,1162.5 1058.0,1162.7 1062.1,1162.9 1066.2,1163.1 1070.3,1163.3 1074.4,1163.4 1078.5,1163.5 1082.6,1163.7 1086.8,1163.8 1090.9,1163.8 1095.0,1163.9 1099.1,1164.0 1103.2,1164.0 1107.3,1164.1 1111.5,1164.1 1115.6,1164.1 1119.7,1164.2 1123.8,1164.2 1127.9,1164.2 1132.0,1164.2 1136.1,1164.2 1140.3,1164.3 1144.4,1164.3 1148.5,1164.3 1152.6,1164.3 1156.7,1164.3 1160.8,1164.3 1164.9,1164.3 1169.1,1164.3 1173.2,1164.3 1177.3,1164.3 1181.4,1164.3 1185.5,1164.3 1189.6,1164.3 1193.8,1164.3"/><polyline stroke="#4a90d8" points="128.0,1164.3 132.1,1164.2 136.2,1164.2 140.3,1164.1 144.5,1164.0 148.6,1163.9 152.7,1163.7 156.8,1163.5 160.9,1163.2 165.0,1162.9 169.1,1162.6 173.3,1162.1 177.4,1161.6 181.5,1161.1 185.6,1160.4 189.7,1159.7 193.8,1159.0 198.0,1158.2 202.1,1157.4 206.2,1156.5 210.3,1155.6 214.4,1154.8 218.5,1153.9 222.6,1153.1 226.8,1152.4 230.9,1151.7 235.0,1151.0 239.1,1150.3 243.2,1149.7 247.3,1149.1 251.4,1148.5 255.6,1147.8 259.7,1147.0 263.8,1146.1 267.9,1145.1 272.0,1143.9 276.1,1142.4 280.2,1140.7 284.4,1138.7 288.5,1136.5 292.6,1133.9 296.7,1131.0 300.8,1127.8 304.9,1124.4 309.1,1120.6 313.2,1116.6 317.3,1112.3 321.4,1107.8 325.5,1103.2 329.6,1098.3 333.7,1093.4 337.9,1088.4 342.0,1083.3 346.1,1078.3 350.2,1073.2 354.3,1068.3 358.4,1063.4 362.5,1058.7 366.7,1054.2 370.8,1049.8 374.9,1045.7 379.0,1041.7 383.1,1038.0 387.2,1034.6 391.4,1031.4 395.5,1028.4 399.6,1025.6 403.7,1023.1 407.8,1020.7 411.9,1018.5 416.0,1016.4 420.2,1014.4 424.3,1012.5 428.4,1010.7 432.5,1008.9 436.6,1007.1 440.7,1005.3 444.8,1003.5 449.0,1001.6 453.1,999.6 457.2,997.6 461.3,995.5 465.4,993.4 469.5,991.2 473.6,988.9 477.8,986.5 481.9,984.1 486.0,981.7 490.1,979.3 494.2,976.9 498.3,974.4 502.5,972.0 506.6,969.6 510.7,967.3 514.8,965.0 518.9,962.7 523.0,960.5 527.1,958.3 531.3,956.2 535.4,954.0 539.5,951.9 543.6,949.7 547.7,947.5 551.8,945.2 555.9,942.8 560.1,940.4 564.2,937.7 568.3,934.9 572.4,932.0 576.5,928.8 580.6,925.4 584.8,921.7 588.9,917.7 593.0,913.5 597.1,909.0 601.2,904.2 605.3,899.1 609.4,893.8 613.6,888.2 617.7,882.3 621.8,876.3 625.9,870.0 630.0,863.7 634.1,857.2 638.2,850.6 642.4,844.1 646.5,837.6 650.6,831.1 654.7,824.9 658.8,818.8 662.9,813.0 667.0,807.5 671.2,802.5 675.3,797.8 679.4,793.7 683.5,790.1 687.6,787.1 691.7,784.8 695.9,783.1 700.0,782.1 704.1,781.9 708.2,782.4 712.3,783.7 716.4,785.7 720.5,788.6 724.7,792.1 728.8,796.5 732.9,801.6 737.0,807.4 741.1,813.9 745.2,821.0 749.3,828.7 753.5,837.0 757.6,845.8 761.7,855.0 765.8,864.7 769.9,874.6 774.0,884.9 778.1,895.4 782.3,906.1 786.4,916.8 790.5,927.7 794.6,938.5 798.7,949.3 802.8,960.0 807.0,970.5 811.1,980.8 815.2,990.9 819.3,1000.7 823.4,1010.3 827.5,1019.5 831.6,1028.3 835.8,1036.8 839.9,1044.9 844.0,1052.6 848.1,1059.9 852.2,1066.8 856.3,1073.4 860.4,1079.5 864.6,1085.2 868.7,1090.6 872.8,1095.6 876.9,1100.3 881.0,1104.6 885.1,1108.6 889.2,1112.3 893.4,1115.8 897.5,1118.9 901.6,1121.9 905.7,1124.6 909.8,1127.1 913.9,1129.5 918.1,1131.7 922.2,1133.7 926.3,1135.6 930.4,1137.4 934.5,1139.0 938.6,1140.6 942.7,1142.1 946.9,1143.5 951.0,1144.8 955.1,1146.0 959.2,1147.2 963.3,1148.4 967.4,1149.5 971.5,1150.5 975.7,1151.5 979.8,1152.5 983.9,1153.4 988.0,1154.2 992.1,1155.0 996.2,1155.8 1000.4,1156.5 1004.5,1157.2 1008.6,1157.9 1012.7,1158.5 1016.8,1159.0 1020.9,1159.6 1025.0,1160.1 1029.2,1160.5 1033.3,1160.9 1037.4,1161.3 1041.5,1161.6 1045.6,1162.0 1049.7,1162.2 1053.8,1162.5 1058.0,1162.7 1062.1,1162.9 1066.2,1163.1 1070.3,1163.3 1074.4,1163.4 1078.5,1163.6 1082.6,1163.7 1086.8,1163.8 1090.9,1163.8 1095.0,1163.9 1099.1,1164.0 1103.2,1164.0 1107.3,1164.1 1111.5,1164.1 1115.6,1164.1 1119.7,1164.2 1123.8,1164.2 1127.9,1164.2 1132.0,1164.2 1136.1,1164.2 1140.3,1164.3 1144.4,1164.3 1148.5,1164.3 1152.6,1164.3 1156.7,1164.3 1160.8,1164.3 1164.9,1164.3 1169.1,1164.3 1173.2,1164.3 1177.3,1164.3 1181.4,1164.3 1185.5,1164.3 1189.6,1164.3 1193.8,1164.3"/><polyline stroke="#4a90d8" points="128.0,1164.3 132.1,1164.2 136.2,1164.2 140.3,1164.1 144.5,1164.0 148.6,1163.8 152.7,1163.6 156.8,1163.4 160.9,1163.2 165.0,1162.8 169.1,1162.4 173.3,1162.0 177.4,1161.5 181.5,1160.8 185.6,1160.2 189.7,1159.4 193.8,1158.5 198.0,1157.6 202.1,1156.7 206.2,1155.7 210.3,1154.6 214.4,1153.6 218.5,1152.5 222.6,1151.4 226.8,1150.4 230.9,1149.3 235.0,1148.2 239.1,1147.2 243.2,1146.1 247.3,1144.9 251.4,1143.7 255.6,1142.3 259.7,1140.8 263.8,1139.2 267.9,1137.3 272.0,1135.2 276.1,1132.8 280.2,1130.2 284.4,1127.2 288.5,1124.0 292.6,1120.5 296.7,1116.6 300.8,1112.6 304.9,1108.2 309.1,1103.6 313.2,1098.9 317.3,1094.0 321.4,1089.0 325.5,1084.0 329.6,1078.9 333.7,1073.9 337.9,1069.0 342.0,1064.2 346.1,1059.5 350.2,1055.1 354.3,1051.0 358.4,1047.1 362.5,1043.5 366.7,1040.3 370.8,1037.4 374.9,1034.8 379.0,1032.5 383.1,1030.6 387.2,1029.0 391.4,1027.7 395.5,1026.6 399.6,1025.8 403.7,1025.1 407.8,1024.6 411.9,1024.2 416.0,1023.9 420.2,1023.6 424.3,1023.3 428.4,1022.9 432.5,1022.5 436.6,1022.0 440.7,1021.4 444.8,1020.6 449.0,1019.7 453.1,1018.6 457.2,1017.4 461.3,1016.0 465.4,1014.4 469.5,1012.7 473.6,1010.9 477.8,1008.9 481.9,1006.9 486.0,1004.8 490.1,1002.6 494.2,1000.4 498.3,998.1 502.5,995.9 506.6,993.6 510.7,991.4 514.8,989.1 518.9,986.9 523.0,984.7 527.1,982.6 531.3,980.4 535.4,978.2 539.5,976.0 543.6,973.8 547.7,971.5 551.8,969.1 555.9,966.7 560.1,964.0 564.2,961.3 568.3,958.3 572.4,955.1 576.5,951.7 580.6,948.0 584.8,944.1 588.9,939.9 593.0,935.3 597.1,930.5 601.2,925.3 605.3,919.9 609.4,914.1 613.6,908.1 617.7,901.8 621.8,895.3 625.9,888.5 630.0,881.6 634.1,874.5 638.2,867.4 642.4,860.1 646.5,852.9 650.6,845.8 654.7,838.8 658.8,832.0 662.9,825.4 667.0,819.1 671.2,813.1 675.3,807.6 679.4,802.6 683.5,798.0 687.6,794.1 691.7,790.8 695.9,788.1 700.0,786.1 704.1,784.9 708.2,784.5 712.3,784.8 716.4,785.9 720.5,787.8 724.7,790.4 728.8,793.9 732.9,798.1 737.0,803.1 741.1,808.8 745.2,815.2 749.3,822.3 753.5,829.9 757.6,838.2 761.7,846.9 765.8,856.1 769.9,865.7 774.0,875.6 778.1,885.8 782.3,896.3 786.4,906.9 790.5,917.6 794.6,928.4 798.7,939.2 802.8,949.9 807.0,960.5 811.1,971.0 815.2,981.2 819.3,991.3 823.4,1001.0 827.5,1010.5 831.6,1019.7 835.8,1028.5 839.9,1036.9 844.0,1045.0 848.1,1052.6 852.2,1059.9 856.3,1066.8 860.4,1073.3 864.6,1079.4 868.7,1085.1 872.8,1090.5 876.9,1095.5 881.0,1100.2 885.1,1104.5 889.2,1108.5 893.4,1112.3 897.5,1115.7 901.6,1119.0 905.7,1121.9 909.8,1124.7 913.9,1127.3 918.1,1129.7 922.2,1131.9 926.3,1133.9 930.4,1135.9 934.5,1137.7 938.6,1139.4 942.7,1141.0 946.9,1142.5 951.0,1144.0 955.1,1145.3 959.2,1146.6 963.3,1147.8 967.4,1149.0 971.5,1150.1 975.7,1151.1 979.8,1152.1 983.9,1153.1 988.0,1154.0 992.1,1154.8 996.2,1155.6 1000.4,1156.4 1004.5,1157.1 1008.6,1157.8 1012.7,1158.4 1016.8,1159.0 1020.9,1159.5 1025.0,1160.0 1029.2,1160.5 1033.3,1160.9 1037.4,1161.3 1041.5,1161.6 1045.6,1161.9 1049.7,1162.2 1053.8,1162.5 1058.0,1162.7 1062.1,1162.9 1066.2,1163.1 1070.3,1163.3 1074.4,1163.4 1078.5,1163.5 1082.6,1163.7 1086.8,1163.8 1090.9,1163.8 1095.0,1163.9 1099.1,1164.0 1103.2,1164.0 1107.3,1164.1 1111.5,1164.1 1115.6,1164.1 1119.7,1164.2 1123.8,1164.2 1127.9,1164.2 1132.0,1164.2 1136.1,1164.2 1140.3,1164.3 1144.4,1164.3 1148.5,1164.3 1152.6,1164.3 1156.7,1164.3 1160.8,1164.3 1164.9,1164.3 1169.1,1164.3 1173.2,1164.3 1177.3,1164.3 1181.4,1164.3 1185.5,1164.3 1189.6,1164.3 1193.8,1164.3"/><polyline stroke="#4a90d8" points="128.0,1164.3 132.1,1164.2 136.2,1164.2 140.3,1164.1 144.5,1164.0 148.6,1163.8 152.7,1163.6 156.8,1163.4 160.9,1163.1 165.0,1162.8 169.1,1162.4 173.3,1161.9 177.4,1161.4 181.5,1160.8 185.6,1160.1 189.7,1159.3 193.8,1158.4 198.0,1157.5 202.1,1156.5 206.2,1155.5 210.3,1154.4 214.4,1153.3 218.5,1152.2 222.6,1151.0 226.8,1149.9 230.9,1148.8 235.0,1147.6 239.1,1146.4 243.2,1145.2 247.3,1144.0 251.4,1142.6 255.6,1141.1 259.7,1139.5 263.8,1137.7 267.9,1135.7 272.0,1133.5 276.1,1130.9 280.2,1128.2 284.4,1125.1 288.5,1121.7 292.6,1118.1 296.7,1114.1 300.8,1109.9 304.9,1105.5 309.1,1100.9 313.2,1096.1 317.3,1091.2 321.4,1086.2 325.5,1081.2 329.6,1076.1 333.7,1071.2 337.9,1066.4 342.0,1061.7 346.1,1057.2 350.2,1052.9 354.3,1048.9 358.4,1045.2 362.5,1041.8 366.7,1038.7 370.8,1035.9 374.9,1033.5 379.0,1031.3 383.1,1029.5 387.2,1028.0 391.4,1026.7 395.5,1025.6 399.6,1024.7 403.7,1024.0 407.8,1023.3 411.9,1022.8 416.0,1022.3 420.2,1021.7 424.3,1021.1 428.4,1020.5 432.5,1019.7 436.6,1018.9 440.7,1017.8 444.8,1016.7 449.0,1015.3 453.1,1013.8 457.2,1012.1 461.3,1010.3 465.4,1008.3 469.5,1006.2 473.6,1004.0 477.8,1001.7 481.9,999.3 486.0,996.9 490.1,994.5 494.2,992.0 498.3,989.6 502.5,987.2 506.6,984.9 510.7,982.6 514.8,980.4 518.9,978.2 523.0,976.1 527.1,974.1 531.3,972.1 535.4,970.2 539.5,968.2 543.6,966.3 547.7,964.3 551.8,962.3 555.9,960.3 560.1,958.1 564.2,955.7 568.3,953.3 572.4,950.6 576.5,947.6 580.6,944.5 584.8,941.0 588.9,937.3 593.0,933.3 597.1,928.9 601.2,924.2 605.3,919.2 609.4,913.9 613.6,908.2 617.7,902.3 621.8,896.0 625.9,889.6 630.0,882.9 634.1,876.0 638.2,868.9 642.4,861.8 646.5,854.7 650.6,847.5 654.7,840.4 658.8,833.5 662.9,826.7 667.0,820.2 671.2,814.0 675.3,808.2 679.4,802.8 683.5,797.9 687.6,793.6 691.7,789.8 695.9,786.7 700.0,784.2 704.1,782.5 708.2,781.5 712.3,781.3 716.4,781.9 720.5,783.2 724.7,785.4 728.8,788.4 732.9,792.1 737.0,796.6 741.1,801.9 745.2,807.9 749.3,814.5 753.5,821.8 757.6,829.8 761.7,838.2 765.8,847.2 769.9,856.6 774.0,866.3 778.1,876.4 782.3,886.8 786.4,897.4 790.5,908.1 794.6,919.0 798.7,929.8 802.8,940.7 807.0,951.4 811.1,962.1 815.2,972.6 819.3,982.8 823.4,992.9 827.5,1002.6 831.6,1012.0 835.8,1021.2 839.9,1029.9 844.0,1038.3 848.1,1046.3 852.2,1053.9 856.3,1061.1 860.4,1067.9 864.6,1074.4 868.7,1080.4 872.8,1086.1 876.9,1091.4 881.0,1096.3 885.1,1101.0 889.2,1105.3 893.4,1109.3 897.5,1113.0 901.6,1116.4 905.7,1119.6 909.8,1122.6 913.9,1125.4 918.1,1127.9 922.2,1130.3 926.3,1132.5 930.4,1134.6 934.5,1136.6 938.6,1138.4 942.7,1140.1 946.9,1141.7 951.0,1143.3 955.1,1144.7 959.2,1146.1 963.3,1147.3 967.4,1148.6 971.5,1149.7 975.7,1150.8 979.8,1151.9 983.9,1152.8 988.0,1153.8 992.1,1154.6 996.2,1155.5 1000.4,1156.3 1004.5,1157.0 1008.6,1157.7 1012.7,1158.3 1016.8,1158.9 1020.9,1159.4 1025.0,1159.9 1029.2,1160.4 1033.3,1160.8 1037.4,1161.2 1041.5,1161.6 1045.6,1161.9 1049.7,1162.2 1053.8,1162.5 1058.0,1162.7 1062.1,1162.9 1066.2,1163.1 1070.3,1163.3 1074.4,1163.4 1078.5,1163.5 1082.6,1163.7 1086.8,1163.8 1090.9,1163.8 1095.0,1163.9 1099.1,1164.0 1103.2,1164.0 1107.3,1164.1 1111.5,1164.1 1115.6,1164.1 1119.7,1164.2 1123.8,1164.2 1127.9,1164.2 1132.0,1164.2 1136.1,1164.2 1140.3,1164.3 1144.4,1164.3 1148.5,1164.3 1152.6,1164.3 1156.7,1164.3 1160.8,1164.3 1164.9,1164.3 1169.1,1164.3 1173.2,1164.3 1177.3,1164.3 1181.4,1164.3 1185.5,1164.3 1189.6,1164.3 1193.8,1164.3"/><polyline stroke="#6cbe10" points="128.0,1164.3 132.1,1164.2 136.2,1164.2 140.3,1164.1 144.5,1164.0 148.6,1163.8 152.7,1163.6 156.8,1163.4 160.9,1163.1 165.0,1162.8 169.1,1162.4 173.3,1162.0 177.4,1161.4 181.5,1160.8 185.6,1160.1 189.7,1159.3 193.8,1158.5 198.0,1157.6 202.1,1156.6 206.2,1155.6 210.3,1154.5 214.4,1153.4 218.5,1152.3 222.6,1151.2 226.8,1150.1 230.9,1149.0 235.0,1147.9 239.1,1146.8 243.2,1145.6 247.3,1144.4 251.4,1143.2 255.6,1141.8 259.7,1140.2 263.8,1138.5 267.9,1136.6 272.0,1134.5 276.1,1132.1 280.2,1129.4 284.4,1126.5 288.5,1123.2 292.6,1119.7 296.7,1115.9 300.8,1111.9 304.9,1107.6 309.1,1103.1 313.2,1098.5 317.3,1093.7 321.4,1088.8 325.5,1083.9 329.6,1079.0 333.7,1074.2 337.9,1069.4 342.0,1064.8 346.1,1060.4 350.2,1056.2 354.3,1052.2 358.4,1048.6 362.5,1045.2 366.7,1042.1 370.8,1039.3 374.9,1036.9 379.0,1034.7 383.1,1032.9 387.2,1031.3 391.4,1029.9 395.5,1028.8 399.6,1027.9 403.7,1027.1 407.8,1026.4 411.9,1025.8 416.0,1025.2 420.2,1024.6 424.3,1024.0 428.4,1023.3 432.5,1022.5 436.6,1021.5 440.7,1020.4 444.8,1019.2 449.0,1017.8 453.1,1016.2 457.2,1014.5 461.3,1012.6 465.4,1010.5 469.5,1008.3 473.6,1006.0 477.8,1003.5 481.9,1001.0 486.0,998.4 490.1,995.8 494.2,993.1 498.3,990.4 502.5,987.8 506.6,985.1 510.7,982.5 514.8,979.9 518.9,977.4 523.0,974.9 527.1,972.4 531.3,970.0 535.4,967.5 539.5,965.1 543.6,962.6 547.7,960.1 551.8,957.6 555.9,954.9 560.1,952.2 564.2,949.3 568.3,946.2 572.4,943.0 576.5,939.6 580.6,935.9 584.8,932.0 588.9,927.9 593.0,923.5 597.1,918.8 601.2,913.9 605.3,908.8 609.4,903.3 613.6,897.7 617.7,891.9 621.8,885.8 625.9,879.7 630.0,873.4 634.1,867.0 638.2,860.6 642.4,854.3 646.5,848.0 650.6,841.8 654.7,835.8 658.8,830.1 662.9,824.6 667.0,819.5 671.2,814.7 675.3,810.5 679.4,806.7 683.5,803.5 687.6,800.8 691.7,798.8 695.9,797.5 700.0,796.9 704.1,796.9 708.2,797.7 712.3,799.3 716.4,801.6 720.5,804.6 724.7,808.4 728.8,812.9 732.9,818.1 737.0,823.9 741.1,830.4 745.2,837.5 749.3,845.1 753.5,853.3 757.6,862.0 761.7,871.0 765.8,880.4 769.9,890.1 774.0,900.1 778.1,910.3 782.3,920.6 786.4,931.0 790.5,941.4 794.6,951.7 798.7,962.1 802.8,972.3 807.0,982.3 811.1,992.1 815.2,1001.7 819.3,1011.0 823.4,1020.0 827.5,1028.7 831.6,1037.1 835.8,1045.0 839.9,1052.7 844.0,1059.9 848.1,1066.7 852.2,1073.2 856.3,1079.3 860.4,1085.0 864.6,1090.3 868.7,1095.3 872.8,1099.9 876.9,1104.2 881.0,1108.2 885.1,1111.9 889.2,1115.4 893.4,1118.5 897.5,1121.4 901.6,1124.2 905.7,1126.7 909.8,1129.0 913.9,1131.1 918.1,1133.1 922.2,1135.0 926.3,1136.8 930.4,1138.4 934.5,1139.9 938.6,1141.4 942.7,1142.8 946.9,1144.1 951.0,1145.3 955.1,1146.5 959.2,1147.7 963.3,1148.8 967.4,1149.8 971.5,1150.8 975.7,1151.8 979.8,1152.7 983.9,1153.5 988.0,1154.4 992.1,1155.2 996.2,1155.9 1000.4,1156.6 1004.5,1157.3 1008.6,1157.9 1012.7,1158.5 1016.8,1159.1 1020.9,1159.6 1025.0,1160.1 1029.2,1160.5 1033.3,1160.9 1037.4,1161.3 1041.5,1161.7 1045.6,1162.0 1049.7,1162.3 1053.8,1162.5 1058.0,1162.7 1062.1,1162.9 1066.2,1163.1 1070.3,1163.3 1074.4,1163.4 1078.5,1163.6 1082.6,1163.7 1086.8,1163.8 1090.9,1163.8 1095.0,1163.9 1099.1,1164.0 1103.2,1164.0 1107.3,1164.1 1111.5,1164.1 1115.6,1164.1 1119.7,1164.2 1123.8,1164.2 1127.9,1164.2 1132.0,1164.2 1136.1,1164.2 1140.3,1164.3 1144.4,1164.3 1148.5,1164.3 1152.6,1164.3 1156.7,1164.3 1160.8,1164.3 1164.9,1164.3 1169.1,1164.3 1173.2,1164.3 1177.3,1164.3 1181.4,1164.3 1185.5,1164.3 1189.6,1164.3 1193.8,1164.3"/><polyline stroke="#6cbe10" points="128.0,1164.3 132.1,1164.2 136.2,1164.2 140.3,1164.1 144.5,1164.0 148.6,1163.8 152.7,1163.6 156.8,1163.4 160.9,1163.1 165.0,1162.8 169.1,1162.4 173.3,1161.9 177.4,1161.4 181.5,1160.8 185.6,1160.1 189.7,1159.3 193.8,1158.4 198.0,1157.5 202.1,1156.5 206.2,1155.5 210.3,1154.4 214.4,1153.3 218.5,1152.2 222.6,1151.1 226.8,1150.0 230.9,1148.9 235.0,1147.8 239.1,1146.6 243.2,1145.5 247.3,1144.2 251.4,1142.9 255.6,1141.5 259.7,1140.0 263.8,1138.2 267.9,1136.3 272.0,1134.2 276.1,1131.8 280.2,1129.1 284.4,1126.2 288.5,1122.9 292.6,1119.4 296.7,1115.6 300.8,1111.6 304.9,1107.4 309.1,1102.9 313.2,1098.3 317.3,1093.6 321.4,1088.7 325.5,1083.9 329.6,1079.1 333.7,1074.3 337.9,1069.6 342.0,1065.0 346.1,1060.6 350.2,1056.5 354.3,1052.5 358.4,1048.8 362.5,1045.4 366.7,1042.3 370.8,1039.4 374.9,1036.9 379.0,1034.6 383.1,1032.6 387.2,1030.8 391.4,1029.3 395.5,1027.9 399.6,1026.6 403.7,1025.5 407.8,1024.5 411.9,1023.5 416.0,1022.4 420.2,1021.4 424.3,1020.3 428.4,1019.1 432.5,1017.7 436.6,1016.3 440.7,1014.7 444.8,1012.9 449.0,1010.9 453.1,1008.8 457.2,1006.5 461.3,1004.0 465.4,1001.4 469.5,998.7 473.6,995.9 477.8,993.0 481.9,990.0 486.0,987.0 490.1,984.0 494.2,981.0 498.3,978.0 502.5,975.0 506.6,972.1 510.7,969.3 514.8,966.5 518.9,963.8 523.0,961.2 527.1,958.7 531.3,956.2 535.4,953.7 539.5,951.3 543.6,948.9 547.7,946.5 551.8,944.0 555.9,941.5 560.1,938.9 564.2,936.1 568.3,933.3 572.4,930.2 576.5,927.0 580.6,923.6 584.8,919.9 588.9,916.0 593.0,911.8 597.1,907.4 601.2,902.7 605.3,897.8 609.4,892.6 613.6,887.2 617.7,881.5 621.8,875.7 625.9,869.8 630.0,863.7 634.1,857.5 638.2,851.3 642.4,845.2 646.5,839.0 650.6,833.0 654.7,827.2 658.8,821.6 662.9,816.3 667.0,811.4 671.2,806.8 675.3,802.7 679.4,799.1 683.5,796.1 687.6,793.6 691.7,791.8 695.9,790.6 700.0,790.1 704.1,790.4 708.2,791.4 712.3,793.1 716.4,795.6 720.5,798.8 724.7,802.8 728.8,807.5 732.9,812.9 737.0,818.9 741.1,825.6 745.2,832.9 749.3,840.8 753.5,849.2 757.6,858.0 761.7,867.3 765.8,876.9 769.9,886.8 774.0,897.0 778.1,907.4 782.3,917.8 786.4,928.4 790.5,939.0 794.6,949.6 798.7,960.0 802.8,970.4 807.0,980.6 811.1,990.5 815.2,1000.3 819.3,1009.7 823.4,1018.8 827.5,1027.6 831.6,1036.1 835.8,1044.2 839.9,1051.9 844.0,1059.2 848.1,1066.1 852.2,1072.6 856.3,1078.8 860.4,1084.6 864.6,1089.9 868.7,1095.0 872.8,1099.6 876.9,1104.0 881.0,1108.0 885.1,1111.7 889.2,1115.2 893.4,1118.4 897.5,1121.3 901.6,1124.1 905.7,1126.6 909.8,1128.9 913.9,1131.1 918.1,1133.1 922.2,1135.0 926.3,1136.7 930.4,1138.4 934.5,1139.9 938.6,1141.4 942.7,1142.8 946.9,1144.1 951.0,1145.3 955.1,1146.5 959.2,1147.7 963.3,1148.8 967.4,1149.8 971.5,1150.8 975.7,1151.8 979.8,1152.7 983.9,1153.5 988.0,1154.4 992.1,1155.2 996.2,1155.9 1000.4,1156.6 1004.5,1157.3 1008.6,1157.9 1012.7,1158.5 1016.8,1159.1 1020.9,1159.6 1025.0,1160.1 1029.2,1160.5 1033.3,1160.9 1037.4,1161.3 1041.5,1161.7 1045.6,1162.0 1049.7,1162.3 1053.8,1162.5 1058.0,1162.7 1062.1,1162.9 1066.2,1163.1 1070.3,1163.3 1074.4,1163.4 1078.5,1163.6 1082.6,1163.7 1086.8,1163.8 1090.9,1163.8 1095.0,1163.9 1099.1,1164.0 1103.2,1164.0 1107.3,1164.1 1111.5,1164.1 1115.6,1164.1 1119.7,1164.2 1123.8,1164.2 1127.9,1164.2 1132.0,1164.2 1136.1,1164.2 1140.3,1164.3 1144.4,1164.3 1148.5,1164.3 1152.6,1164.3 1156.7,1164.3 1160.8,1164.3 1164.9,1164.3 1169.1,1164.3 1173.2,1164.3 1177.3,1164.3 1181.4,1164.3 1185.5,1164.3 1189.6,1164.3 1193.8,1164.3"/><polyline stroke="#6cbe10" points="128.0,1164.3 132.1,1164.2 136.2,1164.2 140.3,1164.1 144.5,1164.0 148.6,1163.8 152.7,1163.7 156.8,1163.5 160.9,1163.2 165.0,1162.9 169.1,1162.5 173.3,1162.1 177.4,1161.6 181.5,1161.0 185.6,1160.3 189.7,1159.6 193.8,1158.8 198.0,1158.0 202.1,1157.1 206.2,1156.2 210.3,1155.3 214.4,1154.3 218.5,1153.4 222.6,1152.5 226.8,1151.6 230.9,1150.7 235.0,1149.9 239.1,1149.1 243.2,1148.3 247.3,1147.4 251.4,1146.5 255.6,1145.5 259.7,1144.4 263.8,1143.1 267.9,1141.7 272.0,1140.0 276.1,1138.1 280.2,1135.9 284.4,1133.4 288.5,1130.7 292.6,1127.5 296.7,1124.1 300.8,1120.4 304.9,1116.4 309.1,1112.1 313.2,1107.5 317.3,1102.8 321.4,1097.8 325.5,1092.7 329.6,1087.6 333.7,1082.4 337.9,1077.2 342.0,1072.0 346.1,1066.9 350.2,1062.0 354.3,1057.2 358.4,1052.7 362.5,1048.4 366.7,1044.4 370.8,1040.7 374.9,1037.3 379.0,1034.2 383.1,1031.5 387.2,1029.1 391.4,1027.1 395.5,1025.3 399.6,1023.9 403.7,1022.7 407.8,1021.7 411.9,1021.0 416.0,1020.4 420.2,1020.0 424.3,1019.6 428.4,1019.3 432.5,1019.0 436.6,1018.7 440.7,1018.3 444.8,1017.9 449.0,1017.4 453.1,1016.8 457.2,1016.1 461.3,1015.2 465.4,1014.2 469.5,1013.1 473.6,1011.8 477.8,1010.5 481.9,1009.0 486.0,1007.4 490.1,1005.8 494.2,1004.0 498.3,1002.2 502.5,1000.4 506.6,998.5 510.7,996.6 514.8,994.7 518.9,992.7 523.0,990.8 527.1,988.8 531.3,986.7 535.4,984.7 539.5,982.6 543.6,980.4 547.7,978.1 551.8,975.7 555.9,973.3 560.1,970.6 564.2,967.8 568.3,964.8 572.4,961.6 576.5,958.2 580.6,954.5 584.8,950.6 588.9,946.4 593.0,941.9 597.1,937.1 601.2,932.1 605.3,926.7 609.4,921.1 613.6,915.3 617.7,909.2 621.8,902.9 625.9,896.4 630.0,889.8 634.1,883.1 638.2,876.3 642.4,869.5 646.5,862.7 650.6,856.1 654.7,849.5 658.8,843.2 662.9,837.1 667.0,831.4 671.2,826.0 675.3,821.0 679.4,816.6 683.5,812.6 687.6,809.2 691.7,806.4 695.9,804.3 700.0,802.9 704.1,802.1 708.2,802.1 712.3,802.8 716.4,804.3 720.5,806.5 724.7,809.5 728.8,813.2 732.9,817.7 737.0,822.8 741.1,828.6 745.2,835.1 749.3,842.1 753.5,849.7 757.6,857.8 761.7,866.4 765.8,875.3 769.9,884.7 774.0,894.3 778.1,904.1 782.3,914.2 786.4,924.4 790.5,934.6 794.6,944.9 798.7,955.1 802.8,965.3 807.0,975.4 811.1,985.2 815.2,994.9 819.3,1004.3 823.4,1013.5 827.5,1022.3 831.6,1030.9 835.8,1039.0 839.9,1046.9 844.0,1054.3 848.1,1061.4 852.2,1068.1 856.3,1074.5 860.4,1080.4 864.6,1086.0 868.7,1091.3 872.8,1096.2 876.9,1100.7 881.0,1104.9 885.1,1108.9 889.2,1112.5 893.4,1115.9 897.5,1119.1 901.6,1122.0 905.7,1124.7 909.8,1127.2 913.9,1129.5 918.1,1131.6 922.2,1133.7 926.3,1135.5 930.4,1137.3 934.5,1139.0 938.6,1140.5 942.7,1142.0 946.9,1143.4 951.0,1144.7 955.1,1146.0 959.2,1147.2 963.3,1148.3 967.4,1149.4 971.5,1150.5 975.7,1151.5 979.8,1152.4 983.9,1153.3 988.0,1154.2 992.1,1155.0 996.2,1155.8 1000.4,1156.5 1004.5,1157.2 1008.6,1157.9 1012.7,1158.5 1016.8,1159.0 1020.9,1159.6 1025.0,1160.0 1029.2,1160.5 1033.3,1160.9 1037.4,1161.3 1041.5,1161.6 1045.6,1162.0 1049.7,1162.2 1053.8,1162.5 1058.0,1162.7 1062.1,1162.9 1066.2,1163.1 1070.3,1163.3 1074.4,1163.4 1078.5,1163.6 1082.6,1163.7 1086.8,1163.8 1090.9,1163.8 1095.0,1163.9 1099.1,1164.0 1103.2,1164.0 1107.3,1164.1 1111.5,1164.1 1115.6,1164.1 1119.7,1164.2 1123.8,1164.2 1127.9,1164.2 1132.0,1164.2 1136.1,1164.2 1140.3,1164.3 1144.4,1164.3 1148.5,1164.3 1152.6,1164.3 1156.7,1164.3 1160.8,1164.3 1164.9,1164.3 1169.1,1164.3 1173.2,1164.3 1177.3,1164.3 1181.4,1164.3 1185.5,1164.3 1189.6,1164.3 1193.8,1164.3"/><polyline stroke="#a444c4" points="128.0,1164.3 132.1,1164.2 136.2,1164.2 140.3,1164.1 144.5,1164.0 148.6,1163.8 152.7,1163.7 156.8,1163.5 160.9,1163.2 165.0,1162.9 169.1,1162.5 173.3,1162.1 177.4,1161.6 181.5,1161.0 185.6,1160.4 189.7,1159.6 193.8,1158.9 198.0,1158.0 202.1,1157.2 206.2,1156.3 210.3,1155.3 214.4,1154.4 218.5,1153.5 222.6,1152.6 226.8,1151.8 230.9,1150.9 235.0,1150.1 239.1,1149.3 243.2,1148.5 247.3,1147.7 251.4,1146.9 255.6,1145.9 259.7,1144.9 263.8,1143.7 267.9,1142.3 272.0,1140.7 276.1,1138.8 280.2,1136.6 284.4,1134.2 288.5,1131.4 292.6,1128.4 296.7,1125.0 300.8,1121.2 304.9,1117.2 309.1,1112.9 313.2,1108.3 317.3,1103.5 321.4,1098.5 325.5,1093.3 329.6,1088.0 333.7,1082.6 337.9,1077.2 342.0,1071.8 346.1,1066.5 350.2,1061.3 354.3,1056.2 358.4,1051.3 362.5,1046.7 366.7,1042.3 370.8,1038.1 374.9,1034.3 379.0,1030.8 383.1,1027.6 387.2,1024.7 391.4,1022.1 395.5,1019.8 399.6,1017.8 403.7,1016.1 407.8,1014.6 411.9,1013.3 416.0,1012.2 420.2,1011.1 424.3,1010.2 428.4,1009.4 432.5,1008.6 436.6,1007.7 440.7,1006.9 444.8,1006.0 449.0,1005.0 453.1,1003.9 457.2,1002.7 461.3,1001.4 465.4,1000.0 469.5,998.4 473.6,996.8 477.8,995.0 481.9,993.2 486.0,991.3 490.1,989.3 494.2,987.3 498.3,985.2 502.5,983.1 506.6,981.0 510.7,978.9 514.8,976.8 518.9,974.7 523.0,972.6 527.1,970.5 531.3,968.4 535.4,966.3 539.5,964.1 543.6,961.9 547.7,959.6 551.8,957.2 555.9,954.7 560.1,952.1 564.2,949.3 568.3,946.3 572.4,943.1 576.5,939.7 580.6,936.1 584.8,932.1 588.9,927.9 593.0,923.4 597.1,918.6 601.2,913.5 605.3,908.1 609.4,902.5 613.6,896.5 617.7,890.4 621.8,884.0 625.9,877.4 630.0,870.6 634.1,863.8 638.2,856.9 642.4,850.0 646.5,843.1 650.6,836.3 654.7,829.6 658.8,823.2 662.9,817.0 667.0,811.2 671.2,805.7 675.3,800.7 679.4,796.1 683.5,792.2 687.6,788.8 691.7,786.1 695.9,784.0 700.0,782.6 704.1,782.0 708.2,782.2 712.3,783.1 716.4,784.8 720.5,787.4 724.7,790.6 728.8,794.7 732.9,799.5 737.0,805.0 741.1,811.3 745.2,818.2 749.3,825.7 753.5,833.8 757.6,842.4 761.7,851.5 765.8,861.0 769.9,870.9 774.0,881.1 778.1,891.6 782.3,902.2 786.4,912.9 790.5,923.8 794.6,934.6 798.7,945.4 802.8,956.2 807.0,966.7 811.1,977.1 815.2,987.3 819.3,997.3 823.4,1006.9 827.5,1016.2 831.6,1025.2 835.8,1033.8 839.9,1042.0 844.0,1049.9 848.1,1057.3 852.2,1064.4 856.3,1071.1 860.4,1077.3 864.6,1083.2 868.7,1088.7 872.8,1093.8 876.9,1098.6 881.0,1103.1 885.1,1107.2 889.2,1111.0 893.4,1114.6 897.5,1117.9 901.6,1120.9 905.7,1123.7 909.8,1126.3 913.9,1128.7 918.1,1131.0 922.2,1133.1 926.3,1135.0 930.4,1136.9 934.5,1138.6 938.6,1140.2 942.7,1141.7 946.9,1143.2 951.0,1144.5 955.1,1145.8 959.2,1147.0 963.3,1148.2 967.4,1149.3 971.5,1150.4 975.7,1151.4 979.8,1152.4 983.9,1153.3 988.0,1154.1 992.1,1155.0 996.2,1155.8 1000.4,1156.5 1004.5,1157.2 1008.6,1157.8 1012.7,1158.4 1016.8,1159.0 1020.9,1159.5 1025.0,1160.0 1029.2,1160.5 1033.3,1160.9 1037.4,1161.3 1041.5,1161.6 1045.6,1162.0 1049.7,1162.2 1053.8,1162.5 1058.0,1162.7 1062.1,1162.9 1066.2,1163.1 1070.3,1163.3 1074.4,1163.4 1078.5,1163.6 1082.6,1163.7 1086.8,1163.8 1090.9,1163.8 1095.0,1163.9 1099.1,1164.0 1103.2,1164.0 1107.3,1164.1 1111.5,1164.1 1115.6,1164.1 1119.7,1164.2 1123.8,1164.2 1127.9,1164.2 1132.0,1164.2 1136.1,1164.2 1140.3,1164.3 1144.4,1164.3 1148.5,1164.3 1152.6,1164.3 1156.7,1164.3 1160.8,1164.3 1164.9,1164.3 1169.1,1164.3 1173.2,1164.3 1177.3,1164.3 1181.4,1164.3 1185.5,1164.3 1189.6,1164.3 1193.8,1164.3"/><polyline stroke="#a444c4" points="128.0,1164.3 132.1,1164.2 136.2,1164.2 140.3,1164.1 144.5,1164.0 148.6,1163.8 152.7,1163.7 156.8,1163.4 160.9,1163.2 165.0,1162.8 169.1,1162.5 173.3,1162.0 177.4,1161.5 181.5,1160.9 185.6,1160.2 189.7,1159.4 193.8,1158.6 198.0,1157.7 202.1,1156.8 206.2,1155.8 210.3,1154.8 214.4,1153.7 218.5,1152.7 222.6,1151.7 226.8,1150.6 230.9,1149.6 235.0,1148.6 239.1,1147.6 243.2,1146.6 247.3,1145.5 251.4,1144.4 255.6,1143.1 259.7,1141.8 263.8,1140.2 267.9,1138.5 272.0,1136.6 276.1,1134.4 280.2,1132.0 284.4,1129.2 288.5,1126.2 292.6,1122.9 296.7,1119.4 300.8,1115.5 304.9,1111.4 309.1,1107.1 313.2,1102.6 317.3,1098.0 321.4,1093.3 325.5,1088.5 329.6,1083.6 333.7,1078.8 337.9,1074.1 342.0,1069.4 346.1,1065.0 350.2,1060.7 354.3,1056.6 358.4,1052.7 362.5,1049.1 366.7,1045.8 370.8,1042.8 374.9,1040.1 379.0,1037.7 383.1,1035.5 387.2,1033.6 391.4,1032.0 395.5,1030.5 399.6,1029.3 403.7,1028.2 407.8,1027.2 411.9,1026.3 416.0,1025.4 420.2,1024.6 424.3,1023.8 428.4,1022.8 432.5,1021.8 436.6,1020.7 440.7,1019.5 444.8,1018.2 449.0,1016.7 453.1,1015.0 457.2,1013.2 461.3,1011.2 465.4,1009.2 469.5,1006.9 473.6,1004.6 477.8,1002.2 481.9,999.7 486.0,997.2 490.1,994.6 494.2,992.0 498.3,989.4 502.5,986.8 506.6,984.2 510.7,981.7 514.8,979.2 518.9,976.7 523.0,974.3 527.1,971.9 531.3,969.5 535.4,967.2 539.5,964.8 543.6,962.4 547.7,960.0 551.8,957.5 555.9,954.9 560.1,952.1 564.2,949.2 568.3,946.2 572.4,942.9 576.5,939.4 580.6,935.7 584.8,931.7 588.9,927.4 593.0,922.8 597.1,917.9 601.2,912.7 605.3,907.3 609.4,901.5 613.6,895.5 617.7,889.2 621.8,882.7 625.9,876.0 630.0,869.2 634.1,862.2 638.2,855.2 642.4,848.1 646.5,841.1 650.6,834.2 654.7,827.4 658.8,820.8 662.9,814.5 667.0,808.5 671.2,802.9 675.3,797.7 679.4,793.0 683.5,788.9 687.6,785.4 691.7,782.6 695.9,780.4 700.0,778.9 704.1,778.2 708.2,778.3 712.3,779.1 716.4,780.8 720.5,783.2 724.7,786.4 728.8,790.4 732.9,795.2 737.0,800.7 741.1,806.9 745.2,813.8 749.3,821.4 753.5,829.5 757.6,838.1 761.7,847.3 765.8,856.9 769.9,866.8 774.0,877.1 778.1,887.6 782.3,898.3 786.4,909.2 790.5,920.1 794.6,931.1 798.7,942.0 802.8,952.9 807.0,963.6 811.1,974.1 815.2,984.4 819.3,994.5 823.4,1004.3 827.5,1013.7 831.6,1022.8 835.8,1031.6 839.9,1040.0 844.0,1047.9 848.1,1055.5 852.2,1062.7 856.3,1069.5 860.4,1075.8 864.6,1081.8 868.7,1087.4 872.8,1092.7 876.9,1097.5 881.0,1102.1 885.1,1106.3 889.2,1110.2 893.4,1113.8 897.5,1117.2 901.6,1120.3 905.7,1123.2 909.8,1125.8 913.9,1128.3 918.1,1130.6 922.2,1132.7 926.3,1134.7 930.4,1136.6 934.5,1138.3 938.6,1140.0 942.7,1141.5 946.9,1143.0 951.0,1144.4 955.1,1145.7 959.2,1146.9 963.3,1148.1 967.4,1149.2 971.5,1150.3 975.7,1151.3 979.8,1152.3 983.9,1153.2 988.0,1154.1 992.1,1154.9 996.2,1155.7 1000.4,1156.5 1004.5,1157.2 1008.6,1157.8 1012.7,1158.4 1016.8,1159.0 1020.9,1159.5 1025.0,1160.0 1029.2,1160.5 1033.3,1160.9 1037.4,1161.3 1041.5,1161.6 1045.6,1161.9 1049.7,1162.2 1053.8,1162.5 1058.0,1162.7 1062.1,1162.9 1066.2,1163.1 1070.3,1163.3 1074.4,1163.4 1078.5,1163.5 1082.6,1163.7 1086.8,1163.8 1090.9,1163.8 1095.0,1163.9 1099.1,1164.0 1103.2,1164.0 1107.3,1164.1 1111.5,1164.1 1115.6,1164.1 1119.7,1164.2 1123.8,1164.2 1127.9,1164.2 1132.0,1164.2 1136.1,1164.2 1140.3,1164.3 1144.4,1164.3 1148.5,1164.3 1152.6,1164.3 1156.7,1164.3 1160.8,1164.3 1164.9,1164.3 1169.1,1164.3 1173.2,1164.3 1177.3,1164.3 1181.4,1164.3 1185.5,1164.3 1189.6,1164.3 1193.8,1164.3"/><polyline stroke="#a444c4" points="128.0,1164.3 132.1,1164.2 136.2,1164.2 140.3,1164.1 144.5,1164.0 148.6,1163.8 152.7,1163.7 156.8,1163.5 160.9,1163.2 165.0,1162.9 169.1,1162.5 173.3,1162.1 177.4,1161.6 181.5,1161.0 185.6,1160.3 189.7,1159.6 193.8,1158.8 198.0,1157.9 202.1,1157.1 206.2,1156.1 210.3,1155.2 214.4,1154.2 218.5,1153.3 222.6,1152.4 226.8,1151.5 230.9,1150.6 235.0,1149.7 239.1,1148.9 243.2,1148.1 247.3,1147.2 251.4,1146.3 255.6,1145.3 259.7,1144.3 263.8,1143.0 267.9,1141.6 272.0,1140.0 276.1,1138.1 280.2,1136.0 284.4,1133.7 288.5,1131.0 292.6,1128.0 296.7,1124.8 300.8,1121.2 304.9,1117.4 309.1,1113.4 313.2,1109.1 317.3,1104.7 321.4,1100.1 325.5,1095.3 329.6,1090.5 333.7,1085.7 337.9,1080.9 342.0,1076.1 346.1,1071.4 350.2,1066.8 354.3,1062.4 358.4,1058.2 362.5,1054.2 366.7,1050.4 370.8,1046.9 374.9,1043.6 379.0,1040.6 383.1,1037.9 387.2,1035.4 391.4,1033.2 395.5,1031.1 399.6,1029.3 403.7,1027.7 407.8,1026.2 411.9,1024.8 416.0,1023.6 420.2,1022.3 424.3,1021.1 428.4,1019.9 432.5,1018.7 436.6,1017.4 440.7,1016.0 444.8,1014.5 449.0,1012.9 453.1,1011.3 457.2,1009.5 461.3,1007.6 465.4,1005.6 469.5,1003.5 473.6,1001.3 477.8,999.0 481.9,996.8 486.0,994.4 490.1,992.1 494.2,989.7 498.3,987.4 502.5,985.1 506.6,982.9 510.7,980.7 514.8,978.5 518.9,976.5 523.0,974.4 527.1,972.5 531.3,970.5 535.4,968.6 539.5,966.7 543.6,964.8 547.7,962.9 551.8,960.9 555.9,958.8 560.1,956.6 564.2,954.3 568.3,951.8 572.4,949.1 576.5,946.2 580.6,943.0 584.8,939.6 588.9,935.9 593.0,931.8 597.1,927.5 601.2,922.8 605.3,917.8 609.4,912.5 613.6,906.9 617.7,901.0 621.8,894.8 625.9,888.4 630.0,881.8 634.1,875.0 638.2,868.1 642.4,861.1 646.5,854.0 650.6,847.0 654.7,840.1 658.8,833.3 662.9,826.7 667.0,820.3 671.2,814.3 675.3,808.7 679.4,803.5 683.5,798.8 687.6,794.6 691.7,791.0 695.9,788.1 700.0,785.9 704.1,784.4 708.2,783.6 712.3,783.6 716.4,784.3 720.5,785.9 724.7,788.2 728.8,791.4 732.9,795.3 737.0,799.9 741.1,805.3 745.2,811.4 749.3,818.2 753.5,825.6 757.6,833.6 761.7,842.1 765.8,851.1 769.9,860.5 774.0,870.3 778.1,880.5 782.3,890.8 786.4,901.4 790.5,912.1 794.6,922.9 798.7,933.6 802.8,944.4 807.0,955.1 811.1,965.6 815.2,976.0 819.3,986.2 823.4,996.1 827.5,1005.7 831.6,1015.0 835.8,1024.0 839.9,1032.6 844.0,1040.9 848.1,1048.7 852.2,1056.2 856.3,1063.3 860.4,1070.0 864.6,1076.3 868.7,1082.2 872.8,1087.7 876.9,1092.9 881.0,1097.8 885.1,1102.3 889.2,1106.5 893.4,1110.4 897.5,1114.0 901.6,1117.4 905.7,1120.5 909.8,1123.4 913.9,1126.1 918.1,1128.6 922.2,1130.9 926.3,1133.1 930.4,1135.1 934.5,1137.0 938.6,1138.8 942.7,1140.4 946.9,1142.0 951.0,1143.5 955.1,1144.9 959.2,1146.3 963.3,1147.5 967.4,1148.7 971.5,1149.9 975.7,1150.9 979.8,1152.0 983.9,1152.9 988.0,1153.8 992.1,1154.7 996.2,1155.5 1000.4,1156.3 1004.5,1157.0 1008.6,1157.7 1012.7,1158.3 1016.8,1158.9 1020.9,1159.5 1025.0,1160.0 1029.2,1160.4 1033.3,1160.9 1037.4,1161.2 1041.5,1161.6 1045.6,1161.9 1049.7,1162.2 1053.8,1162.5 1058.0,1162.7 1062.1,1162.9 1066.2,1163.1 1070.3,1163.3 1074.4,1163.4 1078.5,1163.5 1082.6,1163.7 1086.8,1163.8 1090.9,1163.8 1095.0,1163.9 1099.1,1164.0 1103.2,1164.0 1107.3,1164.1 1111.5,1164.1 1115.6,1164.1 1119.7,1164.2 1123.8,1164.2 1127.9,1164.2 1132.0,1164.2 1136.1,1164.2 1140.3,1164.3 1144.4,1164.3 1148.5,1164.3 1152.6,1164.3 1156.7,1164.3 1160.8,1164.3 1164.9,1164.3 1169.1,1164.3 1173.2,1164.3 1177.3,1164.3 1181.4,1164.3 1185.5,1164.3 1189.6,1164.3 1193.8,1164.3"/><polyline stroke="#ee5a12" points="128.0,1164.3 132.1,1164.2 136.2,1164.2 140.3,1164.1 144.5,1164.0 148.6,1163.8 152.7,1163.7 156.8,1163.4 160.9,1163.2 165.0,1162.8 169.1,1162.5 173.3,1162.0 177.4,1161.5 181.5,1160.9 185.6,1160.2 189.7,1159.4 193.8,1158.6 198.0,1157.7 202.1,1156.8 206.2,1155.8 210.3,1154.8 214.4,1153.8 218.5,1152.8 222.6,1151.7 226.8,1150.7 230.9,1149.7 235.0,1148.7 239.1,1147.7 243.2,1146.7 247.3,1145.6 251.4,1144.5 255.6,1143.2 259.7,1141.9 263.8,1140.3 267.9,1138.6 272.0,1136.7 276.1,1134.4 280.2,1132.0 284.4,1129.2 288.5,1126.1 292.6,1122.8 296.7,1119.1 300.8,1115.2 304.9,1111.0 309.1,1106.6 313.2,1102.0 317.3,1097.2 321.4,1092.3 325.5,1087.3 329.6,1082.3 333.7,1077.3 337.9,1072.3 342.0,1067.5 346.1,1062.7 350.2,1058.2 354.3,1053.8 358.4,1049.7 362.5,1045.8 366.7,1042.3 370.8,1039.0 374.9,1036.0 379.0,1033.3 383.1,1030.8 387.2,1028.7 391.4,1026.8 395.5,1025.1 399.6,1023.6 403.7,1022.3 407.8,1021.1 411.9,1020.0 416.0,1018.9 420.2,1017.9 424.3,1016.8 428.4,1015.8 432.5,1014.6 436.6,1013.4 440.7,1012.0 444.8,1010.6 449.0,1009.0 453.1,1007.2 457.2,1005.3 461.3,1003.3 465.4,1001.2 469.5,999.0 473.6,996.6 477.8,994.2 481.9,991.8 486.0,989.3 490.1,986.9 494.2,984.4 498.3,982.0 502.5,979.6 506.6,977.3 510.7,975.0 514.8,972.8 518.9,970.7 523.0,968.7 527.1,966.8 531.3,965.0 535.4,963.2 539.5,961.4 543.6,959.7 547.7,957.9 551.8,956.1 555.9,954.3 560.1,952.4 564.2,950.3 568.3,948.1 572.4,945.8 576.5,943.2 580.6,940.4 584.8,937.4 588.9,934.0 593.0,930.4 597.1,926.5 601.2,922.3 605.3,917.8 609.4,912.9 613.6,907.8 617.7,902.4 621.8,896.7 625.9,890.8 630.0,884.6 634.1,878.3 638.2,871.9 642.4,865.4 646.5,858.8 650.6,852.2 654.7,845.7 658.8,839.4 662.9,833.2 667.0,827.3 671.2,821.7 675.3,816.4 679.4,811.6 683.5,807.2 687.6,803.3 691.7,800.1 695.9,797.4 700.0,795.4 704.1,794.1 708.2,793.5 712.3,793.6 716.4,794.5 720.5,796.2 724.7,798.6 728.8,801.7 732.9,805.6 737.0,810.3 741.1,815.6 745.2,821.7 749.3,828.3 753.5,835.6 757.6,843.4 761.7,851.8 765.8,860.6 769.9,869.8 774.0,879.3 778.1,889.2 782.3,899.3 786.4,909.6 790.5,920.0 794.6,930.5 798.7,941.0 802.8,951.4 807.0,961.8 811.1,972.0 815.2,982.1 819.3,991.9 823.4,1001.5 827.5,1010.8 831.6,1019.8 835.8,1028.5 839.9,1036.8 844.0,1044.8 848.1,1052.4 852.2,1059.6 856.3,1066.5 860.4,1072.9 864.6,1079.0 868.7,1084.7 872.8,1090.0 876.9,1095.0 881.0,1099.7 885.1,1104.0 889.2,1108.1 893.4,1111.8 897.5,1115.3 901.6,1118.5 905.7,1121.5 909.8,1124.3 913.9,1126.9 918.1,1129.3 922.2,1131.6 926.3,1133.7 930.4,1135.6 934.5,1137.5 938.6,1139.2 942.7,1140.8 946.9,1142.3 951.0,1143.8 955.1,1145.2 959.2,1146.5 963.3,1147.7 967.4,1148.9 971.5,1150.0 975.7,1151.1 979.8,1152.1 983.9,1153.0 988.0,1153.9 992.1,1154.8 996.2,1155.6 1000.4,1156.3 1004.5,1157.1 1008.6,1157.7 1012.7,1158.4 1016.8,1158.9 1020.9,1159.5 1025.0,1160.0 1029.2,1160.4 1033.3,1160.9 1037.4,1161.3 1041.5,1161.6 1045.6,1161.9 1049.7,1162.2 1053.8,1162.5 1058.0,1162.7 1062.1,1162.9 1066.2,1163.1 1070.3,1163.3 1074.4,1163.4 1078.5,1163.5 1082.6,1163.7 1086.8,1163.8 1090.9,1163.8 1095.0,1163.9 1099.1,1164.0 1103.2,1164.0 1107.3,1164.1 1111.5,1164.1 1115.6,1164.1 1119.7,1164.2 1123.8,1164.2 1127.9,1164.2 1132.0,1164.2 1136.1,1164.2 1140.3,1164.3 1144.4,1164.3 1148.5,1164.3 1152.6,1164.3 1156.7,1164.3 1160.8,1164.3 1164.9,1164.3 1169.1,1164.3 1173.2,1164.3 1177.3,1164.3 1181.4,1164.3 1185.5,1164.3 1189.6,1164.3 1193.8,1164.3"/><polyline stroke="#ee5a12" points="128.0,1164.3 132.1,1164.2 136.2,1164.2 140.3,1164.1 144.5,1163.9 148.6,1163.8 152.7,1163.6 156.8,1163.4 160.9,1163.1 165.0,1162.7 169.1,1162.3 173.3,1161.8 177.4,1161.2 181.5,1160.5 185.6,1159.8 189.7,1158.9 193.8,1158.0 198.0,1157.0 202.1,1155.9 206.2,1154.8 210.3,1153.6 214.4,1152.3 218.5,1151.0 222.6,1149.7 226.8,1148.3 230.9,1147.0 235.0,1145.6 239.1,1144.1 243.2,1142.6 247.3,1141.0 251.4,1139.3 255.6,1137.5 259.7,1135.5 263.8,1133.4 267.9,1131.0 272.0,1128.4 276.1,1125.5 280.2,1122.4 284.4,1119.0 288.5,1115.4 292.6,1111.5 296.7,1107.4 300.8,1103.1 304.9,1098.6 309.1,1094.0 313.2,1089.3 317.3,1084.6 321.4,1079.9 325.5,1075.3 329.6,1070.8 333.7,1066.4 337.9,1062.2 342.0,1058.3 346.1,1054.6 350.2,1051.2 354.3,1048.2 358.4,1045.4 362.5,1043.1 366.7,1041.0 370.8,1039.3 374.9,1037.9 379.0,1036.8 383.1,1036.0 387.2,1035.5 391.4,1035.1 395.5,1034.9 399.6,1034.8 403.7,1034.8 407.8,1034.8 411.9,1034.8 416.0,1034.7 420.2,1034.6 424.3,1034.3 428.4,1033.9 432.5,1033.3 436.6,1032.5 440.7,1031.5 444.8,1030.3 449.0,1028.9 453.1,1027.2 457.2,1025.4 461.3,1023.3 465.4,1021.0 469.5,1018.6 473.6,1016.1 477.8,1013.4 481.9,1010.7 486.0,1007.8 490.1,1004.9 494.2,1002.0 498.3,999.0 502.5,996.1 506.6,993.1 510.7,990.2 514.8,987.3 518.9,984.4 523.0,981.5 527.1,978.7 531.3,975.9 535.4,973.0 539.5,970.2 543.6,967.3 547.7,964.3 551.8,961.3 555.9,958.1 560.1,954.9 564.2,951.4 568.3,947.8 572.4,944.0 576.5,940.0 580.6,935.8 584.8,931.3 588.9,926.6 593.0,921.6 597.1,916.3 601.2,910.9 605.3,905.1 609.4,899.1 613.6,892.9 617.7,886.6 621.8,880.0 625.9,873.4 630.0,866.7 634.1,859.9 638.2,853.1 642.4,846.4 646.5,839.8 650.6,833.3 654.7,827.1 658.8,821.2 662.9,815.5 667.0,810.3 671.2,805.5 675.3,801.2 679.4,797.5 683.5,794.3 687.6,791.8 691.7,789.9 695.9,788.8 700.0,788.4 704.1,788.7 708.2,789.7 712.3,791.6 716.4,794.2 720.5,797.6 724.7,801.7 728.8,806.5 732.9,812.1 737.0,818.3 741.1,825.2 745.2,832.7 749.3,840.7 753.5,849.3 757.6,858.3 761.7,867.7 765.8,877.5 769.9,887.6 774.0,897.9 778.1,908.4 782.3,919.0 786.4,929.6 790.5,940.3 794.6,950.9 798.7,961.5 802.8,971.9 807.0,982.1 811.1,992.1 815.2,1001.8 819.3,1011.2 823.4,1020.4 827.5,1029.2 831.6,1037.6 835.8,1045.6 839.9,1053.3 844.0,1060.6 848.1,1067.4 852.2,1073.9 856.3,1080.0 860.4,1085.7 864.6,1091.0 868.7,1096.0 872.8,1100.6 876.9,1104.9 881.0,1108.9 885.1,1112.5 889.2,1115.9 893.4,1119.1 897.5,1122.0 901.6,1124.6 905.7,1127.1 909.8,1129.4 913.9,1131.5 918.1,1133.5 922.2,1135.3 926.3,1137.1 930.4,1138.7 934.5,1140.2 938.6,1141.6 942.7,1143.0 946.9,1144.3 951.0,1145.5 955.1,1146.7 959.2,1147.8 963.3,1148.9 967.4,1149.9 971.5,1150.9 975.7,1151.8 979.8,1152.7 983.9,1153.6 988.0,1154.4 992.1,1155.2 996.2,1156.0 1000.4,1156.7 1004.5,1157.3 1008.6,1158.0 1012.7,1158.6 1016.8,1159.1 1020.9,1159.6 1025.0,1160.1 1029.2,1160.5 1033.3,1161.0 1037.4,1161.3 1041.5,1161.7 1045.6,1162.0 1049.7,1162.3 1053.8,1162.5 1058.0,1162.7 1062.1,1162.9 1066.2,1163.1 1070.3,1163.3 1074.4,1163.4 1078.5,1163.6 1082.6,1163.7 1086.8,1163.8 1090.9,1163.8 1095.0,1163.9 1099.1,1164.0 1103.2,1164.0 1107.3,1164.1 1111.5,1164.1 1115.6,1164.1 1119.7,1164.2 1123.8,1164.2 1127.9,1164.2 1132.0,1164.2 1136.1,1164.2 1140.3,1164.3 1144.4,1164.3 1148.5,1164.3 1152.6,1164.3 1156.7,1164.3 1160.8,1164.3 1164.9,1164.3 1169.1,1164.3 1173.2,1164.3 1177.3,1164.3 1181.4,1164.3 1185.5,1164.3 1189.6,1164.3 1193.8,1164.3"/><polyline stroke="#ee5a12" points="128.0,1164.3 132.1,1164.2 136.2,1164.2 140.3,1164.1 144.5,1164.0 148.6,1163.8 152.7,1163.6 156.8,1163.4 160.9,1163.1 165.0,1162.8 169.1,1162.4 173.3,1161.9 177.4,1161.4 181.5,1160.8 185.6,1160.1 189.7,1159.3 193.8,1158.4 198.0,1157.5 202.1,1156.5 206.2,1155.5 210.3,1154.4 214.4,1153.3 218.5,1152.2 222.6,1151.1 226.8,1150.0 230.9,1148.9 235.0,1147.8 239.1,1146.7 243.2,1145.5 247.3,1144.3 251.4,1143.0 255.6,1141.6 259.7,1140.0 263.8,1138.3 267.9,1136.4 272.0,1134.3 276.1,1132.0 280.2,1129.3 284.4,1126.4 288.5,1123.2 292.6,1119.8 296.7,1116.1 300.8,1112.1 304.9,1107.9 309.1,1103.6 313.2,1099.1 317.3,1094.4 321.4,1089.8 325.5,1085.0 329.6,1080.3 333.7,1075.7 337.9,1071.2 342.0,1066.8 346.1,1062.7 350.2,1058.7 354.3,1055.0 358.4,1051.6 362.5,1048.4 366.7,1045.6 370.8,1043.1 374.9,1040.8 379.0,1038.9 383.1,1037.3 387.2,1035.9 391.4,1034.7 395.5,1033.7 399.6,1032.9 403.7,1032.3 407.8,1031.7 411.9,1031.2 416.0,1030.7 420.2,1030.2 424.3,1029.7 428.4,1029.0 432.5,1028.3 436.6,1027.4 440.7,1026.4 444.8,1025.3 449.0,1023.9 453.1,1022.5 457.2,1020.8 461.3,1019.1 465.4,1017.2 469.5,1015.1 473.6,1013.0 477.8,1010.8 481.9,1008.5 486.0,1006.2 490.1,1003.9 494.2,1001.6 498.3,999.3 502.5,997.1 506.6,994.9 510.7,992.8 514.8,990.7 518.9,988.7 523.0,986.8 527.1,985.0 531.3,983.2 535.4,981.4 539.5,979.7 543.6,977.9 547.7,976.2 551.8,974.4 555.9,972.5 560.1,970.5 564.2,968.4 568.3,966.1 572.4,963.6 576.5,960.9 580.6,957.9 584.8,954.7 588.9,951.2 593.0,947.4 597.1,943.2 601.2,938.7 605.3,933.9 609.4,928.8 613.6,923.3 617.7,917.5 621.8,911.5 625.9,905.1 630.0,898.5 634.1,891.7 638.2,884.8 642.4,877.7 646.5,870.6 650.6,863.4 654.7,856.3 658.8,849.3 662.9,842.4 667.0,835.7 671.2,829.3 675.3,823.2 679.4,817.6 683.5,812.4 687.6,807.6 691.7,803.5 695.9,799.9 700.0,797.0 704.1,794.8 708.2,793.3 712.3,792.5 716.4,792.5 720.5,793.3 724.7,794.8 728.8,797.1 732.9,800.2 737.0,804.1 741.1,808.7 745.2,814.1 749.3,820.1 753.5,826.8 757.6,834.1 761.7,841.9 765.8,850.3 769.9,859.2 774.0,868.4 778.1,878.0 782.3,887.9 786.4,898.1 790.5,908.4 794.6,918.9 798.7,929.4 802.8,939.9 807.0,950.4 811.1,960.8 815.2,971.1 819.3,981.2 823.4,991.1 827.5,1000.7 831.6,1010.0 835.8,1019.1 839.9,1027.8 844.0,1036.1 848.1,1044.1 852.2,1051.7 856.3,1059.0 860.4,1065.8 864.6,1072.3 868.7,1078.4 872.8,1084.2 876.9,1089.6 881.0,1094.6 885.1,1099.3 889.2,1103.7 893.4,1107.8 897.5,1111.6 901.6,1115.1 905.7,1118.4 909.8,1121.5 913.9,1124.3 918.1,1127.0 922.2,1129.4 926.3,1131.7 930.4,1133.9 934.5,1135.9 938.6,1137.8 942.7,1139.6 946.9,1141.2 951.0,1142.8 955.1,1144.3 959.2,1145.7 963.3,1147.0 967.4,1148.3 971.5,1149.5 975.7,1150.6 979.8,1151.7 983.9,1152.7 988.0,1153.6 992.1,1154.5 996.2,1155.4 1000.4,1156.2 1004.5,1156.9 1008.6,1157.6 1012.7,1158.2 1016.8,1158.8 1020.9,1159.4 1025.0,1159.9 1029.2,1160.4 1033.3,1160.8 1037.4,1161.2 1041.5,1161.6 1045.6,1161.9 1049.7,1162.2 1053.8,1162.5 1058.0,1162.7 1062.1,1162.9 1066.2,1163.1 1070.3,1163.3 1074.4,1163.4 1078.5,1163.5 1082.6,1163.7 1086.8,1163.7 1090.9,1163.8 1095.0,1163.9 1099.1,1164.0 1103.2,1164.0 1107.3,1164.1 1111.5,1164.1 1115.6,1164.1 1119.7,1164.2 1123.8,1164.2 1127.9,1164.2 1132.0,1164.2 1136.1,1164.2 1140.3,1164.3 1144.4,1164.3 1148.5,1164.3 1152.6,1164.3 1156.7,1164.3 1160.8,1164.3 1164.9,1164.3 1169.1,1164.3 1173.2,1164.3 1177.3,1164.3 1181.4,1164.3 1185.5,1164.3 1189.6,1164.3 1193.8,1164.3"/><polyline stroke="#e6e000" points="128.0,1164.3 132.1,1164.2 136.2,1164.2 140.3,1164.1 144.5,1164.0 148.6,1163.8 152.7,1163.7 156.8,1163.4 160.9,1163.2 165.0,1162.8 169.1,1162.5 173.3,1162.0 177.4,1161.5 181.5,1160.9 185.6,1160.2 189.7,1159.4 193.8,1158.6 198.0,1157.7 202.1,1156.8 206.2,1155.8 210.3,1154.8 214.4,1153.8 218.5,1152.7 222.6,1151.7 226.8,1150.7 230.9,1149.7 235.0,1148.7 239.1,1147.7 243.2,1146.6 247.3,1145.6 251.4,1144.5 255.6,1143.2 259.7,1141.9 263.8,1140.4 267.9,1138.7 272.0,1136.8 276.1,1134.6 280.2,1132.2 284.4,1129.5 288.5,1126.5 292.6,1123.2 296.7,1119.7 300.8,1115.9 304.9,1111.8 309.1,1107.6 313.2,1103.1 317.3,1098.5 321.4,1093.8 325.5,1089.0 329.6,1084.2 333.7,1079.4 337.9,1074.6 342.0,1070.0 346.1,1065.5 350.2,1061.2 354.3,1057.1 358.4,1053.2 362.5,1049.6 366.7,1046.2 370.8,1043.1 374.9,1040.3 379.0,1037.8 383.1,1035.5 387.2,1033.5 391.4,1031.8 395.5,1030.2 399.6,1028.8 403.7,1027.5 407.8,1026.4 411.9,1025.3 416.0,1024.3 420.2,1023.3 424.3,1022.2 428.4,1021.1 432.5,1019.9 436.6,1018.7 440.7,1017.2 444.8,1015.7 449.0,1014.0 453.1,1012.2 457.2,1010.2 461.3,1008.1 465.4,1005.8 469.5,1003.5 473.6,1001.0 477.8,998.5 481.9,995.9 486.0,993.2 490.1,990.6 494.2,987.9 498.3,985.3 502.5,982.7 506.6,980.1 510.7,977.6 514.8,975.2 518.9,972.8 523.0,970.5 527.1,968.2 531.3,966.0 535.4,963.8 539.5,961.6 543.6,959.5 547.7,957.3 551.8,955.1 555.9,952.7 560.1,950.3 564.2,947.8 568.3,945.1 572.4,942.2 576.5,939.2 580.6,935.8 584.8,932.3 588.9,928.5 593.0,924.4 597.1,920.0 601.2,915.4 605.3,910.4 609.4,905.2 613.6,899.7 617.7,894.0 621.8,888.0 625.9,881.9 630.0,875.6 634.1,869.2 638.2,862.7 642.4,856.2 646.5,849.7 650.6,843.2 654.7,836.9 658.8,830.8 662.9,825.0 667.0,819.4 671.2,814.2 675.3,809.4 679.4,805.1 683.5,801.3 687.6,798.1 691.7,795.5 695.9,793.5 700.0,792.3 704.1,791.7 708.2,791.9 712.3,792.8 716.4,794.5 720.5,796.9 724.7,800.1 728.8,804.1 732.9,808.7 737.0,814.1 741.1,820.2 745.2,826.9 749.3,834.2 753.5,842.0 757.6,850.4 761.7,859.2 765.8,868.5 769.9,878.1 774.0,888.0 778.1,898.2 782.3,908.5 786.4,919.0 790.5,929.5 794.6,940.0 798.7,950.6 802.8,961.0 807.0,971.3 811.1,981.4 815.2,991.3 819.3,1001.0 823.4,1010.4 827.5,1019.5 831.6,1028.2 835.8,1036.6 839.9,1044.6 844.0,1052.3 848.1,1059.5 852.2,1066.4 856.3,1072.9 860.4,1079.0 864.6,1084.7 868.7,1090.1 872.8,1095.1 876.9,1099.7 881.0,1104.1 885.1,1108.1 889.2,1111.8 893.4,1115.3 897.5,1118.5 901.6,1121.5 905.7,1124.2 909.8,1126.8 913.9,1129.1 918.1,1131.3 922.2,1133.4 926.3,1135.3 930.4,1137.1 934.5,1138.8 938.6,1140.4 942.7,1141.9 946.9,1143.3 951.0,1144.6 955.1,1145.9 959.2,1147.1 963.3,1148.3 967.4,1149.4 971.5,1150.4 975.7,1151.4 979.8,1152.4 983.9,1153.3 988.0,1154.2 992.1,1155.0 996.2,1155.8 1000.4,1156.5 1004.5,1157.2 1008.6,1157.8 1012.7,1158.5 1016.8,1159.0 1020.9,1159.6 1025.0,1160.0 1029.2,1160.5 1033.3,1160.9 1037.4,1161.3 1041.5,1161.6 1045.6,1162.0 1049.7,1162.2 1053.8,1162.5 1058.0,1162.7 1062.1,1162.9 1066.2,1163.1 1070.3,1163.3 1074.4,1163.4 1078.5,1163.6 1082.6,1163.7 1086.8,1163.8 1090.9,1163.8 1095.0,1163.9 1099.1,1164.0 1103.2,1164.0 1107.3,1164.1 1111.5,1164.1 1115.6,1164.1 1119.7,1164.2 1123.8,1164.2 1127.9,1164.2 1132.0,1164.2 1136.1,1164.2 1140.3,1164.3 1144.4,1164.3 1148.5,1164.3 1152.6,1164.3 1156.7,1164.3 1160.8,1164.3 1164.9,1164.3 1169.1,1164.3 1173.2,1164.3 1177.3,1164.3 1181.4,1164.3 1185.5,1164.3 1189.6,1164.3 1193.8,1164.3"/><polyline stroke="#e6e000" points="128.0,1164.1 132.1,1164.1 136.2,1164.0 140.3,1164.0 144.5,1163.9 148.6,1163.8 152.7,1163.6 156.8,1163.4 160.9,1163.2 165.0,1162.9 169.1,1162.4 173.3,1161.9 177.4,1161.3 181.5,1160.5 185.6,1159.7 189.7,1158.7 193.8,1157.7 198.0,1156.7 202.1,1155.6 206.2,1154.6 210.3,1153.7 214.4,1152.9 218.5,1152.2 222.6,1151.6 226.8,1151.0 230.9,1150.4 235.0,1149.7 239.1,1148.9 243.2,1147.9 247.3,1146.7 251.4,1145.3 255.6,1143.6 259.7,1141.6 263.8,1139.4 267.9,1136.9 272.0,1134.2 276.1,1131.1 280.2,1127.9 284.4,1124.4 288.5,1120.7 292.6,1116.8 296.7,1112.6 300.8,1108.3 304.9,1103.7 309.1,1099.0 313.2,1094.1 317.3,1089.1 321.4,1083.9 325.5,1078.6 329.6,1073.2 333.7,1067.8 337.9,1062.2 342.0,1056.7 346.1,1051.2 350.2,1045.7 354.3,1040.2 358.4,1034.8 362.5,1029.6 366.7,1024.4 370.8,1019.4 374.9,1014.6 379.0,1010.0 383.1,1005.6 387.2,1001.4 391.4,997.5 395.5,993.8 399.6,990.3 403.7,987.1 407.8,984.2 411.9,981.5 416.0,979.0 420.2,976.8 424.3,974.9 428.4,973.1 432.5,971.5 436.6,970.1 440.7,968.9 444.8,967.8 449.0,966.9 453.1,966.0 457.2,965.3 461.3,964.5 465.4,963.9 469.5,963.3 473.6,962.6 477.8,962.0 481.9,961.4 486.0,960.7 490.1,960.1 494.2,959.3 498.3,958.5 502.5,957.7 506.6,956.8 510.7,955.9 514.8,954.9 518.9,953.9 523.0,952.8 527.1,951.7 531.3,950.6 535.4,949.4 539.5,948.2 543.6,947.0 547.7,945.7 551.8,944.5 555.9,943.2 560.1,941.9 564.2,940.6 568.3,939.3 572.4,938.0 576.5,936.7 580.6,935.4 584.8,934.0 588.9,932.6 593.0,931.2 597.1,929.7 601.2,928.1 605.3,926.5 609.4,924.8 613.6,923.1 617.7,921.2 621.8,919.3 625.9,917.2 630.0,915.0 634.1,912.8 638.2,910.4 642.4,907.9 646.5,905.3 650.6,902.6 654.7,899.9 658.8,897.1 662.9,894.2 667.0,891.3 671.2,888.4 675.3,885.5 679.4,882.7 683.5,880.0 687.6,877.3 691.7,874.9 695.9,872.6 700.0,870.6 704.1,868.8 708.2,867.3 712.3,866.2 716.4,865.4 720.5,865.1 724.7,865.1 728.8,865.7 732.9,866.7 737.0,868.2 741.1,870.2 745.2,872.7 749.3,875.8 753.5,879.4 757.6,883.5 761.7,888.1 765.8,893.2 769.9,898.8 774.0,904.8 778.1,911.3 782.3,918.1 786.4,925.2 790.5,932.7 794.6,940.4 798.7,948.3 802.8,956.4 807.0,964.6 811.1,972.9 815.2,981.2 819.3,989.4 823.4,997.7 827.5,1005.8 831.6,1013.7 835.8,1021.5 839.9,1029.1 844.0,1036.4 848.1,1043.5 852.2,1050.3 856.3,1056.8 860.4,1063.0 864.6,1068.9 868.7,1074.5 872.8,1079.8 876.9,1084.7 881.0,1089.3 885.1,1093.6 889.2,1097.7 893.4,1101.4 897.5,1104.9 901.6,1108.1 905.7,1111.2 909.8,1114.0 913.9,1116.6 918.1,1119.0 922.2,1121.3 926.3,1123.4 930.4,1125.4 934.5,1127.3 938.6,1129.1 942.7,1130.9 946.9,1132.5 951.0,1134.1 955.1,1135.6 959.2,1137.1 963.3,1138.5 967.4,1139.9 971.5,1141.3 975.7,1142.6 979.8,1143.9 983.9,1145.1 988.0,1146.3 992.1,1147.5 996.2,1148.7 1000.4,1149.8 1004.5,1150.8 1008.6,1151.9 1012.7,1152.8 1016.8,1153.8 1020.9,1154.7 1025.0,1155.5 1029.2,1156.3 1033.3,1157.1 1037.4,1157.7 1041.5,1158.4 1045.6,1159.0 1049.7,1159.6 1053.8,1160.1 1058.0,1160.6 1062.1,1161.0 1066.2,1161.4 1070.3,1161.7 1074.4,1162.1 1078.5,1162.3 1082.6,1162.6 1086.8,1162.8 1090.9,1163.0 1095.0,1163.2 1099.1,1163.4 1103.2,1163.5 1107.3,1163.6 1111.5,1163.7 1115.6,1163.8 1119.7,1163.9 1123.8,1164.0 1127.9,1164.0 1132.0,1164.1 1136.1,1164.1 1140.3,1164.1 1144.4,1164.2 1148.5,1164.2 1152.6,1164.2 1156.7,1164.2 1160.8,1164.2 1164.9,1164.3 1169.1,1164.3 1173.2,1164.3 1177.3,1164.3 1181.4,1164.3 1185.5,1164.3 1189.6,1164.3 1193.8,1164.3"/><polyline stroke="#e6e000" points="128.0,1164.1 132.1,1164.0 136.2,1164.0 140.3,1163.9 144.5,1163.8 148.6,1163.7 152.7,1163.5 156.8,1163.3 160.9,1163.0 165.0,1162.7 169.1,1162.3 173.3,1161.8 177.4,1161.2 181.5,1160.5 185.6,1159.8 189.7,1158.9 193.8,1158.0 198.0,1157.1 202.1,1156.2 206.2,1155.3 210.3,1154.5 214.4,1153.6 218.5,1152.9 222.6,1152.1 226.8,1151.3 230.9,1150.5 235.0,1149.6 239.1,1148.5 243.2,1147.3 247.3,1145.9 251.4,1144.2 255.6,1142.4 259.7,1140.3 263.8,1138.1 267.9,1135.6 272.0,1132.9 276.1,1130.0 280.2,1126.9 284.4,1123.6 288.5,1120.2 292.6,1116.6 296.7,1112.8 300.8,1108.9 304.9,1104.8 309.1,1100.6 313.2,1096.4 317.3,1092.0 321.4,1087.5 325.5,1082.9 329.6,1078.3 333.7,1073.7 337.9,1069.1 342.0,1064.4 346.1,1059.8 350.2,1055.2 354.3,1050.7 358.4,1046.2 362.5,1041.9 366.7,1037.6 370.8,1033.5 374.9,1029.5 379.0,1025.7 383.1,1022.0 387.2,1018.4 391.4,1015.0 395.5,1011.8 399.6,1008.8 403.7,1005.9 407.8,1003.2 411.9,1000.6 416.0,998.2 420.2,995.9 424.3,993.8 428.4,991.7 432.5,989.8 436.6,988.0 440.7,986.3 444.8,984.6 449.0,983.0 453.1,981.5 457.2,980.0 461.3,978.5 465.4,977.0 469.5,975.5 473.6,974.1 477.8,972.6 481.9,971.1 486.0,969.6 490.1,968.1 494.2,966.5 498.3,965.0 502.5,963.4 506.6,961.7 510.7,960.1 514.8,958.4 518.9,956.7 523.0,955.0 527.1,953.2 531.3,951.5 535.4,949.7 539.5,947.9 543.6,946.1 547.7,944.3 551.8,942.4 555.9,940.6 560.1,938.7 564.2,936.8 568.3,934.8 572.4,932.8 576.5,930.8 580.6,928.7 584.8,926.6 588.9,924.4 593.0,922.2 597.1,919.9 601.2,917.5 605.3,915.1 609.4,912.6 613.6,910.1 617.7,907.4 621.8,904.7 625.9,901.9 630.0,899.1 634.1,896.3 638.2,893.4 642.4,890.4 646.5,887.5 650.6,884.6 654.7,881.7 658.8,878.8 662.9,876.0 667.0,873.4 671.2,870.8 675.3,868.4 679.4,866.1 683.5,864.0 687.6,862.2 691.7,860.6 695.9,859.3 700.0,858.3 704.1,857.6 708.2,857.3 712.3,857.3 716.4,857.7 720.5,858.6 724.7,859.8 728.8,861.5 732.9,863.7 737.0,866.2 741.1,869.3 745.2,872.7 749.3,876.6 753.5,880.9 757.6,885.7 761.7,890.8 765.8,896.4 769.9,902.3 774.0,908.5 778.1,915.0 782.3,921.9 786.4,928.9 790.5,936.2 794.6,943.7 798.7,951.4 802.8,959.1 807.0,967.0 811.1,974.8 815.2,982.7 819.3,990.6 823.4,998.4 827.5,1006.2 831.6,1013.8 835.8,1021.3 839.9,1028.6 844.0,1035.8 848.1,1042.7 852.2,1049.4 856.3,1055.8 860.4,1062.0 864.6,1068.0 868.7,1073.6 872.8,1079.0 876.9,1084.1 881.0,1088.9 885.1,1093.4 889.2,1097.7 893.4,1101.7 897.5,1105.4 901.6,1108.9 905.7,1112.2 909.8,1115.2 913.9,1118.0 918.1,1120.6 922.2,1123.1 926.3,1125.3 930.4,1127.4 934.5,1129.4 938.6,1131.2 942.7,1132.9 946.9,1134.6 951.0,1136.1 955.1,1137.5 959.2,1138.9 963.3,1140.2 967.4,1141.4 971.5,1142.6 975.7,1143.8 979.8,1144.9 983.9,1146.0 988.0,1147.0 992.1,1148.1 996.2,1149.0 1000.4,1150.0 1004.5,1150.9 1008.6,1151.8 1012.7,1152.7 1016.8,1153.5 1020.9,1154.3 1025.0,1155.1 1029.2,1155.8 1033.3,1156.5 1037.4,1157.2 1041.5,1157.8 1045.6,1158.4 1049.7,1159.0 1053.8,1159.5 1058.0,1160.0 1062.1,1160.4 1066.2,1160.8 1070.3,1161.2 1074.4,1161.6 1078.5,1161.9 1082.6,1162.2 1086.8,1162.4 1090.9,1162.7 1095.0,1162.9 1099.1,1163.1 1103.2,1163.2 1107.3,1163.4 1111.5,1163.5 1115.6,1163.6 1119.7,1163.7 1123.8,1163.8 1127.9,1163.9 1132.0,1164.0 1136.1,1164.0 1140.3,1164.1 1144.4,1164.1 1148.5,1164.1 1152.6,1164.2 1156.7,1164.2 1160.8,1164.2 1164.9,1164.2 1169.1,1164.2 1173.2,1164.3 1177.3,1164.3 1181.4,1164.3 1185.5,1164.3 1189.6,1164.3 1193.8,1164.3"/><polyline stroke="#3c4eb0" points="128.0,1164.3 132.1,1164.2 136.2,1164.2 140.3,1164.1 144.5,1164.0 148.6,1163.8 152.7,1163.7 156.8,1163.4 160.9,1163.2 165.0,1162.8 169.1,1162.5 173.3,1162.0 177.4,1161.5 181.5,1160.9 185.6,1160.2 189.7,1159.4 193.8,1158.6 198.0,1157.7 202.1,1156.8 206.2,1155.8 210.3,1154.8 214.4,1153.7 218.5,1152.7 222.6,1151.6 226.8,1150.6 230.9,1149.6 235.0,1148.5 239.1,1147.5 243.2,1146.4 247.3,1145.3 251.4,1144.1 255.6,1142.8 259.7,1141.4 263.8,1139.8 267.9,1138.0 272.0,1135.9 276.1,1133.6 280.2,1131.0 284.4,1128.1 288.5,1124.9 292.6,1121.4 296.7,1117.6 300.8,1113.5 304.9,1109.2 309.1,1104.6 313.2,1099.8 317.3,1094.8 321.4,1089.8 325.5,1084.6 329.6,1079.4 333.7,1074.2 337.9,1069.1 342.0,1064.1 346.1,1059.2 350.2,1054.5 354.3,1050.1 358.4,1045.9 362.5,1041.9 366.7,1038.3 370.8,1035.0 374.9,1032.0 379.0,1029.3 383.1,1026.9 387.2,1024.8 391.4,1022.9 395.5,1021.4 399.6,1020.0 403.7,1018.8 407.8,1017.7 411.9,1016.8 416.0,1015.9 420.2,1015.1 424.3,1014.2 428.4,1013.4 432.5,1012.4 436.6,1011.4 440.7,1010.2 444.8,1008.9 449.0,1007.5 453.1,1005.9 457.2,1004.1 461.3,1002.2 465.4,1000.2 469.5,998.1 473.6,995.8 477.8,993.4 481.9,991.0 486.0,988.5 490.1,986.0 494.2,983.5 498.3,980.9 502.5,978.4 506.6,975.9 510.7,973.5 514.8,971.1 518.9,968.7 523.0,966.4 527.1,964.2 531.3,962.0 535.4,959.8 539.5,957.6 543.6,955.4 547.7,953.2 551.8,950.9 555.9,948.6 560.1,946.1 564.2,943.5 568.3,940.8 572.4,937.8 576.5,934.6 580.6,931.2 584.8,927.6 588.9,923.6 593.0,919.4 597.1,914.9 601.2,910.1 605.3,905.0 609.4,899.6 613.6,894.0 617.7,888.0 621.8,881.9 625.9,875.5 630.0,869.0 634.1,862.4 638.2,855.7 642.4,848.9 646.5,842.2 650.6,835.5 654.7,829.0 658.8,822.7 662.9,816.6 667.0,810.8 671.2,805.4 675.3,800.4 679.4,795.9 683.5,792.0 687.6,788.6 691.7,785.8 695.9,783.7 700.0,782.4 704.1,781.7 708.2,781.8 712.3,782.7 716.4,784.3 720.5,786.8 724.7,790.0 728.8,793.9 732.9,798.7 737.0,804.1 741.1,810.3 745.2,817.1 749.3,824.6 753.5,832.6 757.6,841.2 761.7,850.2 765.8,859.7 769.9,869.5 774.0,879.7 778.1,890.1 782.3,900.7 786.4,911.5 790.5,922.3 794.6,933.1 798.7,944.0 802.8,954.7 807.0,965.3 811.1,975.7 815.2,985.9 819.3,995.9 823.4,1005.6 827.5,1014.9 831.6,1024.0 835.8,1032.6 839.9,1040.9 844.0,1048.8 848.1,1056.3 852.2,1063.4 856.3,1070.1 860.4,1076.4 864.6,1082.4 868.7,1087.9 872.8,1093.1 876.9,1097.9 881.0,1102.4 885.1,1106.6 889.2,1110.5 893.4,1114.1 897.5,1117.4 901.6,1120.5 905.7,1123.3 909.8,1126.0 913.9,1128.4 918.1,1130.7 922.2,1132.8 926.3,1134.8 930.4,1136.7 934.5,1138.4 938.6,1140.0 942.7,1141.6 946.9,1143.0 951.0,1144.4 955.1,1145.7 959.2,1146.9 963.3,1148.1 967.4,1149.2 971.5,1150.3 975.7,1151.3 979.8,1152.3 983.9,1153.2 988.0,1154.1 992.1,1154.9 996.2,1155.7 1000.4,1156.5 1004.5,1157.2 1008.6,1157.8 1012.7,1158.4 1016.8,1159.0 1020.9,1159.5 1025.0,1160.0 1029.2,1160.5 1033.3,1160.9 1037.4,1161.3 1041.5,1161.6 1045.6,1161.9 1049.7,1162.2 1053.8,1162.5 1058.0,1162.7 1062.1,1162.9 1066.2,1163.1 1070.3,1163.3 1074.4,1163.4 1078.5,1163.5 1082.6,1163.7 1086.8,1163.8 1090.9,1163.8 1095.0,1163.9 1099.1,1164.0 1103.2,1164.0 1107.3,1164.1 1111.5,1164.1 1115.6,1164.1 1119.7,1164.2 1123.8,1164.2 1127.9,1164.2 1132.0,1164.2 1136.1,1164.2 1140.3,1164.3 1144.4,1164.3 1148.5,1164.3 1152.6,1164.3 1156.7,1164.3 1160.8,1164.3 1164.9,1164.3 1169.1,1164.3 1173.2,1164.3 1177.3,1164.3 1181.4,1164.3 1185.5,1164.3 1189.6,1164.3 1193.8,1164.3"/><polyline stroke="#3c4eb0" points="128.0,1164.3 132.1,1164.2 136.2,1164.2 140.3,1164.1 144.5,1164.0 148.6,1163.8 152.7,1163.7 156.8,1163.4 160.9,1163.2 165.0,1162.9 169.1,1162.5 173.3,1162.0 177.4,1161.5 181.5,1160.9 185.6,1160.3 189.7,1159.5 193.8,1158.7 198.0,1157.8 202.1,1156.9 206.2,1156.0 210.3,1155.0 214.4,1154.0 218.5,1153.0 222.6,1152.1 226.8,1151.1 230.9,1150.2 235.0,1149.3 239.1,1148.3 243.2,1147.4 247.3,1146.5 251.4,1145.5 255.6,1144.4 259.7,1143.2 263.8,1141.8 267.9,1140.3 272.0,1138.6 276.1,1136.6 280.2,1134.3 284.4,1131.8 288.5,1129.0 292.6,1125.9 296.7,1122.6 300.8,1118.9 304.9,1115.0 309.1,1110.9 313.2,1106.6 317.3,1102.1 321.4,1097.4 325.5,1092.7 329.6,1087.9 333.7,1083.1 337.9,1078.4 342.0,1073.7 346.1,1069.1 350.2,1064.7 354.3,1060.5 358.4,1056.4 362.5,1052.6 366.7,1049.1 370.8,1045.7 374.9,1042.7 379.0,1039.9 383.1,1037.4 387.2,1035.1 391.4,1033.1 395.5,1031.3 399.6,1029.6 403.7,1028.1 407.8,1026.7 411.9,1025.5 416.0,1024.2 420.2,1023.0 424.3,1021.8 428.4,1020.6 432.5,1019.3 436.6,1017.9 440.7,1016.4 444.8,1014.8 449.0,1013.1 453.1,1011.3 457.2,1009.3 461.3,1007.3 465.4,1005.1 469.5,1002.8 473.6,1000.4 477.8,998.0 481.9,995.5 486.0,993.0 490.1,990.4 494.2,987.9 498.3,985.4 502.5,983.0 506.6,980.6 510.7,978.3 514.8,976.0 518.9,973.8 523.0,971.7 527.1,969.6 531.3,967.6 535.4,965.6 539.5,963.6 543.6,961.6 547.7,959.7 551.8,957.6 555.9,955.5 560.1,953.3 564.2,950.9 568.3,948.4 572.4,945.7 576.5,942.7 580.6,939.5 584.8,936.1 588.9,932.3 593.0,928.3 597.1,923.9 601.2,919.3 605.3,914.3 609.4,909.0 613.6,903.4 617.7,897.5 621.8,891.3 625.9,884.9 630.0,878.3 634.1,871.6 638.2,864.7 642.4,857.7 646.5,850.7 650.6,843.8 654.7,836.9 658.8,830.1 662.9,823.6 667.0,817.4 671.2,811.4 675.3,805.9 679.4,800.8 683.5,796.2 687.6,792.2 691.7,788.7 695.9,785.9 700.0,783.8 704.1,782.5 708.2,781.8 712.3,782.0 716.4,782.9 720.5,784.6 724.7,787.1 728.8,790.3 732.9,794.4 737.0,799.2 741.1,804.8 745.2,811.0 749.3,817.9 753.5,825.4 757.6,833.6 761.7,842.2 765.8,851.3 769.9,860.8 774.0,870.7 778.1,880.9 782.3,891.4 786.4,902.0 790.5,912.8 794.6,923.6 798.7,934.4 802.8,945.3 807.0,956.0 811.1,966.5 815.2,976.9 819.3,987.1 823.4,997.0 827.5,1006.6 831.6,1015.9 835.8,1024.9 839.9,1033.5 844.0,1041.7 848.1,1049.6 852.2,1057.0 856.3,1064.1 860.4,1070.7 864.6,1077.0 868.7,1082.9 872.8,1088.4 876.9,1093.5 881.0,1098.3 885.1,1102.8 889.2,1107.0 893.4,1110.8 897.5,1114.4 901.6,1117.8 905.7,1120.8 909.8,1123.7 913.9,1126.4 918.1,1128.8 922.2,1131.1 926.3,1133.3 930.4,1135.3 934.5,1137.2 938.6,1138.9 942.7,1140.6 946.9,1142.2 951.0,1143.6 955.1,1145.0 959.2,1146.3 963.3,1147.6 967.4,1148.8 971.5,1149.9 975.7,1151.0 979.8,1152.0 983.9,1153.0 988.0,1153.9 992.1,1154.7 996.2,1155.6 1000.4,1156.3 1004.5,1157.0 1008.6,1157.7 1012.7,1158.3 1016.8,1158.9 1020.9,1159.5 1025.0,1160.0 1029.2,1160.4 1033.3,1160.9 1037.4,1161.3 1041.5,1161.6 1045.6,1161.9 1049.7,1162.2 1053.8,1162.5 1058.0,1162.7 1062.1,1162.9 1066.2,1163.1 1070.3,1163.3 1074.4,1163.4 1078.5,1163.5 1082.6,1163.7 1086.8,1163.8 1090.9,1163.8 1095.0,1163.9 1099.1,1164.0 1103.2,1164.0 1107.3,1164.1 1111.5,1164.1 1115.6,1164.1 1119.7,1164.2 1123.8,1164.2 1127.9,1164.2 1132.0,1164.2 1136.1,1164.2 1140.3,1164.3 1144.4,1164.3 1148.5,1164.3 1152.6,1164.3 1156.7,1164.3 1160.8,1164.3 1164.9,1164.3 1169.1,1164.3 1173.2,1164.3 1177.3,1164.3 1181.4,1164.3 1185.5,1164.3 1189.6,1164.3 1193.8,1164.3"/><polyline stroke="#3c4eb0" points="128.0,1164.3 132.1,1164.2 136.2,1164.2 140.3,1164.1 144.5,1164.0 148.6,1163.8 152.7,1163.6 156.8,1163.4 160.9,1163.1 165.0,1162.8 169.1,1162.4 173.3,1161.9 177.4,1161.4 181.5,1160.7 185.6,1160.0 189.7,1159.2 193.8,1158.3 198.0,1157.4 202.1,1156.4 206.2,1155.3 210.3,1154.2 214.4,1153.1 218.5,1151.9 222.6,1150.8 226.8,1149.6 230.9,1148.4 235.0,1147.2 239.1,1146.0 243.2,1144.7 247.3,1143.4 251.4,1142.0 255.6,1140.5 259.7,1138.8 263.8,1137.0 267.9,1134.9 272.0,1132.6 276.1,1130.1 280.2,1127.3 284.4,1124.3 288.5,1120.9 292.6,1117.3 296.7,1113.4 300.8,1109.3 304.9,1105.0 309.1,1100.5 313.2,1095.9 317.3,1091.2 321.4,1086.4 325.5,1081.7 329.6,1076.9 333.7,1072.3 337.9,1067.8 342.0,1063.4 346.1,1059.3 350.2,1055.4 354.3,1051.8 358.4,1048.4 362.5,1045.4 366.7,1042.7 370.8,1040.3 374.9,1038.2 379.0,1036.4 383.1,1034.9 387.2,1033.6 391.4,1032.6 395.5,1031.7 399.6,1031.0 403.7,1030.4 407.8,1029.9 411.9,1029.4 416.0,1028.9 420.2,1028.4 424.3,1027.8 428.4,1027.0 432.5,1026.2 436.6,1025.2 440.7,1024.0 444.8,1022.6 449.0,1021.0 453.1,1019.2 457.2,1017.3 461.3,1015.1 465.4,1012.8 469.5,1010.4 473.6,1007.8 477.8,1005.0 481.9,1002.2 486.0,999.3 490.1,996.4 494.2,993.4 498.3,990.4 502.5,987.3 506.6,984.3 510.7,981.3 514.8,978.3 518.9,975.3 523.0,972.4 527.1,969.4 531.3,966.5 535.4,963.5 539.5,960.6 543.6,957.5 547.7,954.4 551.8,951.3 555.9,948.0 560.1,944.5 564.2,941.0 568.3,937.2 572.4,933.3 576.5,929.1 580.6,924.7 584.8,920.0 588.9,915.1 593.0,910.0 597.1,904.5 601.2,898.8 605.3,892.9 609.4,886.8 613.6,880.4 617.7,873.9 621.8,867.2 625.9,860.3 630.0,853.5 634.1,846.5 638.2,839.6 642.4,832.8 646.5,826.1 650.6,819.6 654.7,813.3 658.8,807.3 662.9,801.6 667.0,796.4 671.2,791.7 675.3,787.4 679.4,783.8 683.5,780.7 687.6,778.3 691.7,776.6 695.9,775.7 700.0,775.4 704.1,776.0 708.2,777.3 712.3,779.5 716.4,782.4 720.5,786.1 724.7,790.6 728.8,795.8 732.9,801.7 737.0,808.3 741.1,815.6 745.2,823.5 749.3,832.0 753.5,841.0 757.6,850.4 761.7,860.3 765.8,870.5 769.9,880.9 774.0,891.6 778.1,902.5 782.3,913.5 786.4,924.6 790.5,935.6 794.6,946.6 798.7,957.5 802.8,968.2 807.0,978.7 811.1,989.0 815.2,999.0 819.3,1008.7 823.4,1018.1 827.5,1027.1 831.6,1035.7 835.8,1044.0 839.9,1051.8 844.0,1059.3 848.1,1066.3 852.2,1072.9 856.3,1079.1 860.4,1084.9 864.6,1090.4 868.7,1095.4 872.8,1100.1 876.9,1104.5 881.0,1108.5 885.1,1112.3 889.2,1115.7 893.4,1118.9 897.5,1121.8 901.6,1124.5 905.7,1127.0 909.8,1129.3 913.9,1131.5 918.1,1133.5 922.2,1135.3 926.3,1137.0 930.4,1138.7 934.5,1140.2 938.6,1141.6 942.7,1143.0 946.9,1144.3 951.0,1145.5 955.1,1146.7 959.2,1147.8 963.3,1148.9 967.4,1149.9 971.5,1150.9 975.7,1151.8 979.8,1152.8 983.9,1153.6 988.0,1154.4 992.1,1155.2 996.2,1156.0 1000.4,1156.7 1004.5,1157.3 1008.6,1158.0 1012.7,1158.6 1016.8,1159.1 1020.9,1159.6 1025.0,1160.1 1029.2,1160.6 1033.3,1161.0 1037.4,1161.3 1041.5,1161.7 1045.6,1162.0 1049.7,1162.3 1053.8,1162.5 1058.0,1162.7 1062.1,1162.9 1066.2,1163.1 1070.3,1163.3 1074.4,1163.4 1078.5,1163.6 1082.6,1163.7 1086.8,1163.8 1090.9,1163.8 1095.0,1163.9 1099.1,1164.0 1103.2,1164.0 1107.3,1164.1 1111.5,1164.1 1115.6,1164.1 1119.7,1164.2 1123.8,1164.2 1127.9,1164.2 1132.0,1164.2 1136.1,1164.2 1140.3,1164.3 1144.4,1164.3 1148.5,1164.3 1152.6,1164.3 1156.7,1164.3 1160.8,1164.3 1164.9,1164.3 1169.1,1164.3 1173.2,1164.3 1177.3,1164.3 1181.4,1164.3 1185.5,1164.3 1189.6,1164.3 1193.8,1164.3"/><polyline stroke="#62b818" points="128.0,1164.3 132.1,1164.2 136.2,1164.2 140.3,1164.1 144.5,1164.0 148.6,1163.8 152.7,1163.7 156.8,1163.5 160.9,1163.2 165.0,1162.9 169.1,1162.5 173.3,1162.1 177.4,1161.5 181.5,1161.0 185.6,1160.3 189.7,1159.6 193.8,1158.8 198.0,1157.9 202.1,1157.0 206.2,1156.1 210.3,1155.1 214.4,1154.1 218.5,1153.2 222.6,1152.2 226.8,1151.3 230.9,1150.4 235.0,1149.5 239.1,1148.6 243.2,1147.7 247.3,1146.8 251.4,1145.8 255.6,1144.7 259.7,1143.5 263.8,1142.1 267.9,1140.6 272.0,1138.8 276.1,1136.8 280.2,1134.5 284.4,1132.0 288.5,1129.1 292.6,1125.9 296.7,1122.4 300.8,1118.6 304.9,1114.5 309.1,1110.2 313.2,1105.7 317.3,1101.0 321.4,1096.1 325.5,1091.1 329.6,1086.1 333.7,1081.0 337.9,1076.0 342.0,1071.1 346.1,1066.2 350.2,1061.5 354.3,1057.1 358.4,1052.8 362.5,1048.9 366.7,1045.2 370.8,1041.8 374.9,1038.8 379.0,1036.1 383.1,1033.7 387.2,1031.7 391.4,1029.9 395.5,1028.5 399.6,1027.3 403.7,1026.3 407.8,1025.6 411.9,1025.0 416.0,1024.5 420.2,1024.1 424.3,1023.8 428.4,1023.5 432.5,1023.2 436.6,1022.8 440.7,1022.4 444.8,1021.8 449.0,1021.1 453.1,1020.3 457.2,1019.4 461.3,1018.3 465.4,1017.0 469.5,1015.6 473.6,1014.0 477.8,1012.4 481.9,1010.5 486.0,1008.6 490.1,1006.6 494.2,1004.5 498.3,1002.3 502.5,1000.0 506.6,997.7 510.7,995.4 514.8,993.0 518.9,990.6 523.0,988.1 527.1,985.6 531.3,983.1 535.4,980.5 539.5,977.8 543.6,975.1 547.7,972.3 551.8,969.3 555.9,966.2 560.1,963.0 564.2,959.6 568.3,956.0 572.4,952.2 576.5,948.2 580.6,943.9 584.8,939.4 588.9,934.7 593.0,929.6 597.1,924.4 601.2,918.9 605.3,913.1 609.4,907.1 613.6,900.9 617.7,894.5 621.8,888.0 625.9,881.4 630.0,874.7 634.1,867.9 638.2,861.2 642.4,854.5 646.5,848.0 650.6,841.6 654.7,835.4 658.8,829.5 662.9,824.0 667.0,818.8 671.2,814.1 675.3,809.9 679.4,806.2 683.5,803.0 687.6,800.5 691.7,798.7 695.9,797.6 700.0,797.1 704.1,797.4 708.2,798.5 712.3,800.3 716.4,802.9 720.5,806.2 724.7,810.2 728.8,815.0 732.9,820.4 737.0,826.5 741.1,833.3 745.2,840.6 749.3,848.5 753.5,856.8 757.6,865.7 761.7,874.9 765.8,884.4 769.9,894.3 774.0,904.3 778.1,914.6 782.3,924.9 786.4,935.4 790.5,945.8 794.6,956.2 798.7,966.4 802.8,976.6 807.0,986.6 811.1,996.3 815.2,1005.8 819.3,1015.0 823.4,1023.9 827.5,1032.5 831.6,1040.7 835.8,1048.5 839.9,1056.0 844.0,1063.0 848.1,1069.7 852.2,1076.0 856.3,1082.0 860.4,1087.5 864.6,1092.7 868.7,1097.5 872.8,1102.0 876.9,1106.2 881.0,1110.0 885.1,1113.6 889.2,1116.9 893.4,1119.9 897.5,1122.7 901.6,1125.3 905.7,1127.7 909.8,1129.9 913.9,1132.0 918.1,1133.9 922.2,1135.7 926.3,1137.4 930.4,1139.0 934.5,1140.5 938.6,1141.9 942.7,1143.2 946.9,1144.4 951.0,1145.7 955.1,1146.8 959.2,1147.9 963.3,1149.0 967.4,1150.0 971.5,1151.0 975.7,1151.9 979.8,1152.8 983.9,1153.7 988.0,1154.5 992.1,1155.2 996.2,1156.0 1000.4,1156.7 1004.5,1157.4 1008.6,1158.0 1012.7,1158.6 1016.8,1159.1 1020.9,1159.6 1025.0,1160.1 1029.2,1160.6 1033.3,1161.0 1037.4,1161.3 1041.5,1161.7 1045.6,1162.0 1049.7,1162.3 1053.8,1162.5 1058.0,1162.7 1062.1,1162.9 1066.2,1163.1 1070.3,1163.3 1074.4,1163.4 1078.5,1163.6 1082.6,1163.7 1086.8,1163.8 1090.9,1163.8 1095.0,1163.9 1099.1,1164.0 1103.2,1164.0 1107.3,1164.1 1111.5,1164.1 1115.6,1164.1 1119.7,1164.2 1123.8,1164.2 1127.9,1164.2 1132.0,1164.2 1136.1,1164.2 1140.3,1164.3 1144.4,1164.3 1148.5,1164.3 1152.6,1164.3 1156.7,1164.3 1160.8,1164.3 1164.9,1164.3 1169.1,1164.3 1173.2,1164.3 1177.3,1164.3 1181.4,1164.3 1185.5,1164.3 1189.6,1164.3 1193.8,1164.3"/><polyline stroke="#62b818" points="128.0,1164.3 132.1,1164.2 136.2,1164.2 140.3,1164.1 144.5,1164.0 148.6,1163.8 152.7,1163.7 156.8,1163.5 160.9,1163.2 165.0,1162.9 169.1,1162.5 173.3,1162.1 177.4,1161.6 181.5,1161.0 185.6,1160.4 189.7,1159.7 193.8,1158.9 198.0,1158.0 202.1,1157.2 206.2,1156.3 210.3,1155.4 214.4,1154.5 218.5,1153.5 222.6,1152.7 226.8,1151.8 230.9,1151.0 235.0,1150.2 239.1,1149.5 243.2,1148.7 247.3,1147.9 251.4,1147.1 255.6,1146.2 259.7,1145.2 263.8,1144.1 267.9,1142.8 272.0,1141.3 276.1,1139.6 280.2,1137.6 284.4,1135.3 288.5,1132.7 292.6,1129.8 296.7,1126.6 300.8,1123.1 304.9,1119.3 309.1,1115.3 313.2,1111.0 317.3,1106.5 321.4,1101.8 325.5,1096.9 329.6,1092.0 333.7,1086.9 337.9,1081.9 342.0,1076.8 346.1,1071.8 350.2,1066.9 354.3,1062.1 358.4,1057.4 362.5,1053.0 366.7,1048.7 370.8,1044.7 374.9,1041.0 379.0,1037.5 383.1,1034.3 387.2,1031.3 391.4,1028.6 395.5,1026.1 399.6,1023.8 403.7,1021.7 407.8,1019.9 411.9,1018.1 416.0,1016.5 420.2,1014.9 424.3,1013.4 428.4,1012.0 432.5,1010.5 436.6,1009.0 440.7,1007.5 444.8,1005.8 449.0,1004.2 453.1,1002.4 457.2,1000.5 461.3,998.5 465.4,996.5 469.5,994.3 473.6,992.1 477.8,989.8 481.9,987.5 486.0,985.1 490.1,982.7 494.2,980.3 498.3,977.9 502.5,975.5 506.6,973.2 510.7,970.9 514.8,968.7 518.9,966.5 523.0,964.4 527.1,962.3 531.3,960.2 535.4,958.1 539.5,956.1 543.6,954.0 547.7,951.9 551.8,949.7 555.9,947.4 560.1,945.0 564.2,942.5 568.3,939.8 572.4,936.9 576.5,933.8 580.6,930.5 584.8,926.9 588.9,923.1 593.0,918.9 597.1,914.5 601.2,909.8 605.3,904.9 609.4,899.6 613.6,894.2 617.7,888.5 621.8,882.6 625.9,876.5 630.0,870.4 634.1,864.1 638.2,857.9 642.4,851.6 646.5,845.5 650.6,839.4 654.7,833.6 658.8,828.0 662.9,822.8 667.0,817.9 671.2,813.5 675.3,809.5 679.4,806.1 683.5,803.3 687.6,801.1 691.7,799.6 695.9,798.8 700.0,798.8 704.1,799.5 708.2,800.9 712.3,803.2 716.4,806.2 720.5,809.9 724.7,814.5 728.8,819.7 732.9,825.7 737.0,832.3 741.1,839.5 745.2,847.4 749.3,855.7 753.5,864.6 757.6,873.9 761.7,883.5 765.8,893.5 769.9,903.7 774.0,914.1 778.1,924.6 782.3,935.2 786.4,945.8 790.5,956.4 794.6,966.9 798.7,977.2 802.8,987.3 807.0,997.2 811.1,1006.8 815.2,1016.0 819.3,1025.0 823.4,1033.6 827.5,1041.8 831.6,1049.6 835.8,1057.0 839.9,1064.0 844.0,1070.5 848.1,1076.7 852.2,1082.4 856.3,1087.8 860.4,1092.7 864.6,1097.3 868.7,1101.6 872.8,1105.5 876.9,1109.0 881.0,1112.3 885.1,1115.4 889.2,1118.1 893.4,1120.7 897.5,1123.0 901.6,1125.2 905.7,1127.2 909.8,1129.0 913.9,1130.7 918.1,1132.4 922.2,1133.9 926.3,1135.3 930.4,1136.7 934.5,1138.0 938.6,1139.3 942.7,1140.6 946.9,1141.8 951.0,1142.9 955.1,1144.1 959.2,1145.2 963.3,1146.3 967.4,1147.4 971.5,1148.4 975.7,1149.4 979.8,1150.4 983.9,1151.4 988.0,1152.3 992.1,1153.2 996.2,1154.1 1000.4,1154.9 1004.5,1155.7 1008.6,1156.5 1012.7,1157.2 1016.8,1157.8 1020.9,1158.5 1025.0,1159.0 1029.2,1159.6 1033.3,1160.1 1037.4,1160.5 1041.5,1161.0 1045.6,1161.4 1049.7,1161.7 1053.8,1162.0 1058.0,1162.3 1062.1,1162.6 1066.2,1162.8 1070.3,1163.0 1074.4,1163.2 1078.5,1163.3 1082.6,1163.5 1086.8,1163.6 1090.9,1163.7 1095.0,1163.8 1099.1,1163.9 1103.2,1164.0 1107.3,1164.0 1111.5,1164.1 1115.6,1164.1 1119.7,1164.1 1123.8,1164.2 1127.9,1164.2 1132.0,1164.2 1136.1,1164.2 1140.3,1164.2 1144.4,1164.3 1148.5,1164.3 1152.6,1164.3 1156.7,1164.3 1160.8,1164.3 1164.9,1164.3 1169.1,1164.3 1173.2,1164.3 1177.3,1164.3 1181.4,1164.3 1185.5,1164.3 1189.6,1164.3 1193.8,1164.3"/><polyline stroke="#62b818" points="128.0,1164.3 132.1,1164.2 136.2,1164.2 140.3,1164.1 144.5,1164.0 148.6,1163.8 152.7,1163.6 156.8,1163.4 160.9,1163.1 165.0,1162.8 169.1,1162.4 173.3,1161.9 177.4,1161.3 181.5,1160.7 185.6,1160.0 189.7,1159.2 193.8,1158.3 198.0,1157.3 202.1,1156.3 206.2,1155.2 210.3,1154.1 214.4,1153.0 218.5,1151.8 222.6,1150.6 226.8,1149.4 230.9,1148.1 235.0,1146.9 239.1,1145.6 243.2,1144.3 247.3,1142.8 251.4,1141.3 255.6,1139.7 259.7,1137.9 263.8,1135.9 267.9,1133.7 272.0,1131.2 276.1,1128.5 280.2,1125.5 284.4,1122.2 288.5,1118.6 292.6,1114.7 296.7,1110.5 300.8,1106.1 304.9,1101.5 309.1,1096.6 313.2,1091.6 317.3,1086.5 321.4,1081.4 325.5,1076.2 329.6,1071.1 333.7,1066.1 337.9,1061.2 342.0,1056.5 346.1,1052.0 350.2,1047.8 354.3,1043.9 358.4,1040.3 362.5,1037.0 366.7,1034.1 370.8,1031.5 374.9,1029.3 379.0,1027.4 383.1,1025.8 387.2,1024.5 391.4,1023.5 395.5,1022.7 399.6,1022.1 403.7,1021.6 407.8,1021.2 411.9,1020.9 416.0,1020.6 420.2,1020.3 424.3,1019.9 428.4,1019.4 432.5,1018.8 436.6,1018.1 440.7,1017.1 444.8,1016.1 449.0,1014.8 453.1,1013.3 457.2,1011.7 461.3,1009.8 465.4,1007.9 469.5,1005.7 473.6,1003.5 477.8,1001.1 481.9,998.7 486.0,996.2 490.1,993.6 494.2,991.1 498.3,988.5 502.5,986.0 506.6,983.6 510.7,981.1 514.8,978.8 518.9,976.5 523.0,974.2 527.1,972.0 531.3,969.9 535.4,967.8 539.5,965.8 543.6,963.7 547.7,961.6 551.8,959.5 555.9,957.3 560.1,955.0 564.2,952.6 568.3,950.1 572.4,947.4 576.5,944.5 580.6,941.4 584.8,938.0 588.9,934.4 593.0,930.5 597.1,926.3 601.2,921.9 605.3,917.2 609.4,912.2 613.6,907.0 617.7,901.6 621.8,895.9 625.9,890.0 630.0,884.0 634.1,877.8 638.2,871.6 642.4,865.4 646.5,859.1 650.6,852.9 654.7,846.9 658.8,841.0 662.9,835.4 667.0,830.1 671.2,825.1 675.3,820.5 679.4,816.3 683.5,812.7 687.6,809.6 691.7,807.1 695.9,805.2 700.0,804.0 704.1,803.4 708.2,803.6 712.3,804.5 716.4,806.2 720.5,808.5 724.7,811.6 728.8,815.4 732.9,819.9 737.0,825.1 741.1,831.0 745.2,837.5 749.3,844.5 753.5,852.2 757.6,860.3 761.7,868.8 765.8,877.8 769.9,887.1 774.0,896.6 778.1,906.5 782.3,916.5 786.4,926.6 790.5,936.8 794.6,947.0 798.7,957.1 802.8,967.2 807.0,977.2 811.1,987.0 815.2,996.6 819.3,1005.9 823.4,1015.0 827.5,1023.8 831.6,1032.2 835.8,1040.3 839.9,1048.1 844.0,1055.5 848.1,1062.5 852.2,1069.1 856.3,1075.4 860.4,1081.3 864.6,1086.8 868.7,1092.0 872.8,1096.8 876.9,1101.3 881.0,1105.5 885.1,1109.4 889.2,1113.0 893.4,1116.3 897.5,1119.4 901.6,1122.3 905.7,1125.0 909.8,1127.4 913.9,1129.7 918.1,1131.9 922.2,1133.9 926.3,1135.7 930.4,1137.5 934.5,1139.1 938.6,1140.6 942.7,1142.1 946.9,1143.5 951.0,1144.8 955.1,1146.1 959.2,1147.3 963.3,1148.4 967.4,1149.5 971.5,1150.5 975.7,1151.5 979.8,1152.5 983.9,1153.4 988.0,1154.2 992.1,1155.0 996.2,1155.8 1000.4,1156.5 1004.5,1157.2 1008.6,1157.9 1012.7,1158.5 1016.8,1159.0 1020.9,1159.6 1025.0,1160.1 1029.2,1160.5 1033.3,1160.9 1037.4,1161.3 1041.5,1161.6 1045.6,1162.0 1049.7,1162.2 1053.8,1162.5 1058.0,1162.7 1062.1,1162.9 1066.2,1163.1 1070.3,1163.3 1074.4,1163.4 1078.5,1163.6 1082.6,1163.7 1086.8,1163.8 1090.9,1163.8 1095.0,1163.9 1099.1,1164.0 1103.2,1164.0 1107.3,1164.1 1111.5,1164.1 1115.6,1164.1 1119.7,1164.2 1123.8,1164.2 1127.9,1164.2 1132.0,1164.2 1136.1,1164.2 1140.3,1164.3 1144.4,1164.3 1148.5,1164.3 1152.6,1164.3 1156.7,1164.3 1160.8,1164.3 1164.9,1164.3 1169.1,1164.3 1173.2,1164.3 1177.3,1164.3 1181.4,1164.3 1185.5,1164.3 1189.6,1164.3 1193.8,1164.3"/><polyline stroke="#d838a0" points="128.0,1164.3 132.1,1164.2 136.2,1164.2 140.3,1164.1 144.5,1164.0 148.6,1163.8 152.7,1163.6 156.8,1163.4 160.9,1163.1 165.0,1162.8 169.1,1162.4 173.3,1161.9 177.4,1161.4 181.5,1160.8 185.6,1160.1 189.7,1159.3 193.8,1158.4 198.0,1157.5 202.1,1156.5 206.2,1155.5 210.3,1154.4 214.4,1153.3 218.5,1152.1 222.6,1151.0 226.8,1149.8 230.9,1148.7 235.0,1147.5 239.1,1146.3 243.2,1145.1 247.3,1143.8 251.4,1142.4 255.6,1140.9 259.7,1139.3 263.8,1137.4 267.9,1135.4 272.0,1133.1 276.1,1130.5 280.2,1127.7 284.4,1124.6 288.5,1121.1 292.6,1117.4 296.7,1113.4 300.8,1109.1 304.9,1104.6 309.1,1099.9 313.2,1095.0 317.3,1090.0 321.4,1085.0 325.5,1079.9 329.6,1074.8 333.7,1069.7 337.9,1064.8 342.0,1060.1 346.1,1055.5 350.2,1051.2 354.3,1047.2 358.4,1043.5 362.5,1040.0 366.7,1037.0 370.8,1034.2 374.9,1031.8 379.0,1029.8 383.1,1028.0 387.2,1026.6 391.4,1025.4 395.5,1024.4 399.6,1023.7 403.7,1023.1 407.8,1022.6 411.9,1022.3 416.0,1021.9 420.2,1021.6 424.3,1021.2 428.4,1020.7 432.5,1020.1 436.6,1019.4 440.7,1018.6 444.8,1017.6 449.0,1016.4 453.1,1015.0 457.2,1013.4 461.3,1011.7 465.4,1009.7 469.5,1007.7 473.6,1005.4 477.8,1003.1 481.9,1000.6 486.0,998.1 490.1,995.5 494.2,992.8 498.3,990.2 502.5,987.5 506.6,984.8 510.7,982.1 514.8,979.4 518.9,976.7 523.0,974.1 527.1,971.5 531.3,968.8 535.4,966.2 539.5,963.5 543.6,960.8 547.7,958.0 551.8,955.1 555.9,952.1 560.1,948.9 564.2,945.6 568.3,942.1 572.4,938.4 576.5,934.4 580.6,930.2 584.8,925.7 588.9,920.9 593.0,915.9 597.1,910.6 601.2,904.9 605.3,899.0 609.4,892.8 613.6,886.4 617.7,879.7 621.8,872.8 625.9,865.8 630.0,858.6 634.1,851.4 638.2,844.1 642.4,836.8 646.5,829.6 650.6,822.6 654.7,815.7 658.8,809.1 662.9,802.8 667.0,796.8 671.2,791.3 675.3,786.3 679.4,781.8 683.5,777.9 687.6,774.7 691.7,772.1 695.9,770.3 700.0,769.2 704.1,768.9 708.2,769.4 712.3,770.7 716.4,772.8 720.5,775.7 724.7,779.5 728.8,784.0 732.9,789.3 737.0,795.3 741.1,802.1 745.2,809.5 749.3,817.5 753.5,826.2 757.6,835.3 761.7,844.9 765.8,854.9 769.9,865.3 774.0,876.0 778.1,886.9 782.3,898.0 786.4,909.2 790.5,920.4 794.6,931.6 798.7,942.8 802.8,953.9 807.0,964.8 811.1,975.5 815.2,985.9 819.3,996.1 823.4,1006.0 827.5,1015.5 831.6,1024.6 835.8,1033.4 839.9,1041.8 844.0,1049.8 848.1,1057.3 852.2,1064.5 856.3,1071.2 860.4,1077.5 864.6,1083.5 868.7,1089.0 872.8,1094.2 876.9,1099.0 881.0,1103.4 885.1,1107.6 889.2,1111.4 893.4,1114.9 897.5,1118.2 901.6,1121.3 905.7,1124.1 909.8,1126.6 913.9,1129.0 918.1,1131.3 922.2,1133.4 926.3,1135.3 930.4,1137.1 934.5,1138.8 938.6,1140.4 942.7,1141.9 946.9,1143.3 951.0,1144.7 955.1,1145.9 959.2,1147.2 963.3,1148.3 967.4,1149.4 971.5,1150.5 975.7,1151.5 979.8,1152.4 983.9,1153.3 988.0,1154.2 992.1,1155.0 996.2,1155.8 1000.4,1156.5 1004.5,1157.2 1008.6,1157.9 1012.7,1158.5 1016.8,1159.0 1020.9,1159.6 1025.0,1160.1 1029.2,1160.5 1033.3,1160.9 1037.4,1161.3 1041.5,1161.6 1045.6,1162.0 1049.7,1162.2 1053.8,1162.5 1058.0,1162.7 1062.1,1162.9 1066.2,1163.1 1070.3,1163.3 1074.4,1163.4 1078.5,1163.6 1082.6,1163.7 1086.8,1163.8 1090.9,1163.8 1095.0,1163.9 1099.1,1164.0 1103.2,1164.0 1107.3,1164.1 1111.5,1164.1 1115.6,1164.1 1119.7,1164.2 1123.8,1164.2 1127.9,1164.2 1132.0,1164.2 1136.1,1164.2 1140.3,1164.3 1144.4,1164.3 1148.5,1164.3 1152.6,1164.3 1156.7,1164.3 1160.8,1164.3 1164.9,1164.3 1169.1,1164.3 1173.2,1164.3 1177.3,1164.3 1181.4,1164.3 1185.5,1164.3 1189.6,1164.3 1193.8,1164.3"/><polyline stroke="#d838a0" points="128.0,1164.3 132.1,1164.2 136.2,1164.2 140.3,1164.1 144.5,1164.0 148.6,1163.8 152.7,1163.7 156.8,1163.4 160.9,1163.2 165.0,1162.9 169.1,1162.5 173.3,1162.0 177.4,1161.5 181.5,1160.9 185.6,1160.2 189.7,1159.5 193.8,1158.7 198.0,1157.8 202.1,1156.9 206.2,1155.9 210.3,1154.9 214.4,1154.0 218.5,1153.0 222.6,1152.0 226.8,1151.0 230.9,1150.1 235.0,1149.1 239.1,1148.2 243.2,1147.3 247.3,1146.3 251.4,1145.3 255.6,1144.1 259.7,1142.9 263.8,1141.5 267.9,1140.0 272.0,1138.2 276.1,1136.2 280.2,1133.9 284.4,1131.4 288.5,1128.6 292.6,1125.5 296.7,1122.1 300.8,1118.4 304.9,1114.5 309.1,1110.4 313.2,1106.1 317.3,1101.6 321.4,1097.0 325.5,1092.3 329.6,1087.5 333.7,1082.7 337.9,1078.0 342.0,1073.4 346.1,1068.8 350.2,1064.4 354.3,1060.1 358.4,1056.1 362.5,1052.3 366.7,1048.7 370.8,1045.3 374.9,1042.2 379.0,1039.4 383.1,1036.8 387.2,1034.4 391.4,1032.2 395.5,1030.2 399.6,1028.3 403.7,1026.6 407.8,1025.0 411.9,1023.5 416.0,1022.0 420.2,1020.5 424.3,1019.0 428.4,1017.4 432.5,1015.7 436.6,1014.0 440.7,1012.1 444.8,1010.2 449.0,1008.0 453.1,1005.8 457.2,1003.5 461.3,1001.0 465.4,998.4 469.5,995.8 473.6,993.0 477.8,990.3 481.9,987.4 486.0,984.6 490.1,981.8 494.2,979.0 498.3,976.3 502.5,973.6 506.6,971.0 510.7,968.5 514.8,966.1 518.9,963.7 523.0,961.5 527.1,959.3 531.3,957.2 535.4,955.2 539.5,953.2 543.6,951.2 547.7,949.2 551.8,947.1 555.9,945.0 560.1,942.8 564.2,940.5 568.3,938.0 572.4,935.3 576.5,932.4 580.6,929.3 584.8,925.8 588.9,922.1 593.0,918.1 597.1,913.8 601.2,909.1 605.3,904.1 609.4,898.8 613.6,893.2 617.7,887.2 621.8,881.0 625.9,874.6 630.0,867.9 634.1,861.1 638.2,854.1 642.4,847.0 646.5,839.9 650.6,832.9 654.7,825.9 658.8,819.1 662.9,812.4 667.0,806.1 671.2,800.1 675.3,794.4 679.4,789.2 683.5,784.6 687.6,780.5 691.7,777.0 695.9,774.2 700.0,772.1 704.1,770.7 708.2,770.1 712.3,770.2 716.4,771.2 720.5,773.0 724.7,775.6 728.8,779.0 732.9,783.2 737.0,788.2 741.1,793.9 745.2,800.4 749.3,807.5 753.5,815.3 757.6,823.6 761.7,832.6 765.8,842.0 769.9,851.8 774.0,862.0 778.1,872.5 782.3,883.3 786.4,894.2 790.5,905.3 794.6,916.5 798.7,927.7 802.8,938.8 807.0,949.9 811.1,960.8 815.2,971.5 819.3,982.0 823.4,992.2 827.5,1002.1 831.6,1011.7 835.8,1021.0 839.9,1029.8 844.0,1038.3 848.1,1046.4 852.2,1054.1 856.3,1061.4 860.4,1068.3 864.6,1074.7 868.7,1080.8 872.8,1086.5 876.9,1091.8 881.0,1096.8 885.1,1101.4 889.2,1105.7 893.4,1109.7 897.5,1113.4 901.6,1116.8 905.7,1120.0 909.8,1123.0 913.9,1125.7 918.1,1128.3 922.2,1130.6 926.3,1132.8 930.4,1134.9 934.5,1136.8 938.6,1138.6 942.7,1140.3 946.9,1141.9 951.0,1143.4 955.1,1144.8 959.2,1146.2 963.3,1147.5 967.4,1148.7 971.5,1149.8 975.7,1150.9 979.8,1151.9 983.9,1152.9 988.0,1153.8 992.1,1154.7 996.2,1155.5 1000.4,1156.3 1004.5,1157.0 1008.6,1157.7 1012.7,1158.3 1016.8,1158.9 1020.9,1159.5 1025.0,1160.0 1029.2,1160.4 1033.3,1160.9 1037.4,1161.2 1041.5,1161.6 1045.6,1161.9 1049.7,1162.2 1053.8,1162.5 1058.0,1162.7 1062.1,1162.9 1066.2,1163.1 1070.3,1163.3 1074.4,1163.4 1078.5,1163.5 1082.6,1163.7 1086.8,1163.8 1090.9,1163.8 1095.0,1163.9 1099.1,1164.0 1103.2,1164.0 1107.3,1164.1 1111.5,1164.1 1115.6,1164.1 1119.7,1164.2 1123.8,1164.2 1127.9,1164.2 1132.0,1164.2 1136.1,1164.2 1140.3,1164.3 1144.4,1164.3 1148.5,1164.3 1152.6,1164.3 1156.7,1164.3 1160.8,1164.3 1164.9,1164.3 1169.1,1164.3 1173.2,1164.3 1177.3,1164.3 1181.4,1164.3 1185.5,1164.3 1189.6,1164.3 1193.8,1164.3"/><polyline stroke="#d838a0" points="128.0,1164.3 132.1,1164.2 136.2,1164.2 140.3,1164.1 144.5,1164.0 148.6,1163.8 152.7,1163.6 156.8,1163.4 160.9,1163.2 165.0,1162.8 169.1,1162.5 173.3,1162.0 177.4,1161.5 181.5,1160.9 185.6,1160.2 189.7,1159.4 193.8,1158.6 198.0,1157.7 202.1,1156.7 206.2,1155.7 210.3,1154.7 214.4,1153.7 218.5,1152.6 222.6,1151.6 226.8,1150.6 230.9,1149.5 235.0,1148.5 239.1,1147.5 243.2,1146.4 247.3,1145.3 251.4,1144.2 255.6,1142.9 259.7,1141.6 263.8,1140.0 267.9,1138.3 272.0,1136.4 276.1,1134.2 280.2,1131.7 284.4,1129.0 288.5,1126.0 292.6,1122.7 296.7,1119.2 300.8,1115.4 304.9,1111.3 309.1,1107.1 313.2,1102.6 317.3,1098.1 321.4,1093.4 325.5,1088.7 329.6,1084.0 333.7,1079.3 337.9,1074.6 342.0,1070.1 346.1,1065.8 350.2,1061.6 354.3,1057.6 358.4,1053.9 362.5,1050.4 366.7,1047.3 370.8,1044.4 374.9,1041.8 379.0,1039.4 383.1,1037.4 387.2,1035.5 391.4,1034.0 395.5,1032.6 399.6,1031.4 403.7,1030.3 407.8,1029.3 411.9,1028.4 416.0,1027.6 420.2,1026.7 424.3,1025.8 428.4,1024.8 432.5,1023.8 436.6,1022.6 440.7,1021.3 444.8,1019.9 449.0,1018.3 453.1,1016.5 457.2,1014.6 461.3,1012.6 465.4,1010.4 469.5,1008.1 473.6,1005.7 477.8,1003.2 481.9,1000.6 486.0,998.0 490.1,995.3 494.2,992.6 498.3,990.0 502.5,987.3 506.6,984.7 510.7,982.1 514.8,979.5 518.9,977.0 523.0,974.5 527.1,972.1 531.3,969.7 535.4,967.3 539.5,964.8 543.6,962.4 547.7,959.9 551.8,957.3 555.9,954.6 560.1,951.8 564.2,948.9 568.3,945.7 572.4,942.3 576.5,938.8 580.6,934.9 584.8,930.8 588.9,926.4 593.0,921.7 597.1,916.7 601.2,911.4 605.3,905.7 609.4,899.8 613.6,893.7 617.7,887.2 621.8,880.5 625.9,873.7 630.0,866.6 634.1,859.5 638.2,852.2 642.4,845.0 646.5,837.8 650.6,830.6 654.7,823.6 658.8,816.9 662.9,810.3 667.0,804.1 671.2,798.3 675.3,793.0 679.4,788.2 683.5,783.9 687.6,780.2 691.7,777.2 695.9,774.8 700.0,773.3 704.1,772.4 708.2,772.4 712.3,773.1 716.4,774.7 720.5,777.0 724.7,780.2 728.8,784.2 732.9,788.9 737.0,794.5 741.1,800.7 745.2,807.6 749.3,815.2 753.5,823.4 757.6,832.1 761.7,841.4 765.8,851.0 769.9,861.1 774.0,871.5 778.1,882.2 782.3,893.0 786.4,904.1 790.5,915.2 794.6,926.3 798.7,937.4 802.8,948.5 807.0,959.4 811.1,970.1 815.2,980.6 819.3,990.8 823.4,1000.8 827.5,1010.5 831.6,1019.8 835.8,1028.7 839.9,1037.2 844.0,1045.4 848.1,1053.1 852.2,1060.5 856.3,1067.4 860.4,1073.9 864.6,1080.1 868.7,1085.8 872.8,1091.2 876.9,1096.2 881.0,1100.8 885.1,1105.1 889.2,1109.2 893.4,1112.9 897.5,1116.3 901.6,1119.5 905.7,1122.5 909.8,1125.2 913.9,1127.7 918.1,1130.1 922.2,1132.3 926.3,1134.3 930.4,1136.2 934.5,1138.0 938.6,1139.7 942.7,1141.3 946.9,1142.8 951.0,1144.2 955.1,1145.5 959.2,1146.8 963.3,1148.0 967.4,1149.1 971.5,1150.2 975.7,1151.2 979.8,1152.2 983.9,1153.2 988.0,1154.0 992.1,1154.9 996.2,1155.7 1000.4,1156.4 1004.5,1157.1 1008.6,1157.8 1012.7,1158.4 1016.8,1159.0 1020.9,1159.5 1025.0,1160.0 1029.2,1160.5 1033.3,1160.9 1037.4,1161.3 1041.5,1161.6 1045.6,1161.9 1049.7,1162.2 1053.8,1162.5 1058.0,1162.7 1062.1,1162.9 1066.2,1163.1 1070.3,1163.3 1074.4,1163.4 1078.5,1163.5 1082.6,1163.7 1086.8,1163.8 1090.9,1163.8 1095.0,1163.9 1099.1,1164.0 1103.2,1164.0 1107.3,1164.1 1111.5,1164.1 1115.6,1164.1 1119.7,1164.2 1123.8,1164.2 1127.9,1164.2 1132.0,1164.2 1136.1,1164.2 1140.3,1164.3 1144.4,1164.3 1148.5,1164.3 1152.6,1164.3 1156.7,1164.3 1160.8,1164.3 1164.9,1164.3 1169.1,1164.3 1173.2,1164.3 1177.3,1164.3 1181.4,1164.3 1185.5,1164.3 1189.6,1164.3 1193.8,1164.3"/><polyline stroke="#88d8ec" points="128.0,1164.3 132.1,1164.2 136.2,1164.2 140.3,1164.1 144.5,1164.0 148.6,1163.8 152.7,1163.6 156.8,1163.4 160.9,1163.1 165.0,1162.8 169.1,1162.4 173.3,1162.0 177.4,1161.4 181.5,1160.8 185.6,1160.1 189.7,1159.3 193.8,1158.5 198.0,1157.6 202.1,1156.6 206.2,1155.6 210.3,1154.5 214.4,1153.5 218.5,1152.4 222.6,1151.3 226.8,1150.2 230.9,1149.1 235.0,1148.0 239.1,1146.9 243.2,1145.8 247.3,1144.6 251.4,1143.3 255.6,1142.0 259.7,1140.5 263.8,1138.8 267.9,1137.0 272.0,1134.9 276.1,1132.6 280.2,1130.0 284.4,1127.2 288.5,1124.0 292.6,1120.6 296.7,1116.9 300.8,1113.0 304.9,1108.9 309.1,1104.5 313.2,1100.0 317.3,1095.4 321.4,1090.8 325.5,1086.0 329.6,1081.3 333.7,1076.7 337.9,1072.2 342.0,1067.8 346.1,1063.6 350.2,1059.6 354.3,1055.9 358.4,1052.4 362.5,1049.2 366.7,1046.4 370.8,1043.8 374.9,1041.5 379.0,1039.6 383.1,1037.9 387.2,1036.6 391.4,1035.4 395.5,1034.5 399.6,1033.7 403.7,1033.1 407.8,1032.6 411.9,1032.2 416.0,1031.8 420.2,1031.4 424.3,1031.0 428.4,1030.5 432.5,1029.9 436.6,1029.1 440.7,1028.3 444.8,1027.3 449.0,1026.1 453.1,1024.8 457.2,1023.4 461.3,1021.7 465.4,1020.0 469.5,1018.1 473.6,1016.1 477.8,1014.0 481.9,1011.9 486.0,1009.7 490.1,1007.5 494.2,1005.2 498.3,1003.0 502.5,1000.8 506.6,998.6 510.7,996.5 514.8,994.4 518.9,992.4 523.0,990.4 527.1,988.4 531.3,986.6 535.4,984.7 539.5,982.8 543.6,980.9 547.7,979.0 551.8,977.0 555.9,975.0 560.1,972.8 564.2,970.5 568.3,968.0 572.4,965.3 576.5,962.4 580.6,959.3 584.8,955.9 588.9,952.2 593.0,948.2 597.1,943.8 601.2,939.2 605.3,934.3 609.4,929.0 613.6,923.4 617.7,917.6 621.8,911.5 625.9,905.1 630.0,898.5 634.1,891.7 638.2,884.8 642.4,877.9 646.5,870.8 650.6,863.8 654.7,856.8 658.8,850.0 662.9,843.3 667.0,836.9 671.2,830.8 675.3,825.0 679.4,819.7 683.5,814.8 687.6,810.4 691.7,806.6 695.9,803.4 700.0,800.9 704.1,799.1 708.2,797.9 712.3,797.6 716.4,797.9 720.5,799.1 724.7,801.0 728.8,803.6 732.9,807.1 737.0,811.2 741.1,816.1 745.2,821.7 749.3,828.0 753.5,834.9 757.6,842.3 761.7,850.3 765.8,858.8 769.9,867.7 774.0,877.0 778.1,886.7 782.3,896.5 786.4,906.6 790.5,916.9 794.6,927.2 798.7,937.6 802.8,948.0 807.0,958.3 811.1,968.5 815.2,978.6 819.3,988.4 823.4,998.1 827.5,1007.4 831.6,1016.5 835.8,1025.2 839.9,1033.7 844.0,1041.7 848.1,1049.4 852.2,1056.8 856.3,1063.7 860.4,1070.3 864.6,1076.5 868.7,1082.4 872.8,1087.8 876.9,1093.0 881.0,1097.8 885.1,1102.2 889.2,1106.4 893.4,1110.3 897.5,1113.9 901.6,1117.2 905.7,1120.3 909.8,1123.2 913.9,1125.9 918.1,1128.4 922.2,1130.7 926.3,1132.9 930.4,1134.9 934.5,1136.8 938.6,1138.6 942.7,1140.3 946.9,1141.9 951.0,1143.4 955.1,1144.8 959.2,1146.2 963.3,1147.4 967.4,1148.6 971.5,1149.8 975.7,1150.9 979.8,1151.9 983.9,1152.9 988.0,1153.8 992.1,1154.7 996.2,1155.5 1000.4,1156.3 1004.5,1157.0 1008.6,1157.7 1012.7,1158.3 1016.8,1158.9 1020.9,1159.4 1025.0,1160.0 1029.2,1160.4 1033.3,1160.8 1037.4,1161.2 1041.5,1161.6 1045.6,1161.9 1049.7,1162.2 1053.8,1162.5 1058.0,1162.7 1062.1,1162.9 1066.2,1163.1 1070.3,1163.3 1074.4,1163.4 1078.5,1163.5 1082.6,1163.7 1086.8,1163.8 1090.9,1163.8 1095.0,1163.9 1099.1,1164.0 1103.2,1164.0 1107.3,1164.1 1111.5,1164.1 1115.6,1164.1 1119.7,1164.2 1123.8,1164.2 1127.9,1164.2 1132.0,1164.2 1136.1,1164.2 1140.3,1164.3 1144.4,1164.3 1148.5,1164.3 1152.6,1164.3 1156.7,1164.3 1160.8,1164.3 1164.9,1164.3 1169.1,1164.3 1173.2,1164.3 1177.3,1164.3 1181.4,1164.3 1185.5,1164.3 1189.6,1164.3 1193.8,1164.3"/><polyline stroke="#88d8ec" points="128.0,1164.3 132.1,1164.2 136.2,1164.2 140.3,1164.1 144.5,1164.0 148.6,1163.8 152.7,1163.7 156.8,1163.4 160.9,1163.2 165.0,1162.8 169.1,1162.5 173.3,1162.0 177.4,1161.5 181.5,1160.9 185.6,1160.2 189.7,1159.4 193.8,1158.6 198.0,1157.7 202.1,1156.8 206.2,1155.8 210.3,1154.8 214.4,1153.8 218.5,1152.8 222.6,1151.8 226.8,1150.8 230.9,1149.8 235.0,1148.8 239.1,1147.8 243.2,1146.8 247.3,1145.8 251.4,1144.7 255.6,1143.6 259.7,1142.3 263.8,1140.8 267.9,1139.2 272.0,1137.3 276.1,1135.2 280.2,1132.9 284.4,1130.3 288.5,1127.4 292.6,1124.2 296.7,1120.7 300.8,1117.0 304.9,1113.0 309.1,1108.9 313.2,1104.5 317.3,1100.0 321.4,1095.4 325.5,1090.7 329.6,1086.0 333.7,1081.3 337.9,1076.6 342.0,1072.1 346.1,1067.6 350.2,1063.4 354.3,1059.3 358.4,1055.5 362.5,1051.8 366.7,1048.5 370.8,1045.4 374.9,1042.6 379.0,1040.0 383.1,1037.7 387.2,1035.6 391.4,1033.8 395.5,1032.1 399.6,1030.6 403.7,1029.2 407.8,1027.9 411.9,1026.7 416.0,1025.5 420.2,1024.3 424.3,1023.1 428.4,1021.8 432.5,1020.4 436.6,1019.0 440.7,1017.3 444.8,1015.6 449.0,1013.7 453.1,1011.6 457.2,1009.4 461.3,1007.1 465.4,1004.6 469.5,1002.0 473.6,999.3 477.8,996.6 481.9,993.7 486.0,990.8 490.1,987.9 494.2,985.0 498.3,982.0 502.5,979.1 506.6,976.2 510.7,973.4 514.8,970.6 518.9,967.9 523.0,965.2 527.1,962.5 531.3,959.9 535.4,957.3 539.5,954.7 543.6,952.1 547.7,949.4 551.8,946.7 555.9,943.9 560.1,941.0 564.2,937.9 568.3,934.7 572.4,931.3 576.5,927.7 580.6,923.8 584.8,919.8 588.9,915.4 593.0,910.9 597.1,906.0 601.2,900.9 605.3,895.5 609.4,889.9 613.6,884.0 617.7,878.0 621.8,871.7 625.9,865.4 630.0,858.9 634.1,852.3 638.2,845.7 642.4,839.2 646.5,832.8 650.6,826.4 654.7,820.3 658.8,814.4 662.9,808.9 667.0,803.7 671.2,798.9 675.3,794.7 679.4,790.9 683.5,787.7 687.6,785.2 691.7,783.3 695.9,782.1 700.0,781.6 704.1,781.9 708.2,782.9 712.3,784.7 716.4,787.3 720.5,790.6 724.7,794.7 728.8,799.6 732.9,805.1 737.0,811.4 741.1,818.3 745.2,825.8 749.3,833.9 753.5,842.5 757.6,851.6 761.7,861.2 765.8,871.0 769.9,881.2 774.0,891.7 778.1,902.3 782.3,913.0 786.4,923.9 790.5,934.7 794.6,945.5 798.7,956.3 802.8,966.9 807.0,977.3 811.1,987.5 815.2,997.4 819.3,1007.1 823.4,1016.4 827.5,1025.4 831.6,1034.1 835.8,1042.3 839.9,1050.2 844.0,1057.6 848.1,1064.7 852.2,1071.4 856.3,1077.6 860.4,1083.5 864.6,1089.0 868.7,1094.1 872.8,1098.9 876.9,1103.3 881.0,1107.4 885.1,1111.2 889.2,1114.7 893.4,1118.0 897.5,1121.0 901.6,1123.7 905.7,1126.3 909.8,1128.7 913.9,1130.9 918.1,1132.9 922.2,1134.8 926.3,1136.6 930.4,1138.3 934.5,1139.8 938.6,1141.3 942.7,1142.7 946.9,1144.0 951.0,1145.3 955.1,1146.5 959.2,1147.6 963.3,1148.7 967.4,1149.8 971.5,1150.8 975.7,1151.7 979.8,1152.7 983.9,1153.5 988.0,1154.4 992.1,1155.2 996.2,1155.9 1000.4,1156.6 1004.5,1157.3 1008.6,1157.9 1012.7,1158.5 1016.8,1159.1 1020.9,1159.6 1025.0,1160.1 1029.2,1160.5 1033.3,1160.9 1037.4,1161.3 1041.5,1161.7 1045.6,1162.0 1049.7,1162.3 1053.8,1162.5 1058.0,1162.7 1062.1,1162.9 1066.2,1163.1 1070.3,1163.3 1074.4,1163.4 1078.5,1163.6 1082.6,1163.7 1086.8,1163.8 1090.9,1163.8 1095.0,1163.9 1099.1,1164.0 1103.2,1164.0 1107.3,1164.1 1111.5,1164.1 1115.6,1164.1 1119.7,1164.2 1123.8,1164.2 1127.9,1164.2 1132.0,1164.2 1136.1,1164.2 1140.3,1164.3 1144.4,1164.3 1148.5,1164.3 1152.6,1164.3 1156.7,1164.3 1160.8,1164.3 1164.9,1164.3 1169.1,1164.3 1173.2,1164.3 1177.3,1164.3 1181.4,1164.3 1185.5,1164.3 1189.6,1164.3 1193.8,1164.3"/><polyline stroke="#88d8ec" points="128.0,1164.3 132.1,1164.2 136.2,1164.2 140.3,1164.1 144.5,1164.0 148.6,1163.8 152.7,1163.7 156.8,1163.4 160.9,1163.2 165.0,1162.9 169.1,1162.5 173.3,1162.0 177.4,1161.5 181.5,1160.9 185.6,1160.2 189.7,1159.5 193.8,1158.7 198.0,1157.8 202.1,1156.9 206.2,1155.9 210.3,1154.9 214.4,1153.9 218.5,1152.9 222.6,1151.9 226.8,1150.9 230.9,1150.0 235.0,1149.0 239.1,1148.1 243.2,1147.1 247.3,1146.1 251.4,1145.1 255.6,1143.9 259.7,1142.7 263.8,1141.2 267.9,1139.6 272.0,1137.8 276.1,1135.8 280.2,1133.4 284.4,1130.9 288.5,1128.0 292.6,1124.8 296.7,1121.4 300.8,1117.7 304.9,1113.7 309.1,1109.5 313.2,1105.2 317.3,1100.7 321.4,1096.0 325.5,1091.3 329.6,1086.6 333.7,1081.9 337.9,1077.2 342.0,1072.7 346.1,1068.3 350.2,1064.0 354.3,1060.0 358.4,1056.2 362.5,1052.7 366.7,1049.4 370.8,1046.5 374.9,1043.9 379.0,1041.5 383.1,1039.5 387.2,1037.7 391.4,1036.2 395.5,1034.9 399.6,1033.8 403.7,1032.9 407.8,1032.2 411.9,1031.6 416.0,1031.0 420.2,1030.5 424.3,1030.0 428.4,1029.4 432.5,1028.8 436.6,1028.1 440.7,1027.3 444.8,1026.4 449.0,1025.3 453.1,1024.1 457.2,1022.8 461.3,1021.3 465.4,1019.7 469.5,1017.9 473.6,1016.0 477.8,1014.0 481.9,1011.9 486.0,1009.7 490.1,1007.5 494.2,1005.2 498.3,1002.9 502.5,1000.6 506.6,998.3 510.7,996.0 514.8,993.6 518.9,991.3 523.0,989.0 527.1,986.7 531.3,984.4 535.4,982.0 539.5,979.7 543.6,977.2 547.7,974.7 551.8,972.1 555.9,969.4 560.1,966.6 564.2,963.5 568.3,960.3 572.4,956.9 576.5,953.2 580.6,949.3 584.8,945.1 588.9,940.6 593.0,935.9 597.1,930.8 601.2,925.5 605.3,919.8 609.4,913.9 613.6,907.7 617.7,901.3 621.8,894.6 625.9,887.8 630.0,880.8 634.1,873.8 638.2,866.6 642.4,859.5 646.5,852.3 650.6,845.3 654.7,838.5 658.8,831.8 662.9,825.4 667.0,819.3 671.2,813.6 675.3,808.4 679.4,803.6 683.5,799.4 687.6,795.8 691.7,792.9 695.9,790.6 700.0,789.0 704.1,788.1 708.2,788.1 712.3,788.7 716.4,790.2 720.5,792.5 724.7,795.5 728.8,799.3 732.9,803.9 737.0,809.1 741.1,815.1 745.2,821.8 749.3,829.1 753.5,836.9 757.6,845.3 761.7,854.2 765.8,863.5 769.9,873.2 774.0,883.1 778.1,893.4 782.3,903.8 786.4,914.4 790.5,925.1 794.6,935.8 798.7,946.4 802.8,957.0 807.0,967.5 811.1,977.7 815.2,987.8 819.3,997.6 823.4,1007.2 827.5,1016.4 831.6,1025.3 835.8,1033.9 839.9,1042.1 844.0,1049.9 848.1,1057.3 852.2,1064.3 856.3,1070.9 860.4,1077.2 864.6,1083.0 868.7,1088.5 872.8,1093.7 876.9,1098.4 881.0,1102.9 885.1,1107.0 889.2,1110.8 893.4,1114.4 897.5,1117.7 901.6,1120.7 905.7,1123.5 909.8,1126.2 913.9,1128.6 918.1,1130.9 922.2,1133.0 926.3,1134.9 930.4,1136.8 934.5,1138.5 938.6,1140.1 942.7,1141.6 946.9,1143.1 951.0,1144.4 955.1,1145.7 959.2,1147.0 963.3,1148.2 967.4,1149.3 971.5,1150.3 975.7,1151.4 979.8,1152.3 983.9,1153.2 988.0,1154.1 992.1,1154.9 996.2,1155.7 1000.4,1156.5 1004.5,1157.2 1008.6,1157.8 1012.7,1158.4 1016.8,1159.0 1020.9,1159.5 1025.0,1160.0 1029.2,1160.5 1033.3,1160.9 1037.4,1161.3 1041.5,1161.6 1045.6,1161.9 1049.7,1162.2 1053.8,1162.5 1058.0,1162.7 1062.1,1162.9 1066.2,1163.1 1070.3,1163.3 1074.4,1163.4 1078.5,1163.5 1082.6,1163.7 1086.8,1163.8 1090.9,1163.8 1095.0,1163.9 1099.1,1164.0 1103.2,1164.0 1107.3,1164.1 1111.5,1164.1 1115.6,1164.1 1119.7,1164.2 1123.8,1164.2 1127.9,1164.2 1132.0,1164.2 1136.1,1164.2 1140.3,1164.3 1144.4,1164.3 1148.5,1164.3 1152.6,1164.3 1156.7,1164.3 1160.8,1164.3 1164.9,1164.3 1169.1,1164.3 1173.2,1164.3 1177.3,1164.3 1181.4,1164.3 1185.5,1164.3 1189.6,1164.3 1193.8,1164.3"/><polyline stroke="#a8d010" points="128.0,1164.3 132.1,1164.2 136.2,1164.2 140.3,1164.1 144.5,1164.0 148.6,1163.8 152.7,1163.6 156.8,1163.4 160.9,1163.1 165.0,1162.8 169.1,1162.4 173.3,1161.9 177.4,1161.4 181.5,1160.8 185.6,1160.0 189.7,1159.3 193.8,1158.4 198.0,1157.5 202.1,1156.5 206.2,1155.4 210.3,1154.3 214.4,1153.2 218.5,1152.1 222.6,1151.0 226.8,1149.8 230.9,1148.7 235.0,1147.6 239.1,1146.4 243.2,1145.2 247.3,1144.0 251.4,1142.7 255.6,1141.2 259.7,1139.7 263.8,1137.9 267.9,1136.0 272.0,1133.9 276.1,1131.5 280.2,1128.9 284.4,1126.0 288.5,1122.8 292.6,1119.4 296.7,1115.7 300.8,1111.7 304.9,1107.6 309.1,1103.3 313.2,1098.8 317.3,1094.3 321.4,1089.7 325.5,1085.0 329.6,1080.4 333.7,1075.9 337.9,1071.4 342.0,1067.1 346.1,1063.0 350.2,1059.1 354.3,1055.5 358.4,1052.1 362.5,1049.0 366.7,1046.1 370.8,1043.5 374.9,1041.2 379.0,1039.2 383.1,1037.4 387.2,1035.8 391.4,1034.4 395.5,1033.2 399.6,1032.1 403.7,1031.1 407.8,1030.2 411.9,1029.2 416.0,1028.3 420.2,1027.3 424.3,1026.2 428.4,1025.0 432.5,1023.7 436.6,1022.3 440.7,1020.6 444.8,1018.9 449.0,1016.9 453.1,1014.8 457.2,1012.5 461.3,1010.1 465.4,1007.5 469.5,1004.8 473.6,1002.1 477.8,999.3 481.9,996.4 486.0,993.5 490.1,990.6 494.2,987.7 498.3,984.9 502.5,982.1 506.6,979.5 510.7,976.8 514.8,974.3 518.9,971.9 523.0,969.6 527.1,967.3 531.3,965.1 535.4,963.0 539.5,960.9 543.6,958.9 547.7,956.8 551.8,954.7 555.9,952.6 560.1,950.4 564.2,948.1 568.3,945.6 572.4,943.0 576.5,940.1 580.6,937.1 584.8,933.9 588.9,930.3 593.0,926.6 597.1,922.5 601.2,918.2 605.3,913.6 609.4,908.7 613.6,903.6 617.7,898.2 621.8,892.6 625.9,886.8 630.0,880.8 634.1,874.8 638.2,868.6 642.4,862.4 646.5,856.2 650.6,850.1 654.7,844.1 658.8,838.3 662.9,832.7 667.0,827.4 671.2,822.4 675.3,817.8 679.4,813.7 683.5,810.1 687.6,807.0 691.7,804.5 695.9,802.6 700.0,801.4 704.1,800.9 708.2,801.1 712.3,802.0 716.4,803.7 720.5,806.1 724.7,809.2 728.8,813.1 732.9,817.6 737.0,822.9 741.1,828.8 745.2,835.3 749.3,842.4 753.5,850.0 757.6,858.2 761.7,866.8 765.8,875.8 769.9,885.2 774.0,894.8 778.1,904.7 782.3,914.8 786.4,924.9 790.5,935.2 794.6,945.5 798.7,955.7 802.8,965.9 807.0,975.9 811.1,985.8 815.2,995.4 819.3,1004.8 823.4,1014.0 827.5,1022.8 831.6,1031.3 835.8,1039.5 839.9,1047.3 844.0,1054.7 848.1,1061.8 852.2,1068.5 856.3,1074.8 860.4,1080.7 864.6,1086.3 868.7,1091.5 872.8,1096.4 876.9,1100.9 881.0,1105.2 885.1,1109.1 889.2,1112.7 893.4,1116.1 897.5,1119.2 901.6,1122.1 905.7,1124.8 909.8,1127.3 913.9,1129.6 918.1,1131.7 922.2,1133.7 926.3,1135.6 930.4,1137.4 934.5,1139.0 938.6,1140.6 942.7,1142.0 946.9,1143.4 951.0,1144.8 955.1,1146.0 959.2,1147.2 963.3,1148.4 967.4,1149.5 971.5,1150.5 975.7,1151.5 979.8,1152.4 983.9,1153.3 988.0,1154.2 992.1,1155.0 996.2,1155.8 1000.4,1156.5 1004.5,1157.2 1008.6,1157.9 1012.7,1158.5 1016.8,1159.0 1020.9,1159.6 1025.0,1160.1 1029.2,1160.5 1033.3,1160.9 1037.4,1161.3 1041.5,1161.6 1045.6,1162.0 1049.7,1162.2 1053.8,1162.5 1058.0,1162.7 1062.1,1162.9 1066.2,1163.1 1070.3,1163.3 1074.4,1163.4 1078.5,1163.6 1082.6,1163.7 1086.8,1163.8 1090.9,1163.8 1095.0,1163.9 1099.1,1164.0 1103.2,1164.0 1107.3,1164.1 1111.5,1164.1 1115.6,1164.1 1119.7,1164.2 1123.8,1164.2 1127.9,1164.2 1132.0,1164.2 1136.1,1164.2 1140.3,1164.3 1144.4,1164.3 1148.5,1164.3 1152.6,1164.3 1156.7,1164.3 1160.8,1164.3 1164.9,1164.3 1169.1,1164.3 1173.2,1164.3 1177.3,1164.3 1181.4,1164.3 1185.5,1164.3 1189.6,1164.3 1193.8,1164.3"/><polyline stroke="#a8d010" points="128.0,1164.3 132.1,1164.2 136.2,1164.2 140.3,1164.1 144.5,1164.0 148.6,1163.8 152.7,1163.7 156.8,1163.4 160.9,1163.2 165.0,1162.9 169.1,1162.5 173.3,1162.0 177.4,1161.5 181.5,1160.9 185.6,1160.2 189.7,1159.5 193.8,1158.7 198.0,1157.8 202.1,1156.9 206.2,1155.9 210.3,1154.9 214.4,1153.9 218.5,1152.9 222.6,1151.9 226.8,1151.0 230.9,1150.0 235.0,1149.0 239.1,1148.1 243.2,1147.2 247.3,1146.2 251.4,1145.1 255.6,1144.0 259.7,1142.8 263.8,1141.4 267.9,1139.8 272.0,1138.0 276.1,1136.0 280.2,1133.7 284.4,1131.1 288.5,1128.3 292.6,1125.1 296.7,1121.7 300.8,1118.0 304.9,1114.1 309.1,1110.0 313.2,1105.6 317.3,1101.1 321.4,1096.5 325.5,1091.8 329.6,1087.0 333.7,1082.2 337.9,1077.5 342.0,1072.8 346.1,1068.2 350.2,1063.8 354.3,1059.6 358.4,1055.5 362.5,1051.7 366.7,1048.1 370.8,1044.8 374.9,1041.7 379.0,1038.9 383.1,1036.3 387.2,1033.9 391.4,1031.7 395.5,1029.8 399.6,1027.9 403.7,1026.2 407.8,1024.6 411.9,1023.1 416.0,1021.6 420.2,1020.1 424.3,1018.6 428.4,1017.0 432.5,1015.3 436.6,1013.6 440.7,1011.7 444.8,1009.7 449.0,1007.6 453.1,1005.4 457.2,1003.0 461.3,1000.5 465.4,998.0 469.5,995.3 473.6,992.6 477.8,989.8 481.9,987.0 486.0,984.1 490.1,981.3 494.2,978.6 498.3,975.9 502.5,973.2 506.6,970.7 510.7,968.2 514.8,965.9 518.9,963.6 523.0,961.5 527.1,959.5 531.3,957.5 535.4,955.7 539.5,953.8 543.6,952.1 547.7,950.3 551.8,948.5 555.9,946.7 560.1,944.9 564.2,942.9 568.3,940.8 572.4,938.5 576.5,936.1 580.6,933.4 584.8,930.5 588.9,927.4 593.0,924.0 597.1,920.3 601.2,916.3 605.3,912.1 609.4,907.5 613.6,902.7 617.7,897.6 621.8,892.3 625.9,886.8 630.0,881.0 634.1,875.2 638.2,869.2 642.4,863.1 646.5,857.1 650.6,851.0 654.7,845.1 658.8,839.3 662.9,833.7 667.0,828.4 671.2,823.4 675.3,818.7 679.4,814.5 683.5,810.8 687.6,807.5 691.7,804.9 695.9,802.8 700.0,801.4 704.1,800.7 708.2,800.7 712.3,801.4 716.4,802.8 720.5,805.0 724.7,807.9 728.8,811.5 732.9,815.8 737.0,820.8 741.1,826.5 745.2,832.8 749.3,839.8 753.5,847.2 757.6,855.2 761.7,863.7 765.8,872.6 769.9,881.8 774.0,891.4 778.1,901.2 782.3,911.2 786.4,921.3 790.5,931.6 794.6,941.8 798.7,952.1 802.8,962.3 807.0,972.4 811.1,982.3 815.2,992.0 819.3,1001.5 823.4,1010.7 827.5,1019.6 831.6,1028.3 835.8,1036.5 839.9,1044.5 844.0,1052.0 848.1,1059.2 852.2,1066.1 856.3,1072.5 860.4,1078.6 864.6,1084.3 868.7,1089.6 872.8,1094.6 876.9,1099.3 881.0,1103.6 885.1,1107.6 889.2,1111.4 893.4,1114.9 897.5,1118.1 901.6,1121.1 905.7,1123.8 909.8,1126.4 913.9,1128.8 918.1,1131.0 922.2,1133.1 926.3,1135.0 930.4,1136.9 934.5,1138.6 938.6,1140.2 942.7,1141.7 946.9,1143.1 951.0,1144.5 955.1,1145.8 959.2,1147.0 963.3,1148.2 967.4,1149.3 971.5,1150.3 975.7,1151.4 979.8,1152.3 983.9,1153.2 988.0,1154.1 992.1,1154.9 996.2,1155.7 1000.4,1156.5 1004.5,1157.2 1008.6,1157.8 1012.7,1158.4 1016.8,1159.0 1020.9,1159.5 1025.0,1160.0 1029.2,1160.5 1033.3,1160.9 1037.4,1161.3 1041.5,1161.6 1045.6,1161.9 1049.7,1162.2 1053.8,1162.5 1058.0,1162.7 1062.1,1162.9 1066.2,1163.1 1070.3,1163.3 1074.4,1163.4 1078.5,1163.5 1082.6,1163.7 1086.8,1163.8 1090.9,1163.8 1095.0,1163.9 1099.1,1164.0 1103.2,1164.0 1107.3,1164.1 1111.5,1164.1 1115.6,1164.1 1119.7,1164.2 1123.8,1164.2 1127.9,1164.2 1132.0,1164.2 1136.1,1164.2 1140.3,1164.3 1144.4,1164.3 1148.5,1164.3 1152.6,1164.3 1156.7,1164.3 1160.8,1164.3 1164.9,1164.3 1169.1,1164.3 1173.2,1164.3 1177.3,1164.3 1181.4,1164.3 1185.5,1164.3 1189.6,1164.3 1193.8,1164.3"/><polyline stroke="#a8d010" points="128.0,1164.3 132.1,1164.2 136.2,1164.2 140.3,1164.1 144.5,1164.0 148.6,1163.8 152.7,1163.7 156.8,1163.4 160.9,1163.2 165.0,1162.8 169.1,1162.5 173.3,1162.0 177.4,1161.5 181.5,1160.9 185.6,1160.2 189.7,1159.4 193.8,1158.6 198.0,1157.7 202.1,1156.8 206.2,1155.8 210.3,1154.8 214.4,1153.8 218.5,1152.7 222.6,1151.7 226.8,1150.7 230.9,1149.7 235.0,1148.7 239.1,1147.7 243.2,1146.7 247.3,1145.6 251.4,1144.5 255.6,1143.3 259.7,1141.9 263.8,1140.4 267.9,1138.7 272.0,1136.8 276.1,1134.6 280.2,1132.2 284.4,1129.5 288.5,1126.5 292.6,1123.2 296.7,1119.6 300.8,1115.8 304.9,1111.7 309.1,1107.5 313.2,1103.0 317.3,1098.4 321.4,1093.6 325.5,1088.8 329.6,1084.0 333.7,1079.2 337.9,1074.5 342.0,1069.9 346.1,1065.4 350.2,1061.1 354.3,1057.0 358.4,1053.1 362.5,1049.6 366.7,1046.3 370.8,1043.2 374.9,1040.5 379.0,1038.1 383.1,1036.0 387.2,1034.1 391.4,1032.4 395.5,1031.0 399.6,1029.8 403.7,1028.7 407.8,1027.8 411.9,1026.9 416.0,1026.1 420.2,1025.3 424.3,1024.5 428.4,1023.7 432.5,1022.7 436.6,1021.7 440.7,1020.6 444.8,1019.3 449.0,1017.9 453.1,1016.3 457.2,1014.5 461.3,1012.7 465.4,1010.7 469.5,1008.5 473.6,1006.3 477.8,1004.0 481.9,1001.6 486.0,999.1 490.1,996.6 494.2,994.1 498.3,991.6 502.5,989.1 506.6,986.6 510.7,984.2 514.8,981.8 518.9,979.4 523.0,977.1 527.1,974.9 531.3,972.6 535.4,970.4 539.5,968.1 543.6,965.9 547.7,963.6 551.8,961.3 555.9,958.8 560.1,956.3 564.2,953.6 568.3,950.8 572.4,947.7 576.5,944.5 580.6,941.0 584.8,937.3 588.9,933.3 593.0,929.0 597.1,924.5 601.2,919.7 605.3,914.6 609.4,909.2 613.6,903.6 617.7,897.7 621.8,891.6 625.9,885.4 630.0,879.0 634.1,872.5 638.2,865.9 642.4,859.3 646.5,852.7 650.6,846.3 654.7,839.9 658.8,833.8 662.9,827.9 667.0,822.4 671.2,817.2 675.3,812.4 679.4,808.1 683.5,804.4 687.6,801.2 691.7,798.6 695.9,796.7 700.0,795.5 704.1,794.9 708.2,795.2 712.3,796.1 716.4,797.8 720.5,800.3 724.7,803.5 728.8,807.5 732.9,812.2 737.0,817.6 741.1,823.6 745.2,830.3 749.3,837.6 753.5,845.4 757.6,853.8 761.7,862.6 765.8,871.8 769.9,881.4 774.0,891.2 778.1,901.3 782.3,911.6 786.4,921.9 790.5,932.4 794.6,942.9 798.7,953.3 802.8,963.6 807.0,973.8 811.1,983.9 815.2,993.7 819.3,1003.2 823.4,1012.5 827.5,1021.5 831.6,1030.1 835.8,1038.4 839.9,1046.3 844.0,1053.9 848.1,1061.0 852.2,1067.8 856.3,1074.2 860.4,1080.2 864.6,1085.8 868.7,1091.1 872.8,1096.0 876.9,1100.6 881.0,1104.9 885.1,1108.8 889.2,1112.5 893.4,1115.9 897.5,1119.1 901.6,1122.0 905.7,1124.7 909.8,1127.2 913.9,1129.5 918.1,1131.7 922.2,1133.7 926.3,1135.6 930.4,1137.3 934.5,1139.0 938.6,1140.6 942.7,1142.0 946.9,1143.4 951.0,1144.8 955.1,1146.0 959.2,1147.2 963.3,1148.4 967.4,1149.5 971.5,1150.5 975.7,1151.5 979.8,1152.4 983.9,1153.3 988.0,1154.2 992.1,1155.0 996.2,1155.8 1000.4,1156.5 1004.5,1157.2 1008.6,1157.9 1012.7,1158.5 1016.8,1159.0 1020.9,1159.6 1025.0,1160.1 1029.2,1160.5 1033.3,1160.9 1037.4,1161.3 1041.5,1161.6 1045.6,1162.0 1049.7,1162.2 1053.8,1162.5 1058.0,1162.7 1062.1,1162.9 1066.2,1163.1 1070.3,1163.3 1074.4,1163.4 1078.5,1163.6 1082.6,1163.7 1086.8,1163.8 1090.9,1163.8 1095.0,1163.9 1099.1,1164.0 1103.2,1164.0 1107.3,1164.1 1111.5,1164.1 1115.6,1164.1 1119.7,1164.2 1123.8,1164.2 1127.9,1164.2 1132.0,1164.2 1136.1,1164.2 1140.3,1164.3 1144.4,1164.3 1148.5,1164.3 1152.6,1164.3 1156.7,1164.3 1160.8,1164.3 1164.9,1164.3 1169.1,1164.3 1173.2,1164.3 1177.3,1164.3 1181.4,1164.3 1185.5,1164.3 1189.6,1164.3 1193.8,1164.3"/><polyline stroke="#7040b8" points="128.0,1164.3 132.1,1164.2 136.2,1164.2 140.3,1164.1 144.5,1164.0 148.6,1163.8 152.7,1163.6 156.8,1163.4 160.9,1163.1 165.0,1162.8 169.1,1162.4 173.3,1162.0 177.4,1161.4 181.5,1160.8 185.6,1160.1 189.7,1159.3 193.8,1158.5 198.0,1157.6 202.1,1156.6 206.2,1155.6 210.3,1154.5 214.4,1153.5 218.5,1152.4 222.6,1151.3 226.8,1150.2 230.9,1149.1 235.0,1148.0 239.1,1146.9 243.2,1145.7 247.3,1144.5 251.4,1143.3 255.6,1141.9 259.7,1140.4 263.8,1138.7 267.9,1136.8 272.0,1134.7 276.1,1132.3 280.2,1129.6 284.4,1126.7 288.5,1123.5 292.6,1120.0 296.7,1116.2 300.8,1112.1 304.9,1107.8 309.1,1103.3 313.2,1098.7 317.3,1093.9 321.4,1088.9 325.5,1084.0 329.6,1079.0 333.7,1074.1 337.9,1069.3 342.0,1064.6 346.1,1060.0 350.2,1055.7 354.3,1051.5 358.4,1047.7 362.5,1044.1 366.7,1040.8 370.8,1037.7 374.9,1035.0 379.0,1032.5 383.1,1030.4 387.2,1028.4 391.4,1026.7 395.5,1025.2 399.6,1023.9 403.7,1022.6 407.8,1021.5 411.9,1020.4 416.0,1019.4 420.2,1018.3 424.3,1017.2 428.4,1016.0 432.5,1014.7 436.6,1013.2 440.7,1011.7 444.8,1009.9 449.0,1008.1 453.1,1006.0 457.2,1003.8 461.3,1001.5 465.4,999.0 469.5,996.5 473.6,993.8 477.8,991.1 481.9,988.3 486.0,985.5 490.1,982.7 494.2,979.9 498.3,977.2 502.5,974.5 506.6,971.9 510.7,969.3 514.8,966.9 518.9,964.6 523.0,962.3 527.1,960.2 531.3,958.1 535.4,956.0 539.5,954.1 543.6,952.1 547.7,950.1 551.8,948.2 555.9,946.1 560.1,944.0 564.2,941.8 568.3,939.4 572.4,936.8 576.5,934.1 580.6,931.1 584.8,927.9 588.9,924.4 593.0,920.6 597.1,916.5 601.2,912.2 605.3,907.5 609.4,902.5 613.6,897.3 617.7,891.8 621.8,886.0 625.9,880.0 630.0,873.8 634.1,867.5 638.2,861.0 642.4,854.5 646.5,848.0 650.6,841.6 654.7,835.2 658.8,829.0 662.9,823.0 667.0,817.2 671.2,811.8 675.3,806.8 679.4,802.3 683.5,798.2 687.6,794.7 691.7,791.8 695.9,789.6 700.0,788.0 704.1,787.1 708.2,787.0 712.3,787.6 716.4,788.9 720.5,791.1 724.7,794.0 728.8,797.7 732.9,802.1 737.0,807.2 741.1,813.0 745.2,819.5 749.3,826.7 753.5,834.4 757.6,842.6 761.7,851.4 765.8,860.6 769.9,870.2 774.0,880.1 778.1,890.2 782.3,900.6 786.4,911.2 790.5,921.8 794.6,932.5 798.7,943.1 802.8,953.7 807.0,964.2 811.1,974.6 815.2,984.7 819.3,994.6 823.4,1004.2 827.5,1013.5 831.6,1022.5 835.8,1031.2 839.9,1039.5 844.0,1047.4 848.1,1054.9 852.2,1062.1 856.3,1068.8 860.4,1075.2 864.6,1081.1 868.7,1086.7 872.8,1092.0 876.9,1096.9 881.0,1101.4 885.1,1105.7 889.2,1109.6 893.4,1113.2 897.5,1116.6 901.6,1119.8 905.7,1122.7 909.8,1125.4 913.9,1127.9 918.1,1130.2 922.2,1132.4 926.3,1134.4 930.4,1136.3 934.5,1138.0 938.6,1139.7 942.7,1141.3 946.9,1142.8 951.0,1144.2 955.1,1145.5 959.2,1146.8 963.3,1148.0 967.4,1149.1 971.5,1150.2 975.7,1151.2 979.8,1152.2 983.9,1153.2 988.0,1154.0 992.1,1154.9 996.2,1155.7 1000.4,1156.4 1004.5,1157.1 1008.6,1157.8 1012.7,1158.4 1016.8,1159.0 1020.9,1159.5 1025.0,1160.0 1029.2,1160.5 1033.3,1160.9 1037.4,1161.3 1041.5,1161.6 1045.6,1161.9 1049.7,1162.2 1053.8,1162.5 1058.0,1162.7 1062.1,1162.9 1066.2,1163.1 1070.3,1163.3 1074.4,1163.4 1078.5,1163.5 1082.6,1163.7 1086.8,1163.8 1090.9,1163.8 1095.0,1163.9 1099.1,1164.0 1103.2,1164.0 1107.3,1164.1 1111.5,1164.1 1115.6,1164.1 1119.7,1164.2 1123.8,1164.2 1127.9,1164.2 1132.0,1164.2 1136.1,1164.2 1140.3,1164.3 1144.4,1164.3 1148.5,1164.3 1152.6,1164.3 1156.7,1164.3 1160.8,1164.3 1164.9,1164.3 1169.1,1164.3 1173.2,1164.3 1177.3,1164.3 1181.4,1164.3 1185.5,1164.3 1189.6,1164.3 1193.8,1164.3"/><polyline stroke="#7040b8" points="128.0,1164.3 132.1,1164.2 136.2,1164.2 140.3,1164.1 144.5,1164.0 148.6,1163.8 152.7,1163.7 156.8,1163.5 160.9,1163.2 165.0,1162.9 169.1,1162.5 173.3,1162.1 177.4,1161.5 181.5,1161.0 185.6,1160.3 189.7,1159.6 193.8,1158.8 198.0,1157.9 202.1,1157.0 206.2,1156.1 210.3,1155.2 214.4,1154.2 218.5,1153.3 222.6,1152.3 226.8,1151.4 230.9,1150.6 235.0,1149.7 239.1,1148.9 243.2,1148.0 247.3,1147.2 251.4,1146.3 255.6,1145.3 259.7,1144.2 263.8,1142.9 267.9,1141.5 272.0,1139.9 276.1,1138.1 280.2,1136.0 284.4,1133.6 288.5,1130.9 292.6,1128.0 296.7,1124.7 300.8,1121.2 304.9,1117.4 309.1,1113.4 313.2,1109.1 317.3,1104.7 321.4,1100.1 325.5,1095.4 329.6,1090.6 333.7,1085.8 337.9,1081.0 342.0,1076.2 346.1,1071.5 350.2,1066.9 354.3,1062.5 358.4,1058.2 362.5,1054.2 366.7,1050.4 370.8,1046.8 374.9,1043.4 379.0,1040.3 383.1,1037.4 387.2,1034.8 391.4,1032.4 395.5,1030.2 399.6,1028.1 403.7,1026.3 407.8,1024.5 411.9,1022.9 416.0,1021.3 420.2,1019.7 424.3,1018.2 428.4,1016.6 432.5,1015.0 436.6,1013.3 440.7,1011.5 444.8,1009.6 449.0,1007.6 453.1,1005.5 457.2,1003.3 461.3,1001.0 465.4,998.6 469.5,996.0 473.6,993.5 477.8,990.8 481.9,988.1 486.0,985.4 490.1,982.7 494.2,980.0 498.3,977.3 502.5,974.7 506.6,972.1 510.7,969.6 514.8,967.2 518.9,964.8 523.0,962.5 527.1,960.3 531.3,958.1 535.4,956.0 539.5,953.9 543.6,951.8 547.7,949.6 551.8,947.5 555.9,945.3 560.1,942.9 564.2,940.5 568.3,937.9 572.4,935.1 576.5,932.1 580.6,928.9 584.8,925.4 588.9,921.7 593.0,917.7 597.1,913.4 601.2,908.8 605.3,903.9 609.4,898.7 613.6,893.3 617.7,887.6 621.8,881.7 625.9,875.5 630.0,869.3 634.1,862.8 638.2,856.3 642.4,849.8 646.5,843.3 650.6,836.8 654.7,830.5 658.8,824.4 662.9,818.5 667.0,812.9 671.2,807.7 675.3,802.8 679.4,798.5 683.5,794.7 687.6,791.4 691.7,788.8 695.9,786.9 700.0,785.6 704.1,785.0 708.2,785.2 712.3,786.1 716.4,787.9 720.5,790.3 724.7,793.6 728.8,797.6 732.9,802.3 737.0,807.8 741.1,814.0 745.2,820.8 749.3,828.2 753.5,836.2 757.6,844.7 761.7,853.7 765.8,863.1 769.9,872.9 774.0,882.9 778.1,893.3 782.3,903.8 786.4,914.4 790.5,925.2 794.6,935.9 798.7,946.6 802.8,957.2 807.0,967.7 811.1,978.0 815.2,988.1 819.3,998.0 823.4,1007.5 827.5,1016.8 831.6,1025.7 835.8,1034.3 839.9,1042.4 844.0,1050.2 848.1,1057.7 852.2,1064.7 856.3,1071.3 860.4,1077.5 864.6,1083.4 868.7,1088.8 872.8,1093.9 876.9,1098.7 881.0,1103.1 885.1,1107.3 889.2,1111.1 893.4,1114.6 897.5,1117.9 901.6,1120.9 905.7,1123.7 909.8,1126.3 913.9,1128.7 918.1,1131.0 922.2,1133.1 926.3,1135.0 930.4,1136.9 934.5,1138.6 938.6,1140.2 942.7,1141.7 946.9,1143.1 951.0,1144.5 955.1,1145.8 959.2,1147.0 963.3,1148.2 967.4,1149.3 971.5,1150.4 975.7,1151.4 979.8,1152.3 983.9,1153.3 988.0,1154.1 992.1,1155.0 996.2,1155.7 1000.4,1156.5 1004.5,1157.2 1008.6,1157.8 1012.7,1158.4 1016.8,1159.0 1020.9,1159.5 1025.0,1160.0 1029.2,1160.5 1033.3,1160.9 1037.4,1161.3 1041.5,1161.6 1045.6,1162.0 1049.7,1162.2 1053.8,1162.5 1058.0,1162.7 1062.1,1162.9 1066.2,1163.1 1070.3,1163.3 1074.4,1163.4 1078.5,1163.6 1082.6,1163.7 1086.8,1163.8 1090.9,1163.8 1095.0,1163.9 1099.1,1164.0 1103.2,1164.0 1107.3,1164.1 1111.5,1164.1 1115.6,1164.1 1119.7,1164.2 1123.8,1164.2 1127.9,1164.2 1132.0,1164.2 1136.1,1164.2 1140.3,1164.3 1144.4,1164.3 1148.5,1164.3 1152.6,1164.3 1156.7,1164.3 1160.8,1164.3 1164.9,1164.3 1169.1,1164.3 1173.2,1164.3 1177.3,1164.3 1181.4,1164.3 1185.5,1164.3 1189.6,1164.3 1193.8,1164.3"/><polyline stroke="#7040b8" points="128.0,1164.3 132.1,1164.2 136.2,1164.2 140.3,1164.1 144.5,1164.0 148.6,1163.8 152.7,1163.7 156.8,1163.5 160.9,1163.2 165.0,1162.9 169.1,1162.5 173.3,1162.1 177.4,1161.6 181.5,1161.0 185.6,1160.4 189.7,1159.6 193.8,1158.9 198.0,1158.0 202.1,1157.2 206.2,1156.3 210.3,1155.3 214.4,1154.4 218.5,1153.5 222.6,1152.6 226.8,1151.7 230.9,1150.9 235.0,1150.1 239.1,1149.3 243.2,1148.5 247.3,1147.6 251.4,1146.8 255.6,1145.8 259.7,1144.7 263.8,1143.5 267.9,1142.1 272.0,1140.5 276.1,1138.6 280.2,1136.4 284.4,1133.9 288.5,1131.1 292.6,1128.0 296.7,1124.5 300.8,1120.7 304.9,1116.7 309.1,1112.3 313.2,1107.6 317.3,1102.7 321.4,1097.6 325.5,1092.4 329.6,1087.0 333.7,1081.5 337.9,1076.0 342.0,1070.5 346.1,1065.0 350.2,1059.7 354.3,1054.5 358.4,1049.4 362.5,1044.6 366.7,1040.0 370.8,1035.7 374.9,1031.7 379.0,1027.9 383.1,1024.5 387.2,1021.4 391.4,1018.6 395.5,1016.1 399.6,1013.8 403.7,1011.8 407.8,1010.1 411.9,1008.5 416.0,1007.0 420.2,1005.7 424.3,1004.5 428.4,1003.3 432.5,1002.2 436.6,1001.0 440.7,999.8 444.8,998.6 449.0,997.3 453.1,995.8 457.2,994.3 461.3,992.7 465.4,991.0 469.5,989.2 473.6,987.2 477.8,985.2 481.9,983.1 486.0,981.0 490.1,978.8 494.2,976.6 498.3,974.4 502.5,972.1 506.6,969.9 510.7,967.7 514.8,965.6 518.9,963.4 523.0,961.3 527.1,959.3 531.3,957.2 535.4,955.2 539.5,953.1 543.6,951.0 547.7,948.9 551.8,946.8 555.9,944.5 560.1,942.1 564.2,939.6 568.3,936.9 572.4,934.1 576.5,931.0 580.6,927.7 584.8,924.1 588.9,920.3 593.0,916.2 597.1,911.8 601.2,907.1 605.3,902.1 609.4,896.9 613.6,891.4 617.7,885.6 621.8,879.7 625.9,873.5 630.0,867.2 634.1,860.8 638.2,854.3 642.4,847.8 646.5,841.3 650.6,834.9 654.7,828.7 658.8,822.6 662.9,816.8 667.0,811.3 671.2,806.2 675.3,801.6 679.4,797.4 683.5,793.7 687.6,790.6 691.7,788.2 695.9,786.4 700.0,785.4 704.1,785.0 708.2,785.4 712.3,786.5 716.4,788.5 720.5,791.1 724.7,794.6 728.8,798.8 732.9,803.7 737.0,809.4 741.1,815.7 745.2,822.7 749.3,830.2 753.5,838.4 757.6,847.0 761.7,856.1 765.8,865.6 769.9,875.5 774.0,885.6 778.1,896.0 782.3,906.6 786.4,917.2 790.5,928.0 794.6,938.7 798.7,949.4 802.8,960.0 807.0,970.4 811.1,980.7 815.2,990.8 819.3,1000.5 823.4,1010.0 827.5,1019.2 831.6,1028.0 835.8,1036.5 839.9,1044.6 844.0,1052.3 848.1,1059.6 852.2,1066.5 856.3,1073.0 860.4,1079.1 864.6,1084.9 868.7,1090.3 872.8,1095.3 876.9,1100.0 881.0,1104.3 885.1,1108.3 889.2,1112.1 893.4,1115.5 897.5,1118.7 901.6,1121.7 905.7,1124.4 909.8,1127.0 913.9,1129.3 918.1,1131.5 922.2,1133.5 926.3,1135.4 930.4,1137.2 934.5,1138.9 938.6,1140.5 942.7,1142.0 946.9,1143.4 951.0,1144.7 955.1,1146.0 959.2,1147.2 963.3,1148.3 967.4,1149.4 971.5,1150.5 975.7,1151.5 979.8,1152.4 983.9,1153.3 988.0,1154.2 992.1,1155.0 996.2,1155.8 1000.4,1156.5 1004.5,1157.2 1008.6,1157.9 1012.7,1158.5 1016.8,1159.0 1020.9,1159.6 1025.0,1160.1 1029.2,1160.5 1033.3,1160.9 1037.4,1161.3 1041.5,1161.6 1045.6,1162.0 1049.7,1162.2 1053.8,1162.5 1058.0,1162.7 1062.1,1162.9 1066.2,1163.1 1070.3,1163.3 1074.4,1163.4 1078.5,1163.6 1082.6,1163.7 1086.8,1163.8 1090.9,1163.8 1095.0,1163.9 1099.1,1164.0 1103.2,1164.0 1107.3,1164.1 1111.5,1164.1 1115.6,1164.1 1119.7,1164.2 1123.8,1164.2 1127.9,1164.2 1132.0,1164.2 1136.1,1164.2 1140.3,1164.3 1144.4,1164.3 1148.5,1164.3 1152.6,1164.3 1156.7,1164.3 1160.8,1164.3 1164.9,1164.3 1169.1,1164.3 1173.2,1164.3 1177.3,1164.3 1181.4,1164.3 1185.5,1164.3 1189.6,1164.3 1193.8,1164.3"/><polyline stroke="#e0281a" points="128.0,1164.3 132.1,1164.2 136.2,1164.2 140.3,1164.1 144.5,1164.0 148.6,1163.9 152.7,1163.7 156.8,1163.5 160.9,1163.2 165.0,1162.9 169.1,1162.6 173.3,1162.1 177.4,1161.6 181.5,1161.1 185.6,1160.4 189.7,1159.7 193.8,1159.0 198.0,1158.2 202.1,1157.3 206.2,1156.5 210.3,1155.6 214.4,1154.7 218.5,1153.9 222.6,1153.0 226.8,1152.3 230.9,1151.5 235.0,1150.8 239.1,1150.2 243.2,1149.5 247.3,1148.9 251.4,1148.2 255.6,1147.5 259.7,1146.7 263.8,1145.7 267.9,1144.6 272.0,1143.3 276.1,1141.8 280.2,1140.0 284.4,1137.9 288.5,1135.6 292.6,1132.9 296.7,1130.0 300.8,1126.7 304.9,1123.1 309.1,1119.3 313.2,1115.2 317.3,1110.8 321.4,1106.3 325.5,1101.5 329.6,1096.6 333.7,1091.6 337.9,1086.5 342.0,1081.4 346.1,1076.3 350.2,1071.3 354.3,1066.3 358.4,1061.4 362.5,1056.7 366.7,1052.2 370.8,1047.9 374.9,1043.8 379.0,1039.9 383.1,1036.3 387.2,1032.9 391.4,1029.8 395.5,1026.9 399.6,1024.3 403.7,1021.8 407.8,1019.6 411.9,1017.5 416.0,1015.5 420.2,1013.7 424.3,1011.9 428.4,1010.3 432.5,1008.6 436.6,1006.9 440.7,1005.3 444.8,1003.6 449.0,1001.8 453.1,1000.0 457.2,998.2 461.3,996.3 465.4,994.3 469.5,992.2 473.6,990.1 477.8,988.0 481.9,985.8 486.0,983.7 490.1,981.5 494.2,979.3 498.3,977.2 502.5,975.1 506.6,973.1 510.7,971.1 514.8,969.2 518.9,967.4 523.0,965.6 527.1,964.0 531.3,962.3 535.4,960.7 539.5,959.2 543.6,957.7 547.7,956.1 551.8,954.5 555.9,952.9 560.1,951.1 564.2,949.3 568.3,947.3 572.4,945.1 576.5,942.8 580.6,940.2 584.8,937.3 588.9,934.2 593.0,930.8 597.1,927.2 601.2,923.2 605.3,918.9 609.4,914.3 613.6,909.5 617.7,904.3 621.8,898.9 625.9,893.3 630.0,887.4 634.1,881.4 638.2,875.3 642.4,869.1 646.5,862.8 650.6,856.6 654.7,850.4 658.8,844.3 662.9,838.5 667.0,832.9 671.2,827.5 675.3,822.5 679.4,818.0 683.5,813.9 687.6,810.3 691.7,807.2 695.9,804.8 700.0,803.0 704.1,801.9 708.2,801.4 712.3,801.7 716.4,802.7 720.5,804.5 724.7,807.0 728.8,810.2 732.9,814.2 737.0,818.8 741.1,824.2 745.2,830.2 749.3,836.8 753.5,844.0 757.6,851.7 761.7,860.0 765.8,868.6 769.9,877.7 774.0,887.1 778.1,896.8 782.3,906.7 786.4,916.7 790.5,926.9 794.6,937.2 798.7,947.4 802.8,957.6 807.0,967.7 811.1,977.7 815.2,987.5 819.3,997.1 823.4,1006.4 827.5,1015.5 831.6,1024.2 835.8,1032.6 839.9,1040.7 844.0,1048.5 848.1,1055.8 852.2,1062.8 856.3,1069.4 860.4,1075.7 864.6,1081.5 868.7,1087.0 872.8,1092.2 876.9,1097.0 881.0,1101.5 885.1,1105.7 889.2,1109.6 893.4,1113.2 897.5,1116.6 901.6,1119.7 905.7,1122.6 909.8,1125.2 913.9,1127.7 918.1,1130.1 922.2,1132.2 926.3,1134.3 930.4,1136.2 934.5,1137.9 938.6,1139.6 942.7,1141.2 946.9,1142.7 951.0,1144.1 955.1,1145.4 959.2,1146.7 963.3,1147.9 967.4,1149.0 971.5,1150.1 975.7,1151.2 979.8,1152.2 983.9,1153.1 988.0,1154.0 992.1,1154.8 996.2,1155.6 1000.4,1156.4 1004.5,1157.1 1008.6,1157.8 1012.7,1158.4 1016.8,1159.0 1020.9,1159.5 1025.0,1160.0 1029.2,1160.5 1033.3,1160.9 1037.4,1161.3 1041.5,1161.6 1045.6,1161.9 1049.7,1162.2 1053.8,1162.5 1058.0,1162.7 1062.1,1162.9 1066.2,1163.1 1070.3,1163.3 1074.4,1163.4 1078.5,1163.5 1082.6,1163.7 1086.8,1163.8 1090.9,1163.8 1095.0,1163.9 1099.1,1164.0 1103.2,1164.0 1107.3,1164.1 1111.5,1164.1 1115.6,1164.1 1119.7,1164.2 1123.8,1164.2 1127.9,1164.2 1132.0,1164.2 1136.1,1164.2 1140.3,1164.3 1144.4,1164.3 1148.5,1164.3 1152.6,1164.3 1156.7,1164.3 1160.8,1164.3 1164.9,1164.3 1169.1,1164.3 1173.2,1164.3 1177.3,1164.3 1181.4,1164.3 1185.5,1164.3 1189.6,1164.3 1193.8,1164.3"/><polyline stroke="#e0281a" points="128.0,1164.3 132.1,1164.2 136.2,1164.2 140.3,1164.1 144.5,1164.0 148.6,1163.8 152.7,1163.6 156.8,1163.4 160.9,1163.1 165.0,1162.8 169.1,1162.4 173.3,1161.9 177.4,1161.3 181.5,1160.7 185.6,1160.0 189.7,1159.2 193.8,1158.3 198.0,1157.3 202.1,1156.3 206.2,1155.2 210.3,1154.1 214.4,1152.9 218.5,1151.7 222.6,1150.5 226.8,1149.3 230.9,1148.1 235.0,1146.8 239.1,1145.5 243.2,1144.2 247.3,1142.8 251.4,1141.2 255.6,1139.6 259.7,1137.8 263.8,1135.8 267.9,1133.6 272.0,1131.1 276.1,1128.4 280.2,1125.4 284.4,1122.0 288.5,1118.4 292.6,1114.6 296.7,1110.4 300.8,1106.0 304.9,1101.4 309.1,1096.5 313.2,1091.6 317.3,1086.5 321.4,1081.4 325.5,1076.3 329.6,1071.3 333.7,1066.4 337.9,1061.6 342.0,1057.0 346.1,1052.6 350.2,1048.5 354.3,1044.7 358.4,1041.3 362.5,1038.2 366.7,1035.5 370.8,1033.1 374.9,1031.1 379.0,1029.4 383.1,1028.0 387.2,1027.0 391.4,1026.2 395.5,1025.7 399.6,1025.3 403.7,1025.2 407.8,1025.1 411.9,1025.1 416.0,1025.1 420.2,1025.1 424.3,1025.1 428.4,1025.0 432.5,1024.7 436.6,1024.3 440.7,1023.8 444.8,1023.1 449.0,1022.2 453.1,1021.1 457.2,1019.8 461.3,1018.4 465.4,1016.7 469.5,1015.0 473.6,1013.1 477.8,1011.1 481.9,1009.0 486.0,1006.8 490.1,1004.6 494.2,1002.4 498.3,1000.2 502.5,998.0 506.6,995.8 510.7,993.6 514.8,991.6 518.9,989.5 523.0,987.5 527.1,985.6 531.3,983.7 535.4,981.9 539.5,980.0 543.6,978.2 547.7,976.3 551.8,974.4 555.9,972.4 560.1,970.4 564.2,968.2 568.3,965.8 572.4,963.3 576.5,960.6 580.6,957.6 584.8,954.4 588.9,951.0 593.0,947.3 597.1,943.3 601.2,939.0 605.3,934.4 609.4,929.5 613.6,924.4 617.7,919.0 621.8,913.4 625.9,907.5 630.0,901.5 634.1,895.4 638.2,889.1 642.4,882.7 646.5,876.4 650.6,870.1 654.7,863.8 658.8,857.7 662.9,851.8 667.0,846.2 671.2,840.8 675.3,835.8 679.4,831.2 683.5,827.1 687.6,823.5 691.7,820.5 695.9,818.0 700.0,816.2 704.1,815.0 708.2,814.5 712.3,814.7 716.4,815.7 720.5,817.3 724.7,819.7 728.8,822.8 732.9,826.6 737.0,831.1 741.1,836.2 745.2,842.0 749.3,848.4 753.5,855.3 757.6,862.8 761.7,870.8 765.8,879.1 769.9,887.9 774.0,897.0 778.1,906.3 782.3,915.8 786.4,925.6 790.5,935.4 794.6,945.3 798.7,955.1 802.8,965.0 807.0,974.7 811.1,984.3 815.2,993.8 819.3,1003.0 823.4,1012.0 827.5,1020.7 831.6,1029.1 835.8,1037.2 839.9,1045.0 844.0,1052.4 848.1,1059.5 852.2,1066.2 856.3,1072.6 860.4,1078.6 864.6,1084.2 868.7,1089.5 872.8,1094.5 876.9,1099.1 881.0,1103.4 885.1,1107.4 889.2,1111.1 893.4,1114.6 897.5,1117.8 901.6,1120.8 905.7,1123.6 909.8,1126.2 913.9,1128.6 918.1,1130.8 922.2,1132.9 926.3,1134.8 930.4,1136.7 934.5,1138.4 938.6,1140.0 942.7,1141.5 946.9,1143.0 951.0,1144.3 955.1,1145.6 959.2,1146.9 963.3,1148.1 967.4,1149.2 971.5,1150.3 975.7,1151.3 979.8,1152.3 983.9,1153.2 988.0,1154.1 992.1,1154.9 996.2,1155.7 1000.4,1156.4 1004.5,1157.1 1008.6,1157.8 1012.7,1158.4 1016.8,1159.0 1020.9,1159.5 1025.0,1160.0 1029.2,1160.5 1033.3,1160.9 1037.4,1161.3 1041.5,1161.6 1045.6,1161.9 1049.7,1162.2 1053.8,1162.5 1058.0,1162.7 1062.1,1162.9 1066.2,1163.1 1070.3,1163.3 1074.4,1163.4 1078.5,1163.5 1082.6,1163.7 1086.8,1163.8 1090.9,1163.8 1095.0,1163.9 1099.1,1164.0 1103.2,1164.0 1107.3,1164.1 1111.5,1164.1 1115.6,1164.1 1119.7,1164.2 1123.8,1164.2 1127.9,1164.2 1132.0,1164.2 1136.1,1164.2 1140.3,1164.3 1144.4,1164.3 1148.5,1164.3 1152.6,1164.3 1156.7,1164.3 1160.8,1164.3 1164.9,1164.3 1169.1,1164.3 1173.2,1164.3 1177.3,1164.3 1181.4,1164.3 1185.5,1164.3 1189.6,1164.3 1193.8,1164.3"/><polyline stroke="#ffb400" points="128.0,1164.3 132.1,1164.2 136.2,1164.2 140.3,1164.1 144.5,1164.0 148.6,1163.8 152.7,1163.7 156.8,1163.4 160.9,1163.2 165.0,1162.9 169.1,1162.5 173.3,1162.0 177.4,1161.5 181.5,1160.9 185.6,1160.2 189.7,1159.5 193.8,1158.7 198.0,1157.8 202.1,1156.9 206.2,1155.9 210.3,1154.9 214.4,1153.9 218.5,1152.9 222.6,1151.9 226.8,1150.9 230.9,1150.0 235.0,1149.0 239.1,1148.0 243.2,1147.1 247.3,1146.0 251.4,1145.0 255.6,1143.8 259.7,1142.5 263.8,1141.0 267.9,1139.4 272.0,1137.5 276.1,1135.4 280.2,1132.9 284.4,1130.2 288.5,1127.2 292.6,1123.9 296.7,1120.3 300.8,1116.4 304.9,1112.3 309.1,1107.9 313.2,1103.3 317.3,1098.5 321.4,1093.6 325.5,1088.6 329.6,1083.5 333.7,1078.4 337.9,1073.3 342.0,1068.4 346.1,1063.5 350.2,1058.8 354.3,1054.3 358.4,1050.0 362.5,1046.0 366.7,1042.2 370.8,1038.7 374.9,1035.5 379.0,1032.6 383.1,1030.0 387.2,1027.6 391.4,1025.5 395.5,1023.6 399.6,1021.9 403.7,1020.4 407.8,1019.0 411.9,1017.8 416.0,1016.5 420.2,1015.4 424.3,1014.2 428.4,1013.0 432.5,1011.7 436.6,1010.3 440.7,1008.8 444.8,1007.2 449.0,1005.5 453.1,1003.6 457.2,1001.6 461.3,999.4 465.4,997.1 469.5,994.6 473.6,992.1 477.8,989.5 481.9,986.8 486.0,984.0 490.1,981.2 494.2,978.4 498.3,975.5 502.5,972.7 506.6,969.9 510.7,967.2 514.8,964.5 518.9,961.8 523.0,959.2 527.1,956.6 531.3,954.1 535.4,951.6 539.5,949.1 543.6,946.6 547.7,944.1 551.8,941.5 555.9,938.8 560.1,936.1 564.2,933.2 568.3,930.2 572.4,927.1 576.5,923.7 580.6,920.1 584.8,916.4 588.9,912.4 593.0,908.1 597.1,903.6 601.2,898.9 605.3,894.0 609.4,888.8 613.6,883.4 617.7,877.9 621.8,872.1 625.9,866.3 630.0,860.4 634.1,854.4 638.2,848.4 642.4,842.5 646.5,836.7 650.6,831.0 654.7,825.5 658.8,820.3 662.9,815.4 667.0,810.9 671.2,806.8 675.3,803.2 679.4,800.1 683.5,797.5 687.6,795.6 691.7,794.3 695.9,793.7 700.0,793.7 704.1,794.5 708.2,796.0 712.3,798.3 716.4,801.2 720.5,804.9 724.7,809.4 728.8,814.5 732.9,820.2 737.0,826.7 741.1,833.7 745.2,841.3 749.3,849.4 753.5,858.0 757.6,867.1 761.7,876.5 765.8,886.2 769.9,896.2 774.0,906.3 778.1,916.7 782.3,927.1 786.4,937.6 790.5,948.1 794.6,958.5 798.7,968.8 802.8,978.9 807.0,988.9 811.1,998.6 815.2,1008.1 819.3,1017.2 823.4,1026.1 827.5,1034.6 831.6,1042.7 835.8,1050.5 839.9,1057.9 844.0,1064.9 848.1,1071.5 852.2,1077.7 856.3,1083.5 860.4,1089.0 864.6,1094.1 868.7,1098.8 872.8,1103.2 876.9,1107.3 881.0,1111.0 885.1,1114.5 889.2,1117.7 893.4,1120.7 897.5,1123.5 901.6,1126.0 905.7,1128.3 909.8,1130.5 913.9,1132.5 918.1,1134.4 922.2,1136.1 926.3,1137.8 930.4,1139.3 934.5,1140.7 938.6,1142.1 942.7,1143.4 946.9,1144.7 951.0,1145.8 955.1,1147.0 959.2,1148.1 963.3,1149.1 967.4,1150.1 971.5,1151.1 975.7,1152.0 979.8,1152.9 983.9,1153.7 988.0,1154.5 992.1,1155.3 996.2,1156.0 1000.4,1156.7 1004.5,1157.4 1008.6,1158.0 1012.7,1158.6 1016.8,1159.1 1020.9,1159.7 1025.0,1160.1 1029.2,1160.6 1033.3,1161.0 1037.4,1161.3 1041.5,1161.7 1045.6,1162.0 1049.7,1162.3 1053.8,1162.5 1058.0,1162.7 1062.1,1163.0 1066.2,1163.1 1070.3,1163.3 1074.4,1163.4 1078.5,1163.6 1082.6,1163.7 1086.8,1163.8 1090.9,1163.8 1095.0,1163.9 1099.1,1164.0 1103.2,1164.0 1107.3,1164.1 1111.5,1164.1 1115.6,1164.1 1119.7,1164.2 1123.8,1164.2 1127.9,1164.2 1132.0,1164.2 1136.1,1164.2 1140.3,1164.3 1144.4,1164.3 1148.5,1164.3 1152.6,1164.3 1156.7,1164.3 1160.8,1164.3 1164.9,1164.3 1169.1,1164.3 1173.2,1164.3 1177.3,1164.3 1181.4,1164.3 1185.5,1164.3 1189.6,1164.3 1193.8,1164.3"/><polyline stroke="#ffb400" points="128.0,1164.3 132.1,1164.2 136.2,1164.2 140.3,1164.1 144.5,1163.9 148.6,1163.8 152.7,1163.6 156.8,1163.4 160.9,1163.1 165.0,1162.8 169.1,1162.4 173.3,1161.9 177.4,1161.3 181.5,1160.7 185.6,1159.9 189.7,1159.1 193.8,1158.2 198.0,1157.3 202.1,1156.2 206.2,1155.1 210.3,1154.0 214.4,1152.8 218.5,1151.6 222.6,1150.4 226.8,1149.2 230.9,1147.9 235.0,1146.7 239.1,1145.4 243.2,1144.0 247.3,1142.6 251.4,1141.1 255.6,1139.5 259.7,1137.7 263.8,1135.8 267.9,1133.6 272.0,1131.2 276.1,1128.6 280.2,1125.7 284.4,1122.6 288.5,1119.2 292.6,1115.5 296.7,1111.5 300.8,1107.4 304.9,1103.1 309.1,1098.6 313.2,1093.9 317.3,1089.2 321.4,1084.5 325.5,1079.8 329.6,1075.2 333.7,1070.6 337.9,1066.3 342.0,1062.1 346.1,1058.1 350.2,1054.4 354.3,1050.9 358.4,1047.8 362.5,1045.0 366.7,1042.5 370.8,1040.2 374.9,1038.3 379.0,1036.7 383.1,1035.3 387.2,1034.2 391.4,1033.3 395.5,1032.5 399.6,1031.9 403.7,1031.4 407.8,1030.9 411.9,1030.4 416.0,1029.9 420.2,1029.3 424.3,1028.6 428.4,1027.8 432.5,1026.8 436.6,1025.7 440.7,1024.4 444.8,1022.9 449.0,1021.2 453.1,1019.3 457.2,1017.2 461.3,1014.9 465.4,1012.5 469.5,1010.0 473.6,1007.3 477.8,1004.5 481.9,1001.7 486.0,998.8 490.1,995.9 494.2,992.9 498.3,990.0 502.5,987.1 506.6,984.3 510.7,981.5 514.8,978.7 518.9,976.0 523.0,973.4 527.1,970.8 531.3,968.2 535.4,965.7 539.5,963.2 543.6,960.6 547.7,958.1 551.8,955.4 555.9,952.7 560.1,949.9 564.2,946.9 568.3,943.8 572.4,940.5 576.5,937.0 580.6,933.2 584.8,929.2 588.9,925.0 593.0,920.4 597.1,915.6 601.2,910.6 605.3,905.2 609.4,899.6 613.6,893.8 617.7,887.7 621.8,881.4 625.9,875.0 630.0,868.5 634.1,861.8 638.2,855.2 642.4,848.5 646.5,841.9 650.6,835.4 654.7,829.1 658.8,823.0 662.9,817.2 667.0,811.7 671.2,806.6 675.3,802.0 679.4,797.9 683.5,794.4 687.6,791.5 691.7,789.2 695.9,787.6 700.0,786.7 704.1,786.5 708.2,787.1 712.3,788.4 716.4,790.6 720.5,793.5 724.7,797.1 728.8,801.5 732.9,806.6 737.0,812.5 741.1,819.0 745.2,826.1 749.3,833.8 753.5,842.1 757.6,850.9 761.7,860.1 765.8,869.7 769.9,879.6 774.0,889.8 778.1,900.2 782.3,910.7 786.4,921.4 790.5,932.1 794.6,942.8 798.7,953.5 802.8,964.0 807.0,974.4 811.1,984.6 815.2,994.5 819.3,1004.2 823.4,1013.5 827.5,1022.6 831.6,1031.3 835.8,1039.6 839.9,1047.5 844.0,1055.1 848.1,1062.3 852.2,1069.0 856.3,1075.4 860.4,1081.4 864.6,1087.0 868.7,1092.2 872.8,1097.1 876.9,1101.6 881.0,1105.9 885.1,1109.8 889.2,1113.4 893.4,1116.7 897.5,1119.8 901.6,1122.7 905.7,1125.3 909.8,1127.8 913.9,1130.1 918.1,1132.2 922.2,1134.2 926.3,1136.0 930.4,1137.7 934.5,1139.4 938.6,1140.9 942.7,1142.3 946.9,1143.7 951.0,1145.0 955.1,1146.2 959.2,1147.4 963.3,1148.5 967.4,1149.6 971.5,1150.6 975.7,1151.6 979.8,1152.5 983.9,1153.4 988.0,1154.3 992.1,1155.1 996.2,1155.9 1000.4,1156.6 1004.5,1157.3 1008.6,1157.9 1012.7,1158.5 1016.8,1159.1 1020.9,1159.6 1025.0,1160.1 1029.2,1160.5 1033.3,1160.9 1037.4,1161.3 1041.5,1161.7 1045.6,1162.0 1049.7,1162.2 1053.8,1162.5 1058.0,1162.7 1062.1,1162.9 1066.2,1163.1 1070.3,1163.3 1074.4,1163.4 1078.5,1163.6 1082.6,1163.7 1086.8,1163.8 1090.9,1163.8 1095.0,1163.9 1099.1,1164.0 1103.2,1164.0 1107.3,1164.1 1111.5,1164.1 1115.6,1164.1 1119.7,1164.2 1123.8,1164.2 1127.9,1164.2 1132.0,1164.2 1136.1,1164.2 1140.3,1164.3 1144.4,1164.3 1148.5,1164.3 1152.6,1164.3 1156.7,1164.3 1160.8,1164.3 1164.9,1164.3 1169.1,1164.3 1173.2,1164.3 1177.3,1164.3 1181.4,1164.3 1185.5,1164.3 1189.6,1164.3 1193.8,1164.3"/><polyline stroke="#ffb400" points="128.0,1164.3 132.1,1164.2 136.2,1164.2 140.3,1164.1 144.5,1164.0 148.6,1163.8 152.7,1163.7 156.8,1163.4 160.9,1163.2 165.0,1162.8 169.1,1162.5 173.3,1162.0 177.4,1161.5 181.5,1160.9 185.6,1160.2 189.7,1159.4 193.8,1158.6 198.0,1157.7 202.1,1156.8 206.2,1155.8 210.3,1154.8 214.4,1153.8 218.5,1152.8 222.6,1151.7 226.8,1150.7 230.9,1149.7 235.0,1148.7 239.1,1147.7 243.2,1146.7 247.3,1145.6 251.4,1144.5 255.6,1143.3 259.7,1141.9 263.8,1140.4 267.9,1138.7 272.0,1136.8 276.1,1134.6 280.2,1132.1 284.4,1129.4 288.5,1126.4 292.6,1123.1 296.7,1119.5 300.8,1115.6 304.9,1111.5 309.1,1107.2 313.2,1102.7 317.3,1098.0 321.4,1093.2 325.5,1088.4 329.6,1083.5 333.7,1078.7 337.9,1073.9 342.0,1069.2 346.1,1064.7 350.2,1060.3 354.3,1056.2 358.4,1052.3 362.5,1048.8 366.7,1045.5 370.8,1042.5 374.9,1039.8 379.0,1037.4 383.1,1035.3 387.2,1033.5 391.4,1031.9 395.5,1030.6 399.6,1029.5 403.7,1028.5 407.8,1027.8 411.9,1027.1 416.0,1026.4 420.2,1025.8 424.3,1025.2 428.4,1024.6 432.5,1023.9 436.6,1023.1 440.7,1022.2 444.8,1021.2 449.0,1020.0 453.1,1018.7 457.2,1017.2 461.3,1015.6 465.4,1013.8 469.5,1012.0 473.6,1010.0 477.8,1007.9 481.9,1005.7 486.0,1003.5 490.1,1001.3 494.2,999.0 498.3,996.7 502.5,994.4 506.6,992.2 510.7,989.9 514.8,987.8 518.9,985.6 523.0,983.5 527.1,981.4 531.3,979.4 535.4,977.3 539.5,975.3 543.6,973.2 547.7,971.1 551.8,968.9 555.9,966.7 560.1,964.3 564.2,961.8 568.3,959.1 572.4,956.2 576.5,953.1 580.6,949.7 584.8,946.1 588.9,942.3 593.0,938.1 597.1,933.7 601.2,928.9 605.3,923.9 609.4,918.5 613.6,912.9 617.7,907.1 621.8,901.0 625.9,894.7 630.0,888.2 634.1,881.6 638.2,874.9 642.4,868.1 646.5,861.4 650.6,854.7 654.7,848.1 658.8,841.6 662.9,835.4 667.0,829.5 671.2,823.9 675.3,818.8 679.4,814.0 683.5,809.8 687.6,806.1 691.7,803.0 695.9,800.6 700.0,798.8 704.1,797.7 708.2,797.4 712.3,797.8 716.4,798.9 720.5,800.9 724.7,803.5 728.8,806.9 732.9,811.1 737.0,816.0 741.1,821.5 745.2,827.8 749.3,834.6 753.5,842.1 757.6,850.0 761.7,858.5 765.8,867.4 769.9,876.6 774.0,886.3 778.1,896.1 782.3,906.2 786.4,916.5 790.5,926.8 794.6,937.2 798.7,947.6 802.8,957.9 807.0,968.1 811.1,978.2 815.2,988.1 819.3,997.7 823.4,1007.1 827.5,1016.2 831.6,1025.0 835.8,1033.5 839.9,1041.6 844.0,1049.3 848.1,1056.7 852.2,1063.7 856.3,1070.3 860.4,1076.5 864.6,1082.3 868.7,1087.8 872.8,1093.0 876.9,1097.7 881.0,1102.2 885.1,1106.4 889.2,1110.2 893.4,1113.8 897.5,1117.1 901.6,1120.2 905.7,1123.0 909.8,1125.7 913.9,1128.2 918.1,1130.4 922.2,1132.6 926.3,1134.6 930.4,1136.4 934.5,1138.2 938.6,1139.8 942.7,1141.4 946.9,1142.9 951.0,1144.2 955.1,1145.6 959.2,1146.8 963.3,1148.0 967.4,1149.2 971.5,1150.2 975.7,1151.3 979.8,1152.2 983.9,1153.2 988.0,1154.1 992.1,1154.9 996.2,1155.7 1000.4,1156.4 1004.5,1157.1 1008.6,1157.8 1012.7,1158.4 1016.8,1159.0 1020.9,1159.5 1025.0,1160.0 1029.2,1160.5 1033.3,1160.9 1037.4,1161.3 1041.5,1161.6 1045.6,1161.9 1049.7,1162.2 1053.8,1162.5 1058.0,1162.7 1062.1,1162.9 1066.2,1163.1 1070.3,1163.3 1074.4,1163.4 1078.5,1163.5 1082.6,1163.7 1086.8,1163.8 1090.9,1163.8 1095.0,1163.9 1099.1,1164.0 1103.2,1164.0 1107.3,1164.1 1111.5,1164.1 1115.6,1164.1 1119.7,1164.2 1123.8,1164.2 1127.9,1164.2 1132.0,1164.2 1136.1,1164.2 1140.3,1164.3 1144.4,1164.3 1148.5,1164.3 1152.6,1164.3 1156.7,1164.3 1160.8,1164.3 1164.9,1164.3 1169.1,1164.3 1173.2,1164.3 1177.3,1164.3 1181.4,1164.3 1185.5,1164.3 1189.6,1164.3 1193.8,1164.3"/></g><path d="M1190 1164.5H1216" stroke="#ffb400" stroke-width="2.8"/><path d="M1216 1164.5H1232" stroke="#e0281a" stroke-width="2.8"/><rect x="891.5" y="730.4" width="341.5" height="386.6" fill="#fff" stroke="#111" stroke-width="2.4"/><line x1="895.4" y1="753.4" x2="960.1" y2="753.4" stroke="#e0281a" stroke-width="2.6" stroke-linecap="round"/><text x="992.4" y="760.4" class="s" font-size="19.8" textLength="132.8" lengthAdjust="spacingAndGlyphs" xml:space="preserve">CntrlR30d</text><line x1="895.4" y1="776.8" x2="960.1" y2="776.8" stroke="#f0561a" stroke-width="2.6" stroke-linecap="round"/><text x="992.4" y="783.8" class="s" font-size="19.8" textLength="116.3" lengthAdjust="spacingAndGlyphs" xml:space="preserve">CntrlR5d</text><line x1="895.4" y1="800.2" x2="960.1" y2="800.2" stroke="#ffb000" stroke-width="2.6" stroke-linecap="round"/><text x="992.4" y="807.2" class="s" font-size="19.8" textLength="129.8" lengthAdjust="spacingAndGlyphs" xml:space="preserve">CntrlS30d</text><line x1="895.4" y1="823.6" x2="960.1" y2="823.6" stroke="#e8e000" stroke-width="2.6" stroke-linecap="round"/><text x="992.4" y="830.6" class="s" font-size="19.8" textLength="113.4" lengthAdjust="spacingAndGlyphs" xml:space="preserve">CntrlS5d</text><line x1="895.4" y1="847" x2="960.1" y2="847" stroke="#a6d010" stroke-width="2.6" stroke-linecap="round"/><text x="992.4" y="854" class="s" font-size="19.8" textLength="135.8" lengthAdjust="spacingAndGlyphs" xml:space="preserve">SB AR30d</text><line x1="895.4" y1="870.4" x2="960.1" y2="870.4" stroke="#70c018" stroke-width="2.6" stroke-linecap="round"/><text x="992.4" y="877.4" class="s" font-size="19.8" textLength="120" lengthAdjust="spacingAndGlyphs" xml:space="preserve">SB AR5d</text><line x1="895.4" y1="893.7" x2="960.1" y2="893.7" stroke="#62b818" stroke-width="2.6" stroke-linecap="round"/><text x="992.4" y="900.7" class="s" font-size="19.8" textLength="132.8" lengthAdjust="spacingAndGlyphs" xml:space="preserve">SB AS30d</text><line x1="895.4" y1="917.1" x2="960.1" y2="917.1" stroke="#80e080" stroke-width="2.6" stroke-linecap="round"/><text x="992.4" y="924.1" class="s" font-size="19.8" textLength="128.3" lengthAdjust="spacingAndGlyphs" xml:space="preserve">SB AS5d</text><line x1="895.4" y1="940.5" x2="960.1" y2="940.5" stroke="#88d8ec" stroke-width="2.6" stroke-linecap="round"/><text x="992.4" y="947.5" class="s" font-size="19.8" textLength="129.8" lengthAdjust="spacingAndGlyphs" xml:space="preserve">SCNR30d</text><line x1="895.4" y1="963.9" x2="960.1" y2="963.9" stroke="#4a90d8" stroke-width="2.6" stroke-linecap="round"/><text x="992.4" y="970.9" class="s" font-size="19.8" textLength="113.4" lengthAdjust="spacingAndGlyphs" xml:space="preserve">SCNR5d</text><line x1="895.4" y1="987.3" x2="960.1" y2="987.3" stroke="#3c50b0" stroke-width="2.6" stroke-linecap="round"/><text x="992.4" y="994.3" class="s" font-size="19.8" textLength="125.9" lengthAdjust="spacingAndGlyphs" xml:space="preserve">SCNS30d</text><line x1="895.4" y1="1010.7" x2="960.1" y2="1010.7" stroke="#3a48b0" stroke-width="2.6" stroke-linecap="round"/><text x="992.4" y="1017.7" class="s" font-size="19.8" textLength="109.8" lengthAdjust="spacingAndGlyphs" xml:space="preserve">SCNS5d</text><line x1="895.4" y1="1034.1" x2="960.1" y2="1034.1" stroke="#7040b8" stroke-width="2.6" stroke-linecap="round"/><text x="992.4" y="1041.1" class="s" font-size="19.8" textLength="199.9" lengthAdjust="spacingAndGlyphs" xml:space="preserve">SCNSB AR30d</text><line x1="895.4" y1="1057.5" x2="960.1" y2="1057.5" stroke="#a040c4" stroke-width="2.6" stroke-linecap="round"/><text x="992.4" y="1064.5" class="s" font-size="19.8" textLength="183.5" lengthAdjust="spacingAndGlyphs" xml:space="preserve">SCNSB AR5d</text><line x1="895.4" y1="1080.9" x2="960.1" y2="1080.9" stroke="#d838a0" stroke-width="2.6" stroke-linecap="round"/><text x="992.4" y="1087.9" class="s" font-size="19.8" textLength="204.4" lengthAdjust="spacingAndGlyphs" xml:space="preserve">SCNSB AS 30d</text><line x1="895.4" y1="1104.2" x2="960.1" y2="1104.2" stroke="#e4105e" stroke-width="2.6" stroke-linecap="round"/><text x="992.4" y="1111.2" class="s" font-size="19.8" textLength="180.5" lengthAdjust="spacingAndGlyphs" xml:space="preserve">SCNSB AS5d</text></svg><path d="M88.7 730.4V1181.5H1233V730.4Z" fill="none" stroke="#111" stroke-width="2.3"/><line x1="77.4" y1="1164.3" x2="88.7" y2="1164.3" stroke="#111" stroke-width="2.3"/><line x1="77.4" y1="1045.3" x2="88.7" y2="1045.3" stroke="#111" stroke-width="2.3"/><line x1="77.4" y1="926.3" x2="88.7" y2="926.3" stroke="#111" stroke-width="2.3"/><line x1="77.4" y1="807.3" x2="88.7" y2="807.3" stroke="#111" stroke-width="2.3"/><text transform="translate(60.9,1174.8) rotate(-90)" class="s" font-weight="bold" font-size="29" textLength="26.8" lengthAdjust="spacingAndGlyphs">0.00</text><text transform="translate(60.9,1058.6) rotate(-90)" class="s" font-weight="bold" font-size="29" textLength="26.8" lengthAdjust="spacingAndGlyphs">0.05</text><text transform="translate(60.9,936.6) rotate(-90)" class="s" font-weight="bold" font-size="29" textLength="26.8" lengthAdjust="spacingAndGlyphs">0.10</text><text transform="translate(60.9,817.1) rotate(-90)" class="s" font-weight="bold" font-size="29" textLength="26.8" lengthAdjust="spacingAndGlyphs">0.15</text><text transform="translate(18.5,1007.8) rotate(-90)" class="s" font-size="21.7" textLength="118.5" lengthAdjust="spacingAndGlyphs">Density</text><line x1="285.5" y1="1181.5" x2="285.5" y2="1188" stroke="#111" stroke-width="2.3"/><line x1="548" y1="1181.5" x2="548" y2="1188" stroke="#111" stroke-width="2.3"/><line x1="810.5" y1="1181.5" x2="810.5" y2="1188" stroke="#111" stroke-width="2.3"/><line x1="1073" y1="1181.5" x2="1073" y2="1188" stroke="#111" stroke-width="2.3"/><text x="279.5" y="1215.5" class="t" font-size="20" textLength="17" lengthAdjust="spacingAndGlyphs">0</text><text x="540.6" y="1216" class="t" font-size="20" textLength="14.5" lengthAdjust="spacingAndGlyphs">5</text><text x="795.6" y="1216" class="t" font-size="20" textLength="33.7" lengthAdjust="spacingAndGlyphs">10</text><text x="1057.9" y="1216.4" class="t" font-size="20" textLength="32.8" lengthAdjust="spacingAndGlyphs">15</text><text x="580.3" y="1247.6" class="s" font-size="35" textLength="136.6" lengthAdjust="spacingAndGlyphs">Expression value</text><text x="64.5" y="691.6" class="s" stroke="#111" stroke-width="0.9" font-size="48" textLength="20.5" lengthAdjust="spacingAndGlyphs">b.</text><path fill="#111" d="M1185 1335h3v1h-3zM1183 1336h8v1h-8zM1182 1337h10v1h-10zM1181 1338h4v1h-4zM1189 1338h3v1h-3zM1182 1339h10v1h-10zM1182 1340h9v1h-9zM1184 1341h6v1h-6zM1135 1343h3v1h-3zM1133 1344h8v1h-8zM1132 1345h10v1h-10zM1131 1346h4v1h-4zM1139 1346h3v1h-3zM1132 1347h10v1h-10zM1132 1348h9v1h-9zM967 1349h4v1h-4zM1134 1349h6v1h-6zM965 1350h8v1h-8zM1019 1350h6v1h-6zM964 1351h10v1h-10zM1018 1351h9v1h-9zM964 1352h3v1h-3zM971 1352h3v1h-3zM1017 1352h10v1h-10zM964 1353h10v1h-10zM1017 1353h3v1h-3zM1024 1353h4v1h-4zM965 1354h8v1h-8zM1017 1354h10v1h-10zM1137 1354h5v1h-5zM966 1355h6v1h-6zM1018 1355h8v1h-8zM1135 1355h9v1h-9zM1021 1356h3v1h-3zM1135 1356h9v1h-9zM1134 1357h4v1h-4zM1141 1357h4v1h-4zM1135 1358h9v1h-9zM1001 1359h5v1h-5zM1136 1359h7v1h-7zM999 1360h9v1h-9zM1138 1360h3v1h-3zM999 1361h9v1h-9zM998 1362h4v1h-4zM1005 1362h4v1h-4zM999 1363h9v1h-9zM1000 1364h7v1h-7zM1176 1364h4v1h-4zM980 1365h3v1h-3zM1002 1365h3v1h-3zM1174 1365h8v1h-8zM977 1366h8v1h-8zM1173 1366h10v1h-10zM976 1367h10v1h-10zM1060 1367h6v1h-6zM1173 1367h3v1h-3zM1180 1367h3v1h-3zM976 1368h3v1h-3zM983 1368h4v1h-4zM1058 1368h9v1h-9zM1173 1368h10v1h-10zM976 1369h10v1h-10zM1058 1369h10v1h-10zM1174 1369h8v1h-8zM977 1370h9v1h-9zM1057 1370h4v1h-4zM1065 1370h3v1h-3zM1175 1370h6v1h-6zM967 1371h7v1h-7zM978 1371h6v1h-6zM1058 1371h10v1h-10zM965 1372h11v1h-11zM1059 1372h8v1h-8zM1128 1372h6v1h-6zM964 1373h13v1h-13zM1061 1373h3v1h-3zM1127 1373h9v1h-9zM1137 1373h6v1h-6zM964 1374h6v1h-6zM971 1374h7v1h-7zM1126 1374h18v1h-18zM964 1375h13v1h-13zM1002 1375h5v1h-5zM1126 1375h3v1h-3zM1133 1375h12v1h-12zM965 1376h11v1h-11zM1000 1376h9v1h-9zM1126 1376h12v1h-12zM1142 1376h3v1h-3zM967 1377h7v1h-7zM1000 1377h9v1h-9zM1082 1377h6v1h-6zM1127 1377h18v1h-18zM999 1378h4v1h-4zM1006 1378h4v1h-4zM1081 1378h9v1h-9zM1130 1378h3v1h-3zM1136 1378h8v1h-8zM1000 1379h9v1h-9zM1080 1379h11v1h-11zM1136 1379h6v1h-6zM940 1380h6v1h-6zM1001 1380h7v1h-7zM1080 1380h11v1h-11zM1134 1380h9v1h-9zM939 1381h9v1h-9zM1003 1381h3v1h-3zM1081 1381h9v1h-9zM1093 1381h3v1h-3zM1134 1381h9v1h-9zM938 1382h10v1h-10zM1082 1382h6v1h-6zM1091 1382h8v1h-8zM1133 1382h4v1h-4zM1140 1382h4v1h-4zM938 1383h3v1h-3zM945 1383h4v1h-4zM1090 1383h10v1h-10zM1103 1383h3v1h-3zM1131 1383h12v1h-12zM938 1384h10v1h-10zM1089 1384h4v1h-4zM1097 1384h3v1h-3zM1101 1384h13v1h-13zM1129 1384h13v1h-13zM939 1385h8v1h-8zM957 1385h5v1h-5zM1090 1385h25v1h-25zM1128 1385h12v1h-12zM934 1386h6v1h-6zM942 1386h3v1h-3zM955 1386h9v1h-9zM1090 1386h13v1h-13zM1106 1386h10v1h-10zM1127 1386h4v1h-4zM1135 1386h3v1h-3zM932 1387h9v1h-9zM954 1387h11v1h-11zM1092 1387h6v1h-6zM1100 1387h10v1h-10zM1113 1387h3v1h-3zM1128 1387h10v1h-10zM931 1388h11v1h-11zM954 1388h11v1h-11zM1082 1388h6v1h-6zM1101 1388h15v1h-15zM1129 1388h8v1h-8zM931 1389h11v1h-11zM955 1389h9v1h-9zM1081 1389h8v1h-8zM1103 1389h3v1h-3zM1107 1389h8v1h-8zM1131 1389h4v1h-4zM932 1390h9v1h-9zM957 1390h5v1h-5zM1042 1390h6v1h-6zM1080 1390h10v1h-10zM1109 1390h4v1h-4zM934 1391h6v1h-6zM1041 1391h8v1h-8zM1080 1391h20v1h-20zM1040 1392h10v1h-10zM1081 1392h21v1h-21zM1040 1393h10v1h-10zM1082 1393h21v1h-21zM956 1394h3v1h-3zM1041 1394h8v1h-8zM1088 1394h10v1h-10zM1100 1394h3v1h-3zM953 1395h8v1h-8zM995 1395h3v1h-3zM1042 1395h6v1h-6zM1060 1395h6v1h-6zM1089 1395h14v1h-14zM952 1396h10v1h-10zM973 1396h5v1h-5zM993 1396h7v1h-7zM1059 1396h9v1h-9zM1090 1396h12v1h-12zM952 1397h3v1h-3zM959 1397h4v1h-4zM971 1397h9v1h-9zM992 1397h9v1h-9zM1047 1397h6v1h-6zM1058 1397h13v1h-13zM1078 1397h6v1h-6zM1095 1397h6v1h-6zM889 1398h6v1h-6zM952 1398h10v1h-10zM971 1398h9v1h-9zM991 1398h4v1h-4zM998 1398h4v1h-4zM1032 1398h5v1h-5zM1046 1398h8v1h-8zM1058 1398h3v1h-3zM1064 1398h8v1h-8zM1077 1398h8v1h-8zM887 1399h10v1h-10zM953 1399h9v1h-9zM970 1399h4v1h-4zM977 1399h4v1h-4zM992 1399h9v1h-9zM1030 1399h9v1h-9zM1045 1399h10v1h-10zM1058 1399h15v1h-15zM1075 1399h11v1h-11zM886 1400h12v1h-12zM954 1400h6v1h-6zM971 1400h9v1h-9zM992 1400h9v1h-9zM1030 1400h9v1h-9zM1045 1400h10v1h-10zM1059 1400h27v1h-27zM886 1401h12v1h-12zM972 1401h7v1h-7zM994 1401h5v1h-5zM1029 1401h4v1h-4zM1036 1401h4v1h-4zM1046 1401h8v1h-8zM1062 1401h23v1h-23zM887 1402h10v1h-10zM927 1402h6v1h-6zM974 1402h3v1h-3zM996 1402h6v1h-6zM1030 1402h9v1h-9zM1047 1402h11v1h-11zM1065 1402h10v1h-10zM1078 1402h6v1h-6zM889 1403h6v1h-6zM926 1403h9v1h-9zM994 1403h9v1h-9zM1007 1403h6v1h-6zM1031 1403h7v1h-7zM1051 1403h8v1h-8zM1072 1403h10v1h-10zM925 1404h10v1h-10zM973 1404h5v1h-5zM994 1404h10v1h-10zM1006 1404h8v1h-8zM1033 1404h3v1h-3zM1050 1404h10v1h-10zM1072 1404h9v1h-9zM925 1405h3v1h-3zM932 1405h4v1h-4zM971 1405h9v1h-9zM993 1405h4v1h-4zM1001 1405h3v1h-3zM1005 1405h10v1h-10zM1030 1405h5v1h-5zM1050 1405h10v1h-10zM1074 1405h6v1h-6zM855 1406h6v1h-6zM925 1406h10v1h-10zM950 1406h6v1h-6zM971 1406h9v1h-9zM994 1406h10v1h-10zM1005 1406h3v1h-3zM1012 1406h3v1h-3zM1028 1406h9v1h-9zM1051 1406h11v1h-11zM853 1407h9v1h-9zM866 1407h6v1h-6zM926 1407h8v1h-8zM949 1407h8v1h-8zM970 1407h4v1h-4zM977 1407h4v1h-4zM995 1407h8v1h-8zM1004 1407h11v1h-11zM1021 1407h4v1h-4zM1027 1407h10v1h-10zM1051 1407h12v1h-12zM1077 1407h6v1h-6zM852 1408h11v1h-11zM865 1408h11v1h-11zM929 1408h3v1h-3zM948 1408h11v1h-11zM969 1408h11v1h-11zM997 1408h3v1h-3zM1002 1408h12v1h-12zM1018 1408h20v1h-20zM1050 1408h14v1h-14zM1076 1408h8v1h-8zM852 1409h11v1h-11zM864 1409h14v1h-14zM948 1409h12v1h-12zM968 1409h11v1h-11zM1002 1409h10v1h-10zM1017 1409h20v1h-20zM1050 1409h3v1h-3zM1054 1409h10v1h-10zM1075 1409h10v1h-10zM853 1410h9v1h-9zM864 1410h15v1h-15zM930 1410h3v1h-3zM949 1410h12v1h-12zM967 1410h11v1h-11zM986 1410h6v1h-6zM1001 1410h4v1h-4zM1006 1410h7v1h-7zM1015 1410h23v1h-23zM1050 1410h13v1h-13zM1075 1410h10v1h-10zM855 1411h6v1h-6zM865 1411h8v1h-8zM876 1411h3v1h-3zM906 1411h3v1h-3zM928 1411h8v1h-8zM942 1411h6v1h-6zM950 1411h6v1h-6zM958 1411h3v1h-3zM967 1411h11v1h-11zM985 1411h8v1h-8zM1002 1411h37v1h-37zM1051 1411h11v1h-11zM1076 1411h8v1h-8zM866 1412h13v1h-13zM904 1412h8v1h-8zM927 1412h10v1h-10zM941 1412h9v1h-9zM951 1412h10v1h-10zM968 1412h9v1h-9zM984 1412h10v1h-10zM1003 1412h35v1h-35zM1053 1412h4v1h-4zM1065 1412h6v1h-6zM1077 1412h6v1h-6zM870 1413h8v1h-8zM903 1413h10v1h-10zM926 1413h4v1h-4zM934 1413h3v1h-3zM940 1413h10v1h-10zM952 1413h8v1h-8zM969 1413h6v1h-6zM984 1413h15v1h-15zM1005 1413h33v1h-33zM1064 1413h8v1h-8zM871 1414h6v1h-6zM902 1414h4v1h-4zM910 1414h3v1h-3zM927 1414h10v1h-10zM940 1414h3v1h-3zM947 1414h4v1h-4zM954 1414h9v1h-9zM978 1414h5v1h-5zM985 1414h18v1h-18zM1005 1414h22v1h-22zM1029 1414h7v1h-7zM1063 1414h10v1h-10zM903 1415h10v1h-10zM927 1415h9v1h-9zM940 1415h10v1h-10zM956 1415h9v1h-9zM976 1415h9v1h-9zM986 1415h41v1h-41zM1030 1415h6v1h-6zM1063 1415h10v1h-10zM903 1416h9v1h-9zM929 1416h6v1h-6zM941 1416h8v1h-8zM955 1416h11v1h-11zM976 1416h9v1h-9zM991 1416h46v1h-46zM1064 1416h8v1h-8zM905 1417h6v1h-6zM942 1417h8v1h-8zM955 1417h12v1h-12zM975 1417h4v1h-4zM982 1417h7v1h-7zM992 1417h48v1h-48zM1065 1417h6v1h-6zM941 1418h10v1h-10zM956 1418h13v1h-13zM972 1418h19v1h-19zM993 1418h38v1h-38zM1034 1418h8v1h-8zM941 1419h3v1h-3zM948 1419h3v1h-3zM957 1419h35v1h-35zM995 1419h48v1h-48zM912 1420h6v1h-6zM941 1420h10v1h-10zM953 1420h4v1h-4zM960 1420h3v1h-3zM965 1420h27v1h-27zM996 1420h12v1h-12zM1009 1420h28v1h-28zM1040 1420h3v1h-3zM911 1421h8v1h-8zM942 1421h8v1h-8zM951 1421h8v1h-8zM960 1421h32v1h-32zM994 1421h15v1h-15zM1011 1421h32v1h-32zM910 1422h10v1h-10zM939 1422h4v1h-4zM944 1422h4v1h-4zM949 1422h11v1h-11zM961 1422h47v1h-47zM1012 1422h30v1h-30zM910 1423h3v1h-3zM917 1423h3v1h-3zM937 1423h8v1h-8zM947 1423h8v1h-8zM957 1423h3v1h-3zM962 1423h45v1h-45zM1013 1423h21v1h-21zM1036 1423h4v1h-4zM910 1424h10v1h-10zM936 1424h25v1h-25zM963 1424h46v1h-46zM1016 1424h18v1h-18zM911 1425h8v1h-8zM936 1425h74v1h-74zM1014 1425h19v1h-19zM908 1426h3v1h-3zM913 1426h4v1h-4zM936 1426h29v1h-29zM966 1426h44v1h-44zM1012 1426h20v1h-20zM906 1427h8v1h-8zM915 1427h5v1h-5zM928 1427h4v1h-4zM934 1427h76v1h-76zM1011 1427h20v1h-20zM905 1428h17v1h-17zM926 1428h28v1h-28zM955 1428h54v1h-54zM1010 1428h20v1h-20zM1042 1428h4v1h-4zM897 1429h5v1h-5zM904 1429h18v1h-18zM925 1429h29v1h-29zM955 1429h53v1h-53zM1010 1429h19v1h-19zM1040 1429h8v1h-8zM889 1430h27v1h-27zM919 1430h4v1h-4zM925 1430h3v1h-3zM930 1430h79v1h-79zM1010 1430h18v1h-18zM1039 1430h10v1h-10zM882 1431h3v1h-3zM887 1431h144v1h-144zM1039 1431h3v1h-3zM1046 1431h3v1h-3zM879 1432h143v1h-143zM1024 1432h9v1h-9zM1039 1432h10v1h-10zM878 1433h144v1h-144zM1023 1433h11v1h-11zM1040 1433h8v1h-8zM878 1434h3v1h-3zM882 1434h20v1h-20zM904 1434h17v1h-17zM922 1434h43v1h-43zM967 1434h30v1h-30zM998 1434h23v1h-23zM1023 1434h11v1h-11zM1041 1434h6v1h-6zM764 1435h3v1h-3zM871 1435h4v1h-4zM878 1435h21v1h-21zM905 1435h90v1h-90zM999 1435h20v1h-20zM1024 1435h9v1h-9zM762 1436h8v1h-8zM851 1436h6v1h-6zM869 1436h8v1h-8zM879 1436h19v1h-19zM905 1436h10v1h-10zM916 1436h16v1h-16zM933 1436h63v1h-63zM1002 1436h6v1h-6zM1012 1436h3v1h-3zM1025 1436h6v1h-6zM761 1437h10v1h-10zM845 1437h14v1h-14zM868 1437h10v1h-10zM879 1437h17v1h-17zM906 1437h90v1h-90zM1004 1437h11v1h-11zM760 1438h4v1h-4zM768 1438h3v1h-3zM844 1438h15v1h-15zM867 1438h30v1h-30zM907 1438h89v1h-89zM1001 1438h13v1h-13zM761 1439h10v1h-10zM843 1439h10v1h-10zM856 1439h4v1h-4zM867 1439h34v1h-34zM909 1439h31v1h-31zM941 1439h56v1h-56zM1000 1439h13v1h-13zM761 1440h9v1h-9zM843 1440h3v1h-3zM849 1440h10v1h-10zM868 1440h38v1h-38zM908 1440h88v1h-88zM999 1440h13v1h-13zM763 1441h6v1h-6zM843 1441h15v1h-15zM869 1441h65v1h-65zM936 1441h60v1h-60zM998 1441h14v1h-14zM844 1442h13v1h-13zM861 1442h134v1h-134zM998 1442h13v1h-13zM1014 1442h4v1h-4zM747 1443h5v1h-5zM842 1443h152v1h-152zM998 1443h11v1h-11zM1012 1443h8v1h-8zM745 1444h9v1h-9zM784 1444h6v1h-6zM829 1444h6v1h-6zM841 1444h150v1h-150zM999 1444h8v1h-8zM1011 1444h10v1h-10zM745 1445h9v1h-9zM782 1445h9v1h-9zM828 1445h9v1h-9zM839 1445h30v1h-30zM871 1445h115v1h-115zM1000 1445h6v1h-6zM1010 1445h4v1h-4zM1018 1445h3v1h-3zM744 1446h4v1h-4zM751 1446h4v1h-4zM782 1446h10v1h-10zM827 1446h155v1h-155zM1011 1446h10v1h-10zM745 1447h9v1h-9zM781 1447h4v1h-4zM789 1447h3v1h-3zM827 1447h160v1h-160zM1012 1447h8v1h-8zM746 1448h7v1h-7zM782 1448h10v1h-10zM807 1448h6v1h-6zM826 1448h117v1h-117zM945 1448h46v1h-46zM1014 1448h4v1h-4zM748 1449h3v1h-3zM783 1449h8v1h-8zM806 1449h13v1h-13zM826 1449h167v1h-167zM785 1450h3v1h-3zM802 1450h21v1h-21zM826 1450h168v1h-168zM800 1451h9v1h-9zM811 1451h14v1h-14zM827 1451h162v1h-162zM991 1451h4v1h-4zM788 1452h6v1h-6zM797 1452h29v1h-29zM828 1452h166v1h-166zM786 1453h40v1h-40zM828 1453h165v1h-165zM785 1454h206v1h-206zM785 1455h195v1h-195zM982 1455h3v1h-3zM786 1456h183v1h-183zM970 1456h10v1h-10zM786 1457h194v1h-194zM775 1458h4v1h-4zM785 1458h16v1h-16zM802 1458h177v1h-177zM773 1459h8v1h-8zM784 1459h17v1h-17zM803 1459h174v1h-174zM992 1459h3v1h-3zM658 1460h4v1h-4zM772 1460h30v1h-30zM803 1460h169v1h-169zM989 1460h8v1h-8zM656 1461h8v1h-8zM772 1461h200v1h-200zM988 1461h10v1h-10zM655 1462h10v1h-10zM771 1462h192v1h-192zM964 1462h6v1h-6zM988 1462h3v1h-3zM995 1462h4v1h-4zM654 1463h4v1h-4zM662 1463h3v1h-3zM770 1463h179v1h-179zM951 1463h12v1h-12zM988 1463h10v1h-10zM655 1464h10v1h-10zM767 1464h195v1h-195zM989 1464h9v1h-9zM656 1465h8v1h-8zM759 1465h6v1h-6zM766 1465h189v1h-189zM956 1465h3v1h-3zM990 1465h6v1h-6zM658 1466h4v1h-4zM757 1466h187v1h-187zM948 1466h6v1h-6zM694 1467h4v1h-4zM757 1467h191v1h-191zM683 1468h6v1h-6zM692 1468h8v1h-8zM746 1468h3v1h-3zM756 1468h4v1h-4zM764 1468h189v1h-189zM682 1469h19v1h-19zM731 1469h6v1h-6zM744 1469h11v1h-11zM757 1469h198v1h-198zM681 1470h13v1h-13zM698 1470h3v1h-3zM730 1470h9v1h-9zM742 1470h213v1h-213zM646 1471h6v1h-6zM681 1471h3v1h-3zM688 1471h13v1h-13zM729 1471h222v1h-222zM952 1471h4v1h-4zM623 1472h3v1h-3zM645 1472h9v1h-9zM681 1472h10v1h-10zM692 1472h8v1h-8zM712 1472h4v1h-4zM723 1472h232v1h-232zM620 1473h8v1h-8zM644 1473h10v1h-10zM682 1473h8v1h-8zM694 1473h4v1h-4zM710 1473h8v1h-8zM721 1473h221v1h-221zM943 1473h11v1h-11zM619 1474h10v1h-10zM644 1474h3v1h-3zM651 1474h4v1h-4zM685 1474h3v1h-3zM703 1474h16v1h-16zM720 1474h217v1h-217zM949 1474h3v1h-3zM619 1475h3v1h-3zM626 1475h4v1h-4zM644 1475h10v1h-10zM680 1475h6v1h-6zM702 1475h10v1h-10zM716 1475h216v1h-216zM934 1475h3v1h-3zM619 1476h10v1h-10zM645 1476h8v1h-8zM679 1476h8v1h-8zM701 1476h236v1h-236zM620 1477h9v1h-9zM648 1477h3v1h-3zM678 1477h10v1h-10zM701 1477h35v1h-35zM737 1477h199v1h-199zM621 1478h6v1h-6zM678 1478h3v1h-3zM685 1478h3v1h-3zM701 1478h232v1h-232zM677 1479h11v1h-11zM698 1479h234v1h-234zM962 1479h6v1h-6zM650 1480h9v1h-9zM676 1480h17v1h-17zM696 1480h225v1h-225zM922 1480h10v1h-10zM960 1480h9v1h-9zM648 1481h12v1h-12zM675 1481h10v1h-10zM686 1481h8v1h-8zM695 1481h53v1h-53zM750 1481h172v1h-172zM923 1481h13v1h-13zM960 1481h10v1h-10zM647 1482h14v1h-14zM675 1482h265v1h-265zM959 1482h4v1h-4zM967 1482h3v1h-3zM646 1483h11v1h-11zM658 1483h3v1h-3zM664 1483h6v1h-6zM672 1483h12v1h-12zM685 1483h10v1h-10zM696 1483h246v1h-246zM960 1483h10v1h-10zM647 1484h14v1h-14zM663 1484h32v1h-32zM696 1484h228v1h-228zM928 1484h4v1h-4zM934 1484h9v1h-9zM961 1484h8v1h-8zM647 1485h13v1h-13zM662 1485h12v1h-12zM677 1485h261v1h-261zM940 1485h4v1h-4zM963 1485h4v1h-4zM627 1486h3v1h-3zM642 1486h15v1h-15zM662 1486h3v1h-3zM669 1486h12v1h-12zM683 1486h227v1h-227zM916 1486h3v1h-3zM921 1486h22v1h-22zM625 1487h8v1h-8zM641 1487h9v1h-9zM660 1487h249v1h-249zM923 1487h6v1h-6zM932 1487h11v1h-11zM574 1488h6v1h-6zM624 1488h15v1h-15zM640 1488h10v1h-10zM659 1488h249v1h-249zM936 1488h5v1h-5zM573 1489h8v1h-8zM600 1489h6v1h-6zM623 1489h4v1h-4zM631 1489h12v1h-12zM647 1489h4v1h-4zM658 1489h4v1h-4zM665 1489h245v1h-245zM912 1489h6v1h-6zM572 1490h10v1h-10zM598 1490h9v1h-9zM621 1490h29v1h-29zM659 1490h15v1h-15zM677 1490h242v1h-242zM572 1491h10v1h-10zM598 1491h10v1h-10zM619 1491h30v1h-30zM655 1491h13v1h-13zM671 1491h223v1h-223zM895 1491h11v1h-11zM908 1491h12v1h-12zM573 1492h8v1h-8zM597 1492h4v1h-4zM605 1492h3v1h-3zM618 1492h31v1h-31zM651 1492h243v1h-243zM896 1492h17v1h-17zM917 1492h4v1h-4zM574 1493h6v1h-6zM598 1493h10v1h-10zM618 1493h3v1h-3zM625 1493h3v1h-3zM633 1493h262v1h-262zM898 1493h27v1h-27zM599 1494h8v1h-8zM618 1494h10v1h-10zM633 1494h263v1h-263zM898 1494h11v1h-11zM911 1494h16v1h-16zM544 1495h6v1h-6zM601 1495h3v1h-3zM619 1495h8v1h-8zM632 1495h32v1h-32zM665 1495h226v1h-226zM893 1495h3v1h-3zM897 1495h9v1h-9zM913 1495h15v1h-15zM542 1496h9v1h-9zM620 1496h6v1h-6zM633 1496h273v1h-273zM915 1496h14v1h-14zM541 1497h11v1h-11zM622 1497h4v1h-4zM633 1497h241v1h-241zM875 1497h9v1h-9zM886 1497h9v1h-9zM896 1497h11v1h-11zM915 1497h13v1h-13zM541 1498h11v1h-11zM613 1498h5v1h-5zM620 1498h8v1h-8zM634 1498h239v1h-239zM875 1498h32v1h-32zM917 1498h11v1h-11zM542 1499h9v1h-9zM611 1499h18v1h-18zM634 1499h274v1h-274zM920 1499h6v1h-6zM544 1500h6v1h-6zM610 1500h15v1h-15zM626 1500h3v1h-3zM635 1500h228v1h-228zM867 1500h20v1h-20zM889 1500h18v1h-18zM609 1501h20v1h-20zM632 1501h244v1h-244zM880 1501h3v1h-3zM888 1501h4v1h-4zM895 1501h12v1h-12zM608 1502h262v1h-262zM873 1502h10v1h-10zM889 1502h16v1h-16zM598 1503h4v1h-4zM608 1503h274v1h-274zM890 1503h15v1h-15zM596 1504h12v1h-12zM609 1504h255v1h-255zM868 1504h7v1h-7zM876 1504h3v1h-3zM892 1504h12v1h-12zM595 1505h267v1h-267zM864 1505h9v1h-9zM894 1505h9v1h-9zM595 1506h262v1h-262zM862 1506h9v1h-9zM893 1506h10v1h-10zM595 1507h15v1h-15zM612 1507h242v1h-242zM862 1507h10v1h-10zM893 1507h3v1h-3zM900 1507h3v1h-3zM595 1508h260v1h-260zM861 1508h4v1h-4zM869 1508h3v1h-3zM893 1508h10v1h-10zM591 1509h265v1h-265zM862 1509h10v1h-10zM894 1509h8v1h-8zM589 1510h268v1h-268zM858 1510h13v1h-13zM896 1510h4v1h-4zM582 1511h3v1h-3zM588 1511h253v1h-253zM842 1511h26v1h-26zM580 1512h7v1h-7zM588 1512h3v1h-3zM592 1512h253v1h-253zM846 1512h20v1h-20zM579 1513h265v1h-265zM847 1513h12v1h-12zM863 1513h3v1h-3zM578 1514h4v1h-4zM585 1514h256v1h-256zM848 1514h7v1h-7zM856 1514h10v1h-10zM579 1515h9v1h-9zM590 1515h249v1h-249zM850 1515h3v1h-3zM857 1515h8v1h-8zM579 1516h9v1h-9zM589 1516h250v1h-250zM859 1516h4v1h-4zM502 1517h6v1h-6zM581 1517h5v1h-5zM588 1517h239v1h-239zM831 1517h10v1h-10zM501 1518h9v1h-9zM544 1518h3v1h-3zM578 1518h5v1h-5zM585 1518h231v1h-231zM819 1518h22v1h-22zM500 1519h11v1h-11zM542 1519h7v1h-7zM576 1519h239v1h-239zM819 1519h15v1h-15zM838 1519h4v1h-4zM500 1520h11v1h-11zM541 1520h9v1h-9zM571 1520h3v1h-3zM576 1520h237v1h-237zM818 1520h23v1h-23zM849 1520h4v1h-4zM501 1521h9v1h-9zM540 1521h4v1h-4zM545 1521h6v1h-6zM568 1521h244v1h-244zM817 1521h11v1h-11zM832 1521h8v1h-8zM847 1521h8v1h-8zM502 1522h6v1h-6zM541 1522h12v1h-12zM567 1522h245v1h-245zM817 1522h11v1h-11zM835 1522h3v1h-3zM846 1522h10v1h-10zM541 1523h12v1h-12zM567 1523h3v1h-3zM571 1523h241v1h-241zM817 1523h10v1h-10zM846 1523h3v1h-3zM853 1523h4v1h-4zM543 1524h5v1h-5zM550 1524h4v1h-4zM567 1524h245v1h-245zM818 1524h9v1h-9zM846 1524h10v1h-10zM543 1525h12v1h-12zM568 1525h243v1h-243zM819 1525h6v1h-6zM847 1525h8v1h-8zM544 1526h14v1h-14zM563 1526h4v1h-4zM569 1526h241v1h-241zM849 1526h4v1h-4zM547 1527h12v1h-12zM561 1527h8v1h-8zM571 1527h239v1h-239zM548 1528h4v1h-4zM556 1528h3v1h-3zM560 1528h10v1h-10zM572 1528h231v1h-231zM807 1528h4v1h-4zM815 1528h3v1h-3zM549 1529h10v1h-10zM560 1529h3v1h-3zM567 1529h243v1h-243zM813 1529h7v1h-7zM477 1530h5v1h-5zM549 1530h9v1h-9zM560 1530h249v1h-249zM812 1530h9v1h-9zM475 1531h9v1h-9zM496 1531h5v1h-5zM551 1531h6v1h-6zM561 1531h241v1h-241zM804 1531h3v1h-3zM811 1531h4v1h-4zM818 1531h4v1h-4zM475 1532h9v1h-9zM494 1532h9v1h-9zM563 1532h231v1h-231zM795 1532h6v1h-6zM812 1532h9v1h-9zM474 1533h4v1h-4zM481 1533h4v1h-4zM494 1533h9v1h-9zM562 1533h240v1h-240zM813 1533h7v1h-7zM475 1534h9v1h-9zM493 1534h4v1h-4zM500 1534h4v1h-4zM549 1534h3v1h-3zM562 1534h241v1h-241zM815 1534h3v1h-3zM476 1535h7v1h-7zM494 1535h9v1h-9zM547 1535h8v1h-8zM557 1535h239v1h-239zM800 1535h3v1h-3zM478 1536h3v1h-3zM495 1536h7v1h-7zM526 1536h6v1h-6zM546 1536h244v1h-244zM792 1536h11v1h-11zM466 1537h6v1h-6zM497 1537h3v1h-3zM525 1537h9v1h-9zM545 1537h257v1h-257zM806 1537h6v1h-6zM465 1538h8v1h-8zM511 1538h6v1h-6zM524 1538h10v1h-10zM546 1538h13v1h-13zM560 1538h224v1h-224zM787 1538h7v1h-7zM796 1538h3v1h-3zM805 1538h9v1h-9zM838 1538h4v1h-4zM464 1539h10v1h-10zM510 1539h8v1h-8zM524 1539h3v1h-3zM531 1539h4v1h-4zM545 1539h238v1h-238zM789 1539h3v1h-3zM804 1539h11v1h-11zM836 1539h9v1h-9zM441 1540h3v1h-3zM464 1540h10v1h-10zM509 1540h10v1h-10zM524 1540h10v1h-10zM544 1540h239v1h-239zM804 1540h11v1h-11zM835 1540h11v1h-11zM439 1541h7v1h-7zM465 1541h8v1h-8zM509 1541h3v1h-3zM516 1541h3v1h-3zM525 1541h8v1h-8zM538 1541h245v1h-245zM805 1541h9v1h-9zM834 1541h13v1h-13zM438 1542h9v1h-9zM466 1542h6v1h-6zM509 1542h10v1h-10zM528 1542h3v1h-3zM537 1542h246v1h-246zM806 1542h6v1h-6zM834 1542h13v1h-13zM437 1543h4v1h-4zM444 1543h4v1h-4zM490 1543h6v1h-6zM510 1543h8v1h-8zM529 1543h4v1h-4zM536 1543h242v1h-242zM780 1543h4v1h-4zM835 1543h11v1h-11zM438 1544h9v1h-9zM488 1544h9v1h-9zM505 1544h6v1h-6zM512 1544h4v1h-4zM527 1544h256v1h-256zM837 1544h8v1h-8zM439 1545h14v1h-14zM487 1545h11v1h-11zM504 1545h8v1h-8zM526 1545h256v1h-256zM441 1546h3v1h-3zM445 1546h9v1h-9zM487 1546h11v1h-11zM501 1546h12v1h-12zM526 1546h3v1h-3zM532 1546h236v1h-236zM777 1546h3v1h-3zM444 1547h11v1h-11zM482 1547h3v1h-3zM488 1547h9v1h-9zM499 1547h14v1h-14zM526 1547h240v1h-240zM444 1548h11v1h-11zM480 1548h8v1h-8zM490 1548h6v1h-6zM498 1548h18v1h-18zM527 1548h18v1h-18zM546 1548h218v1h-218zM445 1549h9v1h-9zM479 1549h16v1h-16zM498 1549h20v1h-20zM529 1549h14v1h-14zM547 1549h216v1h-216zM447 1550h6v1h-6zM474 1550h22v1h-22zM499 1550h20v1h-20zM530 1550h230v1h-230zM440 1551h6v1h-6zM472 1551h25v1h-25zM501 1551h23v1h-23zM525 1551h233v1h-233zM411 1552h5v1h-5zM439 1552h8v1h-8zM471 1552h26v1h-26zM503 1552h243v1h-243zM747 1552h4v1h-4zM755 1552h3v1h-3zM409 1553h9v1h-9zM438 1553h10v1h-10zM471 1553h27v1h-27zM501 1553h257v1h-257zM408 1554h11v1h-11zM438 1554h3v1h-3zM445 1554h3v1h-3zM472 1554h10v1h-10zM484 1554h15v1h-15zM501 1554h256v1h-256zM806 1554h5v1h-5zM846 1554h3v1h-3zM408 1555h11v1h-11zM438 1555h10v1h-10zM474 1555h24v1h-24zM500 1555h234v1h-234zM737 1555h12v1h-12zM750 1555h6v1h-6zM804 1555h9v1h-9zM844 1555h8v1h-8zM409 1556h9v1h-9zM439 1556h8v1h-8zM475 1556h23v1h-23zM501 1556h232v1h-232zM736 1556h12v1h-12zM803 1556h11v1h-11zM843 1556h10v1h-10zM411 1557h5v1h-5zM441 1557h4v1h-4zM473 1557h23v1h-23zM501 1557h247v1h-247zM803 1557h11v1h-11zM842 1557h4v1h-4zM850 1557h3v1h-3zM472 1558h23v1h-23zM500 1558h247v1h-247zM804 1558h9v1h-9zM843 1558h10v1h-10zM472 1559h17v1h-17zM492 1559h3v1h-3zM501 1559h245v1h-245zM798 1559h3v1h-3zM806 1559h5v1h-5zM843 1559h9v1h-9zM472 1560h23v1h-23zM500 1560h245v1h-245zM796 1560h7v1h-7zM845 1560h6v1h-6zM473 1561h10v1h-10zM486 1561h9v1h-9zM499 1561h245v1h-245zM795 1561h9v1h-9zM474 1562h269v1h-269zM794 1562h4v1h-4zM801 1562h4v1h-4zM439 1563h9v1h-9zM468 1563h259v1h-259zM730 1563h8v1h-8zM795 1563h9v1h-9zM437 1564h12v1h-12zM452 1564h5v1h-5zM466 1564h254v1h-254zM722 1564h12v1h-12zM795 1564h9v1h-9zM436 1565h23v1h-23zM465 1565h253v1h-253zM724 1565h9v1h-9zM797 1565h5v1h-5zM436 1566h3v1h-3zM440 1566h19v1h-19zM465 1566h252v1h-252zM726 1566h6v1h-6zM436 1567h24v1h-24zM465 1567h251v1h-251zM431 1568h28v1h-28zM466 1568h250v1h-250zM430 1569h28v1h-28zM467 1569h249v1h-249zM429 1570h10v1h-10zM441 1570h16v1h-16zM471 1570h246v1h-246zM429 1571h3v1h-3zM436 1571h4v1h-4zM443 1571h14v1h-14zM462 1571h6v1h-6zM470 1571h240v1h-240zM714 1571h3v1h-3zM429 1572h10v1h-10zM445 1572h6v1h-6zM452 1572h8v1h-8zM461 1572h12v1h-12zM474 1572h243v1h-243zM780 1572h3v1h-3zM426 1573h12v1h-12zM444 1573h262v1h-262zM707 1573h9v1h-9zM778 1573h8v1h-8zM425 1574h11v1h-11zM443 1574h22v1h-22zM467 1574h240v1h-240zM709 1574h6v1h-6zM777 1574h10v1h-10zM424 1575h11v1h-11zM440 1575h6v1h-6zM448 1575h261v1h-261zM776 1575h4v1h-4zM784 1575h3v1h-3zM378 1576h3v1h-3zM424 1576h12v1h-12zM437 1576h273v1h-273zM777 1576h14v1h-14zM375 1577h8v1h-8zM424 1577h287v1h-287zM777 1577h16v1h-16zM374 1578h10v1h-10zM423 1578h16v1h-16zM443 1578h247v1h-247zM693 1578h3v1h-3zM697 1578h13v1h-13zM779 1578h15v1h-15zM374 1579h3v1h-3zM381 1579h4v1h-4zM415 1579h20v1h-20zM436 1579h254v1h-254zM699 1579h11v1h-11zM784 1579h3v1h-3zM791 1579h3v1h-3zM374 1580h10v1h-10zM413 1580h12v1h-12zM429 1580h4v1h-4zM437 1580h253v1h-253zM702 1580h6v1h-6zM784 1580h10v1h-10zM375 1581h9v1h-9zM413 1581h23v1h-23zM438 1581h252v1h-252zM785 1581h8v1h-8zM376 1582h6v1h-6zM412 1582h6v1h-6zM420 1582h18v1h-18zM442 1582h237v1h-237zM681 1582h10v1h-10zM786 1582h6v1h-6zM344 1583h6v1h-6zM413 1583h26v1h-26zM440 1583h236v1h-236zM682 1583h10v1h-10zM343 1584h8v1h-8zM411 1584h262v1h-262zM682 1584h3v1h-3zM689 1584h3v1h-3zM342 1585h10v1h-10zM377 1585h4v1h-4zM409 1585h265v1h-265zM682 1585h10v1h-10zM342 1586h10v1h-10zM375 1586h8v1h-8zM408 1586h267v1h-267zM683 1586h8v1h-8zM343 1587h8v1h-8zM374 1587h10v1h-10zM405 1587h271v1h-271zM685 1587h4v1h-4zM344 1588h6v1h-6zM374 1588h3v1h-3zM381 1588h3v1h-3zM403 1588h17v1h-17zM421 1588h248v1h-248zM673 1588h3v1h-3zM374 1589h10v1h-10zM402 1589h263v1h-263zM666 1589h10v1h-10zM375 1590h8v1h-8zM401 1590h4v1h-4zM406 1590h253v1h-253zM660 1590h4v1h-4zM667 1590h8v1h-8zM676 1590h3v1h-3zM377 1591h4v1h-4zM402 1591h15v1h-15zM418 1591h10v1h-10zM429 1591h237v1h-237zM669 1591h3v1h-3zM673 1591h8v1h-8zM402 1592h14v1h-14zM420 1592h247v1h-247zM672 1592h10v1h-10zM404 1593h13v1h-13zM420 1593h248v1h-248zM672 1593h11v1h-11zM397 1594h5v1h-5zM404 1594h3v1h-3zM410 1594h13v1h-13zM427 1594h241v1h-241zM671 1594h11v1h-11zM395 1595h24v1h-24zM420 1595h248v1h-248zM670 1595h12v1h-12zM395 1596h272v1h-272zM670 1596h11v1h-11zM394 1597h4v1h-4zM400 1597h21v1h-21zM423 1597h226v1h-226zM650 1597h6v1h-6zM658 1597h7v1h-7zM671 1597h9v1h-9zM395 1598h27v1h-27zM425 1598h210v1h-210zM636 1598h20v1h-20zM673 1598h6v1h-6zM377 1599h3v1h-3zM396 1599h27v1h-27zM426 1599h229v1h-229zM375 1600h11v1h-11zM398 1600h4v1h-4zM403 1600h20v1h-20zM426 1600h226v1h-226zM368 1601h20v1h-20zM399 1601h26v1h-26zM426 1601h222v1h-222zM736 1601h5v1h-5zM367 1602h23v1h-23zM400 1602h246v1h-246zM734 1602h9v1h-9zM366 1603h26v1h-26zM393 1603h22v1h-22zM416 1603h229v1h-229zM733 1603h11v1h-11zM366 1604h3v1h-3zM373 1604h273v1h-273zM648 1604h3v1h-3zM733 1604h11v1h-11zM366 1605h288v1h-288zM734 1605h9v1h-9zM366 1606h289v1h-289zM736 1606h5v1h-5zM365 1607h261v1h-261zM627 1607h21v1h-21zM652 1607h3v1h-3zM364 1608h26v1h-26zM391 1608h234v1h-234zM630 1608h25v1h-25zM701 1608h5v1h-5zM349 1609h3v1h-3zM364 1609h3v1h-3zM368 1609h12v1h-12zM382 1609h242v1h-242zM629 1609h4v1h-4zM637 1609h17v1h-17zM699 1609h9v1h-9zM347 1610h7v1h-7zM364 1610h261v1h-261zM630 1610h15v1h-15zM647 1610h6v1h-6zM698 1610h11v1h-11zM346 1611h9v1h-9zM365 1611h261v1h-261zM631 1611h8v1h-8zM698 1611h11v1h-11zM345 1612h4v1h-4zM352 1612h4v1h-4zM361 1612h3v1h-3zM368 1612h260v1h-260zM633 1612h3v1h-3zM699 1612h9v1h-9zM346 1613h9v1h-9zM359 1613h8v1h-8zM372 1613h233v1h-233zM609 1613h11v1h-11zM621 1613h9v1h-9zM701 1613h5v1h-5zM346 1614h9v1h-9zM358 1614h238v1h-238zM600 1614h30v1h-30zM348 1615h5v1h-5zM357 1615h4v1h-4zM364 1615h262v1h-262zM627 1615h4v1h-4zM341 1616h3v1h-3zM358 1616h233v1h-233zM594 1616h8v1h-8zM603 1616h16v1h-16zM620 1616h10v1h-10zM739 1616h6v1h-6zM339 1617h7v1h-7zM358 1617h253v1h-253zM613 1617h5v1h-5zM620 1617h9v1h-9zM738 1617h9v1h-9zM338 1618h9v1h-9zM360 1618h267v1h-267zM737 1618h10v1h-10zM337 1619h4v1h-4zM344 1619h4v1h-4zM357 1619h270v1h-270zM737 1619h3v1h-3zM744 1619h4v1h-4zM338 1620h9v1h-9zM355 1620h261v1h-261zM617 1620h3v1h-3zM624 1620h4v1h-4zM737 1620h10v1h-10zM338 1621h9v1h-9zM354 1621h259v1h-259zM617 1621h10v1h-10zM738 1621h8v1h-8zM340 1622h5v1h-5zM354 1622h258v1h-258zM618 1622h8v1h-8zM741 1622h3v1h-3zM345 1623h3v1h-3zM354 1623h247v1h-247zM603 1623h8v1h-8zM620 1623h4v1h-4zM342 1624h8v1h-8zM353 1624h256v1h-256zM340 1625h11v1h-11zM353 1625h253v1h-253zM338 1626h9v1h-9zM348 1626h209v1h-209zM558 1626h38v1h-38zM599 1626h6v1h-6zM311 1627h3v1h-3zM332 1627h19v1h-19zM353 1627h241v1h-241zM309 1628h7v1h-7zM324 1628h3v1h-3zM330 1628h11v1h-11zM342 1628h9v1h-9zM352 1628h238v1h-238zM597 1628h4v1h-4zM308 1629h9v1h-9zM322 1629h27v1h-27zM351 1629h240v1h-240zM595 1629h8v1h-8zM307 1630h4v1h-4zM314 1630h4v1h-4zM320 1630h13v1h-13zM337 1630h10v1h-10zM351 1630h222v1h-222zM575 1630h9v1h-9zM588 1630h3v1h-3zM594 1630h10v1h-10zM308 1631h9v1h-9zM320 1631h235v1h-235zM557 1631h15v1h-15zM577 1631h20v1h-20zM601 1631h4v1h-4zM308 1632h9v1h-9zM319 1632h232v1h-232zM552 1632h26v1h-26zM581 1632h23v1h-23zM297 1633h4v1h-4zM310 1633h5v1h-5zM319 1633h17v1h-17zM339 1633h211v1h-211zM553 1633h27v1h-27zM583 1633h20v1h-20zM295 1634h8v1h-8zM319 1634h10v1h-10zM330 1634h221v1h-221zM552 1634h29v1h-29zM586 1634h4v1h-4zM594 1634h7v1h-7zM294 1635h10v1h-10zM320 1635h262v1h-262zM587 1635h10v1h-10zM294 1636h3v1h-3zM301 1636h3v1h-3zM321 1636h229v1h-229zM551 1636h3v1h-3zM555 1636h26v1h-26zM588 1636h8v1h-8zM294 1637h10v1h-10zM312 1637h3v1h-3zM326 1637h222v1h-222zM551 1637h30v1h-30zM590 1637h3v1h-3zM279 1638h4v1h-4zM295 1638h8v1h-8zM310 1638h8v1h-8zM329 1638h214v1h-214zM545 1638h6v1h-6zM552 1638h18v1h-18zM573 1638h6v1h-6zM277 1639h8v1h-8zM297 1639h4v1h-4zM307 1639h12v1h-12zM329 1639h224v1h-224zM555 1639h3v1h-3zM562 1639h7v1h-7zM276 1640h10v1h-10zM305 1640h9v1h-9zM316 1640h3v1h-3zM328 1640h225v1h-225zM564 1640h3v1h-3zM276 1641h3v1h-3zM283 1641h3v1h-3zM305 1641h14v1h-14zM325 1641h229v1h-229zM685 1641h3v1h-3zM276 1642h10v1h-10zM300 1642h8v1h-8zM309 1642h246v1h-246zM683 1642h7v1h-7zM277 1643h8v1h-8zM298 1643h29v1h-29zM328 1643h228v1h-228zM682 1643h9v1h-9zM279 1644h4v1h-4zM297 1644h16v1h-16zM315 1644h230v1h-230zM546 1644h9v1h-9zM681 1644h4v1h-4zM688 1644h4v1h-4zM297 1645h237v1h-237zM537 1645h6v1h-6zM546 1645h9v1h-9zM682 1645h9v1h-9zM297 1646h11v1h-11zM309 1646h227v1h-227zM545 1646h8v1h-8zM682 1646h9v1h-9zM693 1646h5v1h-5zM298 1647h239v1h-239zM543 1647h8v1h-8zM684 1647h5v1h-5zM691 1647h9v1h-9zM299 1648h239v1h-239zM542 1648h10v1h-10zM690 1648h11v1h-11zM301 1649h236v1h-236zM541 1649h4v1h-4zM549 1649h3v1h-3zM690 1649h11v1h-11zM304 1650h11v1h-11zM317 1650h194v1h-194zM512 1650h25v1h-25zM542 1650h10v1h-10zM598 1650h3v1h-3zM691 1650h9v1h-9zM276 1651h3v1h-3zM297 1651h6v1h-6zM304 1651h11v1h-11zM316 1651h195v1h-195zM512 1651h23v1h-23zM542 1651h9v1h-9zM596 1651h7v1h-7zM693 1651h5v1h-5zM274 1652h8v1h-8zM295 1652h216v1h-216zM513 1652h20v1h-20zM544 1652h6v1h-6zM562 1652h6v1h-6zM595 1652h9v1h-9zM273 1653h10v1h-10zM295 1653h227v1h-227zM526 1653h4v1h-4zM560 1653h9v1h-9zM594 1653h4v1h-4zM601 1653h4v1h-4zM272 1654h4v1h-4zM280 1654h3v1h-3zM294 1654h11v1h-11zM307 1654h210v1h-210zM519 1654h13v1h-13zM560 1654h10v1h-10zM595 1654h9v1h-9zM273 1655h10v1h-10zM293 1655h13v1h-13zM308 1655h210v1h-210zM520 1655h13v1h-13zM559 1655h4v1h-4zM567 1655h3v1h-3zM595 1655h9v1h-9zM273 1656h9v1h-9zM293 1656h219v1h-219zM515 1656h3v1h-3zM523 1656h11v1h-11zM560 1656h10v1h-10zM597 1656h5v1h-5zM275 1657h6v1h-6zM292 1657h196v1h-196zM493 1657h25v1h-25zM523 1657h11v1h-11zM561 1657h8v1h-8zM291 1658h197v1h-197zM494 1658h23v1h-23zM524 1658h9v1h-9zM563 1658h3v1h-3zM706 1658h3v1h-3zM277 1659h6v1h-6zM290 1659h198v1h-198zM495 1659h15v1h-15zM511 1659h4v1h-4zM526 1659h6v1h-6zM704 1659h7v1h-7zM275 1660h9v1h-9zM290 1660h3v1h-3zM295 1660h198v1h-198zM494 1660h17v1h-17zM703 1660h9v1h-9zM275 1661h10v1h-10zM290 1661h221v1h-221zM702 1661h4v1h-4zM709 1661h4v1h-4zM274 1662h11v1h-11zM291 1662h205v1h-205zM500 1662h11v1h-11zM679 1662h6v1h-6zM703 1662h9v1h-9zM273 1663h12v1h-12zM291 1663h197v1h-197zM492 1663h19v1h-19zM678 1663h8v1h-8zM704 1663h7v1h-7zM266 1664h3v1h-3zM272 1664h12v1h-12zM290 1664h221v1h-221zM570 1664h3v1h-3zM677 1664h10v1h-10zM706 1664h3v1h-3zM264 1665h19v1h-19zM289 1665h196v1h-196zM486 1665h8v1h-8zM497 1665h3v1h-3zM501 1665h9v1h-9zM568 1665h7v1h-7zM677 1665h10v1h-10zM263 1666h19v1h-19zM289 1666h195v1h-195zM488 1666h4v1h-4zM503 1666h6v1h-6zM567 1666h9v1h-9zM678 1666h8v1h-8zM262 1667h4v1h-4zM270 1667h3v1h-3zM275 1667h6v1h-6zM287 1667h196v1h-196zM511 1667h3v1h-3zM566 1667h4v1h-4zM573 1667h4v1h-4zM679 1667h6v1h-6zM263 1668h10v1h-10zM286 1668h190v1h-190zM509 1668h8v1h-8zM567 1668h9v1h-9zM263 1669h9v1h-9zM276 1669h6v1h-6zM286 1669h191v1h-191zM508 1669h10v1h-10zM568 1669h7v1h-7zM265 1670h6v1h-6zM274 1670h183v1h-183zM458 1670h20v1h-20zM507 1670h4v1h-4zM515 1670h3v1h-3zM570 1670h3v1h-3zM268 1671h189v1h-189zM458 1671h21v1h-21zM482 1671h6v1h-6zM508 1671h10v1h-10zM267 1672h169v1h-169zM438 1672h19v1h-19zM459 1672h14v1h-14zM476 1672h3v1h-3zM481 1672h9v1h-9zM508 1672h9v1h-9zM266 1673h169v1h-169zM438 1673h21v1h-21zM460 1673h19v1h-19zM480 1673h10v1h-10zM510 1673h6v1h-6zM651 1673h6v1h-6zM266 1674h3v1h-3zM270 1674h154v1h-154zM425 1674h9v1h-9zM436 1674h24v1h-24zM466 1674h12v1h-12zM480 1674h3v1h-3zM487 1674h4v1h-4zM650 1674h8v1h-8zM266 1675h158v1h-158zM425 1675h36v1h-36zM465 1675h4v1h-4zM472 1675h4v1h-4zM480 1675h10v1h-10zM649 1675h10v1h-10zM267 1676h195v1h-195zM466 1676h10v1h-10zM481 1676h8v1h-8zM649 1676h10v1h-10zM266 1677h196v1h-196zM466 1677h9v1h-9zM484 1677h3v1h-3zM650 1677h8v1h-8zM258 1678h6v1h-6zM265 1678h160v1h-160zM427 1678h36v1h-36zM468 1678h6v1h-6zM651 1678h6v1h-6zM256 1679h153v1h-153zM411 1679h51v1h-51zM245 1680h3v1h-3zM256 1680h158v1h-158zM416 1680h5v1h-5zM422 1680h18v1h-18zM442 1680h19v1h-19zM503 1680h4v1h-4zM242 1681h8v1h-8zM255 1681h4v1h-4zM263 1681h150v1h-150zM416 1681h14v1h-14zM431 1681h14v1h-14zM448 1681h11v1h-11zM501 1681h8v1h-8zM241 1682h10v1h-10zM256 1682h169v1h-169zM427 1682h4v1h-4zM433 1682h11v1h-11zM500 1682h10v1h-10zM241 1683h3v1h-3zM248 1683h4v1h-4zM257 1683h173v1h-173zM439 1683h3v1h-3zM500 1683h3v1h-3zM507 1683h3v1h-3zM241 1684h10v1h-10zM257 1684h173v1h-173zM500 1684h10v1h-10zM242 1685h9v1h-9zM255 1685h155v1h-155zM413 1685h15v1h-15zM501 1685h8v1h-8zM243 1686h7v1h-7zM255 1686h138v1h-138zM397 1686h28v1h-28zM503 1686h4v1h-4zM236 1687h16v1h-16zM254 1687h139v1h-139zM394 1687h13v1h-13zM408 1687h16v1h-16zM425 1687h6v1h-6zM235 1688h170v1h-170zM409 1688h6v1h-6zM418 1688h3v1h-3zM423 1688h9v1h-9zM234 1689h168v1h-168zM412 1689h6v1h-6zM423 1689h10v1h-10zM234 1690h3v1h-3zM241 1690h161v1h-161zM411 1690h9v1h-9zM422 1690h4v1h-4zM430 1690h3v1h-3zM196 1691h5v1h-5zM234 1691h158v1h-158zM393 1691h8v1h-8zM410 1691h10v1h-10zM423 1691h16v1h-16zM194 1692h9v1h-9zM235 1692h152v1h-152zM389 1692h4v1h-4zM394 1692h6v1h-6zM410 1692h3v1h-3zM417 1692h4v1h-4zM424 1692h16v1h-16zM193 1693h11v1h-11zM238 1693h3v1h-3zM243 1693h155v1h-155zM410 1693h10v1h-10zM426 1693h3v1h-3zM431 1693h10v1h-10zM193 1694h11v1h-11zM241 1694h158v1h-158zM411 1694h8v1h-8zM430 1694h4v1h-4zM438 1694h3v1h-3zM194 1695h9v1h-9zM240 1695h126v1h-126zM367 1695h33v1h-33zM414 1695h3v1h-3zM431 1695h10v1h-10zM196 1696h5v1h-5zM239 1696h148v1h-148zM389 1696h11v1h-11zM432 1696h8v1h-8zM190 1697h5v1h-5zM228 1697h6v1h-6zM237 1697h149v1h-149zM390 1697h13v1h-13zM434 1697h3v1h-3zM188 1698h9v1h-9zM227 1698h158v1h-158zM392 1698h12v1h-12zM187 1699h11v1h-11zM226 1699h138v1h-138zM368 1699h16v1h-16zM393 1699h11v1h-11zM187 1700h11v1h-11zM225 1700h150v1h-150zM379 1700h3v1h-3zM394 1700h10v1h-10zM188 1701h9v1h-9zM223 1701h148v1h-148zM372 1701h10v1h-10zM394 1701h10v1h-10zM190 1702h5v1h-5zM222 1702h133v1h-133zM359 1702h11v1h-11zM373 1702h8v1h-8zM394 1702h10v1h-10zM221 1703h149v1h-149zM375 1703h4v1h-4zM395 1703h8v1h-8zM221 1704h124v1h-124zM347 1704h17v1h-17zM367 1704h4v1h-4zM396 1704h6v1h-6zM219 1705h125v1h-125zM355 1705h15v1h-15zM216 1706h126v1h-126zM355 1706h3v1h-3zM361 1706h9v1h-9zM213 1707h128v1h-128zM355 1707h13v1h-13zM212 1708h128v1h-128zM356 1708h8v1h-8zM433 1708h6v1h-6zM211 1709h127v1h-127zM358 1709h4v1h-4zM431 1709h9v1h-9zM211 1710h106v1h-106zM319 1710h10v1h-10zM331 1710h6v1h-6zM431 1710h10v1h-10zM211 1711h95v1h-95zM307 1711h8v1h-8zM321 1711h7v1h-7zM430 1711h4v1h-4zM438 1711h3v1h-3zM211 1712h78v1h-78zM290 1712h17v1h-17zM310 1712h6v1h-6zM431 1712h10v1h-10zM207 1713h82v1h-82zM290 1713h13v1h-13zM304 1713h14v1h-14zM323 1713h6v1h-6zM432 1713h8v1h-8zM205 1714h84v1h-84zM290 1714h28v1h-28zM322 1714h8v1h-8zM434 1714h3v1h-3zM204 1715h52v1h-52zM258 1715h31v1h-31zM291 1715h28v1h-28zM321 1715h10v1h-10zM204 1716h50v1h-50zM258 1716h30v1h-30zM292 1716h13v1h-13zM308 1716h10v1h-10zM321 1716h10v1h-10zM204 1717h49v1h-49zM257 1717h29v1h-29zM294 1717h11v1h-11zM309 1717h8v1h-8zM322 1717h8v1h-8zM202 1718h50v1h-50zM258 1718h15v1h-15zM295 1718h9v1h-9zM312 1718h3v1h-3zM323 1718h6v1h-6zM201 1719h50v1h-50zM258 1719h13v1h-13zM296 1719h7v1h-7zM198 1720h54v1h-54zM260 1720h11v1h-11zM292 1720h4v1h-4zM298 1720h3v1h-3zM196 1721h49v1h-49zM249 1721h4v1h-4zM262 1721h8v1h-8zM290 1721h8v1h-8zM195 1722h57v1h-57zM263 1722h6v1h-6zM289 1722h10v1h-10zM194 1723h4v1h-4zM199 1723h41v1h-41zM243 1723h9v1h-9zM279 1723h3v1h-3zM288 1723h4v1h-4zM296 1723h3v1h-3zM194 1724h44v1h-44zM244 1724h6v1h-6zM276 1724h8v1h-8zM289 1724h10v1h-10zM192 1725h34v1h-34zM227 1725h11v1h-11zM275 1725h10v1h-10zM290 1725h8v1h-8zM191 1726h48v1h-48zM275 1726h3v1h-3zM282 1726h4v1h-4zM292 1726h4v1h-4zM189 1727h49v1h-49zM275 1727h10v1h-10zM184 1728h44v1h-44zM229 1728h9v1h-9zM276 1728h9v1h-9zM182 1729h43v1h-43zM231 1729h5v1h-5zM277 1729h6v1h-6zM180 1730h45v1h-45zM177 1731h34v1h-34zM214 1731h9v1h-9zM175 1732h36v1h-36zM215 1732h7v1h-7zM173 1733h37v1h-37zM217 1733h3v1h-3zM171 1734h27v1h-27zM199 1734h10v1h-10zM168 1735h34v1h-34zM167 1736h34v1h-34zM166 1737h26v1h-26zM196 1737h3v1h-3zM162 1738h29v1h-29zM160 1739h30v1h-30zM158 1740h27v1h-27zM151 1741h4v1h-4zM156 1741h28v1h-28zM149 1742h33v1h-33zM148 1743h28v1h-28zM210 1743h5v1h-5zM148 1744h27v1h-27zM208 1744h9v1h-9zM147 1745h24v1h-24zM185 1745h3v1h-3zM207 1745h11v1h-11zM145 1746h22v1h-22zM183 1746h7v1h-7zM207 1746h11v1h-11zM141 1747h24v1h-24zM182 1747h9v1h-9zM208 1747h9v1h-9zM139 1748h24v1h-24zM181 1748h4v1h-4zM188 1748h4v1h-4zM210 1748h5v1h-5zM136 1749h25v1h-25zM182 1749h9v1h-9zM134 1750h25v1h-25zM183 1750h7v1h-7zM132 1751h24v1h-24zM185 1751h3v1h-3zM129 1752h25v1h-25zM126 1753h23v1h-23zM124 1754h23v1h-23zM122 1755h23v1h-23zM121 1756h21v1h-21zM121 1757h18v1h-18zM121 1758h15v1h-15zM121 1759h12v1h-12zM122 1760h9v1h-9zM125 1761h3v1h-3z"/><path d="M84.8 1322.2V1773.5H1228.8V1322.2Z" fill="none" stroke="#111" stroke-width="2.3"/><line x1="73.5" y1="1712.3" x2="84.8" y2="1712.3" stroke="#111" stroke-width="2.3"/><line x1="245.6" y1="1773.5" x2="245.6" y2="1780.5" stroke="#111" stroke-width="2.3"/><line x1="73.5" y1="1602.5" x2="84.8" y2="1602.5" stroke="#111" stroke-width="2.3"/><line x1="533.1" y1="1773.5" x2="533.1" y2="1780.5" stroke="#111" stroke-width="2.3"/><line x1="73.5" y1="1492.7" x2="84.8" y2="1492.7" stroke="#111" stroke-width="2.3"/><line x1="820.6" y1="1773.5" x2="820.6" y2="1780.5" stroke="#111" stroke-width="2.3"/><line x1="73.5" y1="1382.9" x2="84.8" y2="1382.9" stroke="#111" stroke-width="2.3"/><line x1="1108.1" y1="1773.5" x2="1108.1" y2="1780.5" stroke="#111" stroke-width="2.3"/><text transform="translate(57,1392.6) rotate(-90)" class="s" font-size="20" textLength="9.8" lengthAdjust="spacingAndGlyphs">15</text><text transform="translate(57,1503.5) rotate(-90)" class="s" font-size="20" textLength="10.9" lengthAdjust="spacingAndGlyphs">10</text><text transform="translate(57.6,1572) rotate(-90)" class="s" font-size="29" textLength="11" lengthAdjust="spacingAndGlyphs">5</text><text transform="translate(57,1706.7) rotate(-90)" class="s" font-size="29" textLength="19.7" lengthAdjust="spacingAndGlyphs">0</text><text transform="translate(21.7,1655.6) rotate(-90)" class="s" font-size="26.5" textLength="169.6" lengthAdjust="spacingAndGlyphs">SCNS5d_2</text><text x="236" y="1803.8" class="t" font-size="19" textLength="15.6" lengthAdjust="spacingAndGlyphs">0</text><text x="521.8" y="1803.8" class="t" font-size="19" textLength="16.4" lengthAdjust="spacingAndGlyphs">5</text><text x="802.6" y="1803.8" class="t" font-size="19" textLength="34.8" lengthAdjust="spacingAndGlyphs">10</text><text x="1089.7" y="1803.8" class="t" font-size="19" textLength="34.2" lengthAdjust="spacingAndGlyphs">15</text><text x="561.7" y="1831" class="s" font-size="24" textLength="167" lengthAdjust="spacingAndGlyphs">SCNS5d_1</text><text x="47.5" y="1302.5" class="s" stroke="#111" stroke-width="0.9" font-size="48" textLength="17.5" lengthAdjust="spacingAndGlyphs">c.</text></svg></body></html>
